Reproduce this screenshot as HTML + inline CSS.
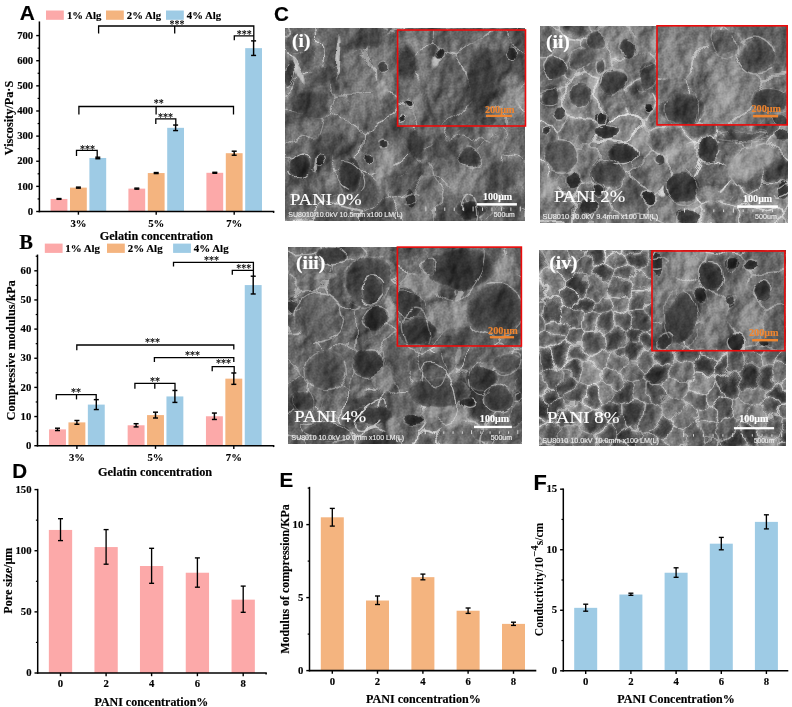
<!DOCTYPE html>
<html lang="en"><head><meta charset="utf-8"><title>Figure</title>
<style>html,body{margin:0;padding:0;background:#fff}svg{display:block}</style></head>
<body>
<svg width="792" height="707" viewBox="0 0 792 707">
<rect width="792" height="707" fill="#fff"/>
<!--DEFS-->
<rect x="50.60" y="198.94" width="16.80" height="12.56" fill="#FCA9A9"/>
<rect x="70.00" y="187.63" width="16.80" height="23.87" fill="#F4B47F"/>
<rect x="89.40" y="157.97" width="16.80" height="53.53" fill="#9ECBE5"/>
<rect x="128.40" y="188.63" width="16.80" height="22.87" fill="#FCA9A9"/>
<rect x="147.80" y="173.05" width="16.80" height="38.45" fill="#F4B47F"/>
<rect x="167.20" y="127.82" width="16.80" height="83.68" fill="#9ECBE5"/>
<rect x="206.40" y="172.80" width="16.80" height="38.70" fill="#FCA9A9"/>
<rect x="225.80" y="153.20" width="16.80" height="58.30" fill="#F4B47F"/>
<rect x="245.20" y="48.15" width="16.80" height="163.35" fill="#9ECBE5"/>
<line x1="59.00" y1="198.56" x2="59.00" y2="199.31" stroke="#000" stroke-width="1.45" stroke-linecap="butt"/>
<line x1="56.50" y1="198.56" x2="61.50" y2="198.56" stroke="#000" stroke-width="1.45" stroke-linecap="butt"/>
<line x1="56.50" y1="199.31" x2="61.50" y2="199.31" stroke="#000" stroke-width="1.45" stroke-linecap="butt"/>
<line x1="78.40" y1="187.12" x2="78.40" y2="188.13" stroke="#000" stroke-width="1.45" stroke-linecap="butt"/>
<line x1="75.90" y1="187.12" x2="80.90" y2="187.12" stroke="#000" stroke-width="1.45" stroke-linecap="butt"/>
<line x1="75.90" y1="188.13" x2="80.90" y2="188.13" stroke="#000" stroke-width="1.45" stroke-linecap="butt"/>
<line x1="97.80" y1="157.22" x2="97.80" y2="158.73" stroke="#000" stroke-width="1.45" stroke-linecap="butt"/>
<line x1="95.30" y1="157.22" x2="100.30" y2="157.22" stroke="#000" stroke-width="1.45" stroke-linecap="butt"/>
<line x1="95.30" y1="158.73" x2="100.30" y2="158.73" stroke="#000" stroke-width="1.45" stroke-linecap="butt"/>
<line x1="136.80" y1="188.13" x2="136.80" y2="189.13" stroke="#000" stroke-width="1.45" stroke-linecap="butt"/>
<line x1="134.30" y1="188.13" x2="139.30" y2="188.13" stroke="#000" stroke-width="1.45" stroke-linecap="butt"/>
<line x1="134.30" y1="189.13" x2="139.30" y2="189.13" stroke="#000" stroke-width="1.45" stroke-linecap="butt"/>
<line x1="156.20" y1="172.55" x2="156.20" y2="173.55" stroke="#000" stroke-width="1.45" stroke-linecap="butt"/>
<line x1="153.70" y1="172.55" x2="158.70" y2="172.55" stroke="#000" stroke-width="1.45" stroke-linecap="butt"/>
<line x1="153.70" y1="173.55" x2="158.70" y2="173.55" stroke="#000" stroke-width="1.45" stroke-linecap="butt"/>
<line x1="175.60" y1="125.05" x2="175.60" y2="130.58" stroke="#000" stroke-width="1.45" stroke-linecap="butt"/>
<line x1="173.10" y1="125.05" x2="178.10" y2="125.05" stroke="#000" stroke-width="1.45" stroke-linecap="butt"/>
<line x1="173.10" y1="130.58" x2="178.10" y2="130.58" stroke="#000" stroke-width="1.45" stroke-linecap="butt"/>
<line x1="214.80" y1="172.30" x2="214.80" y2="173.30" stroke="#000" stroke-width="1.45" stroke-linecap="butt"/>
<line x1="212.30" y1="172.30" x2="217.30" y2="172.30" stroke="#000" stroke-width="1.45" stroke-linecap="butt"/>
<line x1="212.30" y1="173.30" x2="217.30" y2="173.30" stroke="#000" stroke-width="1.45" stroke-linecap="butt"/>
<line x1="234.20" y1="151.19" x2="234.20" y2="155.21" stroke="#000" stroke-width="1.45" stroke-linecap="butt"/>
<line x1="231.70" y1="151.19" x2="236.70" y2="151.19" stroke="#000" stroke-width="1.45" stroke-linecap="butt"/>
<line x1="231.70" y1="155.21" x2="236.70" y2="155.21" stroke="#000" stroke-width="1.45" stroke-linecap="butt"/>
<line x1="253.60" y1="40.87" x2="253.60" y2="55.44" stroke="#000" stroke-width="1.45" stroke-linecap="butt"/>
<line x1="251.10" y1="40.87" x2="256.10" y2="40.87" stroke="#000" stroke-width="1.45" stroke-linecap="butt"/>
<line x1="251.10" y1="55.44" x2="256.10" y2="55.44" stroke="#000" stroke-width="1.45" stroke-linecap="butt"/>
<line x1="39.40" y1="21.45" x2="39.40" y2="212.25" stroke="#000" stroke-width="1.5" stroke-linecap="butt"/>
<line x1="38.65" y1="211.50" x2="274.30" y2="211.50" stroke="#000" stroke-width="1.6" stroke-linecap="butt"/>
<line x1="36.20" y1="211.50" x2="39.40" y2="211.50" stroke="#000" stroke-width="1.4" stroke-linecap="butt"/>
<text x="33.199999999999996" y="214.7" font-family='"Liberation Serif","DejaVu Serif",serif' font-size="10.7" font-weight="bold" text-anchor="end" fill="#000" stroke="#000" stroke-width="0.15">0</text>
<line x1="36.20" y1="186.37" x2="39.40" y2="186.37" stroke="#000" stroke-width="1.4" stroke-linecap="butt"/>
<text x="33.199999999999996" y="189.57" font-family='"Liberation Serif","DejaVu Serif",serif' font-size="10.7" font-weight="bold" text-anchor="end" fill="#000" stroke="#000" stroke-width="0.15">100</text>
<line x1="36.20" y1="161.24" x2="39.40" y2="161.24" stroke="#000" stroke-width="1.4" stroke-linecap="butt"/>
<text x="33.199999999999996" y="164.44" font-family='"Liberation Serif","DejaVu Serif",serif' font-size="10.7" font-weight="bold" text-anchor="end" fill="#000" stroke="#000" stroke-width="0.15">200</text>
<line x1="36.20" y1="136.11" x2="39.40" y2="136.11" stroke="#000" stroke-width="1.4" stroke-linecap="butt"/>
<text x="33.199999999999996" y="139.31" font-family='"Liberation Serif","DejaVu Serif",serif' font-size="10.7" font-weight="bold" text-anchor="end" fill="#000" stroke="#000" stroke-width="0.15">300</text>
<line x1="36.20" y1="110.98" x2="39.40" y2="110.98" stroke="#000" stroke-width="1.4" stroke-linecap="butt"/>
<text x="33.199999999999996" y="114.17999999999999" font-family='"Liberation Serif","DejaVu Serif",serif' font-size="10.7" font-weight="bold" text-anchor="end" fill="#000" stroke="#000" stroke-width="0.15">400</text>
<line x1="36.20" y1="85.85" x2="39.40" y2="85.85" stroke="#000" stroke-width="1.4" stroke-linecap="butt"/>
<text x="33.199999999999996" y="89.05" font-family='"Liberation Serif","DejaVu Serif",serif' font-size="10.7" font-weight="bold" text-anchor="end" fill="#000" stroke="#000" stroke-width="0.15">500</text>
<line x1="36.20" y1="60.72" x2="39.40" y2="60.72" stroke="#000" stroke-width="1.4" stroke-linecap="butt"/>
<text x="33.199999999999996" y="63.92" font-family='"Liberation Serif","DejaVu Serif",serif' font-size="10.7" font-weight="bold" text-anchor="end" fill="#000" stroke="#000" stroke-width="0.15">600</text>
<line x1="36.20" y1="35.59" x2="39.40" y2="35.59" stroke="#000" stroke-width="1.4" stroke-linecap="butt"/>
<text x="33.199999999999996" y="38.78999999999998" font-family='"Liberation Serif","DejaVu Serif",serif' font-size="10.7" font-weight="bold" text-anchor="end" fill="#000" stroke="#000" stroke-width="0.15">700</text>
<line x1="37.60" y1="198.94" x2="39.40" y2="198.94" stroke="#000" stroke-width="1.2" stroke-linecap="butt"/>
<line x1="37.60" y1="173.81" x2="39.40" y2="173.81" stroke="#000" stroke-width="1.2" stroke-linecap="butt"/>
<line x1="37.60" y1="148.68" x2="39.40" y2="148.68" stroke="#000" stroke-width="1.2" stroke-linecap="butt"/>
<line x1="37.60" y1="123.54" x2="39.40" y2="123.54" stroke="#000" stroke-width="1.2" stroke-linecap="butt"/>
<line x1="37.60" y1="98.41" x2="39.40" y2="98.41" stroke="#000" stroke-width="1.2" stroke-linecap="butt"/>
<line x1="37.60" y1="73.28" x2="39.40" y2="73.28" stroke="#000" stroke-width="1.2" stroke-linecap="butt"/>
<line x1="37.60" y1="48.15" x2="39.40" y2="48.15" stroke="#000" stroke-width="1.2" stroke-linecap="butt"/>
<line x1="78.40" y1="211.50" x2="78.40" y2="214.70" stroke="#000" stroke-width="1.4" stroke-linecap="butt"/>
<text x="78.4" y="226.5" font-family='"Liberation Serif","DejaVu Serif",serif' font-size="10.7" font-weight="bold" text-anchor="middle" fill="#000" stroke="#000" stroke-width="0.15">3%</text>
<line x1="156.20" y1="211.50" x2="156.20" y2="214.70" stroke="#000" stroke-width="1.4" stroke-linecap="butt"/>
<text x="156.2" y="226.5" font-family='"Liberation Serif","DejaVu Serif",serif' font-size="10.7" font-weight="bold" text-anchor="middle" fill="#000" stroke="#000" stroke-width="0.15">5%</text>
<line x1="234.20" y1="211.50" x2="234.20" y2="214.70" stroke="#000" stroke-width="1.4" stroke-linecap="butt"/>
<text x="234.2" y="226.5" font-family='"Liberation Serif","DejaVu Serif",serif' font-size="10.7" font-weight="bold" text-anchor="middle" fill="#000" stroke="#000" stroke-width="0.15">7%</text>
<line x1="273.60" y1="211.50" x2="273.60" y2="212.90" stroke="#000" stroke-width="1.4" stroke-linecap="butt"/>
<text x="19.8" y="19.8" font-family='"Liberation Sans","DejaVu Sans",sans-serif' font-size="20.9" font-weight="bold" text-anchor="start" fill="#000" stroke="#000" stroke-width="0.15">A</text>
<rect x="46.00" y="10.50" width="17.80" height="9.30" fill="#FCA9A9"/>
<text x="67.0" y="19.0" font-family='"Liberation Serif","DejaVu Serif",serif' font-size="10.7" font-weight="bold" text-anchor="start" fill="#000" stroke="#000" stroke-width="0.15" textLength="34.3" lengthAdjust="spacingAndGlyphs">1% Alg</text>
<rect x="106.00" y="10.50" width="17.80" height="9.30" fill="#F4B47F"/>
<text x="126.8" y="19.0" font-family='"Liberation Serif","DejaVu Serif",serif' font-size="10.7" font-weight="bold" text-anchor="start" fill="#000" stroke="#000" stroke-width="0.15" textLength="34.3" lengthAdjust="spacingAndGlyphs">2% Alg</text>
<rect x="166.00" y="10.50" width="17.80" height="9.30" fill="#9ECBE5"/>
<text x="186.8" y="19.0" font-family='"Liberation Serif","DejaVu Serif",serif' font-size="10.7" font-weight="bold" text-anchor="start" fill="#000" stroke="#000" stroke-width="0.15" textLength="34.3" lengthAdjust="spacingAndGlyphs">4% Alg</text>
<text x="12.799999999999999" y="118.0" font-family='"Liberation Serif","DejaVu Serif",serif' font-size="11.6" font-weight="bold" text-anchor="middle" fill="#000" stroke="#000" stroke-width="0.15" transform="rotate(-90 12.799999999999999 118.0)" textLength="74.5" lengthAdjust="spacingAndGlyphs">Viscosity/Pa·S</text>
<text x="156.4" y="240.4" font-family='"Liberation Serif","DejaVu Serif",serif' font-size="11.6" font-weight="bold" text-anchor="middle" fill="#000" stroke="#000" stroke-width="0.15" textLength="113.5" lengthAdjust="spacingAndGlyphs">Gelatin concentration</text>
<path d="M98.6,33.5 V26.0 H253.8 V40.6" stroke="#000" stroke-width="1.3" fill="none" stroke-linejoin="miter"/>
<line x1="174.70" y1="26.00" x2="174.70" y2="33.50" stroke="#000" stroke-width="1.3" stroke-linecap="butt"/>
<text x="176.9" y="28.0" font-family='"Liberation Serif","DejaVu Serif",serif' font-size="12.4" font-weight="normal" text-anchor="middle" fill="#000" stroke="#000" stroke-width="0.12" textLength="15.0" lengthAdjust="spacingAndGlyphs">***</text>
<path d="M234.3,40.2 V35.9 H253.8" stroke="#000" stroke-width="1.3" fill="none" stroke-linejoin="miter"/>
<text x="244.2" y="37.5" font-family='"Liberation Serif","DejaVu Serif",serif' font-size="12.4" font-weight="normal" text-anchor="middle" fill="#000" stroke="#000" stroke-width="0.12" textLength="15.0" lengthAdjust="spacingAndGlyphs">***</text>
<path d="M78.9,114.6 V106.5 H233.5 V114.6" stroke="#000" stroke-width="1.3" fill="none" stroke-linejoin="miter"/>
<line x1="156.10" y1="106.50" x2="156.10" y2="114.60" stroke="#000" stroke-width="1.3" stroke-linecap="butt"/>
<text x="158.7" y="107.0" font-family='"Liberation Serif","DejaVu Serif",serif' font-size="12.4" font-weight="normal" text-anchor="middle" fill="#000" stroke="#000" stroke-width="0.12" textLength="10.0" lengthAdjust="spacingAndGlyphs">**</text>
<path d="M155.8,124.0 V118.9 H175.8 V125.4" stroke="#000" stroke-width="1.3" fill="none" stroke-linejoin="miter"/>
<text x="165.6" y="121.1" font-family='"Liberation Serif","DejaVu Serif",serif' font-size="12.4" font-weight="normal" text-anchor="middle" fill="#000" stroke="#000" stroke-width="0.12" textLength="15.0" lengthAdjust="spacingAndGlyphs">***</text>
<path d="M76.5,156.0 V150.3 H97.2 V157.0" stroke="#000" stroke-width="1.3" fill="none" stroke-linejoin="miter"/>
<text x="87.5" y="152.6" font-family='"Liberation Serif","DejaVu Serif",serif' font-size="12.4" font-weight="normal" text-anchor="middle" fill="#000" stroke="#000" stroke-width="0.12" textLength="15.0" lengthAdjust="spacingAndGlyphs">***</text>
<rect x="49.05" y="429.38" width="16.90" height="16.32" fill="#FCA9A9"/>
<rect x="68.45" y="422.38" width="16.90" height="23.32" fill="#F4B47F"/>
<rect x="87.85" y="404.60" width="16.90" height="41.10" fill="#9ECBE5"/>
<rect x="127.65" y="425.29" width="16.90" height="20.41" fill="#FCA9A9"/>
<rect x="147.05" y="415.09" width="16.90" height="30.61" fill="#F4B47F"/>
<rect x="166.45" y="396.44" width="16.90" height="49.26" fill="#9ECBE5"/>
<rect x="205.95" y="416.26" width="16.90" height="29.44" fill="#FCA9A9"/>
<rect x="225.35" y="378.65" width="16.90" height="67.05" fill="#F4B47F"/>
<rect x="244.75" y="285.08" width="16.90" height="160.62" fill="#9ECBE5"/>
<line x1="57.50" y1="428.21" x2="57.50" y2="430.54" stroke="#000" stroke-width="1.45" stroke-linecap="butt"/>
<line x1="55.00" y1="428.21" x2="60.00" y2="428.21" stroke="#000" stroke-width="1.45" stroke-linecap="butt"/>
<line x1="55.00" y1="430.54" x2="60.00" y2="430.54" stroke="#000" stroke-width="1.45" stroke-linecap="butt"/>
<line x1="76.90" y1="420.49" x2="76.90" y2="424.27" stroke="#000" stroke-width="1.45" stroke-linecap="butt"/>
<line x1="74.40" y1="420.49" x2="79.40" y2="420.49" stroke="#000" stroke-width="1.45" stroke-linecap="butt"/>
<line x1="74.40" y1="424.27" x2="79.40" y2="424.27" stroke="#000" stroke-width="1.45" stroke-linecap="butt"/>
<line x1="96.30" y1="399.64" x2="96.30" y2="409.55" stroke="#000" stroke-width="1.45" stroke-linecap="butt"/>
<line x1="93.80" y1="399.64" x2="98.80" y2="399.64" stroke="#000" stroke-width="1.45" stroke-linecap="butt"/>
<line x1="93.80" y1="409.55" x2="98.80" y2="409.55" stroke="#000" stroke-width="1.45" stroke-linecap="butt"/>
<line x1="136.10" y1="423.69" x2="136.10" y2="426.90" stroke="#000" stroke-width="1.45" stroke-linecap="butt"/>
<line x1="133.60" y1="423.69" x2="138.60" y2="423.69" stroke="#000" stroke-width="1.45" stroke-linecap="butt"/>
<line x1="133.60" y1="426.90" x2="138.60" y2="426.90" stroke="#000" stroke-width="1.45" stroke-linecap="butt"/>
<line x1="155.50" y1="412.18" x2="155.50" y2="418.01" stroke="#000" stroke-width="1.45" stroke-linecap="butt"/>
<line x1="153.00" y1="412.18" x2="158.00" y2="412.18" stroke="#000" stroke-width="1.45" stroke-linecap="butt"/>
<line x1="153.00" y1="418.01" x2="158.00" y2="418.01" stroke="#000" stroke-width="1.45" stroke-linecap="butt"/>
<line x1="174.90" y1="390.46" x2="174.90" y2="402.41" stroke="#000" stroke-width="1.45" stroke-linecap="butt"/>
<line x1="172.40" y1="390.46" x2="177.40" y2="390.46" stroke="#000" stroke-width="1.45" stroke-linecap="butt"/>
<line x1="172.40" y1="402.41" x2="177.40" y2="402.41" stroke="#000" stroke-width="1.45" stroke-linecap="butt"/>
<line x1="214.40" y1="413.05" x2="214.40" y2="419.46" stroke="#000" stroke-width="1.45" stroke-linecap="butt"/>
<line x1="211.90" y1="413.05" x2="216.90" y2="413.05" stroke="#000" stroke-width="1.45" stroke-linecap="butt"/>
<line x1="211.90" y1="419.46" x2="216.90" y2="419.46" stroke="#000" stroke-width="1.45" stroke-linecap="butt"/>
<line x1="233.80" y1="372.97" x2="233.80" y2="384.34" stroke="#000" stroke-width="1.45" stroke-linecap="butt"/>
<line x1="231.30" y1="372.97" x2="236.30" y2="372.97" stroke="#000" stroke-width="1.45" stroke-linecap="butt"/>
<line x1="231.30" y1="384.34" x2="236.30" y2="384.34" stroke="#000" stroke-width="1.45" stroke-linecap="butt"/>
<line x1="253.20" y1="276.19" x2="253.20" y2="293.97" stroke="#000" stroke-width="1.45" stroke-linecap="butt"/>
<line x1="250.70" y1="276.19" x2="255.70" y2="276.19" stroke="#000" stroke-width="1.45" stroke-linecap="butt"/>
<line x1="250.70" y1="293.97" x2="255.70" y2="293.97" stroke="#000" stroke-width="1.45" stroke-linecap="butt"/>
<line x1="37.50" y1="254.55" x2="37.50" y2="446.45" stroke="#000" stroke-width="1.5" stroke-linecap="butt"/>
<line x1="36.75" y1="445.70" x2="274.30" y2="445.70" stroke="#000" stroke-width="1.6" stroke-linecap="butt"/>
<line x1="34.30" y1="445.70" x2="37.50" y2="445.70" stroke="#000" stroke-width="1.4" stroke-linecap="butt"/>
<text x="31.3" y="448.9" font-family='"Liberation Serif","DejaVu Serif",serif' font-size="10.7" font-weight="bold" text-anchor="end" fill="#000" stroke="#000" stroke-width="0.15">0</text>
<line x1="34.30" y1="416.55" x2="37.50" y2="416.55" stroke="#000" stroke-width="1.4" stroke-linecap="butt"/>
<text x="31.3" y="419.75" font-family='"Liberation Serif","DejaVu Serif",serif' font-size="10.7" font-weight="bold" text-anchor="end" fill="#000" stroke="#000" stroke-width="0.15">10</text>
<line x1="34.30" y1="387.40" x2="37.50" y2="387.40" stroke="#000" stroke-width="1.4" stroke-linecap="butt"/>
<text x="31.3" y="390.59999999999997" font-family='"Liberation Serif","DejaVu Serif",serif' font-size="10.7" font-weight="bold" text-anchor="end" fill="#000" stroke="#000" stroke-width="0.15">20</text>
<line x1="34.30" y1="358.25" x2="37.50" y2="358.25" stroke="#000" stroke-width="1.4" stroke-linecap="butt"/>
<text x="31.3" y="361.45" font-family='"Liberation Serif","DejaVu Serif",serif' font-size="10.7" font-weight="bold" text-anchor="end" fill="#000" stroke="#000" stroke-width="0.15">30</text>
<line x1="34.30" y1="329.10" x2="37.50" y2="329.10" stroke="#000" stroke-width="1.4" stroke-linecap="butt"/>
<text x="31.3" y="332.3" font-family='"Liberation Serif","DejaVu Serif",serif' font-size="10.7" font-weight="bold" text-anchor="end" fill="#000" stroke="#000" stroke-width="0.15">40</text>
<line x1="34.30" y1="299.95" x2="37.50" y2="299.95" stroke="#000" stroke-width="1.4" stroke-linecap="butt"/>
<text x="31.3" y="303.15" font-family='"Liberation Serif","DejaVu Serif",serif' font-size="10.7" font-weight="bold" text-anchor="end" fill="#000" stroke="#000" stroke-width="0.15">50</text>
<line x1="34.30" y1="270.80" x2="37.50" y2="270.80" stroke="#000" stroke-width="1.4" stroke-linecap="butt"/>
<text x="31.3" y="273.99999999999994" font-family='"Liberation Serif","DejaVu Serif",serif' font-size="10.7" font-weight="bold" text-anchor="end" fill="#000" stroke="#000" stroke-width="0.15">60</text>
<line x1="35.70" y1="431.12" x2="37.50" y2="431.12" stroke="#000" stroke-width="1.2" stroke-linecap="butt"/>
<line x1="35.70" y1="401.97" x2="37.50" y2="401.97" stroke="#000" stroke-width="1.2" stroke-linecap="butt"/>
<line x1="35.70" y1="372.82" x2="37.50" y2="372.82" stroke="#000" stroke-width="1.2" stroke-linecap="butt"/>
<line x1="35.70" y1="343.67" x2="37.50" y2="343.67" stroke="#000" stroke-width="1.2" stroke-linecap="butt"/>
<line x1="35.70" y1="314.52" x2="37.50" y2="314.52" stroke="#000" stroke-width="1.2" stroke-linecap="butt"/>
<line x1="35.70" y1="285.38" x2="37.50" y2="285.38" stroke="#000" stroke-width="1.2" stroke-linecap="butt"/>
<line x1="35.70" y1="256.23" x2="37.50" y2="256.23" stroke="#000" stroke-width="1.2" stroke-linecap="butt"/>
<line x1="76.90" y1="445.70" x2="76.90" y2="448.90" stroke="#000" stroke-width="1.4" stroke-linecap="butt"/>
<text x="76.9" y="460.5" font-family='"Liberation Serif","DejaVu Serif",serif' font-size="10.7" font-weight="bold" text-anchor="middle" fill="#000" stroke="#000" stroke-width="0.15">3%</text>
<line x1="155.50" y1="445.70" x2="155.50" y2="448.90" stroke="#000" stroke-width="1.4" stroke-linecap="butt"/>
<text x="155.5" y="460.5" font-family='"Liberation Serif","DejaVu Serif",serif' font-size="10.7" font-weight="bold" text-anchor="middle" fill="#000" stroke="#000" stroke-width="0.15">5%</text>
<line x1="233.80" y1="445.70" x2="233.80" y2="448.90" stroke="#000" stroke-width="1.4" stroke-linecap="butt"/>
<text x="233.8" y="460.5" font-family='"Liberation Serif","DejaVu Serif",serif' font-size="10.7" font-weight="bold" text-anchor="middle" fill="#000" stroke="#000" stroke-width="0.15">7%</text>
<line x1="273.60" y1="445.70" x2="273.60" y2="447.10" stroke="#000" stroke-width="1.4" stroke-linecap="butt"/>
<text x="19.2" y="249.3" font-family='"Liberation Serif","DejaVu Serif",serif' font-size="20.5" font-weight="bold" text-anchor="start" fill="#000" stroke="#000" stroke-width="0.15">B</text>
<rect x="44.80" y="243.60" width="17.80" height="9.30" fill="#FCA9A9"/>
<text x="65.2" y="251.8" font-family='"Liberation Serif","DejaVu Serif",serif' font-size="10.7" font-weight="bold" text-anchor="start" fill="#000" stroke="#000" stroke-width="0.15" textLength="34.8" lengthAdjust="spacingAndGlyphs">1% Alg</text>
<rect x="107.00" y="243.60" width="17.80" height="9.30" fill="#F4B47F"/>
<text x="127.8" y="251.8" font-family='"Liberation Serif","DejaVu Serif",serif' font-size="10.7" font-weight="bold" text-anchor="start" fill="#000" stroke="#000" stroke-width="0.15" textLength="34.8" lengthAdjust="spacingAndGlyphs">2% Alg</text>
<rect x="173.10" y="243.60" width="17.80" height="9.30" fill="#9ECBE5"/>
<text x="193.8" y="251.8" font-family='"Liberation Serif","DejaVu Serif",serif' font-size="10.7" font-weight="bold" text-anchor="start" fill="#000" stroke="#000" stroke-width="0.15" textLength="34.8" lengthAdjust="spacingAndGlyphs">4% Alg</text>
<text x="14.7" y="350.4" font-family='"Liberation Serif","DejaVu Serif",serif' font-size="11.6" font-weight="bold" text-anchor="middle" fill="#000" stroke="#000" stroke-width="0.15" transform="rotate(-90 14.7 350.4)" textLength="140" lengthAdjust="spacingAndGlyphs">Compressive modulus/kPa</text>
<text x="155.1" y="476.1" font-family='"Liberation Serif","DejaVu Serif",serif' font-size="11.6" font-weight="bold" text-anchor="middle" fill="#000" stroke="#000" stroke-width="0.15" textLength="114.2" lengthAdjust="spacingAndGlyphs">Gelatin concentration</text>
<path d="M173.5,266.4 V262.3 H253.4 V276.0" stroke="#000" stroke-width="1.3" fill="none" stroke-linejoin="miter"/>
<text x="211.6" y="263.8" font-family='"Liberation Serif","DejaVu Serif",serif' font-size="12.4" font-weight="normal" text-anchor="middle" fill="#000" stroke="#000" stroke-width="0.12" textLength="15.0" lengthAdjust="spacingAndGlyphs">***</text>
<path d="M232.3,274.8 V270.4 H253.4" stroke="#000" stroke-width="1.3" fill="none" stroke-linejoin="miter"/>
<text x="243.8" y="271.7" font-family='"Liberation Serif","DejaVu Serif",serif' font-size="12.4" font-weight="normal" text-anchor="middle" fill="#000" stroke="#000" stroke-width="0.12" textLength="15.0" lengthAdjust="spacingAndGlyphs">***</text>
<path d="M76.8,350.3 V345.0 H233.8 V349.6" stroke="#000" stroke-width="1.3" fill="none" stroke-linejoin="miter"/>
<text x="152.4" y="346.0" font-family='"Liberation Serif","DejaVu Serif",serif' font-size="12.4" font-weight="normal" text-anchor="middle" fill="#000" stroke="#000" stroke-width="0.12" textLength="15.0" lengthAdjust="spacingAndGlyphs">***</text>
<path d="M154.4,362.0 V357.7 H233.8 V362.0" stroke="#000" stroke-width="1.3" fill="none" stroke-linejoin="miter"/>
<text x="192.5" y="359.1" font-family='"Liberation Serif","DejaVu Serif",serif' font-size="12.4" font-weight="normal" text-anchor="middle" fill="#000" stroke="#000" stroke-width="0.12" textLength="15.0" lengthAdjust="spacingAndGlyphs">***</text>
<path d="M212.2,371.3 V366.6 H234.2 V372.8" stroke="#000" stroke-width="1.3" fill="none" stroke-linejoin="miter"/>
<text x="223.6" y="367.3" font-family='"Liberation Serif","DejaVu Serif",serif' font-size="12.4" font-weight="normal" text-anchor="middle" fill="#000" stroke="#000" stroke-width="0.12" textLength="15.0" lengthAdjust="spacingAndGlyphs">***</text>
<path d="M134.9,388.7 V383.3 H175.0 V390.2" stroke="#000" stroke-width="1.3" fill="none" stroke-linejoin="miter"/>
<line x1="154.80" y1="383.30" x2="154.80" y2="388.70" stroke="#000" stroke-width="1.3" stroke-linecap="butt"/>
<text x="155.0" y="384.6" font-family='"Liberation Serif","DejaVu Serif",serif' font-size="12.4" font-weight="normal" text-anchor="middle" fill="#000" stroke="#000" stroke-width="0.12" textLength="10.0" lengthAdjust="spacingAndGlyphs">**</text>
<path d="M56.3,399.4 V394.7 H96.2 V399.6" stroke="#000" stroke-width="1.3" fill="none" stroke-linejoin="miter"/>
<line x1="76.50" y1="394.70" x2="76.50" y2="399.40" stroke="#000" stroke-width="1.3" stroke-linecap="butt"/>
<text x="76.1" y="395.7" font-family='"Liberation Serif","DejaVu Serif",serif' font-size="12.4" font-weight="normal" text-anchor="middle" fill="#000" stroke="#000" stroke-width="0.12" textLength="10.0" lengthAdjust="spacingAndGlyphs">**</text>
<rect x="48.85" y="529.94" width="23.30" height="143.06" fill="#FCA9A9"/>
<rect x="94.45" y="547.06" width="23.30" height="125.94" fill="#FCA9A9"/>
<rect x="139.95" y="566.01" width="23.30" height="106.99" fill="#FCA9A9"/>
<rect x="185.75" y="572.74" width="23.30" height="100.26" fill="#FCA9A9"/>
<rect x="231.55" y="599.64" width="23.30" height="73.36" fill="#FCA9A9"/>
<line x1="60.50" y1="518.70" x2="60.50" y2="540.60" stroke="#000" stroke-width="1.35" stroke-linecap="butt"/>
<line x1="58.00" y1="518.70" x2="63.00" y2="518.70" stroke="#000" stroke-width="1.35" stroke-linecap="butt"/>
<line x1="58.00" y1="540.60" x2="63.00" y2="540.60" stroke="#000" stroke-width="1.35" stroke-linecap="butt"/>
<line x1="106.10" y1="529.60" x2="106.10" y2="564.20" stroke="#000" stroke-width="1.35" stroke-linecap="butt"/>
<line x1="103.60" y1="529.60" x2="108.60" y2="529.60" stroke="#000" stroke-width="1.35" stroke-linecap="butt"/>
<line x1="103.60" y1="564.20" x2="108.60" y2="564.20" stroke="#000" stroke-width="1.35" stroke-linecap="butt"/>
<line x1="151.60" y1="548.30" x2="151.60" y2="583.30" stroke="#000" stroke-width="1.35" stroke-linecap="butt"/>
<line x1="149.10" y1="548.30" x2="154.10" y2="548.30" stroke="#000" stroke-width="1.35" stroke-linecap="butt"/>
<line x1="149.10" y1="583.30" x2="154.10" y2="583.30" stroke="#000" stroke-width="1.35" stroke-linecap="butt"/>
<line x1="197.40" y1="557.90" x2="197.40" y2="587.20" stroke="#000" stroke-width="1.35" stroke-linecap="butt"/>
<line x1="194.90" y1="557.90" x2="199.90" y2="557.90" stroke="#000" stroke-width="1.35" stroke-linecap="butt"/>
<line x1="194.90" y1="587.20" x2="199.90" y2="587.20" stroke="#000" stroke-width="1.35" stroke-linecap="butt"/>
<line x1="243.20" y1="586.10" x2="243.20" y2="612.30" stroke="#000" stroke-width="1.35" stroke-linecap="butt"/>
<line x1="240.70" y1="586.10" x2="245.70" y2="586.10" stroke="#000" stroke-width="1.35" stroke-linecap="butt"/>
<line x1="240.70" y1="612.30" x2="245.70" y2="612.30" stroke="#000" stroke-width="1.35" stroke-linecap="butt"/>
<line x1="37.70" y1="488.85" x2="37.70" y2="673.75" stroke="#000" stroke-width="1.5" stroke-linecap="butt"/>
<line x1="36.95" y1="673.00" x2="266.80" y2="673.00" stroke="#000" stroke-width="1.6" stroke-linecap="butt"/>
<line x1="34.50" y1="673.00" x2="37.70" y2="673.00" stroke="#000" stroke-width="1.4" stroke-linecap="butt"/>
<text x="31.500000000000004" y="676.2" font-family='"Liberation Serif","DejaVu Serif",serif' font-size="10.7" font-weight="bold" text-anchor="end" fill="#000" stroke="#000" stroke-width="0.15">0</text>
<line x1="34.50" y1="611.87" x2="37.70" y2="611.87" stroke="#000" stroke-width="1.4" stroke-linecap="butt"/>
<text x="31.500000000000004" y="615.065" font-family='"Liberation Serif","DejaVu Serif",serif' font-size="10.7" font-weight="bold" text-anchor="end" fill="#000" stroke="#000" stroke-width="0.15">50</text>
<line x1="34.50" y1="550.73" x2="37.70" y2="550.73" stroke="#000" stroke-width="1.4" stroke-linecap="butt"/>
<text x="31.500000000000004" y="553.9300000000001" font-family='"Liberation Serif","DejaVu Serif",serif' font-size="10.7" font-weight="bold" text-anchor="end" fill="#000" stroke="#000" stroke-width="0.15">100</text>
<line x1="34.50" y1="489.60" x2="37.70" y2="489.60" stroke="#000" stroke-width="1.4" stroke-linecap="butt"/>
<text x="31.500000000000004" y="492.795" font-family='"Liberation Serif","DejaVu Serif",serif' font-size="10.7" font-weight="bold" text-anchor="end" fill="#000" stroke="#000" stroke-width="0.15">150</text>
<line x1="35.90" y1="642.43" x2="37.70" y2="642.43" stroke="#000" stroke-width="1.2" stroke-linecap="butt"/>
<line x1="35.90" y1="581.30" x2="37.70" y2="581.30" stroke="#000" stroke-width="1.2" stroke-linecap="butt"/>
<line x1="35.90" y1="520.16" x2="37.70" y2="520.16" stroke="#000" stroke-width="1.2" stroke-linecap="butt"/>
<line x1="60.50" y1="673.00" x2="60.50" y2="676.20" stroke="#000" stroke-width="1.4" stroke-linecap="butt"/>
<text x="60.5" y="686.9" font-family='"Liberation Serif","DejaVu Serif",serif' font-size="10.7" font-weight="bold" text-anchor="middle" fill="#000" stroke="#000" stroke-width="0.15">0</text>
<line x1="106.10" y1="673.00" x2="106.10" y2="676.20" stroke="#000" stroke-width="1.4" stroke-linecap="butt"/>
<text x="106.1" y="686.9" font-family='"Liberation Serif","DejaVu Serif",serif' font-size="10.7" font-weight="bold" text-anchor="middle" fill="#000" stroke="#000" stroke-width="0.15">2</text>
<line x1="151.60" y1="673.00" x2="151.60" y2="676.20" stroke="#000" stroke-width="1.4" stroke-linecap="butt"/>
<text x="151.6" y="686.9" font-family='"Liberation Serif","DejaVu Serif",serif' font-size="10.7" font-weight="bold" text-anchor="middle" fill="#000" stroke="#000" stroke-width="0.15">4</text>
<line x1="197.40" y1="673.00" x2="197.40" y2="676.20" stroke="#000" stroke-width="1.4" stroke-linecap="butt"/>
<text x="197.4" y="686.9" font-family='"Liberation Serif","DejaVu Serif",serif' font-size="10.7" font-weight="bold" text-anchor="middle" fill="#000" stroke="#000" stroke-width="0.15">6</text>
<line x1="243.20" y1="673.00" x2="243.20" y2="676.20" stroke="#000" stroke-width="1.4" stroke-linecap="butt"/>
<text x="243.2" y="686.9" font-family='"Liberation Serif","DejaVu Serif",serif' font-size="10.7" font-weight="bold" text-anchor="middle" fill="#000" stroke="#000" stroke-width="0.15">8</text>
<line x1="266.10" y1="673.00" x2="266.10" y2="674.40" stroke="#000" stroke-width="1.4" stroke-linecap="butt"/>
<text x="12.2" y="478.3" font-family='"Liberation Sans","DejaVu Sans",sans-serif' font-size="20.6" font-weight="bold" text-anchor="start" fill="#000" stroke="#000" stroke-width="0.15">D</text>
<text x="151.4" y="705.8" font-family='"Liberation Serif","DejaVu Serif",serif' font-size="11.6" font-weight="bold" text-anchor="middle" fill="#000" stroke="#000" stroke-width="0.15" textLength="113.8" lengthAdjust="spacingAndGlyphs">PANI concentration%</text>
<text x="11.8" y="580.7" font-family='"Liberation Serif","DejaVu Serif",serif' font-size="11.6" font-weight="bold" text-anchor="middle" fill="#000" stroke="#000" stroke-width="0.15" transform="rotate(-90 11.8 580.7)" textLength="66" lengthAdjust="spacingAndGlyphs">Pore size/μm</text>
<rect x="320.80" y="517.30" width="23.00" height="153.30" fill="#F4B47F"/>
<rect x="366.00" y="600.52" width="23.00" height="70.08" fill="#F4B47F"/>
<rect x="411.40" y="577.16" width="23.00" height="93.44" fill="#F4B47F"/>
<rect x="456.60" y="610.74" width="23.00" height="59.86" fill="#F4B47F"/>
<rect x="502.00" y="623.88" width="23.00" height="46.72" fill="#F4B47F"/>
<line x1="332.30" y1="508.40" x2="332.30" y2="526.10" stroke="#000" stroke-width="1.35" stroke-linecap="butt"/>
<line x1="329.80" y1="508.40" x2="334.80" y2="508.40" stroke="#000" stroke-width="1.35" stroke-linecap="butt"/>
<line x1="329.80" y1="526.10" x2="334.80" y2="526.10" stroke="#000" stroke-width="1.35" stroke-linecap="butt"/>
<line x1="377.50" y1="596.00" x2="377.50" y2="604.50" stroke="#000" stroke-width="1.35" stroke-linecap="butt"/>
<line x1="375.00" y1="596.00" x2="380.00" y2="596.00" stroke="#000" stroke-width="1.35" stroke-linecap="butt"/>
<line x1="375.00" y1="604.50" x2="380.00" y2="604.50" stroke="#000" stroke-width="1.35" stroke-linecap="butt"/>
<line x1="422.90" y1="574.10" x2="422.90" y2="579.80" stroke="#000" stroke-width="1.35" stroke-linecap="butt"/>
<line x1="420.40" y1="574.10" x2="425.40" y2="574.10" stroke="#000" stroke-width="1.35" stroke-linecap="butt"/>
<line x1="420.40" y1="579.80" x2="425.40" y2="579.80" stroke="#000" stroke-width="1.35" stroke-linecap="butt"/>
<line x1="468.10" y1="608.00" x2="468.10" y2="613.40" stroke="#000" stroke-width="1.35" stroke-linecap="butt"/>
<line x1="465.60" y1="608.00" x2="470.60" y2="608.00" stroke="#000" stroke-width="1.35" stroke-linecap="butt"/>
<line x1="465.60" y1="613.40" x2="470.60" y2="613.40" stroke="#000" stroke-width="1.35" stroke-linecap="butt"/>
<line x1="513.50" y1="622.20" x2="513.50" y2="625.40" stroke="#000" stroke-width="1.35" stroke-linecap="butt"/>
<line x1="511.00" y1="622.20" x2="516.00" y2="622.20" stroke="#000" stroke-width="1.35" stroke-linecap="butt"/>
<line x1="511.00" y1="625.40" x2="516.00" y2="625.40" stroke="#000" stroke-width="1.35" stroke-linecap="butt"/>
<line x1="309.50" y1="486.85" x2="309.50" y2="671.35" stroke="#000" stroke-width="1.5" stroke-linecap="butt"/>
<line x1="308.75" y1="670.60" x2="536.30" y2="670.60" stroke="#000" stroke-width="1.6" stroke-linecap="butt"/>
<line x1="306.30" y1="670.60" x2="309.50" y2="670.60" stroke="#000" stroke-width="1.4" stroke-linecap="butt"/>
<text x="303.3" y="673.8000000000001" font-family='"Liberation Serif","DejaVu Serif",serif' font-size="10.7" font-weight="bold" text-anchor="end" fill="#000" stroke="#000" stroke-width="0.15">0</text>
<line x1="306.30" y1="597.60" x2="309.50" y2="597.60" stroke="#000" stroke-width="1.4" stroke-linecap="butt"/>
<text x="303.3" y="600.8000000000001" font-family='"Liberation Serif","DejaVu Serif",serif' font-size="10.7" font-weight="bold" text-anchor="end" fill="#000" stroke="#000" stroke-width="0.15">5</text>
<line x1="306.30" y1="524.60" x2="309.50" y2="524.60" stroke="#000" stroke-width="1.4" stroke-linecap="butt"/>
<text x="303.3" y="527.8000000000001" font-family='"Liberation Serif","DejaVu Serif",serif' font-size="10.7" font-weight="bold" text-anchor="end" fill="#000" stroke="#000" stroke-width="0.15">10</text>
<line x1="307.70" y1="634.10" x2="309.50" y2="634.10" stroke="#000" stroke-width="1.2" stroke-linecap="butt"/>
<line x1="307.70" y1="561.10" x2="309.50" y2="561.10" stroke="#000" stroke-width="1.2" stroke-linecap="butt"/>
<line x1="307.70" y1="488.10" x2="309.50" y2="488.10" stroke="#000" stroke-width="1.2" stroke-linecap="butt"/>
<line x1="332.30" y1="670.60" x2="332.30" y2="673.80" stroke="#000" stroke-width="1.4" stroke-linecap="butt"/>
<text x="332.3" y="684.8" font-family='"Liberation Serif","DejaVu Serif",serif' font-size="10.7" font-weight="bold" text-anchor="middle" fill="#000" stroke="#000" stroke-width="0.15">0</text>
<line x1="377.50" y1="670.60" x2="377.50" y2="673.80" stroke="#000" stroke-width="1.4" stroke-linecap="butt"/>
<text x="377.5" y="684.8" font-family='"Liberation Serif","DejaVu Serif",serif' font-size="10.7" font-weight="bold" text-anchor="middle" fill="#000" stroke="#000" stroke-width="0.15">2</text>
<line x1="422.90" y1="670.60" x2="422.90" y2="673.80" stroke="#000" stroke-width="1.4" stroke-linecap="butt"/>
<text x="422.9" y="684.8" font-family='"Liberation Serif","DejaVu Serif",serif' font-size="10.7" font-weight="bold" text-anchor="middle" fill="#000" stroke="#000" stroke-width="0.15">4</text>
<line x1="468.10" y1="670.60" x2="468.10" y2="673.80" stroke="#000" stroke-width="1.4" stroke-linecap="butt"/>
<text x="468.1" y="684.8" font-family='"Liberation Serif","DejaVu Serif",serif' font-size="10.7" font-weight="bold" text-anchor="middle" fill="#000" stroke="#000" stroke-width="0.15">6</text>
<line x1="513.50" y1="670.60" x2="513.50" y2="673.80" stroke="#000" stroke-width="1.4" stroke-linecap="butt"/>
<text x="513.5" y="684.8" font-family='"Liberation Serif","DejaVu Serif",serif' font-size="10.7" font-weight="bold" text-anchor="middle" fill="#000" stroke="#000" stroke-width="0.15">8</text>
<text x="279.6" y="487.3" font-family='"Liberation Sans","DejaVu Sans",sans-serif' font-size="20.6" font-weight="bold" text-anchor="start" fill="#000" stroke="#000" stroke-width="0.15">E</text>
<text x="423.4" y="703.3" font-family='"Liberation Serif","DejaVu Serif",serif' font-size="11.6" font-weight="bold" text-anchor="middle" fill="#000" stroke="#000" stroke-width="0.15" textLength="114.8" lengthAdjust="spacingAndGlyphs">PANI concentration%</text>
<text x="288.5" y="579" font-family='"Liberation Serif","DejaVu Serif",serif' font-size="11.6" font-weight="bold" text-anchor="middle" fill="#000" stroke="#000" stroke-width="0.15" transform="rotate(-90 288.5 579)" textLength="149.4" lengthAdjust="spacingAndGlyphs">Modulus of compression/KPa</text>
<rect x="574.20" y="607.84" width="23.00" height="62.96" fill="#9ECBE5"/>
<rect x="619.40" y="594.53" width="23.00" height="76.27" fill="#9ECBE5"/>
<rect x="664.60" y="572.73" width="23.00" height="98.07" fill="#9ECBE5"/>
<rect x="709.80" y="543.68" width="23.00" height="127.12" fill="#9ECBE5"/>
<rect x="754.90" y="521.88" width="23.00" height="148.92" fill="#9ECBE5"/>
<line x1="585.70" y1="604.20" x2="585.70" y2="611.20" stroke="#000" stroke-width="1.35" stroke-linecap="butt"/>
<line x1="583.20" y1="604.20" x2="588.20" y2="604.20" stroke="#000" stroke-width="1.35" stroke-linecap="butt"/>
<line x1="583.20" y1="611.20" x2="588.20" y2="611.20" stroke="#000" stroke-width="1.35" stroke-linecap="butt"/>
<line x1="630.90" y1="593.20" x2="630.90" y2="595.30" stroke="#000" stroke-width="1.35" stroke-linecap="butt"/>
<line x1="628.40" y1="593.20" x2="633.40" y2="593.20" stroke="#000" stroke-width="1.35" stroke-linecap="butt"/>
<line x1="628.40" y1="595.30" x2="633.40" y2="595.30" stroke="#000" stroke-width="1.35" stroke-linecap="butt"/>
<line x1="676.10" y1="567.80" x2="676.10" y2="577.30" stroke="#000" stroke-width="1.35" stroke-linecap="butt"/>
<line x1="673.60" y1="567.80" x2="678.60" y2="567.80" stroke="#000" stroke-width="1.35" stroke-linecap="butt"/>
<line x1="673.60" y1="577.30" x2="678.60" y2="577.30" stroke="#000" stroke-width="1.35" stroke-linecap="butt"/>
<line x1="721.30" y1="537.40" x2="721.30" y2="549.80" stroke="#000" stroke-width="1.35" stroke-linecap="butt"/>
<line x1="718.80" y1="537.40" x2="723.80" y2="537.40" stroke="#000" stroke-width="1.35" stroke-linecap="butt"/>
<line x1="718.80" y1="549.80" x2="723.80" y2="549.80" stroke="#000" stroke-width="1.35" stroke-linecap="butt"/>
<line x1="766.40" y1="514.80" x2="766.40" y2="528.90" stroke="#000" stroke-width="1.35" stroke-linecap="butt"/>
<line x1="763.90" y1="514.80" x2="768.90" y2="514.80" stroke="#000" stroke-width="1.35" stroke-linecap="butt"/>
<line x1="763.90" y1="528.90" x2="768.90" y2="528.90" stroke="#000" stroke-width="1.35" stroke-linecap="butt"/>
<line x1="563.30" y1="488.45" x2="563.30" y2="671.55" stroke="#000" stroke-width="1.5" stroke-linecap="butt"/>
<line x1="562.55" y1="670.80" x2="788.30" y2="670.80" stroke="#000" stroke-width="1.6" stroke-linecap="butt"/>
<line x1="560.10" y1="670.80" x2="563.30" y2="670.80" stroke="#000" stroke-width="1.4" stroke-linecap="butt"/>
<text x="557.0999999999999" y="674.0" font-family='"Liberation Serif","DejaVu Serif",serif' font-size="10.7" font-weight="bold" text-anchor="end" fill="#000" stroke="#000" stroke-width="0.15">0</text>
<line x1="560.10" y1="610.26" x2="563.30" y2="610.26" stroke="#000" stroke-width="1.4" stroke-linecap="butt"/>
<text x="557.0999999999999" y="613.465" font-family='"Liberation Serif","DejaVu Serif",serif' font-size="10.7" font-weight="bold" text-anchor="end" fill="#000" stroke="#000" stroke-width="0.15">5</text>
<line x1="560.10" y1="549.73" x2="563.30" y2="549.73" stroke="#000" stroke-width="1.4" stroke-linecap="butt"/>
<text x="557.0999999999999" y="552.9300000000001" font-family='"Liberation Serif","DejaVu Serif",serif' font-size="10.7" font-weight="bold" text-anchor="end" fill="#000" stroke="#000" stroke-width="0.15">10</text>
<line x1="560.10" y1="489.19" x2="563.30" y2="489.19" stroke="#000" stroke-width="1.4" stroke-linecap="butt"/>
<text x="557.0999999999999" y="492.3949999999999" font-family='"Liberation Serif","DejaVu Serif",serif' font-size="10.7" font-weight="bold" text-anchor="end" fill="#000" stroke="#000" stroke-width="0.15">15</text>
<line x1="561.50" y1="640.53" x2="563.30" y2="640.53" stroke="#000" stroke-width="1.2" stroke-linecap="butt"/>
<line x1="561.50" y1="580.00" x2="563.30" y2="580.00" stroke="#000" stroke-width="1.2" stroke-linecap="butt"/>
<line x1="561.50" y1="519.46" x2="563.30" y2="519.46" stroke="#000" stroke-width="1.2" stroke-linecap="butt"/>
<line x1="585.70" y1="670.80" x2="585.70" y2="674.00" stroke="#000" stroke-width="1.4" stroke-linecap="butt"/>
<text x="585.7" y="684.8" font-family='"Liberation Serif","DejaVu Serif",serif' font-size="10.7" font-weight="bold" text-anchor="middle" fill="#000" stroke="#000" stroke-width="0.15">0</text>
<line x1="630.90" y1="670.80" x2="630.90" y2="674.00" stroke="#000" stroke-width="1.4" stroke-linecap="butt"/>
<text x="630.9" y="684.8" font-family='"Liberation Serif","DejaVu Serif",serif' font-size="10.7" font-weight="bold" text-anchor="middle" fill="#000" stroke="#000" stroke-width="0.15">2</text>
<line x1="676.10" y1="670.80" x2="676.10" y2="674.00" stroke="#000" stroke-width="1.4" stroke-linecap="butt"/>
<text x="676.1" y="684.8" font-family='"Liberation Serif","DejaVu Serif",serif' font-size="10.7" font-weight="bold" text-anchor="middle" fill="#000" stroke="#000" stroke-width="0.15">4</text>
<line x1="721.30" y1="670.80" x2="721.30" y2="674.00" stroke="#000" stroke-width="1.4" stroke-linecap="butt"/>
<text x="721.3" y="684.8" font-family='"Liberation Serif","DejaVu Serif",serif' font-size="10.7" font-weight="bold" text-anchor="middle" fill="#000" stroke="#000" stroke-width="0.15">6</text>
<line x1="766.40" y1="670.80" x2="766.40" y2="674.00" stroke="#000" stroke-width="1.4" stroke-linecap="butt"/>
<text x="766.4" y="684.8" font-family='"Liberation Serif","DejaVu Serif",serif' font-size="10.7" font-weight="bold" text-anchor="middle" fill="#000" stroke="#000" stroke-width="0.15">8</text>
<text x="533.6" y="489.7" font-family='"Liberation Sans","DejaVu Sans",sans-serif' font-size="21.8" font-weight="bold" text-anchor="start" fill="#000" stroke="#000" stroke-width="0.15">F</text>
<text x="676.0" y="703.3" font-family='"Liberation Serif","DejaVu Serif",serif' font-size="11.6" font-weight="bold" text-anchor="middle" fill="#000" stroke="#000" stroke-width="0.15" textLength="117.3" lengthAdjust="spacingAndGlyphs">PANI Concentration%</text>
<text x="543" y="579.5" font-family='"Liberation Serif","DejaVu Serif",serif' font-size="11.6" font-weight="bold" text-anchor="middle" textLength="113.5" lengthAdjust="spacingAndGlyphs" transform="rotate(-90 543 579.5)">Conductivity/10<tspan dy="-4.8" font-size="10.8">−4</tspan><tspan dy="4.8">s/cm</tspan></text>
<text x="274.0" y="21.0" font-family='"Liberation Sans","DejaVu Sans",sans-serif' font-size="20.6" font-weight="bold" text-anchor="start" fill="#000" stroke="#000" stroke-width="0.15">C</text>
<g id="sem-i">
<defs><clipPath id="imc"><rect x="285.7" y="28.2" width="239.3" height="192.4"/></clipPath>
<radialGradient id="img0" cx="0.5" cy="0.5" r="0.62" fx="0.42" fy="0.58"><stop offset="0" stop-color="#323232"/><stop offset="0.45" stop-color="#3a3a3a"/><stop offset="0.8" stop-color="#5e5e5e"/><stop offset="1" stop-color="#707070"/></radialGradient><radialGradient id="img1" cx="0.5" cy="0.5" r="0.62" fx="0.6" fy="0.45"><stop offset="0" stop-color="#323232"/><stop offset="0.45" stop-color="#3a3a3a"/><stop offset="0.8" stop-color="#5e5e5e"/><stop offset="1" stop-color="#707070"/></radialGradient><radialGradient id="img2" cx="0.5" cy="0.5" r="0.62" fx="0.42" fy="0.58"><stop offset="0" stop-color="#3a3a3a"/><stop offset="0.45" stop-color="#424242"/><stop offset="0.8" stop-color="#5e5e5e"/><stop offset="1" stop-color="#707070"/></radialGradient><radialGradient id="img3" cx="0.5" cy="0.5" r="0.62" fx="0.6" fy="0.45"><stop offset="0" stop-color="#3a3a3a"/><stop offset="0.45" stop-color="#424242"/><stop offset="0.8" stop-color="#5e5e5e"/><stop offset="1" stop-color="#707070"/></radialGradient><radialGradient id="img4" cx="0.5" cy="0.5" r="0.62" fx="0.42" fy="0.58"><stop offset="0" stop-color="#424242"/><stop offset="0.45" stop-color="#4a4a4a"/><stop offset="0.8" stop-color="#5e5e5e"/><stop offset="1" stop-color="#707070"/></radialGradient><radialGradient id="img5" cx="0.5" cy="0.5" r="0.62" fx="0.6" fy="0.45"><stop offset="0" stop-color="#424242"/><stop offset="0.45" stop-color="#4a4a4a"/><stop offset="0.8" stop-color="#5e5e5e"/><stop offset="1" stop-color="#707070"/></radialGradient><radialGradient id="img6" cx="0.5" cy="0.5" r="0.62" fx="0.42" fy="0.58"><stop offset="0" stop-color="#4b4b4b"/><stop offset="0.45" stop-color="#535353"/><stop offset="0.8" stop-color="#5e5e5e"/><stop offset="1" stop-color="#707070"/></radialGradient><radialGradient id="img7" cx="0.5" cy="0.5" r="0.62" fx="0.6" fy="0.45"><stop offset="0" stop-color="#4b4b4b"/><stop offset="0.45" stop-color="#535353"/><stop offset="0.8" stop-color="#5e5e5e"/><stop offset="1" stop-color="#707070"/></radialGradient>
<filter id="imb" filterUnits="userSpaceOnUse" x="226" y="-32" width="359" height="312"><feGaussianBlur stdDeviation="2.4"/></filter>
<filter id="imA" filterUnits="userSpaceOnUse" x="226" y="-32" width="359" height="312" color-interpolation-filters="sRGB"><feTurbulence type="fractalNoise" baseFrequency="0.022" numOctaves="3" seed="11" result="n"/><feDisplacementMap in="SourceGraphic" in2="n" scale="40" xChannelSelector="R" yChannelSelector="G" result="d"/><feGaussianBlur in="d" stdDeviation="0.75"/></filter>
<filter id="imB" filterUnits="userSpaceOnUse" x="226" y="-32" width="359" height="312" color-interpolation-filters="sRGB"><feTurbulence type="fractalNoise" baseFrequency="0.05" numOctaves="2" seed="18" result="n"/><feDisplacementMap in="SourceGraphic" in2="n" scale="9" xChannelSelector="R" yChannelSelector="G" result="d"/><feGaussianBlur in="d" stdDeviation="0.7"/></filter>
<filter id="imP" filterUnits="userSpaceOnUse" x="226" y="-32" width="359" height="312" color-interpolation-filters="sRGB"><feTurbulence type="fractalNoise" baseFrequency="0.022" numOctaves="4" seed="101" result="m"/><feColorMatrix in="m" type="matrix" values="0 0 0 0 0  0 0 0 0 0  0 0 0 0 0  1 0 0 0 0" result="ma"/><feDiffuseLighting in="ma" surfaceScale="4" diffuseConstant="1" lighting-color="#fff" result="lit"><feDistantLight azimuth="200" elevation="42"/></feDiffuseLighting><feColorMatrix in="lit" type="matrix" values="1.0 0 0 0 -0.17  1.0 0 0 0 -0.17  1.0 0 0 0 -0.17  0 0 0 0 1" result="m2"/><feBlend in="m2" in2="SourceGraphic" mode="overlay" result="bm"/><feTurbulence type="fractalNoise" baseFrequency="0.5" numOctaves="2" seed="61" result="g"/><feColorMatrix in="g" type="matrix" values="0.18 0 0 0 0.410  0.18 0 0 0 0.410  0.18 0 0 0 0.410  0 0 0 0 1" result="g2"/><feBlend in="g2" in2="bm" mode="overlay"/></filter></defs>
<g clip-path="url(#imc)">
<rect x="285.7" y="28.2" width="239.3" height="192.4" fill="#626262"/>
<g filter="url(#imP)">
<rect x="225.7" y="-31.8" width="359.3" height="312.4" fill="#626262"/>
<g filter="url(#imA)">
<path d="M365.5,135.0 L393.6,110.3 L423.3,143.1 L378.9,166.9 L364.2,153.2Z" fill="#5b5b5b"/>
<path d="M635.1,116.7 L552.7,87.4 L521.9,108.2 L519.0,116.4 L559.0,142.7Z" fill="#5c5c5c"/>
<path d="M318.2,138.0 L284.7,151.8 L268.0,133.4 L275.9,103.8 L323.6,116.1Z" fill="#696969"/>
<path d="M436.3,181.8 L430.3,227.1 L468.3,232.4 L483.6,219.2 L459.3,185.4Z" fill="#5c5c5c"/>
<path d="M291.6,72.6 L274.8,42.3 L262.7,39.1 L229.2,77.8 L274.1,98.6Z" fill="#656565"/>
<path d="M271.9,188.0 L296.7,224.9 L277.9,241.3 L267.1,242.0 L239.9,219.2 L265.5,188.7Z" fill="#5c5c5c"/>
<path d="M426.0,144.0 L435.8,181.3 L436.3,181.8 L459.3,185.4 L490.1,151.7 L444.5,131.9Z" fill="#676767"/>
<path d="M322.8,67.8 L291.6,72.6 L274.8,42.3 L310.9,19.4 L319.1,24.9Z" fill="#5a5a5a"/>
<path d="M388.3,196.1 L414.3,238.0 L414.0,238.5 L366.2,248.0 L356.3,211.0 L382.4,193.9Z" fill="#5a5a5a"/>
<path d="M378.9,166.9 L382.4,193.9 L388.3,196.1 L435.8,181.3 L426.0,144.0 L423.3,143.1Z" fill="#5b5b5b"/>
<path d="M398.9,30.0 L415.5,50.7 L412.7,80.9 L393.2,94.5 L387.7,91.4 L366.4,52.3 L371.0,36.7Z" fill="#676767"/>
<path d="M551.2,196.7 L540.8,206.8 L503.1,205.9 L504.7,161.6 L542.6,169.1Z" fill="#686868"/>
<path d="M352.5,18.5 L319.1,24.9 L322.8,67.8 L328.7,72.2 L366.4,52.3 L371.0,36.7Z" fill="#5b5b5b"/>
<path d="M504.8,125.7 L461.3,90.3 L470.8,72.9 L506.1,76.7 L521.9,108.2 L519.0,116.4Z" fill="#5f5f5f"/>
<path d="M686.5,215.2 L543.3,249.3 L541.2,247.4 L540.8,206.8 L551.2,196.7Z" fill="#5b5b5b"/>
<path d="M284.7,151.8 L285.7,169.7 L271.9,188.0 L265.5,188.7 L209.3,151.1 L268.0,133.4Z" fill="#606060"/>
<path d="M470.2,68.1 L470.8,72.9 L506.1,76.7 L526.7,53.3 L520.1,37.1 L492.0,34.5Z" fill="#686868"/>
<path d="M423.3,143.1 L426.0,144.0 L444.5,131.9 L456.5,93.1 L412.7,80.9 L393.2,94.5 L393.6,110.3Z" fill="#616161"/>
<path d="M271.9,188.0 L296.7,224.9 L308.2,224.6 L331.9,204.2 L326.6,183.2 L285.7,169.7Z" fill="#565656"/>
<path d="M356.3,211.0 L331.9,204.2 L308.2,224.6 L325.2,256.9 L364.9,251.0 L366.2,248.0Z" fill="#5f5f5f"/>
<path d="M323.6,116.1 L275.9,103.8 L274.1,98.6 L291.6,72.6 L322.8,67.8 L328.7,72.2 L336.2,95.4 L331.5,110.1Z" fill="#686868"/>
<path d="M365.5,135.0 L393.6,110.3 L393.2,94.5 L387.7,91.4 L336.2,95.4 L331.5,110.1Z" fill="#616161"/>
<path d="M308.2,224.6 L296.7,224.9 L277.9,241.3 L304.4,316.9 L325.2,256.9Z" fill="#646464"/>
<path d="M352.5,18.5 L371.0,36.7 L398.9,30.0 L403.3,19.4 L371.7,-69.0Z" fill="#565656"/>
<path d="M446.7,42.6 L415.5,50.7 L412.7,80.9 L456.5,93.1 L461.3,90.3 L470.8,72.9 L470.2,68.1Z" fill="#626262"/>
<path d="M554.2,8.9 L531.1,16.2 L520.1,37.1 L526.7,53.3 L543.3,61.5 L594.2,24.9Z" fill="#6b6b6b"/>
<path d="M490.1,151.7 L494.9,150.7 L504.7,161.6 L503.1,205.9 L486.4,219.2 L483.6,219.2 L459.3,185.4Z" fill="#6a6a6a"/>
<path d="M364.2,153.2 L378.9,166.9 L382.4,193.9 L356.3,211.0 L331.9,204.2 L326.6,183.2 L335.5,163.0Z" fill="#575757"/>
<path d="M559.0,142.7 L519.0,116.4 L504.8,125.7 L494.9,150.7 L504.7,161.6 L542.6,169.1Z" fill="#5f5f5f"/>
<path d="M444.5,131.9 L456.5,93.1 L461.3,90.3 L504.8,125.7 L494.9,150.7 L490.1,151.7Z" fill="#6e6e6e"/>
<path d="M414.3,238.0 L430.3,227.1 L468.3,232.4 L449.1,372.1 L414.0,238.5Z" fill="#606060"/>
<path d="M486.4,219.2 L509.9,248.2 L541.2,247.4 L540.8,206.8 L503.1,205.9Z" fill="#5d5d5d"/>
<path d="M446.7,42.6 L452.6,11.6 L479.3,13.3 L492.0,34.5 L470.2,68.1Z" fill="#616161"/>
<path d="M543.3,61.5 L552.7,87.4 L521.9,108.2 L506.1,76.7 L526.7,53.3Z" fill="#595959"/>
<path d="M492.0,34.5 L520.1,37.1 L531.1,16.2 L502.0,-16.9 L479.3,13.3Z" fill="#6b6b6b"/>
<path d="M365.5,135.0 L331.5,110.1 L323.6,116.1 L318.2,138.0 L335.5,163.0 L364.2,153.2Z" fill="#626262"/>
<path d="M398.9,30.0 L415.5,50.7 L446.7,42.6 L452.6,11.6 L444.1,2.3 L403.3,19.4Z" fill="#616161"/>
<path d="M328.7,72.2 L336.2,95.4 L387.7,91.4 L366.4,52.3Z" fill="#6d6d6d"/>
<path d="M335.5,163.0 L326.6,183.2 L285.7,169.7 L284.7,151.8 L318.2,138.0Z" fill="#595959"/>
<path d="M274.8,42.3 L310.9,19.4 L305.5,4.6 L271.0,-3.8 L253.8,20.7 L262.7,39.1Z" fill="#606060"/>
<path d="M435.8,181.3 L388.3,196.1 L414.3,238.0 L430.3,227.1 L436.3,181.8Z" fill="#6e6e6e"/>
<g filter="url(#imb)"><path d="M368.8,141.1 L386.1,125.9 L404.3,146.1 L377.1,160.6 L368.1,152.3Z" fill="#5c5c5c" opacity="0.7"/>
<path d="M615.9,114.4 L552.1,91.7 L528.3,107.9 L526.1,114.2 L557.0,134.5Z" fill="#545454" opacity="0.7"/>
<path d="M316.3,139.6 L293.6,148.8 L282.4,136.5 L287.8,116.6 L319.9,124.8Z" fill="#696969" opacity="0.7"/>
<path d="M450.3,194.4 L447.2,217.5 L466.6,220.2 L474.4,213.5 L462.0,196.2Z" fill="#5e5e5e" opacity="0.7"/>
<path d="M288.5,76.4 L277.2,55.9 L268.9,53.7 L246.3,79.9 L276.7,94.0Z" fill="#5f5f5f" opacity="0.7"/>
<path d="M269.6,200.7 L284.7,223.1 L273.3,233.1 L266.7,233.5 L250.2,219.7 L265.7,201.1Z" fill="#4f4f4f" opacity="0.7"/>
<path d="M436.5,149.1 L442.0,170.1 L442.3,170.4 L455.2,172.4 L472.5,153.5 L446.9,142.4Z" fill="#727272" opacity="0.7"/>
<path d="M321.7,66.3 L298.5,69.9 L286.1,47.4 L312.9,30.4 L319.0,34.5Z" fill="#5b5b5b" opacity="0.7"/>
<path d="M382.7,203.3 L398.2,228.4 L398.1,228.7 L369.4,234.4 L363.5,212.2 L379.2,201.9Z" fill="#565656" opacity="0.7"/>
<path d="M392.9,164.7 L394.8,178.9 L397.9,180.1 L423.1,172.3 L417.9,152.5 L416.5,152.1Z" fill="#656565" opacity="0.7"/>
<path d="M402.9,43.7 L414.7,58.3 L412.6,79.8 L398.8,89.4 L394.9,87.2 L379.8,59.5 L383.1,48.4Z" fill="#6f6f6f" opacity="0.7"/>
<path d="M540.0,192.7 L534.3,198.2 L513.8,197.7 L514.6,173.5 L535.3,177.7Z" fill="#727272" opacity="0.7"/>
<path d="M352.0,21.5 L329.7,25.7 L332.1,54.4 L336.1,57.4 L361.3,44.1 L364.4,33.6Z" fill="#585858" opacity="0.7"/>
<path d="M507.5,118.5 L477.9,94.5 L484.4,82.6 L508.4,85.2 L519.2,106.6 L517.2,112.2Z" fill="#6b6b6b" opacity="0.7"/>
<path d="M652.5,215.9 L547.4,240.9 L546.0,239.5 L545.7,209.8 L553.3,202.3Z" fill="#5d5d5d" opacity="0.7"/>
<path d="M277.8,153.6 L278.3,163.8 L270.5,174.2 L266.8,174.6 L234.8,153.2 L268.3,143.1Z" fill="#5d5d5d" opacity="0.7"/>
<path d="M484.3,58.1 L484.5,60.5 L502.4,62.4 L512.8,50.6 L509.4,42.4 L495.2,41.1Z" fill="#707070" opacity="0.7"/>
<path d="M418.6,129.1 L420.3,129.7 L432.5,121.7 L440.4,96.3 L411.6,88.2 L398.7,97.2 L399.0,107.5Z" fill="#6a6a6a" opacity="0.7"/>
<path d="M279.0,192.5 L297.1,219.6 L305.5,219.3 L322.9,204.4 L319.0,189.1 L289.0,179.1Z" fill="#5c5c5c" opacity="0.7"/>
<path d="M347.9,221.0 L331.8,216.5 L316.1,230.0 L327.3,251.4 L353.6,247.5 L354.5,245.5Z" fill="#555555" opacity="0.7"/>
<path d="M324.8,106.5 L289.7,97.5 L288.4,93.6 L301.3,74.5 L324.2,71.0 L328.5,74.2 L334.0,91.2 L330.6,102.1Z" fill="#717171" opacity="0.7"/>
<path d="M363.4,124.1 L382.2,107.6 L381.9,97.0 L378.3,95.0 L343.8,97.6 L340.7,107.5Z" fill="#6e6e6e" opacity="0.7"/>
<path d="M308.6,239.9 L301.5,240.1 L290.0,250.2 L306.2,296.4 L318.9,259.7Z" fill="#6d6d6d" opacity="0.7"/>
<path d="M362.3,18.4 L374.5,30.3 L392.8,26.0 L395.7,19.0 L374.9,-39.2Z" fill="#5c5c5c" opacity="0.7"/>
<path d="M442.2,59.7 L426.3,63.8 L424.9,79.2 L447.2,85.5 L449.7,84.1 L454.5,75.2 L454.3,72.7Z" fill="#6f6f6f" opacity="0.7"/>
<path d="M551.5,16.0 L539.1,20.0 L533.2,31.1 L536.7,39.8 L545.6,44.1 L572.8,24.6Z" fill="#696969" opacity="0.7"/>
<path d="M488.7,153.9 L492.4,153.1 L499.9,161.4 L498.7,195.3 L485.9,205.5 L483.8,205.5 L465.2,179.7Z" fill="#707070" opacity="0.7"/>
<path d="M365.8,164.3 L375.0,172.8 L377.3,189.8 L360.8,200.5 L345.5,196.3 L342.2,183.1 L347.8,170.4Z" fill="#505050" opacity="0.7"/>
<path d="M542.3,149.0 L519.8,134.3 L511.8,139.5 L506.3,153.5 L511.8,159.6 L533.1,163.9Z" fill="#676767" opacity="0.7"/>
<path d="M447.5,134.3 L456.1,106.6 L459.5,104.6 L490.7,129.9 L483.6,147.8 L480.1,148.5Z" fill="#686868" opacity="0.7"/>
<path d="M415.8,246.4 L426.3,239.3 L451.2,242.7 L438.6,334.4 L415.6,246.8Z" fill="#6a6a6a" opacity="0.7"/>
<path d="M506.2,227.6 L518.9,243.3 L535.8,242.9 L535.6,220.9 L515.2,220.4Z" fill="#656565" opacity="0.7"/>
<path d="M450.5,37.1 L455.2,13.0 L475.9,14.4 L485.8,30.8 L468.9,57.0Z" fill="#5a5a5a" opacity="0.7"/>
<path d="M539.2,72.8 L544.8,88.2 L526.5,100.6 L517.1,81.8 L529.3,67.9Z" fill="#4d4d4d" opacity="0.7"/>
<path d="M500.6,33.8 L522.3,35.8 L530.9,19.7 L508.4,-5.9 L490.8,17.5Z" fill="#696969" opacity="0.7"/>
<path d="M355.2,137.6 L332.2,120.7 L326.8,124.8 L323.2,139.6 L334.9,156.6 L354.3,150.0Z" fill="#707070" opacity="0.7"/>
<path d="M407.7,34.6 L419.0,48.6 L440.1,43.1 L444.2,22.1 L438.4,15.8 L410.6,27.4Z" fill="#676767" opacity="0.7"/>
<path d="M335.2,73.4 L339.3,86.2 L367.8,84.0 L356.0,62.4Z" fill="#636363" opacity="0.7"/>
<path d="M321.7,161.8 L315.9,175.1 L289.1,166.2 L288.4,154.5 L310.4,145.5Z" fill="#666666" opacity="0.7"/>
<path d="M272.0,30.0 L295.5,15.1 L292.0,5.4 L269.5,-0.0 L258.3,16.0 L264.0,27.9Z" fill="#6d6d6d" opacity="0.7"/>
<path d="M434.7,183.6 L398.4,194.9 L418.2,226.9 L430.5,218.5 L435.1,184.0Z" fill="#6a6a6a" opacity="0.7"/></g>
<g fill="none" stroke-linejoin="round" filter="url(#imb)"><path d="M365.5,135.0 L393.6,110.3 L423.3,143.1 L378.9,166.9 L364.2,153.2Z" stroke="#bababa" stroke-width="6.4" stroke-opacity="0.26"/>
<path d="M635.1,116.7 L552.7,87.4 L521.9,108.2 L519.0,116.4 L559.0,142.7Z" stroke="#858585" stroke-width="4.0" stroke-opacity="0.28"/>
<path d="M318.2,138.0 L284.7,151.8 L268.0,133.4 L275.9,103.8 L323.6,116.1Z" stroke="#a1a1a1" stroke-width="2.3" stroke-opacity="0.18"/>
<path d="M436.3,181.8 L430.3,227.1 L468.3,232.4 L483.6,219.2 L459.3,185.4Z" stroke="#818181" stroke-width="4.7" stroke-opacity="0.40"/>
<path d="M291.6,72.6 L274.8,42.3 L262.7,39.1 L229.2,77.8 L274.1,98.6Z" stroke="#9b9b9b" stroke-width="3.5" stroke-opacity="0.19"/>
<path d="M271.9,188.0 L296.7,224.9 L277.9,241.3 L267.1,242.0 L239.9,219.2 L265.5,188.7Z" stroke="#969696" stroke-width="4.9" stroke-opacity="0.32"/>
<path d="M426.0,144.0 L435.8,181.3 L436.3,181.8 L459.3,185.4 L490.1,151.7 L444.5,131.9Z" stroke="#929292" stroke-width="3.2" stroke-opacity="0.28"/>
<path d="M322.8,67.8 L291.6,72.6 L274.8,42.3 L310.9,19.4 L319.1,24.9Z" stroke="#bbbbbb" stroke-width="5.6" stroke-opacity="0.30"/>
<path d="M388.3,196.1 L414.3,238.0 L414.0,238.5 L366.2,248.0 L356.3,211.0 L382.4,193.9Z" stroke="#9c9c9c" stroke-width="2.2" stroke-opacity="0.35"/>
<path d="M378.9,166.9 L382.4,193.9 L388.3,196.1 L435.8,181.3 L426.0,144.0 L423.3,143.1Z" stroke="#a4a4a4" stroke-width="5.8" stroke-opacity="0.35"/>
<path d="M398.9,30.0 L415.5,50.7 L412.7,80.9 L393.2,94.5 L387.7,91.4 L366.4,52.3 L371.0,36.7Z" stroke="#b1b1b1" stroke-width="6.0" stroke-opacity="0.23"/>
<path d="M551.2,196.7 L540.8,206.8 L503.1,205.9 L504.7,161.6 L542.6,169.1Z" stroke="#bdbdbd" stroke-width="5.3" stroke-opacity="0.21"/>
<path d="M352.5,18.5 L319.1,24.9 L322.8,67.8 L328.7,72.2 L366.4,52.3 L371.0,36.7Z" stroke="#a3a3a3" stroke-width="3.0" stroke-opacity="0.17"/>
<path d="M504.8,125.7 L461.3,90.3 L470.8,72.9 L506.1,76.7 L521.9,108.2 L519.0,116.4Z" stroke="#afafaf" stroke-width="8.8" stroke-opacity="0.20"/>
<path d="M686.5,215.2 L543.3,249.3 L541.2,247.4 L540.8,206.8 L551.2,196.7Z" stroke="#acacac" stroke-width="5.5" stroke-opacity="0.26"/>
<path d="M284.7,151.8 L285.7,169.7 L271.9,188.0 L265.5,188.7 L209.3,151.1 L268.0,133.4Z" stroke="#959595" stroke-width="4.0" stroke-opacity="0.35"/>
<path d="M470.2,68.1 L470.8,72.9 L506.1,76.7 L526.7,53.3 L520.1,37.1 L492.0,34.5Z" stroke="#bdbdbd" stroke-width="2.1" stroke-opacity="0.33"/>
<path d="M423.3,143.1 L426.0,144.0 L444.5,131.9 L456.5,93.1 L412.7,80.9 L393.2,94.5 L393.6,110.3Z" stroke="#b1b1b1" stroke-width="3.5" stroke-opacity="0.38"/>
<path d="M271.9,188.0 L296.7,224.9 L308.2,224.6 L331.9,204.2 L326.6,183.2 L285.7,169.7Z" stroke="#848484" stroke-width="2.5" stroke-opacity="0.34"/>
<path d="M356.3,211.0 L331.9,204.2 L308.2,224.6 L325.2,256.9 L364.9,251.0 L366.2,248.0Z" stroke="#b7b7b7" stroke-width="7.3" stroke-opacity="0.32"/>
<path d="M323.6,116.1 L275.9,103.8 L274.1,98.6 L291.6,72.6 L322.8,67.8 L328.7,72.2 L336.2,95.4 L331.5,110.1Z" stroke="#b2b2b2" stroke-width="4.7" stroke-opacity="0.35"/>
<path d="M365.5,135.0 L393.6,110.3 L393.2,94.5 L387.7,91.4 L336.2,95.4 L331.5,110.1Z" stroke="#9a9a9a" stroke-width="2.7" stroke-opacity="0.15"/>
<path d="M308.2,224.6 L296.7,224.9 L277.9,241.3 L304.4,316.9 L325.2,256.9Z" stroke="#bebebe" stroke-width="8.8" stroke-opacity="0.36"/>
<path d="M352.5,18.5 L371.0,36.7 L398.9,30.0 L403.3,19.4 L371.7,-69.0Z" stroke="#878787" stroke-width="3.3" stroke-opacity="0.15"/>
<path d="M446.7,42.6 L415.5,50.7 L412.7,80.9 L456.5,93.1 L461.3,90.3 L470.8,72.9 L470.2,68.1Z" stroke="#adadad" stroke-width="3.1" stroke-opacity="0.35"/>
<path d="M554.2,8.9 L531.1,16.2 L520.1,37.1 L526.7,53.3 L543.3,61.5 L594.2,24.9Z" stroke="#969696" stroke-width="8.2" stroke-opacity="0.20"/>
<path d="M490.1,151.7 L494.9,150.7 L504.7,161.6 L503.1,205.9 L486.4,219.2 L483.6,219.2 L459.3,185.4Z" stroke="#949494" stroke-width="3.9" stroke-opacity="0.19"/>
<path d="M364.2,153.2 L378.9,166.9 L382.4,193.9 L356.3,211.0 L331.9,204.2 L326.6,183.2 L335.5,163.0Z" stroke="#9d9d9d" stroke-width="3.1" stroke-opacity="0.39"/>
<path d="M559.0,142.7 L519.0,116.4 L504.8,125.7 L494.9,150.7 L504.7,161.6 L542.6,169.1Z" stroke="#808080" stroke-width="4.4" stroke-opacity="0.23"/>
<path d="M444.5,131.9 L456.5,93.1 L461.3,90.3 L504.8,125.7 L494.9,150.7 L490.1,151.7Z" stroke="#929292" stroke-width="4.3" stroke-opacity="0.38"/>
<path d="M414.3,238.0 L430.3,227.1 L468.3,232.4 L449.1,372.1 L414.0,238.5Z" stroke="#aaaaaa" stroke-width="3.3" stroke-opacity="0.21"/>
<path d="M486.4,219.2 L509.9,248.2 L541.2,247.4 L540.8,206.8 L503.1,205.9Z" stroke="#7e7e7e" stroke-width="2.7" stroke-opacity="0.33"/>
<path d="M446.7,42.6 L452.6,11.6 L479.3,13.3 L492.0,34.5 L470.2,68.1Z" stroke="#a7a7a7" stroke-width="2.7" stroke-opacity="0.29"/>
<path d="M543.3,61.5 L552.7,87.4 L521.9,108.2 L506.1,76.7 L526.7,53.3Z" stroke="#a5a5a5" stroke-width="4.4" stroke-opacity="0.16"/>
<path d="M492.0,34.5 L520.1,37.1 L531.1,16.2 L502.0,-16.9 L479.3,13.3Z" stroke="#afafaf" stroke-width="2.5" stroke-opacity="0.22"/>
<path d="M365.5,135.0 L331.5,110.1 L323.6,116.1 L318.2,138.0 L335.5,163.0 L364.2,153.2Z" stroke="#a6a6a6" stroke-width="2.8" stroke-opacity="0.34"/>
<path d="M398.9,30.0 L415.5,50.7 L446.7,42.6 L452.6,11.6 L444.1,2.3 L403.3,19.4Z" stroke="#bebebe" stroke-width="5.1" stroke-opacity="0.20"/>
<path d="M328.7,72.2 L336.2,95.4 L387.7,91.4 L366.4,52.3Z" stroke="#8e8e8e" stroke-width="6.6" stroke-opacity="0.38"/>
<path d="M335.5,163.0 L326.6,183.2 L285.7,169.7 L284.7,151.8 L318.2,138.0Z" stroke="#949494" stroke-width="2.8" stroke-opacity="0.35"/>
<path d="M274.8,42.3 L310.9,19.4 L305.5,4.6 L271.0,-3.8 L253.8,20.7 L262.7,39.1Z" stroke="#858585" stroke-width="4.3" stroke-opacity="0.16"/>
<path d="M435.8,181.3 L388.3,196.1 L414.3,238.0 L430.3,227.1 L436.3,181.8Z" stroke="#848484" stroke-width="2.8" stroke-opacity="0.26"/></g>
<g fill="none" stroke-linejoin="round"><path d="M365.5,135.0 L393.6,110.3 L423.3,143.1 L378.9,166.9 L364.2,153.2Z" stroke="#d3d3d3" stroke-width="1.21" stroke-opacity="0.74"/>
<path d="M635.1,116.7 L552.7,87.4 L521.9,108.2 L519.0,116.4 L559.0,142.7Z" stroke="#9e9e9e" stroke-width="0.78" stroke-opacity="0.72"/>
<path d="M318.2,138.0 L284.7,151.8 L268.0,133.4 L275.9,103.8 L323.6,116.1Z" stroke="#bababa" stroke-width="0.56" stroke-opacity="0.80"/>
<path d="M436.3,181.8 L430.3,227.1 L468.3,232.4 L483.6,219.2 L459.3,185.4Z" stroke="#9a9a9a" stroke-width="1.33" stroke-opacity="0.86"/>
<path d="M291.6,72.6 L274.8,42.3 L262.7,39.1 L229.2,77.8 L274.1,98.6Z" stroke="#b4b4b4" stroke-width="0.95" stroke-opacity="0.60"/>
<path d="M271.9,188.0 L296.7,224.9 L277.9,241.3 L267.1,242.0 L239.9,219.2 L265.5,188.7Z" stroke="#afafaf" stroke-width="1.52" stroke-opacity="0.65"/>
<path d="M426.0,144.0 L435.8,181.3 L436.3,181.8 L459.3,185.4 L490.1,151.7 L444.5,131.9Z" stroke="#ababab" stroke-width="0.73" stroke-opacity="0.64"/>
<path d="M322.8,67.8 L291.6,72.6 L274.8,42.3 L310.9,19.4 L319.1,24.9Z" stroke="#d4d4d4" stroke-width="0.94" stroke-opacity="0.98"/>
<path d="M388.3,196.1 L414.3,238.0 L414.0,238.5 L366.2,248.0 L356.3,211.0 L382.4,193.9Z" stroke="#b5b5b5" stroke-width="0.62" stroke-opacity="0.70"/>
<path d="M378.9,166.9 L382.4,193.9 L388.3,196.1 L435.8,181.3 L426.0,144.0 L423.3,143.1Z" stroke="#bdbdbd" stroke-width="1.35" stroke-opacity="0.62"/>
<path d="M398.9,30.0 L415.5,50.7 L412.7,80.9 L393.2,94.5 L387.7,91.4 L366.4,52.3 L371.0,36.7Z" stroke="#cacaca" stroke-width="1.60" stroke-opacity="0.80"/>
<path d="M551.2,196.7 L540.8,206.8 L503.1,205.9 L504.7,161.6 L542.6,169.1Z" stroke="#d6d6d6" stroke-width="1.04" stroke-opacity="0.90"/>
<path d="M352.5,18.5 L319.1,24.9 L322.8,67.8 L328.7,72.2 L366.4,52.3 L371.0,36.7Z" stroke="#bcbcbc" stroke-width="0.51" stroke-opacity="0.91"/>
<path d="M504.8,125.7 L461.3,90.3 L470.8,72.9 L506.1,76.7 L521.9,108.2 L519.0,116.4Z" stroke="#c8c8c8" stroke-width="1.57" stroke-opacity="0.55"/>
<path d="M686.5,215.2 L543.3,249.3 L541.2,247.4 L540.8,206.8 L551.2,196.7Z" stroke="#c5c5c5" stroke-width="1.05" stroke-opacity="0.86"/>
<path d="M284.7,151.8 L285.7,169.7 L271.9,188.0 L265.5,188.7 L209.3,151.1 L268.0,133.4Z" stroke="#aeaeae" stroke-width="0.95" stroke-opacity="0.83"/>
<path d="M470.2,68.1 L470.8,72.9 L506.1,76.7 L526.7,53.3 L520.1,37.1 L492.0,34.5Z" stroke="#d6d6d6" stroke-width="0.57" stroke-opacity="0.70"/>
<path d="M423.3,143.1 L426.0,144.0 L444.5,131.9 L456.5,93.1 L412.7,80.9 L393.2,94.5 L393.6,110.3Z" stroke="#cacaca" stroke-width="0.90" stroke-opacity="0.57"/>
<path d="M271.9,188.0 L296.7,224.9 L308.2,224.6 L331.9,204.2 L326.6,183.2 L285.7,169.7Z" stroke="#9d9d9d" stroke-width="0.67" stroke-opacity="0.74"/>
<path d="M356.3,211.0 L331.9,204.2 L308.2,224.6 L325.2,256.9 L364.9,251.0 L366.2,248.0Z" stroke="#d0d0d0" stroke-width="1.50" stroke-opacity="0.83"/>
<path d="M323.6,116.1 L275.9,103.8 L274.1,98.6 L291.6,72.6 L322.8,67.8 L328.7,72.2 L336.2,95.4 L331.5,110.1Z" stroke="#cbcbcb" stroke-width="0.95" stroke-opacity="0.55"/>
<path d="M365.5,135.0 L393.6,110.3 L393.2,94.5 L387.7,91.4 L336.2,95.4 L331.5,110.1Z" stroke="#b3b3b3" stroke-width="0.83" stroke-opacity="0.78"/>
<path d="M308.2,224.6 L296.7,224.9 L277.9,241.3 L304.4,316.9 L325.2,256.9Z" stroke="#d7d7d7" stroke-width="1.54" stroke-opacity="0.97"/>
<path d="M352.5,18.5 L371.0,36.7 L398.9,30.0 L403.3,19.4 L371.7,-69.0Z" stroke="#a0a0a0" stroke-width="0.84" stroke-opacity="0.68"/>
<path d="M446.7,42.6 L415.5,50.7 L412.7,80.9 L456.5,93.1 L461.3,90.3 L470.8,72.9 L470.2,68.1Z" stroke="#c6c6c6" stroke-width="0.63" stroke-opacity="0.65"/>
<path d="M554.2,8.9 L531.1,16.2 L520.1,37.1 L526.7,53.3 L543.3,61.5 L594.2,24.9Z" stroke="#afafaf" stroke-width="1.55" stroke-opacity="0.78"/>
<path d="M490.1,151.7 L494.9,150.7 L504.7,161.6 L503.1,205.9 L486.4,219.2 L483.6,219.2 L459.3,185.4Z" stroke="#adadad" stroke-width="0.66" stroke-opacity="0.58"/>
<path d="M364.2,153.2 L378.9,166.9 L382.4,193.9 L356.3,211.0 L331.9,204.2 L326.6,183.2 L335.5,163.0Z" stroke="#b6b6b6" stroke-width="0.82" stroke-opacity="0.70"/>
<path d="M559.0,142.7 L519.0,116.4 L504.8,125.7 L494.9,150.7 L504.7,161.6 L542.6,169.1Z" stroke="#999999" stroke-width="0.81" stroke-opacity="0.88"/>
<path d="M444.5,131.9 L456.5,93.1 L461.3,90.3 L504.8,125.7 L494.9,150.7 L490.1,151.7Z" stroke="#ababab" stroke-width="0.91" stroke-opacity="0.84"/>
<path d="M414.3,238.0 L430.3,227.1 L468.3,232.4 L449.1,372.1 L414.0,238.5Z" stroke="#c3c3c3" stroke-width="1.00" stroke-opacity="0.75"/>
<path d="M486.4,219.2 L509.9,248.2 L541.2,247.4 L540.8,206.8 L503.1,205.9Z" stroke="#979797" stroke-width="0.56" stroke-opacity="0.96"/>
<path d="M446.7,42.6 L452.6,11.6 L479.3,13.3 L492.0,34.5 L470.2,68.1Z" stroke="#c0c0c0" stroke-width="0.60" stroke-opacity="0.99"/>
<path d="M543.3,61.5 L552.7,87.4 L521.9,108.2 L506.1,76.7 L526.7,53.3Z" stroke="#bebebe" stroke-width="0.96" stroke-opacity="0.73"/>
<path d="M492.0,34.5 L520.1,37.1 L531.1,16.2 L502.0,-16.9 L479.3,13.3Z" stroke="#c8c8c8" stroke-width="0.53" stroke-opacity="0.68"/>
<path d="M365.5,135.0 L331.5,110.1 L323.6,116.1 L318.2,138.0 L335.5,163.0 L364.2,153.2Z" stroke="#bfbfbf" stroke-width="0.57" stroke-opacity="0.70"/>
<path d="M398.9,30.0 L415.5,50.7 L446.7,42.6 L452.6,11.6 L444.1,2.3 L403.3,19.4Z" stroke="#d7d7d7" stroke-width="1.06" stroke-opacity="0.97"/>
<path d="M328.7,72.2 L336.2,95.4 L387.7,91.4 L366.4,52.3Z" stroke="#a7a7a7" stroke-width="1.25" stroke-opacity="0.73"/>
<path d="M335.5,163.0 L326.6,183.2 L285.7,169.7 L284.7,151.8 L318.2,138.0Z" stroke="#adadad" stroke-width="0.65" stroke-opacity="0.97"/>
<path d="M274.8,42.3 L310.9,19.4 L305.5,4.6 L271.0,-3.8 L253.8,20.7 L262.7,39.1Z" stroke="#9e9e9e" stroke-width="1.40" stroke-opacity="0.67"/>
<path d="M435.8,181.3 L388.3,196.1 L414.3,238.0 L430.3,227.1 L436.3,181.8Z" stroke="#9d9d9d" stroke-width="0.91" stroke-opacity="0.98"/><path d="M565.4,115.0 Q552.6,122.7 552.2,127.0" stroke="#acacac" stroke-width="0.86" stroke-opacity="0.69"/>
<path d="M287.9,122.9 Q288.1,126.8 286.9,135.6" stroke="#929292" stroke-width="0.64" stroke-opacity="0.63"/>
<path d="M272.0,212.4 Q274.6,221.7 282.2,226.4" stroke="#939393" stroke-width="0.56" stroke-opacity="0.67"/>
<path d="M446.8,166.5 Q444.6,171.9 438.4,176.9" stroke="#8f8f8f" stroke-width="0.70" stroke-opacity="0.37"/>
<path d="M310.9,44.0 Q309.8,47.2 308.0,57.9" stroke="#b1b1b1" stroke-width="0.67" stroke-opacity="0.36"/>
<path d="M297.7,49.2 Q289.7,54.7 283.9,51.8" stroke="#a1a1a1" stroke-width="0.68" stroke-opacity="0.59"/>
<path d="M388.2,222.7 Q382.7,226.8 373.7,223.5" stroke="#929292" stroke-width="0.82" stroke-opacity="0.33"/>
<path d="M405.7,169.4 Q413.8,170.1 418.9,173.8" stroke="#bcbcbc" stroke-width="0.51" stroke-opacity="0.67"/>
<path d="M399.0,167.3 Q408.6,173.4 420.3,168.4" stroke="#939393" stroke-width="0.65" stroke-opacity="0.62"/>
<path d="M396.6,62.3 Q389.3,67.2 383.0,78.7" stroke="#a3a3a3" stroke-width="0.47" stroke-opacity="0.69"/>
<path d="M398.1,55.6 Q402.5,66.4 415.0,67.0" stroke="#8d8d8d" stroke-width="0.46" stroke-opacity="0.68"/>
<path d="M530.1,185.6 Q539.8,190.7 540.1,188.6" stroke="#adadad" stroke-width="0.69" stroke-opacity="0.40"/>
<path d="M524.4,187.4 Q516.1,199.1 519.5,206.0" stroke="#a2a2a2" stroke-width="0.51" stroke-opacity="0.58"/>
<path d="M572.0,225.8 Q564.8,236.7 566.0,236.7" stroke="#999999" stroke-width="0.69" stroke-opacity="0.35"/>
<path d="M575.5,231.0 Q567.7,229.6 561.4,234.4" stroke="#979797" stroke-width="0.85" stroke-opacity="0.65"/>
<path d="M272.4,166.0 Q282.7,167.5 289.9,177.8" stroke="#a1a1a1" stroke-width="0.85" stroke-opacity="0.33"/>
<path d="M259.5,157.8 Q265.1,161.9 264.5,170.4" stroke="#bdbdbd" stroke-width="0.56" stroke-opacity="0.58"/>
<path d="M344.1,238.5 Q345.0,241.7 351.4,254.4" stroke="#a2a2a2" stroke-width="0.42" stroke-opacity="0.42"/>
<path d="M343.6,240.9 Q347.1,258.4 342.9,262.7" stroke="#b8b8b8" stroke-width="0.56" stroke-opacity="0.37"/>
<path d="M303.9,100.3 Q309.7,104.9 308.5,121.6" stroke="#a4a4a4" stroke-width="0.41" stroke-opacity="0.38"/>
<path d="M297.0,248.4 Q296.9,262.1 303.9,264.7" stroke="#b2b2b2" stroke-width="0.49" stroke-opacity="0.59"/>
<path d="M306.9,259.1 Q306.7,261.5 308.5,274.7" stroke="#8d8d8d" stroke-width="0.85" stroke-opacity="0.56"/>
<path d="M377.2,13.7 Q379.2,28.2 388.7,34.2" stroke="#b6b6b6" stroke-width="0.82" stroke-opacity="0.57"/>
<path d="M379.3,1.6 Q365.2,2.0 362.9,1.9" stroke="#8e8e8e" stroke-width="0.55" stroke-opacity="0.42"/>
<path d="M489.5,180.0 Q487.6,177.9 498.2,186.5" stroke="#a4a4a4" stroke-width="0.61" stroke-opacity="0.41"/>
<path d="M350.3,182.2 Q342.2,194.9 333.2,197.3" stroke="#b1b1b1" stroke-width="0.74" stroke-opacity="0.46"/>
<path d="M514.1,150.5 Q510.5,159.1 495.7,159.4" stroke="#b6b6b6" stroke-width="0.65" stroke-opacity="0.40"/>
<path d="M469.3,129.5 Q454.2,140.4 452.5,141.7" stroke="#939393" stroke-width="0.80" stroke-opacity="0.46"/>
<path d="M482.4,122.0 Q490.1,130.8 497.4,130.3" stroke="#bdbdbd" stroke-width="0.63" stroke-opacity="0.49"/>
<path d="M443.2,268.8 Q446.6,267.7 457.0,270.1" stroke="#adadad" stroke-width="0.55" stroke-opacity="0.64"/>
<path d="M441.6,253.5 Q442.3,259.5 444.2,271.9" stroke="#adadad" stroke-width="0.78" stroke-opacity="0.54"/>
<path d="M518.3,221.7 Q517.6,235.8 524.6,244.0" stroke="#bdbdbd" stroke-width="0.76" stroke-opacity="0.41"/>
<path d="M534.1,70.1 Q529.3,74.6 529.5,90.4" stroke="#b7b7b7" stroke-width="0.56" stroke-opacity="0.30"/>
<path d="M524.2,75.7 Q518.2,88.9 524.9,95.9" stroke="#9f9f9f" stroke-width="0.53" stroke-opacity="0.44"/>
<path d="M348.1,78.0 Q352.1,85.2 343.8,99.4" stroke="#ababab" stroke-width="0.54" stroke-opacity="0.61"/>
<path d="M274.8,18.4 Q279.9,22.6 291.6,19.8" stroke="#999999" stroke-width="0.89" stroke-opacity="0.38"/>
<path d="M273.4,14.8 Q276.8,24.6 284.8,29.9" stroke="#b5b5b5" stroke-width="0.69" stroke-opacity="0.41"/></g>
</g>
<g filter="url(#imB)">
<defs><radialGradient id="ime0" cx="0.5" cy="0.5" r="0.5"><stop offset="0" stop-color="#787878"/><stop offset="0.65" stop-color="#747474" stop-opacity="0.92"/><stop offset="1" stop-color="#747474" stop-opacity="0"/></radialGradient><radialGradient id="ime1" cx="0.5" cy="0.5" r="0.5"><stop offset="0" stop-color="#848484"/><stop offset="0.65" stop-color="#808080" stop-opacity="0.92"/><stop offset="1" stop-color="#808080" stop-opacity="0"/></radialGradient><radialGradient id="ime2" cx="0.5" cy="0.5" r="0.5"><stop offset="0" stop-color="#888888"/><stop offset="0.65" stop-color="#848484" stop-opacity="0.92"/><stop offset="1" stop-color="#848484" stop-opacity="0"/></radialGradient><radialGradient id="ime3" cx="0.5" cy="0.5" r="0.5"><stop offset="0" stop-color="#7c7c7c"/><stop offset="0.65" stop-color="#787878" stop-opacity="0.92"/><stop offset="1" stop-color="#787878" stop-opacity="0"/></radialGradient><radialGradient id="ime4" cx="0.5" cy="0.5" r="0.5"><stop offset="0" stop-color="#7a7a7a"/><stop offset="0.65" stop-color="#767676" stop-opacity="0.92"/><stop offset="1" stop-color="#767676" stop-opacity="0"/></radialGradient><radialGradient id="ime5" cx="0.5" cy="0.5" r="0.5"><stop offset="0" stop-color="#7a7a7a"/><stop offset="0.65" stop-color="#767676" stop-opacity="0.92"/><stop offset="1" stop-color="#767676" stop-opacity="0"/></radialGradient><radialGradient id="ime6" cx="0.5" cy="0.5" r="0.5"><stop offset="0" stop-color="#888888"/><stop offset="0.65" stop-color="#848484" stop-opacity="0.92"/><stop offset="1" stop-color="#848484" stop-opacity="0"/></radialGradient><radialGradient id="ime7" cx="0.5" cy="0.5" r="0.5"><stop offset="0" stop-color="#7c7c7c"/><stop offset="0.65" stop-color="#787878" stop-opacity="0.92"/><stop offset="1" stop-color="#787878" stop-opacity="0"/></radialGradient><radialGradient id="ime8" cx="0.5" cy="0.5" r="0.5"><stop offset="0" stop-color="#bdbdbd"/><stop offset="0.65" stop-color="#b9b9b9" stop-opacity="0.92"/><stop offset="1" stop-color="#b9b9b9" stop-opacity="0"/></radialGradient><radialGradient id="ime9" cx="0.5" cy="0.5" r="0.5"><stop offset="0" stop-color="#c7c7c7"/><stop offset="0.65" stop-color="#c3c3c3" stop-opacity="0.92"/><stop offset="1" stop-color="#c3c3c3" stop-opacity="0"/></radialGradient><radialGradient id="ime10" cx="0.5" cy="0.5" r="0.5"><stop offset="0" stop-color="#bdbdbd"/><stop offset="0.65" stop-color="#b9b9b9" stop-opacity="0.92"/><stop offset="1" stop-color="#b9b9b9" stop-opacity="0"/></radialGradient><radialGradient id="ime11" cx="0.5" cy="0.5" r="0.5" fx="0.58" fy="0.6"><stop offset="0" stop-color="#333333"/><stop offset="0.7" stop-color="#3d3d3d"/><stop offset="0.86" stop-color="#484848"/><stop offset="0.95" stop-color="#606060"/><stop offset="1" stop-color="#767676" stop-opacity="0.6"/></radialGradient><radialGradient id="ime12" cx="0.5" cy="0.5" r="0.5"><stop offset="0" stop-color="#505050"/><stop offset="0.65" stop-color="#4c4c4c" stop-opacity="0.92"/><stop offset="1" stop-color="#4c4c4c" stop-opacity="0"/></radialGradient><radialGradient id="ime13" cx="0.5" cy="0.5" r="0.5"><stop offset="0" stop-color="#4c4c4c"/><stop offset="0.65" stop-color="#484848" stop-opacity="0.92"/><stop offset="1" stop-color="#484848" stop-opacity="0"/></radialGradient><radialGradient id="ime14" cx="0.5" cy="0.5" r="0.5"><stop offset="0" stop-color="#545454"/><stop offset="0.65" stop-color="#505050" stop-opacity="0.92"/><stop offset="1" stop-color="#505050" stop-opacity="0"/></radialGradient><radialGradient id="ime15" cx="0.5" cy="0.5" r="0.5" fx="0.58" fy="0.6"><stop offset="0" stop-color="#323232"/><stop offset="0.7" stop-color="#3c3c3c"/><stop offset="0.86" stop-color="#474747"/><stop offset="0.95" stop-color="#5f5f5f"/><stop offset="1" stop-color="#767676" stop-opacity="0.6"/></radialGradient><radialGradient id="ime16" cx="0.5" cy="0.5" r="0.5" fx="0.42" fy="0.6"><stop offset="0" stop-color="#292929"/><stop offset="0.7" stop-color="#333333"/><stop offset="0.86" stop-color="#3e3e3e"/><stop offset="0.95" stop-color="#565656"/><stop offset="1" stop-color="#767676" stop-opacity="0.6"/></radialGradient><radialGradient id="ime17" cx="0.5" cy="0.5" r="0.5" fx="0.58" fy="0.45"><stop offset="0" stop-color="#2d2d2d"/><stop offset="0.7" stop-color="#373737"/><stop offset="0.86" stop-color="#424242"/><stop offset="0.95" stop-color="#5a5a5a"/><stop offset="1" stop-color="#767676" stop-opacity="0.6"/></radialGradient><radialGradient id="ime18" cx="0.5" cy="0.5" r="0.5" fx="0.42" fy="0.6"><stop offset="0" stop-color="#232323"/><stop offset="0.7" stop-color="#2d2d2d"/><stop offset="0.86" stop-color="#383838"/><stop offset="0.95" stop-color="#505050"/><stop offset="1" stop-color="#767676" stop-opacity="0.6"/></radialGradient><radialGradient id="ime19" cx="0.5" cy="0.5" r="0.5" fx="0.58" fy="0.45"><stop offset="0" stop-color="#282828"/><stop offset="0.7" stop-color="#323232"/><stop offset="0.86" stop-color="#3d3d3d"/><stop offset="0.95" stop-color="#555555"/><stop offset="1" stop-color="#767676" stop-opacity="0.6"/></radialGradient><radialGradient id="ime20" cx="0.5" cy="0.5" r="0.5" fx="0.58" fy="0.6"><stop offset="0" stop-color="#2d2d2d"/><stop offset="0.7" stop-color="#373737"/><stop offset="0.86" stop-color="#424242"/><stop offset="0.95" stop-color="#5a5a5a"/><stop offset="1" stop-color="#767676" stop-opacity="0.6"/></radialGradient><radialGradient id="ime21" cx="0.5" cy="0.5" r="0.5"><stop offset="0" stop-color="#545454"/><stop offset="0.65" stop-color="#505050" stop-opacity="0.92"/><stop offset="1" stop-color="#505050" stop-opacity="0"/></radialGradient><radialGradient id="ime22" cx="0.5" cy="0.5" r="0.5" fx="0.42" fy="0.6"><stop offset="0" stop-color="#323232"/><stop offset="0.7" stop-color="#3c3c3c"/><stop offset="0.86" stop-color="#474747"/><stop offset="0.95" stop-color="#5f5f5f"/><stop offset="1" stop-color="#767676" stop-opacity="0.6"/></radialGradient><radialGradient id="ime23" cx="0.5" cy="0.5" r="0.5"><stop offset="0" stop-color="#404040"/><stop offset="0.65" stop-color="#3c3c3c" stop-opacity="0.92"/><stop offset="1" stop-color="#3c3c3c" stop-opacity="0"/></radialGradient><radialGradient id="ime24" cx="0.5" cy="0.5" r="0.5" fx="0.58" fy="0.45"><stop offset="0" stop-color="#2d2d2d"/><stop offset="0.7" stop-color="#373737"/><stop offset="0.86" stop-color="#424242"/><stop offset="0.95" stop-color="#5a5a5a"/><stop offset="1" stop-color="#767676" stop-opacity="0.6"/></radialGradient><radialGradient id="ime25" cx="0.5" cy="0.5" r="0.5" fx="0.42" fy="0.6"><stop offset="0" stop-color="#2d2d2d"/><stop offset="0.7" stop-color="#373737"/><stop offset="0.86" stop-color="#424242"/><stop offset="0.95" stop-color="#5a5a5a"/><stop offset="1" stop-color="#767676" stop-opacity="0.6"/></radialGradient><radialGradient id="ime26" cx="0.5" cy="0.5" r="0.5"><stop offset="0" stop-color="#525252"/><stop offset="0.65" stop-color="#4e4e4e" stop-opacity="0.92"/><stop offset="1" stop-color="#4e4e4e" stop-opacity="0"/></radialGradient><radialGradient id="ime27" cx="0.5" cy="0.5" r="0.5"><stop offset="0" stop-color="#545454"/><stop offset="0.65" stop-color="#505050" stop-opacity="0.92"/><stop offset="1" stop-color="#505050" stop-opacity="0"/></radialGradient><radialGradient id="ime28" cx="0.5" cy="0.5" r="0.5"><stop offset="0" stop-color="#585858"/><stop offset="0.65" stop-color="#545454" stop-opacity="0.92"/><stop offset="1" stop-color="#545454" stop-opacity="0"/></radialGradient></defs><ellipse cx="350.0" cy="70.0" rx="15.0" ry="25.2" transform="rotate(0 350.0 70.0)" fill="url(#ime0)"/>
<ellipse cx="381.7" cy="90.0" rx="10.2" ry="12.0" transform="rotate(0 381.7 90.0)" fill="url(#ime1)"/>
<ellipse cx="384.5" cy="171.5" rx="10.8" ry="34.8" transform="rotate(5 384.5 171.5)" fill="url(#ime2)"/>
<ellipse cx="323.9" cy="183.6" rx="18.0" ry="13.8" transform="rotate(0 323.9 183.6)" fill="url(#ime3)"/>
<ellipse cx="296.0" cy="192.0" rx="9.6" ry="9.6" transform="rotate(0 296.0 192.0)" fill="url(#ime4)"/>
<ellipse cx="466.1" cy="183.1" rx="19.8" ry="18.0" transform="rotate(0 466.1 183.1)" fill="url(#ime5)"/>
<ellipse cx="425.5" cy="171.1" rx="7.2" ry="18.0" transform="rotate(0 425.5 171.1)" fill="url(#ime6)"/>
<ellipse cx="499.2" cy="145.5" rx="9.0" ry="13.2" transform="rotate(0 499.2 145.5)" fill="url(#ime7)"/>
<ellipse cx="298.3" cy="70.0" rx="3.6" ry="16.2" transform="rotate(-25 298.3 70.0)" fill="url(#ime8)"/>
<ellipse cx="337.5" cy="58.3" rx="2.7" ry="25.2" transform="rotate(5 337.5 58.3)" fill="url(#ime9)"/>
<ellipse cx="316.3" cy="163.9" rx="2.4" ry="9.0" transform="rotate(0 316.3 163.9)" fill="url(#ime10)"/>
<ellipse cx="290.0" cy="75.0" rx="5.6" ry="14.0" transform="rotate(0 290.0 75.0)" fill="url(#ime11)"/>
<ellipse cx="321.7" cy="75.0" rx="15.0" ry="12.0" transform="rotate(0 321.7 75.0)" fill="url(#ime12)"/>
<ellipse cx="311.7" cy="106.7" rx="19.8" ry="18.0" transform="rotate(0 311.7 106.7)" fill="url(#ime13)"/>
<ellipse cx="373.3" cy="36.7" rx="19.8" ry="12.0" transform="rotate(0 373.3 36.7)" fill="url(#ime14)"/>
<ellipse cx="383.3" cy="66.7" rx="5.6" ry="5.6" transform="rotate(0 383.3 66.7)" fill="url(#ime15)"/>
<ellipse cx="299.6" cy="165.4" rx="10.1" ry="13.4" transform="rotate(0 299.6 165.4)" fill="url(#ime16)"/>
<ellipse cx="349.6" cy="176.0" rx="11.2" ry="18.5" transform="rotate(0 349.6 176.0)" fill="url(#ime17)"/>
<ellipse cx="369.3" cy="157.8" rx="4.5" ry="5.0" transform="rotate(0 369.3 157.8)" fill="url(#ime18)"/>
<ellipse cx="320.8" cy="159.3" rx="4.5" ry="4.5" transform="rotate(0 320.8 159.3)" fill="url(#ime19)"/>
<ellipse cx="383.0" cy="142.7" rx="3.4" ry="4.5" transform="rotate(0 383.0 142.7)" fill="url(#ime20)"/>
<ellipse cx="331.5" cy="145.7" rx="27.0" ry="13.8" transform="rotate(0 331.5 145.7)" fill="url(#ime21)"/>
<ellipse cx="469.1" cy="157.6" rx="12.6" ry="10.1" transform="rotate(0 469.1 157.6)" fill="url(#ime22)"/>
<ellipse cx="415.0" cy="145.5" rx="10.8" ry="16.2" transform="rotate(0 415.0 145.5)" fill="url(#ime23)"/>
<ellipse cx="469.1" cy="210.1" rx="16.8" ry="8.4" transform="rotate(0 469.1 210.1)" fill="url(#ime24)"/>
<ellipse cx="410.5" cy="198.1" rx="4.2" ry="10.1" transform="rotate(0 410.5 198.1)" fill="url(#ime25)"/>
<ellipse cx="502.2" cy="175.6" rx="18.0" ry="18.0" transform="rotate(0 502.2 175.6)" fill="url(#ime26)"/>
<ellipse cx="443.6" cy="148.5" rx="13.2" ry="13.2" transform="rotate(0 443.6 148.5)" fill="url(#ime27)"/>
<ellipse cx="511.2" cy="204.1" rx="13.2" ry="13.2" transform="rotate(0 511.2 204.1)" fill="url(#ime28)"/><g><ellipse cx="290.0" cy="75.0" rx="5.6" ry="14.0" transform="rotate(11 290.0 75.0)" fill="none" stroke="#bababa" stroke-width="0.87" stroke-opacity="0.75" stroke-dasharray="15.9 8.4"/>
<ellipse cx="383.3" cy="66.7" rx="5.6" ry="5.6" transform="rotate(323 383.3 66.7)" fill="none" stroke="#a1a1a1" stroke-width="0.94" stroke-opacity="0.56" stroke-dasharray="15.1 6.4"/>
<ellipse cx="299.6" cy="165.4" rx="10.1" ry="13.4" transform="rotate(37 299.6 165.4)" fill="none" stroke="#c5c5c5" stroke-width="1.22" stroke-opacity="0.87" stroke-dasharray="23.8 12.9"/>
<ellipse cx="349.6" cy="176.0" rx="11.2" ry="18.5" transform="rotate(316 349.6 176.0)" fill="none" stroke="#afafaf" stroke-width="1.09" stroke-opacity="0.82" stroke-dasharray="25.6 12.1"/>
<ellipse cx="369.3" cy="157.8" rx="4.5" ry="5.0" transform="rotate(180 369.3 157.8)" fill="none" stroke="#b8b8b8" stroke-width="0.83" stroke-opacity="0.66" stroke-dasharray="10.1 3.4"/>
<ellipse cx="320.8" cy="159.3" rx="4.5" ry="4.5" transform="rotate(127 320.8 159.3)" fill="none" stroke="#c0c0c0" stroke-width="0.76" stroke-opacity="0.90" stroke-dasharray="13.1 2.5"/>
<ellipse cx="383.0" cy="142.7" rx="3.4" ry="4.5" transform="rotate(264 383.0 142.7)" fill="none" stroke="#a2a2a2" stroke-width="1.41" stroke-opacity="0.89" stroke-dasharray="6.3 3.2"/>
<ellipse cx="469.1" cy="157.6" rx="12.6" ry="10.1" transform="rotate(25 469.1 157.6)" fill="none" stroke="#b7b7b7" stroke-width="0.96" stroke-opacity="0.61" stroke-dasharray="36.6 8.3"/>
<ellipse cx="469.1" cy="210.1" rx="16.8" ry="8.4" transform="rotate(263 469.1 210.1)" fill="none" stroke="#c8c8c8" stroke-width="1.47" stroke-opacity="0.73" stroke-dasharray="34.4 26.1"/>
<ellipse cx="410.5" cy="198.1" rx="4.2" ry="10.1" transform="rotate(252 410.5 198.1)" fill="none" stroke="#b3b3b3" stroke-width="1.17" stroke-opacity="0.67" stroke-dasharray="11.7 7.4"/></g>
</g>
</g></g>
<defs><clipPath id="inc"><rect x="397.6" y="30.0" width="127.9" height="96.0"/></clipPath>
<radialGradient id="ing0" cx="0.5" cy="0.5" r="0.62" fx="0.42" fy="0.58"><stop offset="0" stop-color="#2e2e2e"/><stop offset="0.45" stop-color="#363636"/><stop offset="0.8" stop-color="#5e5e5e"/><stop offset="1" stop-color="#707070"/></radialGradient><radialGradient id="ing1" cx="0.5" cy="0.5" r="0.62" fx="0.6" fy="0.45"><stop offset="0" stop-color="#2e2e2e"/><stop offset="0.45" stop-color="#363636"/><stop offset="0.8" stop-color="#5e5e5e"/><stop offset="1" stop-color="#707070"/></radialGradient><radialGradient id="ing2" cx="0.5" cy="0.5" r="0.62" fx="0.42" fy="0.58"><stop offset="0" stop-color="#373737"/><stop offset="0.45" stop-color="#3f3f3f"/><stop offset="0.8" stop-color="#5e5e5e"/><stop offset="1" stop-color="#707070"/></radialGradient><radialGradient id="ing3" cx="0.5" cy="0.5" r="0.62" fx="0.6" fy="0.45"><stop offset="0" stop-color="#373737"/><stop offset="0.45" stop-color="#3f3f3f"/><stop offset="0.8" stop-color="#5e5e5e"/><stop offset="1" stop-color="#707070"/></radialGradient><radialGradient id="ing4" cx="0.5" cy="0.5" r="0.62" fx="0.42" fy="0.58"><stop offset="0" stop-color="#404040"/><stop offset="0.45" stop-color="#484848"/><stop offset="0.8" stop-color="#5e5e5e"/><stop offset="1" stop-color="#707070"/></radialGradient><radialGradient id="ing5" cx="0.5" cy="0.5" r="0.62" fx="0.6" fy="0.45"><stop offset="0" stop-color="#404040"/><stop offset="0.45" stop-color="#484848"/><stop offset="0.8" stop-color="#5e5e5e"/><stop offset="1" stop-color="#707070"/></radialGradient><radialGradient id="ing6" cx="0.5" cy="0.5" r="0.62" fx="0.42" fy="0.58"><stop offset="0" stop-color="#494949"/><stop offset="0.45" stop-color="#515151"/><stop offset="0.8" stop-color="#5e5e5e"/><stop offset="1" stop-color="#707070"/></radialGradient><radialGradient id="ing7" cx="0.5" cy="0.5" r="0.62" fx="0.6" fy="0.45"><stop offset="0" stop-color="#494949"/><stop offset="0.45" stop-color="#515151"/><stop offset="0.8" stop-color="#5e5e5e"/><stop offset="1" stop-color="#707070"/></radialGradient>
<filter id="inb" filterUnits="userSpaceOnUse" x="338" y="-30" width="248" height="216"><feGaussianBlur stdDeviation="3.6"/></filter>
<filter id="inA" filterUnits="userSpaceOnUse" x="338" y="-30" width="248" height="216" color-interpolation-filters="sRGB"><feTurbulence type="fractalNoise" baseFrequency="0.016" numOctaves="3" seed="21" result="n"/><feDisplacementMap in="SourceGraphic" in2="n" scale="44" xChannelSelector="R" yChannelSelector="G" result="d"/><feGaussianBlur in="d" stdDeviation="0.75"/></filter>
<filter id="inB" filterUnits="userSpaceOnUse" x="338" y="-30" width="248" height="216" color-interpolation-filters="sRGB"><feTurbulence type="fractalNoise" baseFrequency="0.05" numOctaves="2" seed="28" result="n"/><feDisplacementMap in="SourceGraphic" in2="n" scale="9" xChannelSelector="R" yChannelSelector="G" result="d"/><feGaussianBlur in="d" stdDeviation="0.7"/></filter>
<filter id="inP" filterUnits="userSpaceOnUse" x="338" y="-30" width="248" height="216" color-interpolation-filters="sRGB"><feTurbulence type="fractalNoise" baseFrequency="0.022" numOctaves="4" seed="111" result="m"/><feColorMatrix in="m" type="matrix" values="0 0 0 0 0  0 0 0 0 0  0 0 0 0 0  1 0 0 0 0" result="ma"/><feDiffuseLighting in="ma" surfaceScale="4" diffuseConstant="1" lighting-color="#fff" result="lit"><feDistantLight azimuth="200" elevation="42"/></feDiffuseLighting><feColorMatrix in="lit" type="matrix" values="1.0 0 0 0 -0.17  1.0 0 0 0 -0.17  1.0 0 0 0 -0.17  0 0 0 0 1" result="m2"/><feBlend in="m2" in2="SourceGraphic" mode="overlay" result="bm"/><feTurbulence type="fractalNoise" baseFrequency="0.5" numOctaves="2" seed="71" result="g"/><feColorMatrix in="g" type="matrix" values="0.18 0 0 0 0.410  0.18 0 0 0 0.410  0.18 0 0 0 0.410  0 0 0 0 1" result="g2"/><feBlend in="g2" in2="bm" mode="overlay"/></filter></defs>
<g clip-path="url(#inc)">
<rect x="397.6" y="30.0" width="127.9" height="96.0" fill="#626262"/>
<g filter="url(#inP)">
<rect x="337.6" y="-30.0" width="247.9" height="216.0" fill="#626262"/>
<g filter="url(#inA)">
<path d="M418.0,133.5 L406.8,107.1 L353.5,96.7 L322.6,148.6 L386.7,160.7Z" fill="#656565"/>
<path d="M516.8,108.5 L506.7,113.3 L482.1,104.6 L463.7,52.8 L504.2,28.4 L537.0,52.2Z" fill="#5e5e5e"/>
<path d="M433.5,47.2 L422.5,-10.0 L423.3,-11.3 L499.7,-17.8 L503.7,-12.6 L504.2,28.4 L463.7,52.8Z" fill="#696969"/>
<path d="M549.5,51.1 L580.2,11.0 L556.8,-19.4 L503.7,-12.6 L504.2,28.4 L537.0,52.2Z" fill="#595959"/>
<path d="M425.9,136.0 L482.1,104.6 L463.7,52.8 L433.5,47.2 L417.4,60.7 L406.8,107.1 L418.0,133.5Z" fill="#626262"/>
<path d="M567.0,126.5 L569.7,156.1 L545.4,176.2 L503.2,168.6 L506.7,113.3 L516.8,108.5Z" fill="#626262"/>
<path d="M425.9,136.0 L482.1,104.6 L506.7,113.3 L503.2,168.6 L499.0,171.9 L449.6,166.1Z" fill="#595959"/>
<path d="M433.5,47.2 L417.4,60.7 L358.3,41.1 L350.4,13.0 L362.6,-3.1 L422.5,-10.0Z" fill="#6b6b6b"/>
<path d="M599.8,91.0 L549.5,51.1 L537.0,52.2 L516.8,108.5 L567.0,126.5Z" fill="#686868"/>
<path d="M358.3,41.1 L342.3,71.9 L353.5,96.7 L406.8,107.1 L417.4,60.7Z" fill="#5c5c5c"/>
<g filter="url(#inb)"><path d="M397.5,123.5 L391.0,108.3 L360.3,102.3 L342.5,132.2 L379.4,139.2Z" fill="#626262" opacity="0.7"/>
<path d="M517.1,91.8 L510.1,95.1 L493.1,89.0 L480.3,53.1 L508.4,36.1 L531.2,52.7Z" fill="#535353" opacity="0.7"/>
<path d="M435.4,32.1 L427.2,-10.4 L427.8,-11.4 L484.6,-16.3 L487.6,-12.4 L488.0,18.1 L457.9,36.3Z" fill="#5c5c5c" opacity="0.7"/>
<path d="M541.1,41.9 L563.6,12.5 L546.4,-9.8 L507.5,-4.8 L507.8,25.3 L531.9,42.8Z" fill="#4e4e4e" opacity="0.7"/>
<path d="M426.4,112.1 L460.3,93.2 L449.2,62.0 L431.0,58.6 L421.3,66.7 L414.9,94.7 L421.7,110.6Z" fill="#686868" opacity="0.7"/>
<path d="M545.1,133.1 L546.5,149.8 L532.9,161.2 L509.0,156.9 L511.0,125.7 L516.7,123.0Z" fill="#6b6b6b" opacity="0.7"/>
<path d="M440.7,146.7 L479.1,125.2 L496.0,131.1 L493.6,169.0 L490.7,171.2 L456.9,167.3Z" fill="#616161" opacity="0.7"/>
<path d="M414.7,40.3 L402.8,50.3 L359.2,35.8 L353.4,15.1 L362.3,3.2 L406.5,-1.9Z" fill="#616161" opacity="0.7"/>
<path d="M581.7,83.1 L556.5,63.1 L550.3,63.7 L540.1,91.9 L565.3,100.9Z" fill="#6c6c6c" opacity="0.7"/>
<path d="M366.8,51.3 L354.5,74.9 L363.1,94.0 L404.0,102.0 L412.2,66.4Z" fill="#5b5b5b" opacity="0.7"/></g>
<g fill="none" stroke-linejoin="round" filter="url(#inb)"><path d="M418.0,133.5 L406.8,107.1 L353.5,96.7 L322.6,148.6 L386.7,160.7Z" stroke="#b2b2b2" stroke-width="3.5" stroke-opacity="0.39"/>
<path d="M516.8,108.5 L506.7,113.3 L482.1,104.6 L463.7,52.8 L504.2,28.4 L537.0,52.2Z" stroke="#9e9e9e" stroke-width="4.3" stroke-opacity="0.17"/>
<path d="M433.5,47.2 L422.5,-10.0 L423.3,-11.3 L499.7,-17.8 L503.7,-12.6 L504.2,28.4 L463.7,52.8Z" stroke="#888888" stroke-width="4.3" stroke-opacity="0.39"/>
<path d="M549.5,51.1 L580.2,11.0 L556.8,-19.4 L503.7,-12.6 L504.2,28.4 L537.0,52.2Z" stroke="#999999" stroke-width="3.9" stroke-opacity="0.37"/>
<path d="M425.9,136.0 L482.1,104.6 L463.7,52.8 L433.5,47.2 L417.4,60.7 L406.8,107.1 L418.0,133.5Z" stroke="#959595" stroke-width="4.4" stroke-opacity="0.19"/>
<path d="M567.0,126.5 L569.7,156.1 L545.4,176.2 L503.2,168.6 L506.7,113.3 L516.8,108.5Z" stroke="#b2b2b2" stroke-width="4.2" stroke-opacity="0.23"/>
<path d="M425.9,136.0 L482.1,104.6 L506.7,113.3 L503.2,168.6 L499.0,171.9 L449.6,166.1Z" stroke="#7f7f7f" stroke-width="2.6" stroke-opacity="0.28"/>
<path d="M433.5,47.2 L417.4,60.7 L358.3,41.1 L350.4,13.0 L362.6,-3.1 L422.5,-10.0Z" stroke="#a2a2a2" stroke-width="3.7" stroke-opacity="0.31"/>
<path d="M599.8,91.0 L549.5,51.1 L537.0,52.2 L516.8,108.5 L567.0,126.5Z" stroke="#a5a5a5" stroke-width="3.1" stroke-opacity="0.38"/>
<path d="M358.3,41.1 L342.3,71.9 L353.5,96.7 L406.8,107.1 L417.4,60.7Z" stroke="#b0b0b0" stroke-width="4.8" stroke-opacity="0.33"/></g>
<g fill="none" stroke-linejoin="round"><path d="M418.0,133.5 L406.8,107.1 L353.5,96.7 L322.6,148.6 L386.7,160.7Z" stroke="#cbcbcb" stroke-width="1.03" stroke-opacity="0.82"/>
<path d="M516.8,108.5 L506.7,113.3 L482.1,104.6 L463.7,52.8 L504.2,28.4 L537.0,52.2Z" stroke="#b7b7b7" stroke-width="0.91" stroke-opacity="0.84"/>
<path d="M433.5,47.2 L422.5,-10.0 L423.3,-11.3 L499.7,-17.8 L503.7,-12.6 L504.2,28.4 L463.7,52.8Z" stroke="#a1a1a1" stroke-width="1.28" stroke-opacity="0.82"/>
<path d="M549.5,51.1 L580.2,11.0 L556.8,-19.4 L503.7,-12.6 L504.2,28.4 L537.0,52.2Z" stroke="#b2b2b2" stroke-width="0.73" stroke-opacity="0.92"/>
<path d="M425.9,136.0 L482.1,104.6 L463.7,52.8 L433.5,47.2 L417.4,60.7 L406.8,107.1 L418.0,133.5Z" stroke="#aeaeae" stroke-width="1.27" stroke-opacity="0.80"/>
<path d="M567.0,126.5 L569.7,156.1 L545.4,176.2 L503.2,168.6 L506.7,113.3 L516.8,108.5Z" stroke="#cbcbcb" stroke-width="0.78" stroke-opacity="0.93"/>
<path d="M425.9,136.0 L482.1,104.6 L506.7,113.3 L503.2,168.6 L499.0,171.9 L449.6,166.1Z" stroke="#989898" stroke-width="0.79" stroke-opacity="0.90"/>
<path d="M433.5,47.2 L417.4,60.7 L358.3,41.1 L350.4,13.0 L362.6,-3.1 L422.5,-10.0Z" stroke="#bbbbbb" stroke-width="0.95" stroke-opacity="0.57"/>
<path d="M599.8,91.0 L549.5,51.1 L537.0,52.2 L516.8,108.5 L567.0,126.5Z" stroke="#bebebe" stroke-width="0.79" stroke-opacity="0.91"/>
<path d="M358.3,41.1 L342.3,71.9 L353.5,96.7 L406.8,107.1 L417.4,60.7Z" stroke="#c9c9c9" stroke-width="1.57" stroke-opacity="0.71"/><path d="M368.9,116.6 Q379.4,127.7 403.0,126.2" stroke="#979797" stroke-width="0.77" stroke-opacity="0.64"/>
<path d="M386.4,126.8 Q387.3,135.3 370.7,133.7" stroke="#ababab" stroke-width="0.87" stroke-opacity="0.41"/>
<path d="M465.3,-1.9 Q485.9,2.8 498.2,4.2" stroke="#adadad" stroke-width="0.69" stroke-opacity="0.58"/>
<path d="M470.2,12.2 Q493.3,15.8 500.6,25.6" stroke="#a6a6a6" stroke-width="0.73" stroke-opacity="0.33"/>
<path d="M542.0,26.8 Q544.0,39.0 565.5,39.7" stroke="#adadad" stroke-width="0.44" stroke-opacity="0.60"/>
<path d="M540.8,16.9 Q535.7,33.2 544.0,43.0" stroke="#a3a3a3" stroke-width="0.50" stroke-opacity="0.58"/>
<path d="M545.7,137.4 Q548.1,148.8 529.8,164.9" stroke="#9e9e9e" stroke-width="0.84" stroke-opacity="0.43"/>
<path d="M533.3,138.2 Q522.8,147.8 527.3,166.6" stroke="#a7a7a7" stroke-width="0.56" stroke-opacity="0.38"/>
<path d="M489.3,149.4 Q465.3,156.6 461.5,167.0" stroke="#afafaf" stroke-width="0.68" stroke-opacity="0.58"/>
<path d="M390.3,32.9 Q395.6,23.9 417.2,35.5" stroke="#919191" stroke-width="0.53" stroke-opacity="0.53"/>
<path d="M379.7,21.0 Q383.6,28.6 374.2,46.2" stroke="#a2a2a2" stroke-width="0.66" stroke-opacity="0.39"/>
<path d="M366.7,70.8 Q352.9,67.9 359.7,85.8" stroke="#bababa" stroke-width="0.56" stroke-opacity="0.45"/>
<path d="M374.0,74.3 Q353.8,81.5 352.5,86.2" stroke="#a1a1a1" stroke-width="0.45" stroke-opacity="0.37"/></g>
</g>
<g filter="url(#inB)">
<defs><radialGradient id="ine0" cx="0.5" cy="0.5" r="0.5"><stop offset="0" stop-color="#747474"/><stop offset="0.65" stop-color="#707070" stop-opacity="0.92"/><stop offset="1" stop-color="#707070" stop-opacity="0"/></radialGradient><radialGradient id="ine1" cx="0.5" cy="0.5" r="0.5"><stop offset="0" stop-color="#808080"/><stop offset="0.65" stop-color="#7c7c7c" stop-opacity="0.92"/><stop offset="1" stop-color="#7c7c7c" stop-opacity="0"/></radialGradient><radialGradient id="ine2" cx="0.5" cy="0.5" r="0.5"><stop offset="0" stop-color="#848484"/><stop offset="0.65" stop-color="#808080" stop-opacity="0.92"/><stop offset="1" stop-color="#808080" stop-opacity="0"/></radialGradient><radialGradient id="ine3" cx="0.5" cy="0.5" r="0.5"><stop offset="0" stop-color="#767676"/><stop offset="0.65" stop-color="#727272" stop-opacity="0.92"/><stop offset="1" stop-color="#727272" stop-opacity="0"/></radialGradient><radialGradient id="ine4" cx="0.5" cy="0.5" r="0.5"><stop offset="0" stop-color="#c2c2c2"/><stop offset="0.65" stop-color="#bebebe" stop-opacity="0.92"/><stop offset="1" stop-color="#bebebe" stop-opacity="0"/></radialGradient><radialGradient id="ine5" cx="0.5" cy="0.5" r="0.5"><stop offset="0" stop-color="#3b3b3b"/><stop offset="0.65" stop-color="#373737" stop-opacity="0.92"/><stop offset="1" stop-color="#373737" stop-opacity="0"/></radialGradient><radialGradient id="ine6" cx="0.5" cy="0.5" r="0.5" fx="0.42" fy="0.45"><stop offset="0" stop-color="#1f1f1f"/><stop offset="0.7" stop-color="#292929"/><stop offset="0.86" stop-color="#343434"/><stop offset="0.95" stop-color="#4c4c4c"/><stop offset="1" stop-color="#767676" stop-opacity="0.6"/></radialGradient><radialGradient id="ine7" cx="0.5" cy="0.5" r="0.5" fx="0.58" fy="0.6"><stop offset="0" stop-color="#282828"/><stop offset="0.7" stop-color="#323232"/><stop offset="0.86" stop-color="#3d3d3d"/><stop offset="0.95" stop-color="#555555"/><stop offset="1" stop-color="#767676" stop-opacity="0.6"/></radialGradient><radialGradient id="ine8" cx="0.5" cy="0.5" r="0.5"><stop offset="0" stop-color="#3c3c3c"/><stop offset="0.65" stop-color="#383838" stop-opacity="0.92"/><stop offset="1" stop-color="#383838" stop-opacity="0"/></radialGradient><radialGradient id="ine9" cx="0.5" cy="0.5" r="0.5" fx="0.58" fy="0.45"><stop offset="0" stop-color="#1f1f1f"/><stop offset="0.7" stop-color="#292929"/><stop offset="0.86" stop-color="#343434"/><stop offset="0.95" stop-color="#4c4c4c"/><stop offset="1" stop-color="#767676" stop-opacity="0.6"/></radialGradient><radialGradient id="ine10" cx="0.5" cy="0.5" r="0.5" fx="0.58" fy="0.45"><stop offset="0" stop-color="#1f1f1f"/><stop offset="0.7" stop-color="#292929"/><stop offset="0.86" stop-color="#343434"/><stop offset="0.95" stop-color="#4c4c4c"/><stop offset="1" stop-color="#767676" stop-opacity="0.6"/></radialGradient><radialGradient id="ine11" cx="0.5" cy="0.5" r="0.5"><stop offset="0" stop-color="#404040"/><stop offset="0.65" stop-color="#3c3c3c" stop-opacity="0.92"/><stop offset="1" stop-color="#3c3c3c" stop-opacity="0"/></radialGradient></defs><ellipse cx="429.6" cy="98.4" rx="29.4" ry="29.4" transform="rotate(0 429.6 98.4)" fill="url(#ine0)"/>
<ellipse cx="511.0" cy="91.9" rx="14.4" ry="24.0" transform="rotate(0 511.0 91.9)" fill="url(#ine1)"/>
<ellipse cx="413.3" cy="44.7" rx="9.6" ry="7.8" transform="rotate(0 413.3 44.7)" fill="url(#ine2)"/>
<ellipse cx="494.7" cy="43.0" rx="24.0" ry="9.6" transform="rotate(0 494.7 43.0)" fill="url(#ine3)"/>
<ellipse cx="436.1" cy="60.9" rx="5.4" ry="9.6" transform="rotate(10 436.1 60.9)" fill="url(#ine4)"/>
<ellipse cx="481.7" cy="82.1" rx="14.4" ry="39.0" transform="rotate(5 481.7 82.1)" fill="url(#ine5)"/>
<ellipse cx="438.5" cy="54.4" rx="5.6" ry="4.5" transform="rotate(0 438.5 54.4)" fill="url(#ine6)"/>
<ellipse cx="512.6" cy="52.8" rx="5.6" ry="6.2" transform="rotate(0 512.6 52.8)" fill="url(#ine7)"/>
<ellipse cx="406.8" cy="62.6" rx="12.0" ry="19.8" transform="rotate(0 406.8 62.6)" fill="url(#ine8)"/>
<ellipse cx="408.4" cy="103.3" rx="4.5" ry="2.8" transform="rotate(0 408.4 103.3)" fill="url(#ine9)"/>
<ellipse cx="401.9" cy="117.9" rx="2.8" ry="4.5" transform="rotate(0 401.9 117.9)" fill="url(#ine10)"/>
<ellipse cx="488.2" cy="121.2" rx="9.6" ry="6.0" transform="rotate(0 488.2 121.2)" fill="url(#ine11)"/><g><ellipse cx="438.5" cy="54.4" rx="5.6" ry="4.5" transform="rotate(232 438.5 54.4)" fill="none" stroke="#a3a3a3" stroke-width="1.43" stroke-opacity="0.55" stroke-dasharray="16.9 5.6"/>
<ellipse cx="512.6" cy="52.8" rx="5.6" ry="6.2" transform="rotate(64 512.6 52.8)" fill="none" stroke="#b6b6b6" stroke-width="0.90" stroke-opacity="0.81" stroke-dasharray="11.9 7.6"/>
<ellipse cx="408.4" cy="103.3" rx="4.5" ry="2.8" transform="rotate(46 408.4 103.3)" fill="none" stroke="#cacaca" stroke-width="1.19" stroke-opacity="0.59" stroke-dasharray="8.5 4.8"/>
<ellipse cx="401.9" cy="117.9" rx="2.8" ry="4.5" transform="rotate(188 401.9 117.9)" fill="none" stroke="#aeaeae" stroke-width="1.36" stroke-opacity="0.85" stroke-dasharray="8.1 4.1"/></g>
</g>
</g></g>
<rect x="397.6" y="30.0" width="127.9" height="96.0" fill="none" stroke="#ee0a0a" stroke-width="1.6"/>
<text x="292.0" y="47.4" font-family='"Liberation Serif","DejaVu Serif",serif' font-size="19.5" font-weight="bold" text-anchor="start" fill="#fff" stroke="#fff" stroke-width="0.15">(i)</text>
<text x="289.9" y="204.9" font-family='"Liberation Serif","DejaVu Serif",serif' font-size="17.3" font-weight="normal" text-anchor="start" fill="#fff" stroke="#fff" stroke-width="0.15" textLength="71.8" lengthAdjust="spacingAndGlyphs">PANI 0%</text>
<rect x="477.00" y="203.10" width="39.90" height="2.50" fill="#fff"/>
<text x="497.65" y="199.5" font-family='"Liberation Serif","DejaVu Serif",serif' font-size="9.6" font-weight="bold" text-anchor="middle" fill="#fff" stroke="#fff" stroke-width="0.15" textLength="29.2" lengthAdjust="spacingAndGlyphs">100μm</text>
<rect x="486.00" y="114.80" width="26.00" height="2.20" fill="#ee8530"/>
<text x="499.7" y="112.9" font-family='"Liberation Serif","DejaVu Serif",serif' font-size="10.7" font-weight="bold" text-anchor="middle" fill="#ee8530" stroke="#ee8530" stroke-width="0.15" textLength="29.6" lengthAdjust="spacingAndGlyphs">200μm</text>
<text x="288.3" y="217.4" font-family='"Liberation Sans","DejaVu Sans",sans-serif' font-size="7.2" font-weight="normal" text-anchor="start" fill="#ececec" stroke="#ececec" stroke-width="0.15" textLength="114.4" lengthAdjust="spacingAndGlyphs">SU8010 10.0kV 10.5mm x100 LM(L)</text>
<text x="493.8" y="217.4" font-family='"Liberation Sans","DejaVu Sans",sans-serif' font-size="7.2" font-weight="normal" text-anchor="start" fill="#ececec" stroke="#ececec" stroke-width="0.15" textLength="21.0" lengthAdjust="spacingAndGlyphs">500um</text>
<line x1="425.90" y1="206.50" x2="425.90" y2="211.30" stroke="#e4e4e4" stroke-width="0.9" stroke-linecap="butt"/>
<line x1="435.34" y1="207.50" x2="435.34" y2="210.90" stroke="#e4e4e4" stroke-width="0.9" stroke-linecap="butt"/>
<line x1="444.78" y1="207.50" x2="444.78" y2="210.90" stroke="#e4e4e4" stroke-width="0.9" stroke-linecap="butt"/>
<line x1="454.22" y1="207.50" x2="454.22" y2="210.90" stroke="#e4e4e4" stroke-width="0.9" stroke-linecap="butt"/>
<line x1="463.66" y1="207.50" x2="463.66" y2="210.90" stroke="#e4e4e4" stroke-width="0.9" stroke-linecap="butt"/>
<line x1="473.10" y1="206.50" x2="473.10" y2="211.30" stroke="#e4e4e4" stroke-width="0.9" stroke-linecap="butt"/>
<line x1="482.54" y1="207.50" x2="482.54" y2="210.90" stroke="#e4e4e4" stroke-width="0.9" stroke-linecap="butt"/>
<line x1="491.98" y1="207.50" x2="491.98" y2="210.90" stroke="#e4e4e4" stroke-width="0.9" stroke-linecap="butt"/>
<line x1="501.42" y1="207.50" x2="501.42" y2="210.90" stroke="#e4e4e4" stroke-width="0.9" stroke-linecap="butt"/>
<line x1="510.86" y1="207.50" x2="510.86" y2="210.90" stroke="#e4e4e4" stroke-width="0.9" stroke-linecap="butt"/>
<line x1="520.30" y1="206.50" x2="520.30" y2="211.30" stroke="#e4e4e4" stroke-width="0.9" stroke-linecap="butt"/>
</g>
<g id="sem-ii">
<defs><clipPath id="iimc"><rect x="540.1" y="26.1" width="247.5" height="196.0"/></clipPath>
<radialGradient id="iimg0" cx="0.5" cy="0.5" r="0.62" fx="0.42" fy="0.58"><stop offset="0" stop-color="#3d3d3d"/><stop offset="0.45" stop-color="#454545"/><stop offset="0.8" stop-color="#707070"/><stop offset="1" stop-color="#828282"/></radialGradient><radialGradient id="iimg1" cx="0.5" cy="0.5" r="0.62" fx="0.6" fy="0.45"><stop offset="0" stop-color="#3d3d3d"/><stop offset="0.45" stop-color="#454545"/><stop offset="0.8" stop-color="#707070"/><stop offset="1" stop-color="#828282"/></radialGradient><radialGradient id="iimg2" cx="0.5" cy="0.5" r="0.62" fx="0.42" fy="0.58"><stop offset="0" stop-color="#464646"/><stop offset="0.45" stop-color="#4e4e4e"/><stop offset="0.8" stop-color="#707070"/><stop offset="1" stop-color="#828282"/></radialGradient><radialGradient id="iimg3" cx="0.5" cy="0.5" r="0.62" fx="0.6" fy="0.45"><stop offset="0" stop-color="#464646"/><stop offset="0.45" stop-color="#4e4e4e"/><stop offset="0.8" stop-color="#707070"/><stop offset="1" stop-color="#828282"/></radialGradient><radialGradient id="iimg4" cx="0.5" cy="0.5" r="0.62" fx="0.42" fy="0.58"><stop offset="0" stop-color="#505050"/><stop offset="0.45" stop-color="#585858"/><stop offset="0.8" stop-color="#707070"/><stop offset="1" stop-color="#828282"/></radialGradient><radialGradient id="iimg5" cx="0.5" cy="0.5" r="0.62" fx="0.6" fy="0.45"><stop offset="0" stop-color="#505050"/><stop offset="0.45" stop-color="#585858"/><stop offset="0.8" stop-color="#707070"/><stop offset="1" stop-color="#828282"/></radialGradient><radialGradient id="iimg6" cx="0.5" cy="0.5" r="0.62" fx="0.42" fy="0.58"><stop offset="0" stop-color="#5a5a5a"/><stop offset="0.45" stop-color="#626262"/><stop offset="0.8" stop-color="#707070"/><stop offset="1" stop-color="#828282"/></radialGradient><radialGradient id="iimg7" cx="0.5" cy="0.5" r="0.62" fx="0.6" fy="0.45"><stop offset="0" stop-color="#5a5a5a"/><stop offset="0.45" stop-color="#626262"/><stop offset="0.8" stop-color="#707070"/><stop offset="1" stop-color="#828282"/></radialGradient>
<filter id="iimb" filterUnits="userSpaceOnUse" x="480" y="-34" width="368" height="316"><feGaussianBlur stdDeviation="1.8"/></filter>
<filter id="iimA" filterUnits="userSpaceOnUse" x="480" y="-34" width="368" height="316" color-interpolation-filters="sRGB"><feTurbulence type="fractalNoise" baseFrequency="0.03" numOctaves="3" seed="12" result="n"/><feDisplacementMap in="SourceGraphic" in2="n" scale="26" xChannelSelector="R" yChannelSelector="G" result="d"/><feGaussianBlur in="d" stdDeviation="0.75"/></filter>
<filter id="iimB" filterUnits="userSpaceOnUse" x="480" y="-34" width="368" height="316" color-interpolation-filters="sRGB"><feTurbulence type="fractalNoise" baseFrequency="0.05" numOctaves="2" seed="19" result="n"/><feDisplacementMap in="SourceGraphic" in2="n" scale="9" xChannelSelector="R" yChannelSelector="G" result="d"/><feGaussianBlur in="d" stdDeviation="0.7"/></filter>
<filter id="iimP" filterUnits="userSpaceOnUse" x="480" y="-34" width="368" height="316" color-interpolation-filters="sRGB"><feTurbulence type="fractalNoise" baseFrequency="0.022" numOctaves="4" seed="102" result="m"/><feColorMatrix in="m" type="matrix" values="0 0 0 0 0  0 0 0 0 0  0 0 0 0 0  1 0 0 0 0" result="ma"/><feDiffuseLighting in="ma" surfaceScale="4" diffuseConstant="1" lighting-color="#fff" result="lit"><feDistantLight azimuth="200" elevation="42"/></feDiffuseLighting><feColorMatrix in="lit" type="matrix" values="1.0 0 0 0 -0.17  1.0 0 0 0 -0.17  1.0 0 0 0 -0.17  0 0 0 0 1" result="m2"/><feBlend in="m2" in2="SourceGraphic" mode="overlay" result="bm"/><feTurbulence type="fractalNoise" baseFrequency="0.5" numOctaves="2" seed="62" result="g"/><feColorMatrix in="g" type="matrix" values="0.18 0 0 0 0.410  0.18 0 0 0 0.410  0.18 0 0 0 0.410  0 0 0 0 1" result="g2"/><feBlend in="g2" in2="bm" mode="overlay"/></filter></defs>
<g clip-path="url(#iimc)">
<rect x="540.1" y="26.1" width="247.5" height="196.0" fill="#747474"/>
<g filter="url(#iimP)">
<rect x="480.1" y="-33.9" width="367.5" height="316.0" fill="#747474"/>
<g filter="url(#iimA)">
<path d="M652.2,192.5 L668.6,183.6 L669.6,157.8 L655.6,149.6 L633.7,169.6 L632.9,175.2Z" fill="#727272"/>
<path d="M742.3,21.3 L740.1,34.8 L719.3,47.1 L699.8,37.8 L710.5,8.7Z" fill="url(#iimg5)"/>
<path d="M582.9,185.3 L571.8,196.3 L570.7,220.3 L575.2,226.5 L603.7,229.3 L611.4,212.6 L604.0,186.5 L595.3,182.3Z" fill="#6a6a6a"/>
<path d="M727.0,171.7 L703.5,157.8 L698.7,145.4 L714.8,131.0 L748.2,145.2Z" fill="#7d7d7d"/>
<path d="M703.5,157.8 L698.7,145.4 L698.5,145.3 L669.6,157.8 L668.6,183.6 L689.7,188.1Z" fill="#767676"/>
<path d="M554.2,128.6 L534.8,119.7 L530.0,91.8 L560.8,88.9 L567.6,113.3Z" fill="#787878"/>
<path d="M570.7,220.3 L575.2,226.5 L565.1,255.9 L537.8,242.0 L536.5,224.3 L537.9,222.3Z" fill="#7b7b7b"/>
<path d="M537.9,222.3 L536.5,224.3 L485.9,225.5 L520.9,193.1 L534.4,195.0Z" fill="#686868"/>
<path d="M541.3,189.2 L543.4,159.8 L520.9,154.4 L500.8,166.2 L520.9,193.1 L534.4,195.0Z" fill="#7a7a7a"/>
<path d="M606.4,75.8 L625.5,89.5 L625.3,109.6 L596.5,118.0 L596.4,117.9 L595.6,80.3Z" fill="#6b6b6b"/>
<path d="M537.8,242.0 L536.5,224.3 L485.9,225.5 L484.5,226.0 L523.4,256.4Z" fill="#787878"/>
<path d="M683.3,-2.0 L677.4,29.0 L664.0,31.1 L642.9,12.5 L662.8,-36.0Z" fill="#717171"/>
<path d="M524.9,81.4 L532.0,58.4 L550.8,56.6 L567.1,80.1 L560.8,88.9 L530.0,91.8 L529.0,91.1Z" fill="#7b7b7b"/>
<path d="M753.9,8.6 L740.9,-59.8 L710.1,7.8 L710.5,8.7 L742.3,21.3Z" fill="url(#iimg7)"/>
<path d="M714.8,131.0 L717.4,114.4 L710.8,104.5 L684.0,97.4 L682.4,99.0 L678.5,124.6 L698.5,145.3 L698.7,145.4Z" fill="url(#iimg4)"/>
<path d="M596.5,118.0 L598.8,141.2 L620.2,145.1 L643.3,124.5 L642.6,122.0 L625.3,109.6Z" fill="#797979"/>
<path d="M754.5,145.8 L751.5,144.5 L750.9,104.8 L751.0,104.6 L758.5,102.4 L787.6,112.4 L770.2,142.8Z" fill="url(#iimg3)"/>
<path d="M652.2,192.5 L632.9,175.2 L604.0,186.5 L611.4,212.6 L650.2,212.2Z" fill="#6c6c6c"/>
<path d="M554.7,152.9 L543.4,159.8 L520.9,154.4 L518.9,130.3 L534.8,119.7 L554.2,128.6 L557.2,148.1Z" fill="#767676"/>
<path d="M554.7,152.9 L543.4,159.8 L541.3,189.2 L571.8,196.3 L582.9,185.3Z" fill="#6b6b6b"/>
<path d="M461.2,61.3 L522.2,44.9 L532.0,58.4 L524.9,81.4Z" fill="#6c6c6c"/>
<path d="M595.3,182.3 L604.0,186.5 L632.9,175.2 L633.7,169.6 L620.2,145.1 L598.8,141.2 L596.4,144.2Z" fill="#717171"/>
<path d="M487.6,115.1 L518.9,130.3 L534.8,119.7 L530.0,91.8 L529.0,91.1Z" fill="url(#iimg0)"/>
<path d="M596.1,32.7 L614.2,58.6 L634.2,53.2 L630.6,18.4 L625.5,17.6Z" fill="#7f7f7f"/>
<path d="M733.6,76.8 L751.0,104.6 L758.5,102.4 L770.5,67.1 L766.4,59.3 L761.6,58.1Z" fill="url(#iimg7)"/>
<path d="M793.6,178.6 L796.0,161.2 L770.2,142.8 L754.5,145.8 L762.3,177.9 L791.5,179.7Z" fill="url(#iimg2)"/>
<path d="M557.2,148.1 L554.2,128.6 L567.6,113.3 L596.4,117.9 L596.5,118.0 L598.8,141.2 L596.4,144.2Z" fill="#6c6c6c"/>
<path d="M565.1,255.9 L575.2,226.5 L603.7,229.3 L606.5,235.1 L578.9,305.3Z" fill="#6c6c6c"/>
<path d="M793.3,7.7 L776.7,14.9 L779.0,45.6 L807.9,45.6 L809.0,44.5 L801.5,10.8Z" fill="#757575"/>
<path d="M594.2,32.3 L580.9,38.6 L580.8,75.7 L595.6,80.3 L606.4,75.8 L614.2,58.6 L596.1,32.7Z" fill="#6f6f6f"/>
<path d="M710.4,240.7 L679.8,254.5 L668.2,227.6 L700.9,209.0Z" fill="#737373"/>
<path d="M793.6,178.6 L803.4,184.9 L815.5,221.7 L814.3,222.5 L777.2,220.0 L775.7,216.0 L791.5,179.7Z" fill="#757575"/>
<path d="M770.6,237.7 L800.3,263.8 L814.3,222.5 L777.2,220.0Z" fill="#6c6c6c"/>
<path d="M702.1,206.4 L689.7,188.1 L668.6,183.6 L652.2,192.5 L650.2,212.2 L655.1,222.2 L668.2,227.6 L700.9,209.0Z" fill="#777777"/>
<path d="M722.5,74.5 L710.8,104.5 L717.4,114.4 L750.9,104.8 L751.0,104.6 L733.6,76.8Z" fill="#797979"/>
<path d="M595.6,80.3 L580.8,75.7 L567.1,80.1 L560.8,88.9 L567.6,113.3 L596.4,117.9Z" fill="#7a7a7a"/>
<path d="M563.6,0.8 L558.4,29.3 L526.8,23.8 L525.9,22.3 L527.9,8.7 L554.3,-12.7Z" fill="#6a6a6a"/>
<path d="M790.4,77.5 L792.2,105.3 L839.2,90.7 L806.5,69.8Z" fill="#6a6a6a"/>
<path d="M650.7,60.7 L664.0,31.1 L642.9,12.5 L630.6,18.4 L634.2,53.2Z" fill="#7d7d7d"/>
<path d="M652.3,63.5 L681.3,70.2 L683.5,73.3 L684.0,97.4 L682.4,99.0 L655.9,99.8 L645.9,80.5Z" fill="#777777"/>
<path d="M650.2,212.2 L655.1,222.2 L633.8,247.9 L606.5,235.1 L603.7,229.3 L611.4,212.6Z" fill="#777777"/>
<path d="M719.9,71.2 L683.5,73.3 L681.3,70.2 L692.6,39.2 L699.8,37.8 L719.3,47.1Z" fill="url(#iimg5)"/>
<path d="M753.9,8.6 L776.7,14.9 L779.0,45.6 L766.4,59.3 L761.6,58.1 L740.1,34.8 L742.3,21.3Z" fill="#737373"/>
<path d="M563.1,35.4 L550.8,56.6 L567.1,80.1 L580.8,75.7 L580.9,38.6Z" fill="#7e7e7e"/>
<path d="M625.5,89.5 L645.9,80.5 L655.9,99.8 L642.6,122.0 L625.3,109.6Z" fill="#727272"/>
<path d="M791.5,179.7 L775.7,216.0 L751.5,202.2 L752.2,186.9 L762.3,177.9Z" fill="#787878"/>
<path d="M642.6,122.0 L655.9,99.8 L682.4,99.0 L678.5,124.6 L651.6,130.8 L643.3,124.5Z" fill="#787878"/>
<path d="M736.8,212.6 L751.5,202.2 L752.2,186.9 L727.9,174.3 L712.8,203.4Z" fill="#727272"/>
<path d="M748.2,145.2 L714.8,131.0 L717.4,114.4 L750.9,104.8 L751.5,144.5Z" fill="#6b6b6b"/>
<path d="M678.5,124.6 L698.5,145.3 L669.6,157.8 L655.6,149.6 L651.6,130.8Z" fill="#6c6c6c"/>
<path d="M770.5,67.1 L758.5,102.4 L787.6,112.4 L787.6,112.4 L792.2,105.3 L790.4,77.5Z" fill="#6e6e6e"/>
<path d="M710.4,240.7 L700.9,209.0 L702.1,206.4 L712.8,203.4 L736.8,212.6 L738.9,233.2 L718.7,245.1Z" fill="#6c6c6c"/>
<path d="M722.5,74.5 L710.8,104.5 L684.0,97.4 L683.5,73.3 L719.9,71.2Z" fill="#7a7a7a"/>
<path d="M563.1,35.4 L550.8,56.6 L532.0,58.4 L522.2,44.9 L526.8,23.8 L558.4,29.3Z" fill="#707070"/>
<path d="M606.4,75.8 L614.2,58.6 L634.2,53.2 L650.7,60.7 L652.3,63.5 L645.9,80.5 L625.5,89.5Z" fill="#7e7e7e"/>
<path d="M563.6,0.8 L558.4,29.3 L563.1,35.4 L580.9,38.6 L594.2,32.3 L587.8,5.0Z" fill="url(#iimg2)"/>
<path d="M712.8,203.4 L727.9,174.3 L727.0,171.7 L703.5,157.8 L689.7,188.1 L702.1,206.4Z" fill="#696969"/>
<path d="M738.9,233.2 L757.9,243.7 L770.6,237.7 L777.2,220.0 L775.7,216.0 L751.5,202.2 L736.8,212.6Z" fill="#747474"/>
<path d="M779.0,45.6 L766.4,59.3 L770.5,67.1 L790.4,77.5 L806.5,69.8 L807.9,45.6Z" fill="#686868"/>
<path d="M652.3,63.5 L681.3,70.2 L692.6,39.2 L677.4,29.0 L664.0,31.1 L650.7,60.7Z" fill="#777777"/>
<path d="M554.7,152.9 L582.9,185.3 L595.3,182.3 L596.4,144.2 L557.2,148.1Z" fill="#7e7e7e"/>
<path d="M796.0,161.2 L802.9,154.5 L803.7,127.7 L787.6,112.4 L787.6,112.4 L770.2,142.8Z" fill="#7e7e7e"/>
<path d="M722.5,74.5 L733.6,76.8 L761.6,58.1 L740.1,34.8 L719.3,47.1 L719.9,71.2Z" fill="url(#iimg3)"/>
<path d="M571.8,196.3 L541.3,189.2 L534.4,195.0 L537.9,222.3 L570.7,220.3Z" fill="#767676"/>
<path d="M620.2,145.1 L633.7,169.6 L655.6,149.6 L651.6,130.8 L643.3,124.5Z" fill="#797979"/>
<path d="M710.5,8.7 L699.8,37.8 L692.6,39.2 L677.4,29.0 L683.3,-2.0 L710.1,7.8Z" fill="#787878"/>
<path d="M762.3,177.9 L752.2,186.9 L727.9,174.3 L727.0,171.7 L748.2,145.2 L751.5,144.5 L754.5,145.8Z" fill="url(#iimg2)"/>
<path d="M603.9,-14.5 L625.5,17.6 L596.1,32.7 L594.2,32.3 L587.8,5.0Z" fill="url(#iimg2)"/>
<g filter="url(#iimb)"><path d="M648.9,186.9 L657.4,182.3 L657.9,168.9 L650.6,164.6 L639.2,175.0 L638.8,177.9Z" fill="#737373" opacity="0.7"/>
<path d="M584.0,194.4 L575.5,202.8 L574.6,221.2 L578.1,226.0 L600.0,228.2 L605.8,215.4 L600.1,195.3 L593.5,192.1Z" fill="#616161" opacity="0.7"/>
<path d="M722.9,160.5 L707.2,151.3 L704.1,143.1 L714.7,133.5 L736.9,142.9Z" fill="#727272" opacity="0.7"/>
<path d="M697.0,154.6 L693.4,145.1 L693.2,145.0 L670.9,154.6 L670.1,174.5 L686.4,178.0Z" fill="#7a7a7a" opacity="0.7"/>
<path d="M552.3,128.2 L537.7,121.5 L534.0,100.4 L557.3,98.1 L562.4,116.7Z" fill="#7b7b7b" opacity="0.7"/>
<path d="M561.8,228.2 L564.0,231.3 L559.0,246.0 L545.3,239.1 L544.7,230.2 L545.4,229.2Z" fill="#828282" opacity="0.7"/>
<path d="M533.5,220.2 L532.6,221.5 L499.9,222.3 L522.6,201.4 L531.3,202.6Z" fill="#686868" opacity="0.7"/>
<path d="M539.0,184.6 L540.4,164.4 L525.0,160.7 L511.2,168.8 L525.0,187.2 L534.2,188.6Z" fill="#787878" opacity="0.7"/>
<path d="M602.6,87.4 L612.6,94.6 L612.5,105.2 L597.3,109.6 L597.3,109.5 L596.9,89.8Z" fill="#717171" opacity="0.7"/>
<path d="M528.9,240.0 L528.0,227.8 L493.3,228.6 L492.3,229.0 L519.0,249.8Z" fill="#848484" opacity="0.7"/>
<path d="M675.8,-0.1 L672.8,15.7 L666.0,16.8 L655.2,7.3 L665.3,-17.5Z" fill="#7d7d7d" opacity="0.7"/>
<path d="M527.1,79.7 L531.5,65.7 L543.0,64.6 L553.0,79.0 L549.2,84.3 L530.3,86.1 L529.7,85.7Z" fill="#848484" opacity="0.7"/>
<path d="M604.2,119.3 L606.0,137.1 L622.4,140.0 L640.0,124.2 L639.4,122.3 L626.2,112.9Z" fill="#848484" opacity="0.7"/>
<path d="M649.1,188.8 L635.7,176.9 L615.6,184.7 L620.8,202.8 L647.8,202.6Z" fill="#6a6a6a" opacity="0.7"/>
<path d="M545.2,147.0 L538.1,151.4 L523.9,147.9 L522.6,132.7 L532.7,126.0 L544.9,131.7 L546.8,144.0Z" fill="#6f6f6f" opacity="0.7"/>
<path d="M560.5,160.3 L552.9,164.9 L551.5,184.8 L572.1,189.6 L579.5,182.1Z" fill="#666666" opacity="0.7"/>
<path d="M478.4,59.0 L520.4,47.6 L527.2,57.0 L522.3,72.8Z" fill="#686868" opacity="0.7"/>
<path d="M595.3,178.2 L601.9,181.4 L623.8,172.9 L624.4,168.6 L614.2,150.0 L597.9,147.1 L596.1,149.3Z" fill="#666666" opacity="0.7"/>
<path d="M600.7,31.7 L613.3,49.8 L627.2,46.0 L624.7,21.7 L621.1,21.2Z" fill="#7d7d7d" opacity="0.7"/>
<path d="M570.0,143.9 L568.5,133.6 L575.5,125.5 L590.8,127.9 L590.8,128.0 L592.0,140.3 L590.8,141.8Z" fill="#6a6a6a" opacity="0.7"/>
<path d="M573.4,251.9 L580.6,230.9 L601.0,232.9 L603.0,237.0 L583.3,287.2Z" fill="#757575" opacity="0.7"/>
<path d="M793.5,21.5 L784.6,25.3 L785.9,41.6 L801.2,41.6 L801.8,41.0 L797.8,23.1Z" fill="#777777" opacity="0.7"/>
<path d="M592.7,41.3 L582.8,45.9 L582.7,73.6 L593.7,77.0 L601.8,73.7 L607.6,60.9 L594.1,41.6Z" fill="#757575" opacity="0.7"/>
<path d="M703.7,233.5 L686.0,241.4 L679.3,225.9 L698.2,215.2Z" fill="#666666" opacity="0.7"/>
<path d="M795.3,186.1 L802.3,190.6 L810.9,216.8 L810.1,217.4 L783.6,215.6 L782.5,212.8 L793.8,186.9Z" fill="#767676" opacity="0.7"/>
<path d="M778.6,239.7 L798.6,257.2 L808.0,229.4 L783.1,227.7Z" fill="#767676" opacity="0.7"/>
<path d="M693.1,207.1 L686.3,197.1 L674.7,194.6 L665.6,199.5 L664.6,210.4 L667.2,215.8 L674.4,218.8 L692.5,208.6Z" fill="#7e7e7e" opacity="0.7"/>
<path d="M729.2,79.9 L722.2,98.1 L726.2,104.1 L746.5,98.3 L746.6,98.2 L736.0,81.3Z" fill="#787878" opacity="0.7"/>
<path d="M586.2,80.6 L575.5,77.3 L565.5,80.4 L560.9,86.8 L565.8,104.6 L586.7,108.0Z" fill="#787878" opacity="0.7"/>
<path d="M552.0,5.1 L548.7,23.3 L528.6,19.8 L528.0,18.8 L529.3,10.2 L546.1,-3.4Z" fill="#626262" opacity="0.7"/>
<path d="M802.2,82.2 L803.1,96.3 L827.0,88.9 L810.4,78.3Z" fill="#6b6b6b" opacity="0.7"/>
<path d="M651.3,50.8 L658.5,34.6 L647.0,24.6 L640.3,27.7 L642.3,46.7Z" fill="#898989" opacity="0.7"/>
<path d="M662.4,71.3 L681.3,75.6 L682.7,77.6 L683.1,93.3 L682.0,94.4 L664.8,94.9 L658.3,82.3Z" fill="#6b6b6b" opacity="0.7"/>
<path d="M648.2,212.8 L651.7,220.0 L636.3,238.7 L616.4,229.4 L614.4,225.2 L619.9,213.1Z" fill="#717171" opacity="0.7"/>
<path d="M753.8,14.8 L770.0,19.3 L771.6,41.1 L762.7,50.8 L759.3,50.0 L744.1,33.5 L745.6,23.9Z" fill="#6d6d6d" opacity="0.7"/>
<path d="M567.9,41.1 L561.3,52.4 L570.1,65.0 L577.4,62.7 L577.5,42.8Z" fill="#838383" opacity="0.7"/>
<path d="M629.5,95.9 L644.3,89.4 L651.6,103.4 L641.9,119.5 L629.3,110.5Z" fill="#737373" opacity="0.7"/>
<path d="M779.2,183.3 L768.5,207.6 L752.3,198.4 L752.8,188.1 L759.6,182.1Z" fill="#808080" opacity="0.7"/>
<path d="M650.2,117.6 L658.6,103.7 L675.2,103.2 L672.8,119.3 L655.9,123.2 L650.7,119.2Z" fill="#797979" opacity="0.7"/>
<path d="M740.7,206.1 L749.6,199.9 L750.0,190.6 L735.4,183.0 L726.3,200.6Z" fill="#757575" opacity="0.7"/>
<path d="M745.3,142.4 L724.5,133.6 L726.1,123.2 L747.0,117.3 L747.4,142.0Z" fill="#5e5e5e" opacity="0.7"/>
<path d="M673.2,130.0 L685.5,142.8 L667.7,150.5 L659.1,145.4 L656.6,133.8Z" fill="#626262" opacity="0.7"/>
<path d="M771.0,71.2 L762.5,96.2 L783.1,103.3 L783.1,103.3 L786.4,98.3 L785.1,78.6Z" fill="#6a6a6a" opacity="0.7"/>
<path d="M710.7,232.6 L705.7,216.0 L706.4,214.7 L712.0,213.1 L724.5,217.9 L725.6,228.7 L715.1,234.9Z" fill="#646464" opacity="0.7"/>
<path d="M711.0,82.3 L703.7,101.1 L686.8,96.7 L686.5,81.6 L709.4,80.3Z" fill="#727272" opacity="0.7"/>
<path d="M557.0,33.9 L550.3,45.4 L540.1,46.4 L534.8,39.0 L537.3,27.6 L554.4,30.6Z" fill="#7d7d7d" opacity="0.7"/>
<path d="M614.8,71.4 L619.0,62.1 L629.8,59.2 L638.8,63.2 L639.6,64.8 L636.2,74.0 L625.1,78.8Z" fill="#8a8a8a" opacity="0.7"/>
<path d="M708.5,198.1 L716.2,183.3 L715.8,181.9 L703.7,174.8 L696.7,190.3 L703.0,199.6Z" fill="#646464" opacity="0.7"/>
<path d="M742.7,228.8 L753.9,235.1 L761.5,231.6 L765.4,221.0 L764.5,218.7 L750.2,210.5 L741.4,216.7Z" fill="#727272" opacity="0.7"/>
<path d="M780.7,53.7 L773.2,61.9 L775.6,66.5 L787.5,72.7 L797.1,68.1 L798.0,53.7Z" fill="#626262" opacity="0.7"/>
<path d="M652.1,56.5 L674.5,61.7 L683.2,37.8 L671.4,29.8 L661.1,31.4 L650.8,54.3Z" fill="#828282" opacity="0.7"/>
<path d="M561.2,155.8 L578.3,175.5 L585.9,173.7 L586.5,150.5 L562.7,152.9Z" fill="#848484" opacity="0.7"/>
<path d="M793.4,149.7 L797.8,145.5 L798.3,128.5 L788.1,118.8 L788.1,118.8 L777.1,138.1Z" fill="#898989" opacity="0.7"/>
<path d="M563.6,194.1 L540.0,188.6 L534.6,193.1 L537.3,214.1 L562.7,212.6Z" fill="#7e7e7e" opacity="0.7"/>
<path d="M623.3,142.2 L632.2,158.4 L646.7,145.2 L644.1,132.7 L638.6,128.5Z" fill="#7c7c7c" opacity="0.7"/>
<path d="M706.1,10.6 L698.3,31.8 L693.0,32.8 L681.9,25.4 L686.2,2.8 L705.7,9.9Z" fill="#7f7f7f" opacity="0.7"/></g>
<g fill="none" stroke-linejoin="round" filter="url(#iimb)"><path d="M652.2,192.5 L668.6,183.6 L669.6,157.8 L655.6,149.6 L633.7,169.6 L632.9,175.2Z" stroke="#9b9b9b" stroke-width="8.8" stroke-opacity="0.29"/>
<path d="M742.3,21.3 L740.1,34.8 L719.3,47.1 L699.8,37.8 L710.5,8.7Z" stroke="#939393" stroke-width="10.3" stroke-opacity="0.18"/>
<path d="M582.9,185.3 L571.8,196.3 L570.7,220.3 L575.2,226.5 L603.7,229.3 L611.4,212.6 L604.0,186.5 L595.3,182.3Z" stroke="#909090" stroke-width="4.1" stroke-opacity="0.38"/>
<path d="M727.0,171.7 L703.5,157.8 L698.7,145.4 L714.8,131.0 L748.2,145.2Z" stroke="#b3b3b3" stroke-width="4.0" stroke-opacity="0.19"/>
<path d="M703.5,157.8 L698.7,145.4 L698.5,145.3 L669.6,157.8 L668.6,183.6 L689.7,188.1Z" stroke="#bebebe" stroke-width="3.2" stroke-opacity="0.19"/>
<path d="M554.2,128.6 L534.8,119.7 L530.0,91.8 L560.8,88.9 L567.6,113.3Z" stroke="#919191" stroke-width="8.3" stroke-opacity="0.20"/>
<path d="M570.7,220.3 L575.2,226.5 L565.1,255.9 L537.8,242.0 L536.5,224.3 L537.9,222.3Z" stroke="#a5a5a5" stroke-width="5.5" stroke-opacity="0.17"/>
<path d="M537.9,222.3 L536.5,224.3 L485.9,225.5 L520.9,193.1 L534.4,195.0Z" stroke="#c0c0c0" stroke-width="4.0" stroke-opacity="0.34"/>
<path d="M541.3,189.2 L543.4,159.8 L520.9,154.4 L500.8,166.2 L520.9,193.1 L534.4,195.0Z" stroke="#c7c7c7" stroke-width="5.8" stroke-opacity="0.27"/>
<path d="M606.4,75.8 L625.5,89.5 L625.3,109.6 L596.5,118.0 L596.4,117.9 L595.6,80.3Z" stroke="#c0c0c0" stroke-width="8.0" stroke-opacity="0.34"/>
<path d="M537.8,242.0 L536.5,224.3 L485.9,225.5 L484.5,226.0 L523.4,256.4Z" stroke="#acacac" stroke-width="6.5" stroke-opacity="0.31"/>
<path d="M683.3,-2.0 L677.4,29.0 L664.0,31.1 L642.9,12.5 L662.8,-36.0Z" stroke="#929292" stroke-width="5.9" stroke-opacity="0.16"/>
<path d="M524.9,81.4 L532.0,58.4 L550.8,56.6 L567.1,80.1 L560.8,88.9 L530.0,91.8 L529.0,91.1Z" stroke="#b5b5b5" stroke-width="3.9" stroke-opacity="0.37"/>
<path d="M753.9,8.6 L740.9,-59.8 L710.1,7.8 L710.5,8.7 L742.3,21.3Z" stroke="#bfbfbf" stroke-width="3.8" stroke-opacity="0.24"/>
<path d="M714.8,131.0 L717.4,114.4 L710.8,104.5 L684.0,97.4 L682.4,99.0 L678.5,124.6 L698.5,145.3 L698.7,145.4Z" stroke="#c4c4c4" stroke-width="5.5" stroke-opacity="0.31"/>
<path d="M596.5,118.0 L598.8,141.2 L620.2,145.1 L643.3,124.5 L642.6,122.0 L625.3,109.6Z" stroke="#c7c7c7" stroke-width="10.5" stroke-opacity="0.16"/>
<path d="M754.5,145.8 L751.5,144.5 L750.9,104.8 L751.0,104.6 L758.5,102.4 L787.6,112.4 L770.2,142.8Z" stroke="#b7b7b7" stroke-width="4.5" stroke-opacity="0.34"/>
<path d="M652.2,192.5 L632.9,175.2 L604.0,186.5 L611.4,212.6 L650.2,212.2Z" stroke="#a9a9a9" stroke-width="6.3" stroke-opacity="0.18"/>
<path d="M554.7,152.9 L543.4,159.8 L520.9,154.4 L518.9,130.3 L534.8,119.7 L554.2,128.6 L557.2,148.1Z" stroke="#b4b4b4" stroke-width="6.1" stroke-opacity="0.27"/>
<path d="M554.7,152.9 L543.4,159.8 L541.3,189.2 L571.8,196.3 L582.9,185.3Z" stroke="#c6c6c6" stroke-width="6.9" stroke-opacity="0.23"/>
<path d="M461.2,61.3 L522.2,44.9 L532.0,58.4 L524.9,81.4Z" stroke="#b9b9b9" stroke-width="4.1" stroke-opacity="0.39"/>
<path d="M595.3,182.3 L604.0,186.5 L632.9,175.2 L633.7,169.6 L620.2,145.1 L598.8,141.2 L596.4,144.2Z" stroke="#a3a3a3" stroke-width="5.8" stroke-opacity="0.16"/>
<path d="M487.6,115.1 L518.9,130.3 L534.8,119.7 L530.0,91.8 L529.0,91.1Z" stroke="#aeaeae" stroke-width="9.6" stroke-opacity="0.29"/>
<path d="M596.1,32.7 L614.2,58.6 L634.2,53.2 L630.6,18.4 L625.5,17.6Z" stroke="#b8b8b8" stroke-width="5.3" stroke-opacity="0.26"/>
<path d="M733.6,76.8 L751.0,104.6 L758.5,102.4 L770.5,67.1 L766.4,59.3 L761.6,58.1Z" stroke="#a0a0a0" stroke-width="6.7" stroke-opacity="0.30"/>
<path d="M793.6,178.6 L796.0,161.2 L770.2,142.8 L754.5,145.8 L762.3,177.9 L791.5,179.7Z" stroke="#a1a1a1" stroke-width="5.2" stroke-opacity="0.37"/>
<path d="M557.2,148.1 L554.2,128.6 L567.6,113.3 L596.4,117.9 L596.5,118.0 L598.8,141.2 L596.4,144.2Z" stroke="#a1a1a1" stroke-width="5.2" stroke-opacity="0.35"/>
<path d="M565.1,255.9 L575.2,226.5 L603.7,229.3 L606.5,235.1 L578.9,305.3Z" stroke="#939393" stroke-width="3.2" stroke-opacity="0.29"/>
<path d="M793.3,7.7 L776.7,14.9 L779.0,45.6 L807.9,45.6 L809.0,44.5 L801.5,10.8Z" stroke="#b6b6b6" stroke-width="8.1" stroke-opacity="0.19"/>
<path d="M594.2,32.3 L580.9,38.6 L580.8,75.7 L595.6,80.3 L606.4,75.8 L614.2,58.6 L596.1,32.7Z" stroke="#959595" stroke-width="7.0" stroke-opacity="0.18"/>
<path d="M710.4,240.7 L679.8,254.5 L668.2,227.6 L700.9,209.0Z" stroke="#c7c7c7" stroke-width="10.0" stroke-opacity="0.39"/>
<path d="M793.6,178.6 L803.4,184.9 L815.5,221.7 L814.3,222.5 L777.2,220.0 L775.7,216.0 L791.5,179.7Z" stroke="#c3c3c3" stroke-width="4.3" stroke-opacity="0.19"/>
<path d="M770.6,237.7 L800.3,263.8 L814.3,222.5 L777.2,220.0Z" stroke="#9f9f9f" stroke-width="6.5" stroke-opacity="0.19"/>
<path d="M702.1,206.4 L689.7,188.1 L668.6,183.6 L652.2,192.5 L650.2,212.2 L655.1,222.2 L668.2,227.6 L700.9,209.0Z" stroke="#9b9b9b" stroke-width="6.6" stroke-opacity="0.27"/>
<path d="M722.5,74.5 L710.8,104.5 L717.4,114.4 L750.9,104.8 L751.0,104.6 L733.6,76.8Z" stroke="#a5a5a5" stroke-width="5.0" stroke-opacity="0.26"/>
<path d="M595.6,80.3 L580.8,75.7 L567.1,80.1 L560.8,88.9 L567.6,113.3 L596.4,117.9Z" stroke="#b4b4b4" stroke-width="7.8" stroke-opacity="0.38"/>
<path d="M563.6,0.8 L558.4,29.3 L526.8,23.8 L525.9,22.3 L527.9,8.7 L554.3,-12.7Z" stroke="#9d9d9d" stroke-width="7.9" stroke-opacity="0.35"/>
<path d="M790.4,77.5 L792.2,105.3 L839.2,90.7 L806.5,69.8Z" stroke="#bebebe" stroke-width="6.9" stroke-opacity="0.17"/>
<path d="M650.7,60.7 L664.0,31.1 L642.9,12.5 L630.6,18.4 L634.2,53.2Z" stroke="#909090" stroke-width="10.4" stroke-opacity="0.24"/>
<path d="M652.3,63.5 L681.3,70.2 L683.5,73.3 L684.0,97.4 L682.4,99.0 L655.9,99.8 L645.9,80.5Z" stroke="#b3b3b3" stroke-width="7.1" stroke-opacity="0.24"/>
<path d="M650.2,212.2 L655.1,222.2 L633.8,247.9 L606.5,235.1 L603.7,229.3 L611.4,212.6Z" stroke="#939393" stroke-width="3.4" stroke-opacity="0.17"/>
<path d="M719.9,71.2 L683.5,73.3 L681.3,70.2 L692.6,39.2 L699.8,37.8 L719.3,47.1Z" stroke="#979797" stroke-width="6.4" stroke-opacity="0.36"/>
<path d="M753.9,8.6 L776.7,14.9 L779.0,45.6 L766.4,59.3 L761.6,58.1 L740.1,34.8 L742.3,21.3Z" stroke="#8f8f8f" stroke-width="5.2" stroke-opacity="0.23"/>
<path d="M563.1,35.4 L550.8,56.6 L567.1,80.1 L580.8,75.7 L580.9,38.6Z" stroke="#afafaf" stroke-width="2.5" stroke-opacity="0.27"/>
<path d="M625.5,89.5 L645.9,80.5 L655.9,99.8 L642.6,122.0 L625.3,109.6Z" stroke="#bababa" stroke-width="5.4" stroke-opacity="0.38"/>
<path d="M791.5,179.7 L775.7,216.0 L751.5,202.2 L752.2,186.9 L762.3,177.9Z" stroke="#a8a8a8" stroke-width="4.7" stroke-opacity="0.17"/>
<path d="M642.6,122.0 L655.9,99.8 L682.4,99.0 L678.5,124.6 L651.6,130.8 L643.3,124.5Z" stroke="#afafaf" stroke-width="8.1" stroke-opacity="0.30"/>
<path d="M736.8,212.6 L751.5,202.2 L752.2,186.9 L727.9,174.3 L712.8,203.4Z" stroke="#a9a9a9" stroke-width="5.6" stroke-opacity="0.28"/>
<path d="M748.2,145.2 L714.8,131.0 L717.4,114.4 L750.9,104.8 L751.5,144.5Z" stroke="#909090" stroke-width="3.7" stroke-opacity="0.24"/>
<path d="M678.5,124.6 L698.5,145.3 L669.6,157.8 L655.6,149.6 L651.6,130.8Z" stroke="#b1b1b1" stroke-width="6.8" stroke-opacity="0.36"/>
<path d="M770.5,67.1 L758.5,102.4 L787.6,112.4 L787.6,112.4 L792.2,105.3 L790.4,77.5Z" stroke="#9f9f9f" stroke-width="6.6" stroke-opacity="0.39"/>
<path d="M710.4,240.7 L700.9,209.0 L702.1,206.4 L712.8,203.4 L736.8,212.6 L738.9,233.2 L718.7,245.1Z" stroke="#b1b1b1" stroke-width="8.7" stroke-opacity="0.35"/>
<path d="M722.5,74.5 L710.8,104.5 L684.0,97.4 L683.5,73.3 L719.9,71.2Z" stroke="#bcbcbc" stroke-width="8.9" stroke-opacity="0.16"/>
<path d="M563.1,35.4 L550.8,56.6 L532.0,58.4 L522.2,44.9 L526.8,23.8 L558.4,29.3Z" stroke="#9e9e9e" stroke-width="4.7" stroke-opacity="0.32"/>
<path d="M606.4,75.8 L614.2,58.6 L634.2,53.2 L650.7,60.7 L652.3,63.5 L645.9,80.5 L625.5,89.5Z" stroke="#afafaf" stroke-width="7.9" stroke-opacity="0.33"/>
<path d="M563.6,0.8 L558.4,29.3 L563.1,35.4 L580.9,38.6 L594.2,32.3 L587.8,5.0Z" stroke="#b2b2b2" stroke-width="10.4" stroke-opacity="0.35"/>
<path d="M712.8,203.4 L727.9,174.3 L727.0,171.7 L703.5,157.8 L689.7,188.1 L702.1,206.4Z" stroke="#c1c1c1" stroke-width="6.2" stroke-opacity="0.15"/>
<path d="M738.9,233.2 L757.9,243.7 L770.6,237.7 L777.2,220.0 L775.7,216.0 L751.5,202.2 L736.8,212.6Z" stroke="#bababa" stroke-width="9.5" stroke-opacity="0.37"/>
<path d="M779.0,45.6 L766.4,59.3 L770.5,67.1 L790.4,77.5 L806.5,69.8 L807.9,45.6Z" stroke="#919191" stroke-width="8.3" stroke-opacity="0.18"/>
<path d="M652.3,63.5 L681.3,70.2 L692.6,39.2 L677.4,29.0 L664.0,31.1 L650.7,60.7Z" stroke="#989898" stroke-width="3.5" stroke-opacity="0.24"/>
<path d="M554.7,152.9 L582.9,185.3 L595.3,182.3 L596.4,144.2 L557.2,148.1Z" stroke="#9a9a9a" stroke-width="6.9" stroke-opacity="0.34"/>
<path d="M796.0,161.2 L802.9,154.5 L803.7,127.7 L787.6,112.4 L787.6,112.4 L770.2,142.8Z" stroke="#adadad" stroke-width="4.5" stroke-opacity="0.26"/>
<path d="M722.5,74.5 L733.6,76.8 L761.6,58.1 L740.1,34.8 L719.3,47.1 L719.9,71.2Z" stroke="#9a9a9a" stroke-width="4.2" stroke-opacity="0.19"/>
<path d="M571.8,196.3 L541.3,189.2 L534.4,195.0 L537.9,222.3 L570.7,220.3Z" stroke="#b0b0b0" stroke-width="7.1" stroke-opacity="0.18"/>
<path d="M620.2,145.1 L633.7,169.6 L655.6,149.6 L651.6,130.8 L643.3,124.5Z" stroke="#9c9c9c" stroke-width="3.1" stroke-opacity="0.25"/>
<path d="M710.5,8.7 L699.8,37.8 L692.6,39.2 L677.4,29.0 L683.3,-2.0 L710.1,7.8Z" stroke="#c2c2c2" stroke-width="7.6" stroke-opacity="0.24"/>
<path d="M762.3,177.9 L752.2,186.9 L727.9,174.3 L727.0,171.7 L748.2,145.2 L751.5,144.5 L754.5,145.8Z" stroke="#ababab" stroke-width="3.6" stroke-opacity="0.33"/>
<path d="M603.9,-14.5 L625.5,17.6 L596.1,32.7 L594.2,32.3 L587.8,5.0Z" stroke="#909090" stroke-width="10.8" stroke-opacity="0.23"/></g>
<g fill="none" stroke-linejoin="round"><path d="M652.2,192.5 L668.6,183.6 L669.6,157.8 L655.6,149.6 L633.7,169.6 L632.9,175.2Z" stroke="#b4b4b4" stroke-width="1.80" stroke-opacity="0.72"/>
<path d="M742.3,21.3 L740.1,34.8 L719.3,47.1 L699.8,37.8 L710.5,8.7Z" stroke="#acacac" stroke-width="1.82" stroke-opacity="0.62"/>
<path d="M582.9,185.3 L571.8,196.3 L570.7,220.3 L575.2,226.5 L603.7,229.3 L611.4,212.6 L604.0,186.5 L595.3,182.3Z" stroke="#a9a9a9" stroke-width="0.78" stroke-opacity="0.83"/>
<path d="M727.0,171.7 L703.5,157.8 L698.7,145.4 L714.8,131.0 L748.2,145.2Z" stroke="#cccccc" stroke-width="1.33" stroke-opacity="0.70"/>
<path d="M703.5,157.8 L698.7,145.4 L698.5,145.3 L669.6,157.8 L668.6,183.6 L689.7,188.1Z" stroke="#d7d7d7" stroke-width="0.73" stroke-opacity="0.69"/>
<path d="M554.2,128.6 L534.8,119.7 L530.0,91.8 L560.8,88.9 L567.6,113.3Z" stroke="#aaaaaa" stroke-width="1.88" stroke-opacity="0.77"/>
<path d="M570.7,220.3 L575.2,226.5 L565.1,255.9 L537.8,242.0 L536.5,224.3 L537.9,222.3Z" stroke="#bebebe" stroke-width="1.56" stroke-opacity="0.80"/>
<path d="M537.9,222.3 L536.5,224.3 L485.9,225.5 L520.9,193.1 L534.4,195.0Z" stroke="#d9d9d9" stroke-width="1.28" stroke-opacity="0.83"/>
<path d="M541.3,189.2 L543.4,159.8 L520.9,154.4 L500.8,166.2 L520.9,193.1 L534.4,195.0Z" stroke="#e0e0e0" stroke-width="1.04" stroke-opacity="0.97"/>
<path d="M606.4,75.8 L625.5,89.5 L625.3,109.6 L596.5,118.0 L596.4,117.9 L595.6,80.3Z" stroke="#d9d9d9" stroke-width="1.35" stroke-opacity="0.60"/>
<path d="M537.8,242.0 L536.5,224.3 L485.9,225.5 L484.5,226.0 L523.4,256.4Z" stroke="#c5c5c5" stroke-width="2.03" stroke-opacity="0.91"/>
<path d="M683.3,-2.0 L677.4,29.0 L664.0,31.1 L642.9,12.5 L662.8,-36.0Z" stroke="#ababab" stroke-width="1.25" stroke-opacity="0.83"/>
<path d="M524.9,81.4 L532.0,58.4 L550.8,56.6 L567.1,80.1 L560.8,88.9 L530.0,91.8 L529.0,91.1Z" stroke="#cecece" stroke-width="1.16" stroke-opacity="0.63"/>
<path d="M753.9,8.6 L740.9,-59.8 L710.1,7.8 L710.5,8.7 L742.3,21.3Z" stroke="#d8d8d8" stroke-width="0.96" stroke-opacity="0.94"/>
<path d="M714.8,131.0 L717.4,114.4 L710.8,104.5 L684.0,97.4 L682.4,99.0 L678.5,124.6 L698.5,145.3 L698.7,145.4Z" stroke="#dddddd" stroke-width="1.11" stroke-opacity="0.81"/>
<path d="M596.5,118.0 L598.8,141.2 L620.2,145.1 L643.3,124.5 L642.6,122.0 L625.3,109.6Z" stroke="#e0e0e0" stroke-width="2.01" stroke-opacity="0.97"/>
<path d="M754.5,145.8 L751.5,144.5 L750.9,104.8 L751.0,104.6 L758.5,102.4 L787.6,112.4 L770.2,142.8Z" stroke="#d0d0d0" stroke-width="0.76" stroke-opacity="0.60"/>
<path d="M652.2,192.5 L632.9,175.2 L604.0,186.5 L611.4,212.6 L650.2,212.2Z" stroke="#c2c2c2" stroke-width="1.48" stroke-opacity="0.79"/>
<path d="M554.7,152.9 L543.4,159.8 L520.9,154.4 L518.9,130.3 L534.8,119.7 L554.2,128.6 L557.2,148.1Z" stroke="#cdcdcd" stroke-width="1.44" stroke-opacity="0.99"/>
<path d="M554.7,152.9 L543.4,159.8 L541.3,189.2 L571.8,196.3 L582.9,185.3Z" stroke="#dfdfdf" stroke-width="1.68" stroke-opacity="0.63"/>
<path d="M461.2,61.3 L522.2,44.9 L532.0,58.4 L524.9,81.4Z" stroke="#d2d2d2" stroke-width="0.78" stroke-opacity="0.79"/>
<path d="M595.3,182.3 L604.0,186.5 L632.9,175.2 L633.7,169.6 L620.2,145.1 L598.8,141.2 L596.4,144.2Z" stroke="#bcbcbc" stroke-width="1.23" stroke-opacity="0.72"/>
<path d="M487.6,115.1 L518.9,130.3 L534.8,119.7 L530.0,91.8 L529.0,91.1Z" stroke="#c7c7c7" stroke-width="1.87" stroke-opacity="0.56"/>
<path d="M596.1,32.7 L614.2,58.6 L634.2,53.2 L630.6,18.4 L625.5,17.6Z" stroke="#d1d1d1" stroke-width="1.05" stroke-opacity="0.65"/>
<path d="M733.6,76.8 L751.0,104.6 L758.5,102.4 L770.5,67.1 L766.4,59.3 L761.6,58.1Z" stroke="#b9b9b9" stroke-width="1.15" stroke-opacity="0.69"/>
<path d="M793.6,178.6 L796.0,161.2 L770.2,142.8 L754.5,145.8 L762.3,177.9 L791.5,179.7Z" stroke="#bababa" stroke-width="1.04" stroke-opacity="0.72"/>
<path d="M557.2,148.1 L554.2,128.6 L567.6,113.3 L596.4,117.9 L596.5,118.0 L598.8,141.2 L596.4,144.2Z" stroke="#bababa" stroke-width="0.97" stroke-opacity="0.62"/>
<path d="M565.1,255.9 L575.2,226.5 L603.7,229.3 L606.5,235.1 L578.9,305.3Z" stroke="#acacac" stroke-width="0.89" stroke-opacity="0.97"/>
<path d="M793.3,7.7 L776.7,14.9 L779.0,45.6 L807.9,45.6 L809.0,44.5 L801.5,10.8Z" stroke="#cfcfcf" stroke-width="1.95" stroke-opacity="0.74"/>
<path d="M594.2,32.3 L580.9,38.6 L580.8,75.7 L595.6,80.3 L606.4,75.8 L614.2,58.6 L596.1,32.7Z" stroke="#aeaeae" stroke-width="1.64" stroke-opacity="0.76"/>
<path d="M710.4,240.7 L679.8,254.5 L668.2,227.6 L700.9,209.0Z" stroke="#e0e0e0" stroke-width="1.88" stroke-opacity="0.62"/>
<path d="M793.6,178.6 L803.4,184.9 L815.5,221.7 L814.3,222.5 L777.2,220.0 L775.7,216.0 L791.5,179.7Z" stroke="#dcdcdc" stroke-width="1.22" stroke-opacity="0.67"/>
<path d="M770.6,237.7 L800.3,263.8 L814.3,222.5 L777.2,220.0Z" stroke="#b8b8b8" stroke-width="1.61" stroke-opacity="0.92"/>
<path d="M702.1,206.4 L689.7,188.1 L668.6,183.6 L652.2,192.5 L650.2,212.2 L655.1,222.2 L668.2,227.6 L700.9,209.0Z" stroke="#b4b4b4" stroke-width="1.21" stroke-opacity="0.97"/>
<path d="M722.5,74.5 L710.8,104.5 L717.4,114.4 L750.9,104.8 L751.0,104.6 L733.6,76.8Z" stroke="#bebebe" stroke-width="0.86" stroke-opacity="0.67"/>
<path d="M595.6,80.3 L580.8,75.7 L567.1,80.1 L560.8,88.9 L567.6,113.3 L596.4,117.9Z" stroke="#cdcdcd" stroke-width="1.90" stroke-opacity="0.85"/>
<path d="M563.6,0.8 L558.4,29.3 L526.8,23.8 L525.9,22.3 L527.9,8.7 L554.3,-12.7Z" stroke="#b6b6b6" stroke-width="1.42" stroke-opacity="0.83"/>
<path d="M790.4,77.5 L792.2,105.3 L839.2,90.7 L806.5,69.8Z" stroke="#d7d7d7" stroke-width="1.55" stroke-opacity="0.67"/>
<path d="M650.7,60.7 L664.0,31.1 L642.9,12.5 L630.6,18.4 L634.2,53.2Z" stroke="#a9a9a9" stroke-width="1.79" stroke-opacity="0.95"/>
<path d="M652.3,63.5 L681.3,70.2 L683.5,73.3 L684.0,97.4 L682.4,99.0 L655.9,99.8 L645.9,80.5Z" stroke="#cccccc" stroke-width="1.43" stroke-opacity="0.84"/>
<path d="M650.2,212.2 L655.1,222.2 L633.8,247.9 L606.5,235.1 L603.7,229.3 L611.4,212.6Z" stroke="#acacac" stroke-width="0.89" stroke-opacity="0.66"/>
<path d="M719.9,71.2 L683.5,73.3 L681.3,70.2 L692.6,39.2 L699.8,37.8 L719.3,47.1Z" stroke="#b0b0b0" stroke-width="1.38" stroke-opacity="0.66"/>
<path d="M753.9,8.6 L776.7,14.9 L779.0,45.6 L766.4,59.3 L761.6,58.1 L740.1,34.8 L742.3,21.3Z" stroke="#a8a8a8" stroke-width="1.07" stroke-opacity="0.72"/>
<path d="M563.1,35.4 L550.8,56.6 L567.1,80.1 L580.8,75.7 L580.9,38.6Z" stroke="#c8c8c8" stroke-width="0.79" stroke-opacity="0.96"/>
<path d="M625.5,89.5 L645.9,80.5 L655.9,99.8 L642.6,122.0 L625.3,109.6Z" stroke="#d3d3d3" stroke-width="1.53" stroke-opacity="0.71"/>
<path d="M791.5,179.7 L775.7,216.0 L751.5,202.2 L752.2,186.9 L762.3,177.9Z" stroke="#c1c1c1" stroke-width="1.15" stroke-opacity="0.99"/>
<path d="M642.6,122.0 L655.9,99.8 L682.4,99.0 L678.5,124.6 L651.6,130.8 L643.3,124.5Z" stroke="#c8c8c8" stroke-width="2.03" stroke-opacity="0.56"/>
<path d="M736.8,212.6 L751.5,202.2 L752.2,186.9 L727.9,174.3 L712.8,203.4Z" stroke="#c2c2c2" stroke-width="1.52" stroke-opacity="0.69"/>
<path d="M748.2,145.2 L714.8,131.0 L717.4,114.4 L750.9,104.8 L751.5,144.5Z" stroke="#a9a9a9" stroke-width="0.78" stroke-opacity="0.66"/>
<path d="M678.5,124.6 L698.5,145.3 L669.6,157.8 L655.6,149.6 L651.6,130.8Z" stroke="#cacaca" stroke-width="1.39" stroke-opacity="0.62"/>
<path d="M770.5,67.1 L758.5,102.4 L787.6,112.4 L787.6,112.4 L792.2,105.3 L790.4,77.5Z" stroke="#b8b8b8" stroke-width="1.89" stroke-opacity="0.94"/>
<path d="M710.4,240.7 L700.9,209.0 L702.1,206.4 L712.8,203.4 L736.8,212.6 L738.9,233.2 L718.7,245.1Z" stroke="#cacaca" stroke-width="1.79" stroke-opacity="0.80"/>
<path d="M722.5,74.5 L710.8,104.5 L684.0,97.4 L683.5,73.3 L719.9,71.2Z" stroke="#d5d5d5" stroke-width="1.60" stroke-opacity="0.75"/>
<path d="M563.1,35.4 L550.8,56.6 L532.0,58.4 L522.2,44.9 L526.8,23.8 L558.4,29.3Z" stroke="#b7b7b7" stroke-width="0.96" stroke-opacity="0.95"/>
<path d="M606.4,75.8 L614.2,58.6 L634.2,53.2 L650.7,60.7 L652.3,63.5 L645.9,80.5 L625.5,89.5Z" stroke="#c8c8c8" stroke-width="2.01" stroke-opacity="0.56"/>
<path d="M563.6,0.8 L558.4,29.3 L563.1,35.4 L580.9,38.6 L594.2,32.3 L587.8,5.0Z" stroke="#cbcbcb" stroke-width="2.04" stroke-opacity="0.75"/>
<path d="M712.8,203.4 L727.9,174.3 L727.0,171.7 L703.5,157.8 L689.7,188.1 L702.1,206.4Z" stroke="#dadada" stroke-width="1.38" stroke-opacity="0.95"/>
<path d="M738.9,233.2 L757.9,243.7 L770.6,237.7 L777.2,220.0 L775.7,216.0 L751.5,202.2 L736.8,212.6Z" stroke="#d3d3d3" stroke-width="1.61" stroke-opacity="0.76"/>
<path d="M779.0,45.6 L766.4,59.3 L770.5,67.1 L790.4,77.5 L806.5,69.8 L807.9,45.6Z" stroke="#aaaaaa" stroke-width="1.59" stroke-opacity="0.97"/>
<path d="M652.3,63.5 L681.3,70.2 L692.6,39.2 L677.4,29.0 L664.0,31.1 L650.7,60.7Z" stroke="#b1b1b1" stroke-width="0.69" stroke-opacity="0.85"/>
<path d="M554.7,152.9 L582.9,185.3 L595.3,182.3 L596.4,144.2 L557.2,148.1Z" stroke="#b3b3b3" stroke-width="1.52" stroke-opacity="0.59"/>
<path d="M796.0,161.2 L802.9,154.5 L803.7,127.7 L787.6,112.4 L787.6,112.4 L770.2,142.8Z" stroke="#c6c6c6" stroke-width="1.08" stroke-opacity="0.96"/>
<path d="M722.5,74.5 L733.6,76.8 L761.6,58.1 L740.1,34.8 L719.3,47.1 L719.9,71.2Z" stroke="#b3b3b3" stroke-width="1.01" stroke-opacity="0.78"/>
<path d="M571.8,196.3 L541.3,189.2 L534.4,195.0 L537.9,222.3 L570.7,220.3Z" stroke="#c9c9c9" stroke-width="1.90" stroke-opacity="0.94"/>
<path d="M620.2,145.1 L633.7,169.6 L655.6,149.6 L651.6,130.8 L643.3,124.5Z" stroke="#b5b5b5" stroke-width="0.68" stroke-opacity="0.63"/>
<path d="M710.5,8.7 L699.8,37.8 L692.6,39.2 L677.4,29.0 L683.3,-2.0 L710.1,7.8Z" stroke="#dbdbdb" stroke-width="1.96" stroke-opacity="0.85"/>
<path d="M762.3,177.9 L752.2,186.9 L727.9,174.3 L727.0,171.7 L748.2,145.2 L751.5,144.5 L754.5,145.8Z" stroke="#c4c4c4" stroke-width="1.19" stroke-opacity="0.61"/>
<path d="M603.9,-14.5 L625.5,17.6 L596.1,32.7 L594.2,32.3 L587.8,5.0Z" stroke="#a9a9a9" stroke-width="1.91" stroke-opacity="0.73"/><path d="M654.4,167.6 Q664.9,168.8 669.9,172.1" stroke="#989898" stroke-width="0.53" stroke-opacity="0.46"/>
<path d="M721.5,152.2 Q719.2,152.1 724.4,160.1" stroke="#b8b8b8" stroke-width="0.79" stroke-opacity="0.34"/>
<path d="M719.7,154.3 Q720.9,157.5 730.4,158.1" stroke="#a7a7a7" stroke-width="0.65" stroke-opacity="0.38"/>
<path d="M555.2,103.4 Q560.5,102.8 566.5,106.9" stroke="#b2b2b2" stroke-width="0.43" stroke-opacity="0.66"/>
<path d="M554.4,234.9 Q548.1,240.9 544.9,237.7" stroke="#a0a0a0" stroke-width="0.84" stroke-opacity="0.59"/>
<path d="M518.2,208.5 Q523.3,213.7 518.2,217.5" stroke="#919191" stroke-width="0.69" stroke-opacity="0.66"/>
<path d="M526.9,213.1 Q534.1,212.8 535.4,218.2" stroke="#b8b8b8" stroke-width="0.60" stroke-opacity="0.59"/>
<path d="M523.7,181.5 Q528.3,182.9 533.1,182.3" stroke="#919191" stroke-width="0.82" stroke-opacity="0.32"/>
<path d="M524.8,170.9 Q516.8,177.9 513.4,180.4" stroke="#b1b1b1" stroke-width="0.48" stroke-opacity="0.63"/>
<path d="M537.0,73.9 Q536.2,70.9 528.0,74.2" stroke="#ababab" stroke-width="0.81" stroke-opacity="0.63"/>
<path d="M627.5,130.2 Q633.8,141.0 630.7,144.4" stroke="#8e8e8e" stroke-width="0.43" stroke-opacity="0.48"/>
<path d="M619.8,129.2 Q621.9,135.5 628.3,139.1" stroke="#909090" stroke-width="0.45" stroke-opacity="0.58"/>
<path d="M561.2,182.0 Q565.5,182.8 573.4,186.5" stroke="#b9b9b9" stroke-width="0.60" stroke-opacity="0.34"/>
<path d="M556.7,179.2 Q558.5,181.8 551.3,187.8" stroke="#b3b3b3" stroke-width="0.75" stroke-opacity="0.36"/>
<path d="M509.8,56.0 Q511.5,56.9 523.2,57.5" stroke="#959595" stroke-width="0.43" stroke-opacity="0.54"/>
<path d="M579.9,136.6 Q580.4,140.5 574.6,145.8" stroke="#9b9b9b" stroke-width="0.58" stroke-opacity="0.37"/>
<path d="M585.8,132.7 Q584.1,137.0 579.5,144.4" stroke="#a4a4a4" stroke-width="0.54" stroke-opacity="0.63"/>
<path d="M581.8,256.6 Q577.7,264.8 578.5,270.5" stroke="#9a9a9a" stroke-width="0.90" stroke-opacity="0.45"/>
<path d="M594.8,56.4 Q587.7,60.1 586.6,65.0" stroke="#a3a3a3" stroke-width="0.56" stroke-opacity="0.48"/>
<path d="M801.5,208.6 Q802.1,212.2 804.6,226.1" stroke="#a3a3a3" stroke-width="0.71" stroke-opacity="0.50"/>
<path d="M802.1,197.0 Q795.2,203.4 794.2,203.2" stroke="#a2a2a2" stroke-width="0.80" stroke-opacity="0.56"/>
<path d="M796.3,236.8 Q788.1,242.1 787.7,243.4" stroke="#9e9e9e" stroke-width="0.75" stroke-opacity="0.65"/>
<path d="M785.6,241.1 Q788.0,245.1 786.9,249.8" stroke="#989898" stroke-width="0.75" stroke-opacity="0.53"/>
<path d="M735.9,100.9 Q727.6,109.3 725.9,110.1" stroke="#a2a2a2" stroke-width="0.55" stroke-opacity="0.61"/>
<path d="M549.0,5.9 Q549.4,5.8 558.6,9.4" stroke="#979797" stroke-width="0.65" stroke-opacity="0.43"/>
<path d="M539.5,7.9 Q543.2,13.1 548.9,20.0" stroke="#bbbbbb" stroke-width="0.55" stroke-opacity="0.53"/>
<path d="M648.3,38.6 Q645.2,41.5 638.9,45.4" stroke="#a1a1a1" stroke-width="0.72" stroke-opacity="0.32"/>
<path d="M670.0,84.7 Q664.4,87.8 666.4,92.7" stroke="#b9b9b9" stroke-width="0.53" stroke-opacity="0.62"/>
<path d="M632.7,229.8 Q638.4,237.8 635.4,242.8" stroke="#afafaf" stroke-width="0.90" stroke-opacity="0.38"/>
<path d="M761.9,32.2 Q753.4,31.9 750.0,37.7" stroke="#959595" stroke-width="0.42" stroke-opacity="0.49"/>
<path d="M765.4,40.9 Q754.7,50.0 750.8,51.0" stroke="#929292" stroke-width="0.83" stroke-opacity="0.69"/>
<path d="M639.3,100.8 Q635.3,106.6 629.3,113.7" stroke="#bababa" stroke-width="0.60" stroke-opacity="0.39"/>
<path d="M665.2,117.5 Q652.5,121.5 648.0,121.9" stroke="#afafaf" stroke-width="0.59" stroke-opacity="0.47"/>
<path d="M733.3,193.5 Q729.0,197.5 728.9,201.3" stroke="#b8b8b8" stroke-width="0.78" stroke-opacity="0.52"/>
<path d="M741.3,191.7 Q745.6,200.2 740.8,209.3" stroke="#a1a1a1" stroke-width="0.72" stroke-opacity="0.56"/>
<path d="M736.2,133.9 Q735.0,141.8 731.5,146.7" stroke="#8c8c8c" stroke-width="0.81" stroke-opacity="0.42"/>
<path d="M731.5,128.9 Q736.1,132.0 740.8,131.2" stroke="#a8a8a8" stroke-width="0.57" stroke-opacity="0.34"/>
<path d="M675.3,147.2 Q675.1,152.7 667.1,158.9" stroke="#919191" stroke-width="0.70" stroke-opacity="0.48"/>
<path d="M780.0,93.3 Q772.4,99.4 773.2,108.0" stroke="#b2b2b2" stroke-width="0.46" stroke-opacity="0.68"/>
<path d="M778.3,96.7 Q770.0,97.3 770.3,101.4" stroke="#a0a0a0" stroke-width="0.63" stroke-opacity="0.42"/>
<path d="M541.3,35.2 Q541.9,43.5 532.4,47.6" stroke="#b6b6b6" stroke-width="0.43" stroke-opacity="0.32"/>
<path d="M633.2,67.3 Q626.6,75.2 617.8,75.5" stroke="#919191" stroke-width="0.62" stroke-opacity="0.43"/>
<path d="M635.1,69.1 Q639.9,75.9 650.5,75.2" stroke="#aeaeae" stroke-width="0.51" stroke-opacity="0.66"/>
<path d="M704.7,180.0 Q705.0,181.2 713.5,185.6" stroke="#949494" stroke-width="0.48" stroke-opacity="0.69"/>
<path d="M783.9,57.5 Q781.8,60.0 776.6,61.1" stroke="#b7b7b7" stroke-width="0.69" stroke-opacity="0.66"/>
<path d="M670.8,47.1 Q661.1,49.6 659.7,56.6" stroke="#a2a2a2" stroke-width="0.87" stroke-opacity="0.40"/>
<path d="M787.6,141.2 Q791.5,146.1 795.0,147.3" stroke="#b1b1b1" stroke-width="0.49" stroke-opacity="0.66"/>
<path d="M552.5,206.9 Q549.4,208.3 551.4,218.1" stroke="#979797" stroke-width="0.60" stroke-opacity="0.57"/>
<path d="M548.2,209.8 Q556.8,218.4 561.7,219.7" stroke="#b8b8b8" stroke-width="0.50" stroke-opacity="0.58"/>
<path d="M635.7,143.1 Q629.8,144.4 627.3,147.8" stroke="#b9b9b9" stroke-width="0.49" stroke-opacity="0.59"/>
<path d="M641.3,150.2 Q633.6,150.4 634.3,156.1" stroke="#a5a5a5" stroke-width="0.44" stroke-opacity="0.41"/></g>
</g>
<g filter="url(#iimB)">
<defs><radialGradient id="iime0" cx="0.5" cy="0.5" r="0.5"><stop offset="0" stop-color="#929292"/><stop offset="0.65" stop-color="#8e8e8e" stop-opacity="0.92"/><stop offset="1" stop-color="#8e8e8e" stop-opacity="0"/></radialGradient><radialGradient id="iime1" cx="0.5" cy="0.5" r="0.5"><stop offset="0" stop-color="#8c8c8c"/><stop offset="0.65" stop-color="#888888" stop-opacity="0.92"/><stop offset="1" stop-color="#888888" stop-opacity="0"/></radialGradient><radialGradient id="iime2" cx="0.5" cy="0.5" r="0.5"><stop offset="0" stop-color="#9a9a9a"/><stop offset="0.65" stop-color="#969696" stop-opacity="0.92"/><stop offset="1" stop-color="#969696" stop-opacity="0"/></radialGradient><radialGradient id="iime3" cx="0.5" cy="0.5" r="0.5"><stop offset="0" stop-color="#9a9a9a"/><stop offset="0.65" stop-color="#969696" stop-opacity="0.92"/><stop offset="1" stop-color="#969696" stop-opacity="0"/></radialGradient><radialGradient id="iime4" cx="0.5" cy="0.5" r="0.5"><stop offset="0" stop-color="#dbdbdb"/><stop offset="0.65" stop-color="#d7d7d7" stop-opacity="0.92"/><stop offset="1" stop-color="#d7d7d7" stop-opacity="0"/></radialGradient><radialGradient id="iime5" cx="0.5" cy="0.5" r="0.5"><stop offset="0" stop-color="#9a9a9a"/><stop offset="0.65" stop-color="#969696" stop-opacity="0.92"/><stop offset="1" stop-color="#969696" stop-opacity="0"/></radialGradient><radialGradient id="iime6" cx="0.5" cy="0.5" r="0.5"><stop offset="0" stop-color="#959595"/><stop offset="0.65" stop-color="#919191" stop-opacity="0.92"/><stop offset="1" stop-color="#919191" stop-opacity="0"/></radialGradient><radialGradient id="iime7" cx="0.5" cy="0.5" r="0.5"><stop offset="0" stop-color="#909090"/><stop offset="0.65" stop-color="#8c8c8c" stop-opacity="0.92"/><stop offset="1" stop-color="#8c8c8c" stop-opacity="0"/></radialGradient><radialGradient id="iime8" cx="0.5" cy="0.5" r="0.5" fx="0.42" fy="0.45"><stop offset="0" stop-color="#4b4b4b"/><stop offset="0.7" stop-color="#555555"/><stop offset="0.86" stop-color="#606060"/><stop offset="0.95" stop-color="#787878"/><stop offset="1" stop-color="#888888" stop-opacity="0.6"/></radialGradient><radialGradient id="iime9" cx="0.5" cy="0.5" r="0.5" fx="0.58" fy="0.6"><stop offset="0" stop-color="#5f5f5f"/><stop offset="0.7" stop-color="#696969"/><stop offset="0.86" stop-color="#747474"/><stop offset="0.95" stop-color="#7c7c7c"/><stop offset="1" stop-color="#888888" stop-opacity="0.6"/></radialGradient><radialGradient id="iime10" cx="0.5" cy="0.5" r="0.5" fx="0.58" fy="0.6"><stop offset="0" stop-color="#464646"/><stop offset="0.7" stop-color="#505050"/><stop offset="0.86" stop-color="#5b5b5b"/><stop offset="0.95" stop-color="#737373"/><stop offset="1" stop-color="#888888" stop-opacity="0.6"/></radialGradient><radialGradient id="iime11" cx="0.5" cy="0.5" r="0.5" fx="0.42" fy="0.45"><stop offset="0" stop-color="#323232"/><stop offset="0.7" stop-color="#3c3c3c"/><stop offset="0.86" stop-color="#474747"/><stop offset="0.95" stop-color="#5f5f5f"/><stop offset="1" stop-color="#888888" stop-opacity="0.6"/></radialGradient><radialGradient id="iime12" cx="0.5" cy="0.5" r="0.5" fx="0.42" fy="0.45"><stop offset="0" stop-color="#3c3c3c"/><stop offset="0.7" stop-color="#464646"/><stop offset="0.86" stop-color="#515151"/><stop offset="0.95" stop-color="#696969"/><stop offset="1" stop-color="#888888" stop-opacity="0.6"/></radialGradient><radialGradient id="iime13" cx="0.5" cy="0.5" r="0.5" fx="0.42" fy="0.6"><stop offset="0" stop-color="#373737"/><stop offset="0.7" stop-color="#414141"/><stop offset="0.86" stop-color="#4c4c4c"/><stop offset="0.95" stop-color="#646464"/><stop offset="1" stop-color="#888888" stop-opacity="0.6"/></radialGradient><radialGradient id="iime14" cx="0.5" cy="0.5" r="0.5" fx="0.58" fy="0.6"><stop offset="0" stop-color="#464646"/><stop offset="0.7" stop-color="#505050"/><stop offset="0.86" stop-color="#5b5b5b"/><stop offset="0.95" stop-color="#737373"/><stop offset="1" stop-color="#888888" stop-opacity="0.6"/></radialGradient><radialGradient id="iime15" cx="0.5" cy="0.5" r="0.5" fx="0.58" fy="0.45"><stop offset="0" stop-color="#515151"/><stop offset="0.7" stop-color="#5b5b5b"/><stop offset="0.86" stop-color="#666666"/><stop offset="0.95" stop-color="#7c7c7c"/><stop offset="1" stop-color="#888888" stop-opacity="0.6"/></radialGradient><radialGradient id="iime16" cx="0.5" cy="0.5" r="0.5" fx="0.42" fy="0.45"><stop offset="0" stop-color="#2d2d2d"/><stop offset="0.7" stop-color="#373737"/><stop offset="0.86" stop-color="#424242"/><stop offset="0.95" stop-color="#5a5a5a"/><stop offset="1" stop-color="#888888" stop-opacity="0.6"/></radialGradient><radialGradient id="iime17" cx="0.5" cy="0.5" r="0.5" fx="0.42" fy="0.6"><stop offset="0" stop-color="#1e1e1e"/><stop offset="0.7" stop-color="#282828"/><stop offset="0.86" stop-color="#333333"/><stop offset="0.95" stop-color="#4b4b4b"/><stop offset="1" stop-color="#888888" stop-opacity="0.6"/></radialGradient><radialGradient id="iime18" cx="0.5" cy="0.5" r="0.5" fx="0.58" fy="0.45"><stop offset="0" stop-color="#464646"/><stop offset="0.7" stop-color="#505050"/><stop offset="0.86" stop-color="#5b5b5b"/><stop offset="0.95" stop-color="#737373"/><stop offset="1" stop-color="#888888" stop-opacity="0.6"/></radialGradient><radialGradient id="iime19" cx="0.5" cy="0.5" r="0.5" fx="0.58" fy="0.6"><stop offset="0" stop-color="#373737"/><stop offset="0.7" stop-color="#414141"/><stop offset="0.86" stop-color="#4c4c4c"/><stop offset="0.95" stop-color="#646464"/><stop offset="1" stop-color="#888888" stop-opacity="0.6"/></radialGradient><radialGradient id="iime20" cx="0.5" cy="0.5" r="0.5" fx="0.58" fy="0.6"><stop offset="0" stop-color="#2d2d2d"/><stop offset="0.7" stop-color="#373737"/><stop offset="0.86" stop-color="#424242"/><stop offset="0.95" stop-color="#5a5a5a"/><stop offset="1" stop-color="#888888" stop-opacity="0.6"/></radialGradient><radialGradient id="iime21" cx="0.5" cy="0.5" r="0.5" fx="0.58" fy="0.45"><stop offset="0" stop-color="#2d2d2d"/><stop offset="0.7" stop-color="#373737"/><stop offset="0.86" stop-color="#424242"/><stop offset="0.95" stop-color="#5a5a5a"/><stop offset="1" stop-color="#888888" stop-opacity="0.6"/></radialGradient><radialGradient id="iime22" cx="0.5" cy="0.5" r="0.5" fx="0.58" fy="0.45"><stop offset="0" stop-color="#414141"/><stop offset="0.7" stop-color="#4b4b4b"/><stop offset="0.86" stop-color="#565656"/><stop offset="0.95" stop-color="#6e6e6e"/><stop offset="1" stop-color="#888888" stop-opacity="0.6"/></radialGradient><radialGradient id="iime23" cx="0.5" cy="0.5" r="0.5" fx="0.42" fy="0.6"><stop offset="0" stop-color="#282828"/><stop offset="0.7" stop-color="#323232"/><stop offset="0.86" stop-color="#3d3d3d"/><stop offset="0.95" stop-color="#555555"/><stop offset="1" stop-color="#888888" stop-opacity="0.6"/></radialGradient><radialGradient id="iime24" cx="0.5" cy="0.5" r="0.5" fx="0.58" fy="0.45"><stop offset="0" stop-color="#464646"/><stop offset="0.7" stop-color="#505050"/><stop offset="0.86" stop-color="#5b5b5b"/><stop offset="0.95" stop-color="#737373"/><stop offset="1" stop-color="#888888" stop-opacity="0.6"/></radialGradient><radialGradient id="iime25" cx="0.5" cy="0.5" r="0.5" fx="0.58" fy="0.6"><stop offset="0" stop-color="#2d2d2d"/><stop offset="0.7" stop-color="#373737"/><stop offset="0.86" stop-color="#424242"/><stop offset="0.95" stop-color="#5a5a5a"/><stop offset="1" stop-color="#888888" stop-opacity="0.6"/></radialGradient><radialGradient id="iime26" cx="0.5" cy="0.5" r="0.5" fx="0.58" fy="0.45"><stop offset="0" stop-color="#232323"/><stop offset="0.7" stop-color="#2d2d2d"/><stop offset="0.86" stop-color="#383838"/><stop offset="0.95" stop-color="#505050"/><stop offset="1" stop-color="#888888" stop-opacity="0.6"/></radialGradient><radialGradient id="iime27" cx="0.5" cy="0.5" r="0.5" fx="0.42" fy="0.45"><stop offset="0" stop-color="#323232"/><stop offset="0.7" stop-color="#3c3c3c"/><stop offset="0.86" stop-color="#474747"/><stop offset="0.95" stop-color="#5f5f5f"/><stop offset="1" stop-color="#888888" stop-opacity="0.6"/></radialGradient><radialGradient id="iime28" cx="0.5" cy="0.5" r="0.5" fx="0.58" fy="0.45"><stop offset="0" stop-color="#373737"/><stop offset="0.7" stop-color="#414141"/><stop offset="0.86" stop-color="#4c4c4c"/><stop offset="0.95" stop-color="#646464"/><stop offset="1" stop-color="#888888" stop-opacity="0.6"/></radialGradient><radialGradient id="iime29" cx="0.5" cy="0.5" r="0.5" fx="0.42" fy="0.6"><stop offset="0" stop-color="#2d2d2d"/><stop offset="0.7" stop-color="#373737"/><stop offset="0.86" stop-color="#424242"/><stop offset="0.95" stop-color="#5a5a5a"/><stop offset="1" stop-color="#888888" stop-opacity="0.6"/></radialGradient><radialGradient id="iime30" cx="0.5" cy="0.5" r="0.5" fx="0.42" fy="0.45"><stop offset="0" stop-color="#323232"/><stop offset="0.7" stop-color="#3c3c3c"/><stop offset="0.86" stop-color="#474747"/><stop offset="0.95" stop-color="#5f5f5f"/><stop offset="1" stop-color="#888888" stop-opacity="0.6"/></radialGradient><radialGradient id="iime31" cx="0.5" cy="0.5" r="0.5" fx="0.42" fy="0.45"><stop offset="0" stop-color="#323232"/><stop offset="0.7" stop-color="#3c3c3c"/><stop offset="0.86" stop-color="#474747"/><stop offset="0.95" stop-color="#5f5f5f"/><stop offset="1" stop-color="#888888" stop-opacity="0.6"/></radialGradient><radialGradient id="iime32" cx="0.5" cy="0.5" r="0.5" fx="0.58" fy="0.6"><stop offset="0" stop-color="#4b4b4b"/><stop offset="0.7" stop-color="#555555"/><stop offset="0.86" stop-color="#606060"/><stop offset="0.95" stop-color="#787878"/><stop offset="1" stop-color="#888888" stop-opacity="0.6"/></radialGradient><radialGradient id="iime33" cx="0.5" cy="0.5" r="0.5" fx="0.42" fy="0.45"><stop offset="0" stop-color="#2d2d2d"/><stop offset="0.7" stop-color="#373737"/><stop offset="0.86" stop-color="#424242"/><stop offset="0.95" stop-color="#5a5a5a"/><stop offset="1" stop-color="#888888" stop-opacity="0.6"/></radialGradient><radialGradient id="iime34" cx="0.5" cy="0.5" r="0.5" fx="0.58" fy="0.6"><stop offset="0" stop-color="#323232"/><stop offset="0.7" stop-color="#3c3c3c"/><stop offset="0.86" stop-color="#474747"/><stop offset="0.95" stop-color="#5f5f5f"/><stop offset="1" stop-color="#888888" stop-opacity="0.6"/></radialGradient><radialGradient id="iime35" cx="0.5" cy="0.5" r="0.5" fx="0.42" fy="0.45"><stop offset="0" stop-color="#373737"/><stop offset="0.7" stop-color="#414141"/><stop offset="0.86" stop-color="#4c4c4c"/><stop offset="0.95" stop-color="#646464"/><stop offset="1" stop-color="#888888" stop-opacity="0.6"/></radialGradient></defs><ellipse cx="641.7" cy="44.8" rx="13.8" ry="11.4" transform="rotate(0 641.7 44.8)" fill="url(#iime0)"/>
<ellipse cx="624.5" cy="101.0" rx="18.6" ry="9.6" transform="rotate(0 624.5 101.0)" fill="url(#iime1)"/>
<ellipse cx="640.0" cy="142.8" rx="11.4" ry="13.8" transform="rotate(0 640.0 142.8)" fill="url(#iime2)"/>
<ellipse cx="549.4" cy="186.6" rx="11.4" ry="13.8" transform="rotate(0 549.4 186.6)" fill="url(#iime3)"/>
<ellipse cx="662.0" cy="191.0" rx="3.6" ry="7.2" transform="rotate(0 662.0 191.0)" fill="url(#iime4)"/>
<ellipse cx="748.5" cy="163.1" rx="37.2" ry="18.6" transform="rotate(-25 748.5 163.1)" fill="url(#iime5)"/>
<ellipse cx="679.6" cy="155.3" rx="13.8" ry="18.6" transform="rotate(0 679.6 155.3)" fill="url(#iime6)"/>
<ellipse cx="711.0" cy="194.4" rx="11.4" ry="11.4" transform="rotate(0 711.0 194.4)" fill="url(#iime7)"/>
<ellipse cx="595.6" cy="41.6" rx="11.2" ry="9.5" transform="rotate(0 595.6 41.6)" fill="url(#iime8)"/>
<ellipse cx="579.0" cy="59.0" rx="12.3" ry="10.6" transform="rotate(0 579.0 59.0)" fill="url(#iime9)"/>
<ellipse cx="554.0" cy="68.0" rx="12.9" ry="11.2" transform="rotate(0 554.0 68.0)" fill="url(#iime10)"/>
<ellipse cx="613.5" cy="82.3" rx="15.1" ry="12.3" transform="rotate(-15 613.5 82.3)" fill="url(#iime11)"/>
<ellipse cx="580.0" cy="95.0" rx="11.2" ry="12.9" transform="rotate(0 580.0 95.0)" fill="url(#iime12)"/>
<ellipse cx="627.6" cy="48.0" rx="6.7" ry="9.0" transform="rotate(0 627.6 48.0)" fill="url(#iime13)"/>
<ellipse cx="601.0" cy="66.7" rx="7.8" ry="6.2" transform="rotate(0 601.0 66.7)" fill="url(#iime14)"/>
<ellipse cx="649.5" cy="77.6" rx="9.0" ry="17.4" transform="rotate(0 649.5 77.6)" fill="url(#iime15)"/>
<ellipse cx="602.6" cy="118.3" rx="9.0" ry="5.6" transform="rotate(0 602.6 118.3)" fill="url(#iime16)"/>
<ellipse cx="648.0" cy="109.0" rx="4.5" ry="3.1" transform="rotate(0 648.0 109.0)" fill="url(#iime17)"/>
<ellipse cx="549.4" cy="96.4" rx="9.0" ry="12.9" transform="rotate(0 549.4 96.4)" fill="url(#iime18)"/>
<ellipse cx="558.8" cy="113.6" rx="6.7" ry="6.7" transform="rotate(0 558.8 113.6)" fill="url(#iime19)"/>
<ellipse cx="605.7" cy="130.3" rx="12.9" ry="6.7" transform="rotate(0 605.7 130.3)" fill="url(#iime20)"/>
<ellipse cx="622.9" cy="153.7" rx="15.7" ry="11.2" transform="rotate(0 622.9 153.7)" fill="url(#iime21)"/>
<ellipse cx="608.9" cy="174.0" rx="17.4" ry="14.0" transform="rotate(0 608.9 174.0)" fill="url(#iime22)"/>
<ellipse cx="572.9" cy="178.8" rx="7.8" ry="9.5" transform="rotate(0 572.9 178.8)" fill="url(#iime23)"/>
<ellipse cx="560.3" cy="155.3" rx="17.4" ry="15.7" transform="rotate(0 560.3 155.3)" fill="url(#iime24)"/>
<ellipse cx="588.5" cy="207.0" rx="9.0" ry="9.0" transform="rotate(0 588.5 207.0)" fill="url(#iime25)"/>
<ellipse cx="649.5" cy="197.5" rx="7.0" ry="7.8" transform="rotate(0 649.5 197.5)" fill="url(#iime26)"/>
<ellipse cx="546.3" cy="131.8" rx="5.0" ry="4.5" transform="rotate(0 546.3 131.8)" fill="url(#iime27)"/>
<ellipse cx="660.5" cy="160.0" rx="5.0" ry="6.7" transform="rotate(0 660.5 160.0)" fill="url(#iime28)"/>
<ellipse cx="599.5" cy="189.7" rx="7.0" ry="5.3" transform="rotate(0 599.5 189.7)" fill="url(#iime29)"/>
<ellipse cx="707.8" cy="149.0" rx="11.2" ry="12.9" transform="rotate(0 707.8 149.0)" fill="url(#iime30)"/>
<ellipse cx="681.2" cy="188.2" rx="19.0" ry="15.1" transform="rotate(0 681.2 188.2)" fill="url(#iime31)"/>
<ellipse cx="742.2" cy="136.5" rx="26.3" ry="5.0" transform="rotate(-10 742.2 136.5)" fill="url(#iime32)"/>
<ellipse cx="782.9" cy="189.7" rx="5.0" ry="10.6" transform="rotate(0 782.9 189.7)" fill="url(#iime33)"/>
<ellipse cx="687.5" cy="216.3" rx="12.9" ry="6.2" transform="rotate(0 687.5 216.3)" fill="url(#iime34)"/>
<ellipse cx="781.4" cy="135.0" rx="6.7" ry="5.0" transform="rotate(0 781.4 135.0)" fill="url(#iime35)"/><g><ellipse cx="595.6" cy="41.6" rx="11.2" ry="9.5" transform="rotate(232 595.6 41.6)" fill="none" stroke="#a9a9a9" stroke-width="0.90" stroke-opacity="0.71" stroke-dasharray="31.8 16.5"/>
<ellipse cx="579.0" cy="59.0" rx="12.3" ry="10.6" transform="rotate(143 579.0 59.0)" fill="none" stroke="#a2a2a2" stroke-width="1.35" stroke-opacity="0.87" stroke-dasharray="30.5 16.7"/>
<ellipse cx="554.0" cy="68.0" rx="12.9" ry="11.2" transform="rotate(221 554.0 68.0)" fill="none" stroke="#c7c7c7" stroke-width="1.14" stroke-opacity="0.84" stroke-dasharray="29.2 20.9"/>
<ellipse cx="613.5" cy="82.3" rx="15.1" ry="12.3" transform="rotate(308 613.5 82.3)" fill="none" stroke="#a1a1a1" stroke-width="1.50" stroke-opacity="0.79" stroke-dasharray="32.1 22.4"/>
<ellipse cx="580.0" cy="95.0" rx="11.2" ry="12.9" transform="rotate(353 580.0 95.0)" fill="none" stroke="#a5a5a5" stroke-width="0.94" stroke-opacity="0.63" stroke-dasharray="24.6 8.8"/>
<ellipse cx="627.6" cy="48.0" rx="6.7" ry="9.0" transform="rotate(289 627.6 48.0)" fill="none" stroke="#a1a1a1" stroke-width="1.39" stroke-opacity="0.82" stroke-dasharray="17.1 6.8"/>
<ellipse cx="601.0" cy="66.7" rx="7.8" ry="6.2" transform="rotate(82 601.0 66.7)" fill="none" stroke="#afafaf" stroke-width="1.21" stroke-opacity="0.83" stroke-dasharray="17.3 7.8"/>
<ellipse cx="649.5" cy="77.6" rx="9.0" ry="17.4" transform="rotate(41 649.5 77.6)" fill="none" stroke="#afafaf" stroke-width="1.17" stroke-opacity="0.54" stroke-dasharray="22.6 14.8"/>
<ellipse cx="602.6" cy="118.3" rx="9.0" ry="5.6" transform="rotate(117 602.6 118.3)" fill="none" stroke="#c8c8c8" stroke-width="0.83" stroke-opacity="0.76" stroke-dasharray="16.1 5.1"/>
<ellipse cx="648.0" cy="109.0" rx="4.5" ry="3.1" transform="rotate(32 648.0 109.0)" fill="none" stroke="#c2c2c2" stroke-width="1.08" stroke-opacity="0.74" stroke-dasharray="12.4 6.7"/>
<ellipse cx="549.4" cy="96.4" rx="9.0" ry="12.9" transform="rotate(258 549.4 96.4)" fill="none" stroke="#a9a9a9" stroke-width="1.09" stroke-opacity="0.83" stroke-dasharray="19.8 10.4"/>
<ellipse cx="558.8" cy="113.6" rx="6.7" ry="6.7" transform="rotate(255 558.8 113.6)" fill="none" stroke="#b5b5b5" stroke-width="1.40" stroke-opacity="0.68" stroke-dasharray="13.6 6.5"/>
<ellipse cx="605.7" cy="130.3" rx="12.9" ry="6.7" transform="rotate(357 605.7 130.3)" fill="none" stroke="#c7c7c7" stroke-width="1.00" stroke-opacity="0.75" stroke-dasharray="24.0 10.2"/>
<ellipse cx="622.9" cy="153.7" rx="15.7" ry="11.2" transform="rotate(349 622.9 153.7)" fill="none" stroke="#cecece" stroke-width="1.30" stroke-opacity="0.78" stroke-dasharray="33.9 27.4"/>
<ellipse cx="608.9" cy="174.0" rx="17.4" ry="14.0" transform="rotate(40 608.9 174.0)" fill="none" stroke="#c3c3c3" stroke-width="0.90" stroke-opacity="0.69" stroke-dasharray="35.5 10.0"/>
<ellipse cx="572.9" cy="178.8" rx="7.8" ry="9.5" transform="rotate(32 572.9 178.8)" fill="none" stroke="#a2a2a2" stroke-width="1.41" stroke-opacity="0.62" stroke-dasharray="23.9 6.1"/>
<ellipse cx="560.3" cy="155.3" rx="17.4" ry="15.7" transform="rotate(22 560.3 155.3)" fill="none" stroke="#a0a0a0" stroke-width="1.33" stroke-opacity="0.85" stroke-dasharray="46.2 24.1"/>
<ellipse cx="588.5" cy="207.0" rx="9.0" ry="9.0" transform="rotate(318 588.5 207.0)" fill="none" stroke="#a0a0a0" stroke-width="1.37" stroke-opacity="0.68" stroke-dasharray="24.9 11.3"/>
<ellipse cx="649.5" cy="197.5" rx="7.0" ry="7.8" transform="rotate(124 649.5 197.5)" fill="none" stroke="#c0c0c0" stroke-width="1.35" stroke-opacity="0.82" stroke-dasharray="21.4 8.4"/>
<ellipse cx="546.3" cy="131.8" rx="5.0" ry="4.5" transform="rotate(309 546.3 131.8)" fill="none" stroke="#d0d0d0" stroke-width="0.75" stroke-opacity="0.83" stroke-dasharray="9.5 8.1"/>
<ellipse cx="660.5" cy="160.0" rx="5.0" ry="6.7" transform="rotate(290 660.5 160.0)" fill="none" stroke="#bababa" stroke-width="1.12" stroke-opacity="0.70" stroke-dasharray="10.2 7.5"/>
<ellipse cx="599.5" cy="189.7" rx="7.0" ry="5.3" transform="rotate(86 599.5 189.7)" fill="none" stroke="#b9b9b9" stroke-width="0.95" stroke-opacity="0.71" stroke-dasharray="17.8 6.8"/>
<ellipse cx="707.8" cy="149.0" rx="11.2" ry="12.9" transform="rotate(43 707.8 149.0)" fill="none" stroke="#c8c8c8" stroke-width="1.24" stroke-opacity="0.76" stroke-dasharray="26.9 7.3"/>
<ellipse cx="681.2" cy="188.2" rx="19.0" ry="15.1" transform="rotate(61 681.2 188.2)" fill="none" stroke="#a5a5a5" stroke-width="1.14" stroke-opacity="0.88" stroke-dasharray="45.1 20.2"/>
<ellipse cx="742.2" cy="136.5" rx="26.3" ry="5.0" transform="rotate(-1 742.2 136.5)" fill="none" stroke="#a9a9a9" stroke-width="1.15" stroke-opacity="0.60" stroke-dasharray="69.1 19.8"/>
<ellipse cx="782.9" cy="189.7" rx="5.0" ry="10.6" transform="rotate(53 782.9 189.7)" fill="none" stroke="#d1d1d1" stroke-width="1.35" stroke-opacity="0.68" stroke-dasharray="13.5 6.9"/>
<ellipse cx="687.5" cy="216.3" rx="12.9" ry="6.2" transform="rotate(157 687.5 216.3)" fill="none" stroke="#b4b4b4" stroke-width="1.33" stroke-opacity="0.63" stroke-dasharray="26.9 21.3"/>
<ellipse cx="781.4" cy="135.0" rx="6.7" ry="5.0" transform="rotate(209 781.4 135.0)" fill="none" stroke="#bebebe" stroke-width="0.90" stroke-opacity="0.52" stroke-dasharray="18.4 10.6"/></g>
</g>
</g></g>
<defs><clipPath id="iinc"><rect x="657.0" y="25.8" width="130.2" height="99.1"/></clipPath>
<radialGradient id="iing0" cx="0.5" cy="0.5" r="0.62" fx="0.42" fy="0.58"><stop offset="0" stop-color="#393939"/><stop offset="0.45" stop-color="#414141"/><stop offset="0.8" stop-color="#6c6c6c"/><stop offset="1" stop-color="#7e7e7e"/></radialGradient><radialGradient id="iing1" cx="0.5" cy="0.5" r="0.62" fx="0.6" fy="0.45"><stop offset="0" stop-color="#393939"/><stop offset="0.45" stop-color="#414141"/><stop offset="0.8" stop-color="#6c6c6c"/><stop offset="1" stop-color="#7e7e7e"/></radialGradient><radialGradient id="iing2" cx="0.5" cy="0.5" r="0.62" fx="0.42" fy="0.58"><stop offset="0" stop-color="#424242"/><stop offset="0.45" stop-color="#4a4a4a"/><stop offset="0.8" stop-color="#6c6c6c"/><stop offset="1" stop-color="#7e7e7e"/></radialGradient><radialGradient id="iing3" cx="0.5" cy="0.5" r="0.62" fx="0.6" fy="0.45"><stop offset="0" stop-color="#424242"/><stop offset="0.45" stop-color="#4a4a4a"/><stop offset="0.8" stop-color="#6c6c6c"/><stop offset="1" stop-color="#7e7e7e"/></radialGradient><radialGradient id="iing4" cx="0.5" cy="0.5" r="0.62" fx="0.42" fy="0.58"><stop offset="0" stop-color="#4c4c4c"/><stop offset="0.45" stop-color="#545454"/><stop offset="0.8" stop-color="#6c6c6c"/><stop offset="1" stop-color="#7e7e7e"/></radialGradient><radialGradient id="iing5" cx="0.5" cy="0.5" r="0.62" fx="0.6" fy="0.45"><stop offset="0" stop-color="#4c4c4c"/><stop offset="0.45" stop-color="#545454"/><stop offset="0.8" stop-color="#6c6c6c"/><stop offset="1" stop-color="#7e7e7e"/></radialGradient><radialGradient id="iing6" cx="0.5" cy="0.5" r="0.62" fx="0.42" fy="0.58"><stop offset="0" stop-color="#565656"/><stop offset="0.45" stop-color="#5e5e5e"/><stop offset="0.8" stop-color="#6c6c6c"/><stop offset="1" stop-color="#7e7e7e"/></radialGradient><radialGradient id="iing7" cx="0.5" cy="0.5" r="0.62" fx="0.6" fy="0.45"><stop offset="0" stop-color="#565656"/><stop offset="0.45" stop-color="#5e5e5e"/><stop offset="0.8" stop-color="#6c6c6c"/><stop offset="1" stop-color="#7e7e7e"/></radialGradient>
<filter id="iinb" filterUnits="userSpaceOnUse" x="597" y="-34" width="250" height="219"><feGaussianBlur stdDeviation="4.1"/></filter>
<filter id="iinA" filterUnits="userSpaceOnUse" x="597" y="-34" width="250" height="219" color-interpolation-filters="sRGB"><feTurbulence type="fractalNoise" baseFrequency="0.016" numOctaves="3" seed="22" result="n"/><feDisplacementMap in="SourceGraphic" in2="n" scale="40" xChannelSelector="R" yChannelSelector="G" result="d"/><feGaussianBlur in="d" stdDeviation="0.75"/></filter>
<filter id="iinB" filterUnits="userSpaceOnUse" x="597" y="-34" width="250" height="219" color-interpolation-filters="sRGB"><feTurbulence type="fractalNoise" baseFrequency="0.05" numOctaves="2" seed="29" result="n"/><feDisplacementMap in="SourceGraphic" in2="n" scale="9" xChannelSelector="R" yChannelSelector="G" result="d"/><feGaussianBlur in="d" stdDeviation="0.7"/></filter>
<filter id="iinP" filterUnits="userSpaceOnUse" x="597" y="-34" width="250" height="219" color-interpolation-filters="sRGB"><feTurbulence type="fractalNoise" baseFrequency="0.022" numOctaves="4" seed="112" result="m"/><feColorMatrix in="m" type="matrix" values="0 0 0 0 0  0 0 0 0 0  0 0 0 0 0  1 0 0 0 0" result="ma"/><feDiffuseLighting in="ma" surfaceScale="4" diffuseConstant="1" lighting-color="#fff" result="lit"><feDistantLight azimuth="200" elevation="42"/></feDiffuseLighting><feColorMatrix in="lit" type="matrix" values="1.0 0 0 0 -0.17  1.0 0 0 0 -0.17  1.0 0 0 0 -0.17  0 0 0 0 1" result="m2"/><feBlend in="m2" in2="SourceGraphic" mode="overlay" result="bm"/><feTurbulence type="fractalNoise" baseFrequency="0.5" numOctaves="2" seed="72" result="g"/><feColorMatrix in="g" type="matrix" values="0.18 0 0 0 0.410  0.18 0 0 0 0.410  0.18 0 0 0 0.410  0 0 0 0 1" result="g2"/><feBlend in="g2" in2="bm" mode="overlay"/></filter></defs>
<g clip-path="url(#iinc)">
<rect x="657.0" y="25.8" width="130.2" height="99.1" fill="#707070"/>
<g filter="url(#iinP)">
<rect x="597.0" y="-34.2" width="250.2" height="219.1" fill="#707070"/>
<g filter="url(#iinA)">
<path d="M586.5,-17.6 L624.6,19.9 L661.6,-5.2 L647.8,-144.0Z" fill="#666666"/>
<path d="M718.3,12.3 L742.4,-14.7 L811.7,0.0 L817.3,9.3 L813.4,55.8 L802.4,67.3 L761.9,71.5 L718.9,31.0Z" fill="#676767"/>
<path d="M809.7,124.9 L802.4,67.3 L813.4,55.8 L965.1,116.9 L851.2,144.3Z" fill="#727272"/>
<path d="M702.1,120.0 L730.9,129.8 L761.9,71.5 L718.9,31.0 L685.9,71.9Z" fill="#797979"/>
<path d="M654.2,146.0 L618.5,110.8 L629.4,63.7 L685.9,71.9 L702.1,120.0Z" fill="#757575"/>
<path d="M685.9,71.9 L718.9,31.0 L718.3,12.3 L661.6,-5.2 L624.6,19.9 L620.4,47.7 L629.4,63.7Z" fill="#7a7a7a"/>
<path d="M702.4,223.0 L652.6,157.2 L654.2,146.0 L702.1,120.0 L730.9,129.8 L741.0,144.2Z" fill="#717171"/>
<path d="M807.5,226.6 L851.2,144.3 L809.7,124.9 L765.8,150.9Z" fill="#6c6c6c"/>
<path d="M652.6,157.2 L654.2,146.0 L618.5,110.8 L525.3,144.4 L610.6,191.8Z" fill="#6b6b6b"/>
<path d="M765.8,150.9 L809.7,124.9 L802.4,67.3 L761.9,71.5 L730.9,129.8 L741.0,144.2Z" fill="#737373"/>
<g filter="url(#iinb)"><path d="M610.3,-27.9 L635.3,-3.3 L659.6,-19.7 L650.5,-110.8Z" fill="#5d5d5d" opacity="0.7"/>
<path d="M734.3,14.6 L750.7,-3.8 L798.1,6.2 L801.9,12.6 L799.2,44.3 L791.7,52.2 L764.1,55.1 L734.7,27.4Z" fill="#5f5f5f" opacity="0.7"/>
<path d="M832.5,111.5 L827.8,75.2 L834.7,67.9 L930.5,106.5 L858.6,123.8Z" fill="#6d6d6d" opacity="0.7"/>
<path d="M715.5,104.6 L737.5,112.2 L761.2,67.7 L728.3,36.7 L703.1,67.9Z" fill="#838383" opacity="0.7"/>
<path d="M646.2,125.2 L627.5,106.8 L633.2,82.0 L662.9,86.3 L671.4,111.6Z" fill="#828282" opacity="0.7"/>
<path d="M682.7,54.8 L708.3,23.1 L707.8,8.6 L663.8,-5.0 L635.2,14.4 L631.9,36.1 L638.9,48.5Z" fill="#747474" opacity="0.7"/>
<path d="M694.8,195.0 L669.7,161.9 L670.5,156.3 L694.6,143.2 L709.1,148.1 L714.2,155.4Z" fill="#787878" opacity="0.7"/>
<path d="M807.8,210.6 L840.1,149.8 L809.5,135.4 L777.1,154.7Z" fill="#717171" opacity="0.7"/>
<path d="M642.0,147.0 L642.9,140.6 L622.3,120.3 L568.4,139.7 L617.7,167.0Z" fill="#646464" opacity="0.7"/>
<path d="M776.2,124.4 L798.6,111.1 L794.9,81.7 L774.2,83.9 L758.3,113.6 L763.5,121.0Z" fill="#7b7b7b" opacity="0.7"/></g>
<g fill="none" stroke-linejoin="round" filter="url(#iinb)"><path d="M586.5,-17.6 L624.6,19.9 L661.6,-5.2 L647.8,-144.0Z" stroke="#b7b7b7" stroke-width="7.5" stroke-opacity="0.20"/>
<path d="M718.3,12.3 L742.4,-14.7 L811.7,0.0 L817.3,9.3 L813.4,55.8 L802.4,67.3 L761.9,71.5 L718.9,31.0Z" stroke="#929292" stroke-width="11.5" stroke-opacity="0.37"/>
<path d="M809.7,124.9 L802.4,67.3 L813.4,55.8 L965.1,116.9 L851.2,144.3Z" stroke="#9d9d9d" stroke-width="6.7" stroke-opacity="0.24"/>
<path d="M702.1,120.0 L730.9,129.8 L761.9,71.5 L718.9,31.0 L685.9,71.9Z" stroke="#999999" stroke-width="8.0" stroke-opacity="0.38"/>
<path d="M654.2,146.0 L618.5,110.8 L629.4,63.7 L685.9,71.9 L702.1,120.0Z" stroke="#bebebe" stroke-width="3.7" stroke-opacity="0.16"/>
<path d="M685.9,71.9 L718.9,31.0 L718.3,12.3 L661.6,-5.2 L624.6,19.9 L620.4,47.7 L629.4,63.7Z" stroke="#a4a4a4" stroke-width="8.3" stroke-opacity="0.28"/>
<path d="M702.4,223.0 L652.6,157.2 L654.2,146.0 L702.1,120.0 L730.9,129.8 L741.0,144.2Z" stroke="#9f9f9f" stroke-width="9.1" stroke-opacity="0.19"/>
<path d="M807.5,226.6 L851.2,144.3 L809.7,124.9 L765.8,150.9Z" stroke="#c0c0c0" stroke-width="8.0" stroke-opacity="0.35"/>
<path d="M652.6,157.2 L654.2,146.0 L618.5,110.8 L525.3,144.4 L610.6,191.8Z" stroke="#bebebe" stroke-width="8.0" stroke-opacity="0.24"/>
<path d="M765.8,150.9 L809.7,124.9 L802.4,67.3 L761.9,71.5 L730.9,129.8 L741.0,144.2Z" stroke="#9e9e9e" stroke-width="10.9" stroke-opacity="0.31"/></g>
<g fill="none" stroke-linejoin="round"><path d="M586.5,-17.6 L624.6,19.9 L661.6,-5.2 L647.8,-144.0Z" stroke="#d0d0d0" stroke-width="1.27" stroke-opacity="0.83"/>
<path d="M718.3,12.3 L742.4,-14.7 L811.7,0.0 L817.3,9.3 L813.4,55.8 L802.4,67.3 L761.9,71.5 L718.9,31.0Z" stroke="#ababab" stroke-width="2.21" stroke-opacity="0.57"/>
<path d="M809.7,124.9 L802.4,67.3 L813.4,55.8 L965.1,116.9 L851.2,144.3Z" stroke="#b6b6b6" stroke-width="1.12" stroke-opacity="0.78"/>
<path d="M702.1,120.0 L730.9,129.8 L761.9,71.5 L718.9,31.0 L685.9,71.9Z" stroke="#b2b2b2" stroke-width="1.91" stroke-opacity="0.95"/>
<path d="M654.2,146.0 L618.5,110.8 L629.4,63.7 L685.9,71.9 L702.1,120.0Z" stroke="#d7d7d7" stroke-width="1.03" stroke-opacity="0.84"/>
<path d="M685.9,71.9 L718.9,31.0 L718.3,12.3 L661.6,-5.2 L624.6,19.9 L620.4,47.7 L629.4,63.7Z" stroke="#bdbdbd" stroke-width="1.94" stroke-opacity="0.86"/>
<path d="M702.4,223.0 L652.6,157.2 L654.2,146.0 L702.1,120.0 L730.9,129.8 L741.0,144.2Z" stroke="#b8b8b8" stroke-width="2.24" stroke-opacity="0.94"/>
<path d="M807.5,226.6 L851.2,144.3 L809.7,124.9 L765.8,150.9Z" stroke="#d9d9d9" stroke-width="1.88" stroke-opacity="0.80"/>
<path d="M652.6,157.2 L654.2,146.0 L618.5,110.8 L525.3,144.4 L610.6,191.8Z" stroke="#d7d7d7" stroke-width="1.64" stroke-opacity="0.80"/>
<path d="M765.8,150.9 L809.7,124.9 L802.4,67.3 L761.9,71.5 L730.9,129.8 L741.0,144.2Z" stroke="#b7b7b7" stroke-width="2.37" stroke-opacity="0.87"/><path d="M730.9,79.8 Q727.5,101.8 713.4,114.5" stroke="#909090" stroke-width="0.78" stroke-opacity="0.39"/>
<path d="M712.1,71.8 Q706.5,94.4 705.7,94.2" stroke="#a5a5a5" stroke-width="0.56" stroke-opacity="0.58"/>
<path d="M661.9,108.4 Q659.1,116.0 663.7,126.2" stroke="#b5b5b5" stroke-width="0.67" stroke-opacity="0.67"/>
<path d="M661.5,110.7 Q668.5,118.7 691.6,127.4" stroke="#9b9b9b" stroke-width="0.46" stroke-opacity="0.66"/>
<path d="M809.6,172.0 Q794.4,178.6 795.4,189.7" stroke="#b9b9b9" stroke-width="0.68" stroke-opacity="0.35"/>
<path d="M619.2,149.7 Q623.4,164.8 623.2,172.0" stroke="#a7a7a7" stroke-width="0.62" stroke-opacity="0.36"/>
<path d="M614.6,152.5 Q632.9,163.0 629.8,179.5" stroke="#b6b6b6" stroke-width="0.69" stroke-opacity="0.55"/>
<path d="M775.0,101.0 Q755.9,96.7 739.3,115.2" stroke="#aaaaaa" stroke-width="0.76" stroke-opacity="0.39"/>
<path d="M769.2,101.0 Q756.2,117.4 756.7,139.6" stroke="#b5b5b5" stroke-width="0.42" stroke-opacity="0.61"/></g>
</g>
<g filter="url(#iinB)">
<defs><radialGradient id="iine0" cx="0.5" cy="0.5" r="0.5"><stop offset="0" stop-color="#8c8c8c"/><stop offset="0.65" stop-color="#888888" stop-opacity="0.92"/><stop offset="1" stop-color="#888888" stop-opacity="0"/></radialGradient><radialGradient id="iine1" cx="0.5" cy="0.5" r="0.5"><stop offset="0" stop-color="#7e7e7e"/><stop offset="0.65" stop-color="#7a7a7a" stop-opacity="0.92"/><stop offset="1" stop-color="#7a7a7a" stop-opacity="0"/></radialGradient><radialGradient id="iine2" cx="0.5" cy="0.5" r="0.5" fx="0.42" fy="0.6"><stop offset="0" stop-color="#464646"/><stop offset="0.7" stop-color="#505050"/><stop offset="0.86" stop-color="#5b5b5b"/><stop offset="0.95" stop-color="#737373"/><stop offset="1" stop-color="#848484" stop-opacity="0.6"/></radialGradient><radialGradient id="iine3" cx="0.5" cy="0.5" r="0.5" fx="0.58" fy="0.6"><stop offset="0" stop-color="#3c3c3c"/><stop offset="0.7" stop-color="#464646"/><stop offset="0.86" stop-color="#515151"/><stop offset="0.95" stop-color="#696969"/><stop offset="1" stop-color="#848484" stop-opacity="0.6"/></radialGradient><radialGradient id="iine4" cx="0.5" cy="0.5" r="0.5" fx="0.58" fy="0.45"><stop offset="0" stop-color="#3c3c3c"/><stop offset="0.7" stop-color="#464646"/><stop offset="0.86" stop-color="#515151"/><stop offset="0.95" stop-color="#696969"/><stop offset="1" stop-color="#848484" stop-opacity="0.6"/></radialGradient><radialGradient id="iine5" cx="0.5" cy="0.5" r="0.5" fx="0.42" fy="0.45"><stop offset="0" stop-color="#515151"/><stop offset="0.7" stop-color="#5b5b5b"/><stop offset="0.86" stop-color="#666666"/><stop offset="0.95" stop-color="#787878"/><stop offset="1" stop-color="#848484" stop-opacity="0.6"/></radialGradient><radialGradient id="iine6" cx="0.5" cy="0.5" r="0.5" fx="0.42" fy="0.6"><stop offset="0" stop-color="#373737"/><stop offset="0.7" stop-color="#414141"/><stop offset="0.86" stop-color="#4c4c4c"/><stop offset="0.95" stop-color="#646464"/><stop offset="1" stop-color="#848484" stop-opacity="0.6"/></radialGradient></defs><ellipse cx="726.5" cy="92.2" rx="24.6" ry="27.6" transform="rotate(0 726.5 92.2)" fill="url(#iine0)"/>
<ellipse cx="673.5" cy="59.0" rx="19.8" ry="30.0" transform="rotate(0 673.5 59.0)" fill="url(#iine1)"/>
<ellipse cx="756.2" cy="55.8" rx="21.3" ry="18.5" transform="rotate(-20 756.2 55.8)" fill="url(#iine2)"/>
<ellipse cx="681.8" cy="108.7" rx="23.0" ry="16.8" transform="rotate(0 681.8 108.7)" fill="url(#iine3)"/>
<ellipse cx="769.5" cy="100.4" rx="20.2" ry="11.8" transform="rotate(0 769.5 100.4)" fill="url(#iine4)"/>
<ellipse cx="723.2" cy="42.5" rx="18.5" ry="11.8" transform="rotate(0 723.2 42.5)" fill="url(#iine5)"/>
<ellipse cx="781.0" cy="120.3" rx="9.0" ry="5.6" transform="rotate(0 781.0 120.3)" fill="url(#iine6)"/><g><ellipse cx="756.2" cy="55.8" rx="21.3" ry="18.5" transform="rotate(42 756.2 55.8)" fill="none" stroke="#aeaeae" stroke-width="1.44" stroke-opacity="0.89" stroke-dasharray="44.9 16.6"/>
<ellipse cx="681.8" cy="108.7" rx="23.0" ry="16.8" transform="rotate(89 681.8 108.7)" fill="none" stroke="#a0a0a0" stroke-width="0.80" stroke-opacity="0.85" stroke-dasharray="43.5 22.5"/>
<ellipse cx="769.5" cy="100.4" rx="20.2" ry="11.8" transform="rotate(191 769.5 100.4)" fill="none" stroke="#b1b1b1" stroke-width="0.89" stroke-opacity="0.51" stroke-dasharray="37.7 16.1"/>
<ellipse cx="723.2" cy="42.5" rx="18.5" ry="11.8" transform="rotate(66 723.2 42.5)" fill="none" stroke="#a4a4a4" stroke-width="1.22" stroke-opacity="0.71" stroke-dasharray="44.5 26.7"/>
<ellipse cx="781.0" cy="120.3" rx="9.0" ry="5.6" transform="rotate(22 781.0 120.3)" fill="none" stroke="#b3b3b3" stroke-width="0.87" stroke-opacity="0.64" stroke-dasharray="22.9 12.2"/></g>
</g>
</g></g>
<rect x="657.0" y="25.8" width="130.2" height="99.1" fill="none" stroke="#ee0a0a" stroke-width="1.6"/>
<text x="546.0" y="47.6" font-family='"Liberation Serif","DejaVu Serif",serif' font-size="19.5" font-weight="bold" text-anchor="start" fill="#fff" stroke="#fff" stroke-width="0.15">(ii)</text>
<text x="553.9" y="202.0" font-family='"Liberation Serif","DejaVu Serif",serif' font-size="17.3" font-weight="normal" text-anchor="start" fill="#fff" stroke="#fff" stroke-width="0.15" textLength="71.3" lengthAdjust="spacingAndGlyphs">PANI 2%</text>
<rect x="737.20" y="205.30" width="40.70" height="2.60" fill="#fff"/>
<text x="757.65" y="202.0" font-family='"Liberation Serif","DejaVu Serif",serif' font-size="9.6" font-weight="bold" text-anchor="middle" fill="#fff" stroke="#fff" stroke-width="0.15" textLength="29.2" lengthAdjust="spacingAndGlyphs">100μm</text>
<rect x="752.90" y="114.80" width="25.20" height="2.60" fill="#ee8530"/>
<text x="766.3" y="112.0" font-family='"Liberation Serif","DejaVu Serif",serif' font-size="10.7" font-weight="bold" text-anchor="middle" fill="#ee8530" stroke="#ee8530" stroke-width="0.15" textLength="29.6" lengthAdjust="spacingAndGlyphs">200μm</text>
<text x="542.5" y="219.1" font-family='"Liberation Sans","DejaVu Sans",sans-serif' font-size="7.2" font-weight="normal" text-anchor="start" fill="#ececec" stroke="#ececec" stroke-width="0.15" textLength="115.7" lengthAdjust="spacingAndGlyphs">SU8010 10.0kV 9.4mm x100 LM(L)</text>
<text x="755.1" y="219.1" font-family='"Liberation Sans","DejaVu Sans",sans-serif' font-size="7.2" font-weight="normal" text-anchor="start" fill="#ececec" stroke="#ececec" stroke-width="0.15" textLength="21.7" lengthAdjust="spacingAndGlyphs">500um</text>
<line x1="684.50" y1="208.40" x2="684.50" y2="212.50" stroke="#e4e4e4" stroke-width="0.9" stroke-linecap="butt"/>
<line x1="694.28" y1="209.40" x2="694.28" y2="212.10" stroke="#e4e4e4" stroke-width="0.9" stroke-linecap="butt"/>
<line x1="704.06" y1="209.40" x2="704.06" y2="212.10" stroke="#e4e4e4" stroke-width="0.9" stroke-linecap="butt"/>
<line x1="713.84" y1="209.40" x2="713.84" y2="212.10" stroke="#e4e4e4" stroke-width="0.9" stroke-linecap="butt"/>
<line x1="723.62" y1="209.40" x2="723.62" y2="212.10" stroke="#e4e4e4" stroke-width="0.9" stroke-linecap="butt"/>
<line x1="733.40" y1="208.40" x2="733.40" y2="212.50" stroke="#e4e4e4" stroke-width="0.9" stroke-linecap="butt"/>
<line x1="743.18" y1="209.40" x2="743.18" y2="212.10" stroke="#e4e4e4" stroke-width="0.9" stroke-linecap="butt"/>
<line x1="752.96" y1="209.40" x2="752.96" y2="212.10" stroke="#e4e4e4" stroke-width="0.9" stroke-linecap="butt"/>
<line x1="762.74" y1="209.40" x2="762.74" y2="212.10" stroke="#e4e4e4" stroke-width="0.9" stroke-linecap="butt"/>
<line x1="772.52" y1="209.40" x2="772.52" y2="212.10" stroke="#e4e4e4" stroke-width="0.9" stroke-linecap="butt"/>
<line x1="782.30" y1="208.40" x2="782.30" y2="212.50" stroke="#e4e4e4" stroke-width="0.9" stroke-linecap="butt"/>
</g>
<g id="sem-iii">
<defs><clipPath id="iiimc"><rect x="288.9" y="247.0" width="232.9" height="196.5"/></clipPath>
<radialGradient id="iiimg0" cx="0.5" cy="0.5" r="0.62" fx="0.42" fy="0.58"><stop offset="0" stop-color="#343434"/><stop offset="0.45" stop-color="#3c3c3c"/><stop offset="0.8" stop-color="#606060"/><stop offset="1" stop-color="#727272"/></radialGradient><radialGradient id="iiimg1" cx="0.5" cy="0.5" r="0.62" fx="0.6" fy="0.45"><stop offset="0" stop-color="#343434"/><stop offset="0.45" stop-color="#3c3c3c"/><stop offset="0.8" stop-color="#606060"/><stop offset="1" stop-color="#727272"/></radialGradient><radialGradient id="iiimg2" cx="0.5" cy="0.5" r="0.62" fx="0.42" fy="0.58"><stop offset="0" stop-color="#3c3c3c"/><stop offset="0.45" stop-color="#444444"/><stop offset="0.8" stop-color="#606060"/><stop offset="1" stop-color="#727272"/></radialGradient><radialGradient id="iiimg3" cx="0.5" cy="0.5" r="0.62" fx="0.6" fy="0.45"><stop offset="0" stop-color="#3c3c3c"/><stop offset="0.45" stop-color="#444444"/><stop offset="0.8" stop-color="#606060"/><stop offset="1" stop-color="#727272"/></radialGradient><radialGradient id="iiimg4" cx="0.5" cy="0.5" r="0.62" fx="0.42" fy="0.58"><stop offset="0" stop-color="#444444"/><stop offset="0.45" stop-color="#4c4c4c"/><stop offset="0.8" stop-color="#606060"/><stop offset="1" stop-color="#727272"/></radialGradient><radialGradient id="iiimg5" cx="0.5" cy="0.5" r="0.62" fx="0.6" fy="0.45"><stop offset="0" stop-color="#444444"/><stop offset="0.45" stop-color="#4c4c4c"/><stop offset="0.8" stop-color="#606060"/><stop offset="1" stop-color="#727272"/></radialGradient><radialGradient id="iiimg6" cx="0.5" cy="0.5" r="0.62" fx="0.42" fy="0.58"><stop offset="0" stop-color="#4d4d4d"/><stop offset="0.45" stop-color="#555555"/><stop offset="0.8" stop-color="#606060"/><stop offset="1" stop-color="#727272"/></radialGradient><radialGradient id="iiimg7" cx="0.5" cy="0.5" r="0.62" fx="0.6" fy="0.45"><stop offset="0" stop-color="#4d4d4d"/><stop offset="0.45" stop-color="#555555"/><stop offset="0.8" stop-color="#606060"/><stop offset="1" stop-color="#727272"/></radialGradient>
<filter id="iiimb" filterUnits="userSpaceOnUse" x="229" y="187" width="353" height="316"><feGaussianBlur stdDeviation="2.1"/></filter>
<filter id="iiimA" filterUnits="userSpaceOnUse" x="229" y="187" width="353" height="316" color-interpolation-filters="sRGB"><feTurbulence type="fractalNoise" baseFrequency="0.028" numOctaves="3" seed="13" result="n"/><feDisplacementMap in="SourceGraphic" in2="n" scale="30" xChannelSelector="R" yChannelSelector="G" result="d"/><feGaussianBlur in="d" stdDeviation="0.75"/></filter>
<filter id="iiimB" filterUnits="userSpaceOnUse" x="229" y="187" width="353" height="316" color-interpolation-filters="sRGB"><feTurbulence type="fractalNoise" baseFrequency="0.05" numOctaves="2" seed="20" result="n"/><feDisplacementMap in="SourceGraphic" in2="n" scale="9" xChannelSelector="R" yChannelSelector="G" result="d"/><feGaussianBlur in="d" stdDeviation="0.7"/></filter>
<filter id="iiimP" filterUnits="userSpaceOnUse" x="229" y="187" width="353" height="316" color-interpolation-filters="sRGB"><feTurbulence type="fractalNoise" baseFrequency="0.022" numOctaves="4" seed="103" result="m"/><feColorMatrix in="m" type="matrix" values="0 0 0 0 0  0 0 0 0 0  0 0 0 0 0  1 0 0 0 0" result="ma"/><feDiffuseLighting in="ma" surfaceScale="4" diffuseConstant="1" lighting-color="#fff" result="lit"><feDistantLight azimuth="200" elevation="42"/></feDiffuseLighting><feColorMatrix in="lit" type="matrix" values="1.0 0 0 0 -0.17  1.0 0 0 0 -0.17  1.0 0 0 0 -0.17  0 0 0 0 1" result="m2"/><feBlend in="m2" in2="SourceGraphic" mode="overlay" result="bm"/><feTurbulence type="fractalNoise" baseFrequency="0.5" numOctaves="2" seed="63" result="g"/><feColorMatrix in="g" type="matrix" values="0.18 0 0 0 0.410  0.18 0 0 0 0.410  0.18 0 0 0 0.410  0 0 0 0 1" result="g2"/><feBlend in="g2" in2="bm" mode="overlay"/></filter></defs>
<g clip-path="url(#iiimc)">
<rect x="288.9" y="247.0" width="232.9" height="196.5" fill="#646464"/>
<g filter="url(#iiimP)">
<rect x="228.89999999999998" y="187.0" width="352.9" height="316.5" fill="#646464"/>
<g filter="url(#iiimA)">
<path d="M349.6,388.7 L349.0,387.4 L310.5,378.1 L308.6,378.9 L307.2,401.5 L328.0,421.9 L341.6,422.1Z" fill="#646464"/>
<path d="M486.5,443.7 L476.7,460.2 L449.0,463.4 L441.6,434.5 L464.8,417.9 L479.6,421.3Z" fill="#656565"/>
<path d="M322.0,248.6 L283.3,251.0 L276.7,262.8 L299.5,287.9 L325.8,286.0 L334.0,263.9Z" fill="#656565"/>
<path d="M500.8,228.4 L503.9,253.2 L488.4,268.9 L484.8,269.4 L471.1,263.4 L460.6,225.6 L492.0,221.3Z" fill="#636363"/>
<path d="M392.8,280.6 L406.2,244.9 L431.1,251.6 L439.6,270.5 L406.9,285.8Z" fill="#6a6a6a"/>
<path d="M315.6,328.9 L332.0,300.5 L355.9,309.7 L353.8,348.4 L330.7,346.1Z" fill="#646464"/>
<path d="M504.0,403.7 L494.1,381.5 L508.1,347.9 L518.4,348.9 L543.4,377.7 L530.3,404.3 L526.0,407.2Z" fill="#5c5c5c"/>
<path d="M311.5,463.0 L307.7,441.1 L279.4,428.6 L266.7,460.6 L292.6,473.0Z" fill="#5f5f5f"/>
<path d="M504.0,403.7 L479.6,421.3 L486.5,443.7 L512.2,452.0 L528.0,432.1 L526.0,407.2Z" fill="#666666"/>
<path d="M526.0,407.2 L530.3,404.3 L632.1,444.9 L558.3,454.2 L528.0,432.1Z" fill="url(#iiimg7)"/>
<path d="M311.5,463.0 L320.9,467.0 L351.5,453.9 L353.6,434.1 L341.6,422.1 L328.0,421.9 L307.7,441.1Z" fill="#5a5a5a"/>
<path d="M415.1,394.1 L423.9,429.8 L402.7,444.4 L378.7,426.8 L388.0,396.3 L397.0,389.7 L407.8,389.3Z" fill="#646464"/>
<path d="M428.6,348.2 L448.1,326.8 L447.9,311.7 L417.5,308.2 L401.5,334.7 L420.8,349.2Z" fill="#6b6b6b"/>
<path d="M369.8,222.8 L335.2,217.1 L324.2,225.4 L322.0,248.6 L334.0,263.9 L360.0,259.3 L373.0,227.2Z" fill="url(#iiimg5)"/>
<path d="M277.0,421.2 L307.2,401.5 L308.6,378.9 L296.5,372.9 L266.4,387.9 L271.0,416.4Z" fill="#5d5d5d"/>
<path d="M392.8,280.6 L383.8,282.4 L360.0,259.3 L373.0,227.2 L397.5,228.2 L406.2,244.9Z" fill="#6c6c6c"/>
<path d="M308.6,378.9 L310.5,378.1 L330.7,346.1 L315.6,328.9 L287.0,330.6 L283.1,339.3 L296.5,372.9Z" fill="#6a6a6a"/>
<path d="M287.0,330.6 L281.6,317.5 L299.5,287.9 L325.8,286.0 L332.0,300.5 L315.6,328.9Z" fill="#616161"/>
<path d="M431.1,251.6 L445.1,225.1 L455.4,222.2 L460.6,225.6 L471.1,263.4 L440.6,271.0 L439.6,270.5Z" fill="#6d6d6d"/>
<path d="M378.7,426.8 L353.6,434.1 L351.5,453.9 L360.1,465.7 L385.6,470.1 L401.7,455.2 L402.7,444.4Z" fill="url(#iiimg3)"/>
<path d="M388.0,396.3 L349.6,388.7 L341.6,422.1 L353.6,434.1 L378.7,426.8Z" fill="url(#iiimg3)"/>
<path d="M415.1,394.1 L451.8,387.0 L464.8,417.9 L441.6,434.5 L423.9,429.8Z" fill="#6b6b6b"/>
<path d="M415.1,394.1 L451.8,387.0 L457.8,374.4 L428.6,348.2 L420.8,349.2 L407.8,389.3Z" fill="#636363"/>
<path d="M334.0,263.9 L325.8,286.0 L332.0,300.5 L355.9,309.7 L374.0,302.3 L383.8,282.4 L360.0,259.3Z" fill="url(#iiimg6)"/>
<path d="M484.8,269.4 L469.9,304.4 L449.2,309.9 L440.6,271.0 L471.1,263.4Z" fill="#686868"/>
<path d="M488.4,268.9 L512.6,298.8 L531.2,298.3 L537.4,292.7 L536.4,261.9 L531.2,256.3 L503.9,253.2Z" fill="#6d6d6d"/>
<path d="M407.8,389.3 L420.8,349.2 L401.5,334.7 L396.2,334.7 L375.3,352.4 L397.0,389.7Z" fill="#5c5c5c"/>
<path d="M500.8,228.4 L503.9,253.2 L531.2,256.3 L542.3,226.1 L530.3,211.7Z" fill="#6c6c6c"/>
<path d="M392.8,280.6 L383.8,282.4 L374.0,302.3 L396.2,334.7 L401.5,334.7 L417.5,308.2 L406.9,285.8Z" fill="#606060"/>
<path d="M351.5,453.9 L320.9,467.0 L340.9,539.2 L360.1,465.7Z" fill="#6b6b6b"/>
<path d="M276.7,262.8 L269.9,265.9 L258.5,303.5 L281.6,317.5 L299.5,287.9Z" fill="#686868"/>
<path d="M508.1,347.9 L518.4,348.9 L538.5,329.5 L531.2,298.3 L512.6,298.8 L494.9,323.5 L495.7,337.4Z" fill="#666666"/>
<path d="M279.4,428.6 L277.0,421.2 L271.0,416.4 L134.4,439.6 L258.1,464.2 L266.7,460.6Z" fill="#6c6c6c"/>
<path d="M324.2,225.4 L322.0,248.6 L283.3,251.0 L277.5,228.3 L290.1,203.5Z" fill="#6b6b6b"/>
<path d="M484.8,269.4 L469.9,304.4 L494.9,323.5 L512.6,298.8 L488.4,268.9Z" fill="#6e6e6e"/>
<path d="M495.7,337.4 L494.9,323.5 L469.9,304.4 L449.2,309.9 L447.9,311.7 L448.1,326.8 L472.8,345.3Z" fill="#6d6d6d"/>
<path d="M451.8,387.0 L464.8,417.9 L479.6,421.3 L504.0,403.7 L494.1,381.5 L459.5,373.5 L457.8,374.4Z" fill="url(#iiimg0)"/>
<path d="M423.9,429.8 L441.6,434.5 L449.0,463.4 L448.2,464.9 L423.0,474.4 L401.7,455.2 L402.7,444.4Z" fill="#606060"/>
<path d="M310.5,378.1 L349.0,387.4 L358.2,352.3 L353.8,348.4 L330.7,346.1Z" fill="#5d5d5d"/>
<path d="M508.1,347.9 L494.1,381.5 L459.5,373.5 L472.8,345.3 L495.7,337.4Z" fill="#656565"/>
<path d="M518.4,348.9 L538.5,329.5 L642.4,346.6 L543.4,377.7Z" fill="#6f6f6f"/>
<path d="M266.4,387.9 L228.1,362.5 L283.1,339.3 L296.5,372.9Z" fill="#666666"/>
<path d="M512.2,452.0 L516.0,467.6 L495.5,496.7 L476.7,460.2 L486.5,443.7Z" fill="#696969"/>
<path d="M397.0,389.7 L375.3,352.4 L358.2,352.3 L349.0,387.4 L349.6,388.7 L388.0,396.3Z" fill="#606060"/>
<path d="M355.9,309.7 L374.0,302.3 L396.2,334.7 L375.3,352.4 L358.2,352.3 L353.8,348.4Z" fill="#646464"/>
<path d="M428.6,348.2 L448.1,326.8 L472.8,345.3 L459.5,373.5 L457.8,374.4Z" fill="#6a6a6a"/>
<path d="M406.2,244.9 L397.5,228.2 L413.4,210.5 L445.1,225.1 L431.1,251.6Z" fill="#5c5c5c"/>
<path d="M307.7,441.1 L328.0,421.9 L307.2,401.5 L277.0,421.2 L279.4,428.6Z" fill="#616161"/>
<path d="M406.9,285.8 L417.5,308.2 L447.9,311.7 L449.2,309.9 L440.6,271.0 L439.6,270.5Z" fill="#6c6c6c"/>
<path d="M528.0,432.1 L558.3,454.2 L539.9,471.7 L516.0,467.6 L512.2,452.0Z" fill="#686868"/>
<g filter="url(#iiimb)"><path d="M339.4,395.6 L339.1,394.9 L318.5,390.0 L317.5,390.4 L316.8,402.4 L327.8,413.4 L335.1,413.5Z" fill="#6f6f6f" opacity="0.7"/>
<path d="M481.1,441.0 L475.2,451.0 L458.5,452.9 L454.1,435.5 L468.0,425.5 L477.0,427.5Z" fill="#606060" opacity="0.7"/>
<path d="M321.1,255.9 L297.2,257.4 L293.1,264.7 L307.2,280.3 L323.5,279.1 L328.5,265.4Z" fill="#727272" opacity="0.7"/>
<path d="M497.9,238.8 L499.8,254.2 L490.2,263.9 L488.0,264.2 L479.5,260.5 L473.0,237.1 L492.4,234.4Z" fill="#666666" opacity="0.7"/>
<path d="M405.8,275.5 L412.7,257.1 L425.6,260.6 L429.9,270.3 L413.1,278.2Z" fill="#717171" opacity="0.7"/>
<path d="M323.9,333.4 L334.1,315.8 L348.9,321.5 L347.6,345.5 L333.3,344.0Z" fill="#636363" opacity="0.7"/>
<path d="M507.2,395.8 L502.2,384.6 L509.3,367.6 L514.5,368.1 L527.1,382.7 L520.5,396.1 L518.3,397.6Z" fill="#595959" opacity="0.7"/>
<path d="M298.6,457.0 L296.5,444.6 L280.4,437.5 L273.2,455.6 L287.9,462.7Z" fill="#636363" opacity="0.7"/>
<path d="M499.5,409.3 L483.4,420.9 L487.9,435.7 L504.9,441.2 L515.3,428.1 L514.1,411.6Z" fill="#656565" opacity="0.7"/>
<path d="M311.0,454.9 L318.1,458.0 L341.1,448.0 L342.6,433.1 L333.6,424.1 L323.4,424.0 L308.1,438.4Z" fill="#5d5d5d" opacity="0.7"/>
<path d="M412.5,397.8 L419.2,425.2 L402.9,436.4 L384.5,423.0 L391.7,399.5 L398.5,394.4 L406.8,394.2Z" fill="#696969" opacity="0.7"/>
<path d="M425.2,335.9 L436.3,323.6 L436.2,315.0 L418.9,313.0 L409.8,328.1 L420.8,336.4Z" fill="#747474" opacity="0.7"/>
<path d="M283.4,416.0 L301.5,404.2 L302.3,390.6 L295.0,387.0 L277.0,396.1 L279.7,413.2Z" fill="#696969" opacity="0.7"/>
<path d="M385.2,262.0 L380.6,262.9 L368.5,251.2 L375.2,234.8 L387.6,235.4 L392.0,243.8Z" fill="#767676" opacity="0.7"/>
<path d="M306.7,370.7 L307.9,370.2 L321.4,348.9 L311.3,337.4 L292.3,338.5 L289.7,344.3 L298.6,366.7Z" fill="#6a6a6a" opacity="0.7"/>
<path d="M296.6,318.6 L293.0,309.9 L304.9,290.3 L322.3,289.1 L326.4,298.7 L315.5,317.5Z" fill="#5a5a5a" opacity="0.7"/>
<path d="M443.3,251.0 L452.0,234.7 L458.3,232.9 L461.5,235.0 L467.9,258.2 L449.2,262.9 L448.5,262.6Z" fill="#727272" opacity="0.7"/>
<path d="M425.2,396.4 L452.0,391.2 L461.5,413.8 L444.6,425.9 L431.6,422.5Z" fill="#707070" opacity="0.7"/>
<path d="M422.6,388.6 L441.9,384.8 L445.1,378.2 L429.7,364.5 L425.6,364.9 L418.7,386.1Z" fill="#565656" opacity="0.7"/>
<path d="M481.4,278.8 L471.6,301.8 L458.1,305.4 L452.4,279.9 L472.4,274.9Z" fill="#606060" opacity="0.7"/>
<path d="M501.0,269.5 L519.1,291.8 L532.9,291.4 L537.5,287.2 L536.8,264.3 L532.9,260.1 L512.5,257.8Z" fill="#6a6a6a" opacity="0.7"/>
<path d="M410.6,375.9 L419.9,347.1 L406.1,336.7 L402.3,336.7 L387.3,349.4 L402.8,376.1Z" fill="#5e5e5e" opacity="0.7"/>
<path d="M513.2,232.7 L515.2,248.8 L532.9,250.8 L540.1,231.2 L532.4,222.0Z" fill="#757575" opacity="0.7"/>
<path d="M389.2,282.7 L382.5,284.0 L375.2,298.8 L391.8,323.0 L395.7,322.9 L407.6,303.2 L399.7,286.6Z" fill="#575757" opacity="0.7"/>
<path d="M345.3,464.8 L324.6,473.7 L338.2,522.5 L351.2,472.7Z" fill="#676767" opacity="0.7"/>
<path d="M280.7,273.7 L277.1,275.4 L270.9,295.7 L283.3,303.3 L293.0,287.3Z" fill="#5e5e5e" opacity="0.7"/>
<path d="M506.3,336.7 L512.7,337.3 L525.1,325.3 L520.6,305.9 L509.1,306.3 L498.1,321.5 L498.7,330.1Z" fill="#717171" opacity="0.7"/>
<path d="M270.4,437.4 L269.0,432.9 L265.3,430.0 L182.9,444.0 L257.5,458.9 L262.8,456.7Z" fill="#686868" opacity="0.7"/>
<path d="M317.9,230.6 L316.4,247.2 L288.7,248.9 L284.6,232.7 L293.5,215.0Z" fill="#5d5d5d" opacity="0.7"/>
<path d="M483.9,274.9 L475.3,295.0 L489.7,306.1 L499.9,291.8 L486.0,274.6Z" fill="#777777" opacity="0.7"/>
<path d="M480.3,331.4 L479.8,323.7 L466.0,313.2 L454.6,316.3 L453.9,317.2 L454.0,325.5 L467.6,335.8Z" fill="#737373" opacity="0.7"/>
<path d="M421.5,435.5 L435.4,439.2 L441.1,461.7 L440.5,462.9 L420.9,470.3 L404.3,455.4 L405.0,446.9Z" fill="#5d5d5d" opacity="0.7"/>
<path d="M323.7,378.6 L350.2,384.9 L356.6,360.8 L353.6,358.1 L337.6,356.5Z" fill="#686868" opacity="0.7"/>
<path d="M497.2,353.7 L487.1,377.9 L462.2,372.1 L471.8,351.8 L488.3,346.1Z" fill="#5e5e5e" opacity="0.7"/>
<path d="M535.3,352.1 L549.5,338.3 L623.0,350.4 L553.0,372.4Z" fill="#747474" opacity="0.7"/>
<path d="M266.7,377.1 L241.5,360.4 L277.7,345.1 L286.5,367.2Z" fill="#717171" opacity="0.7"/>
<path d="M502.7,453.3 L504.9,462.1 L493.3,478.4 L482.7,457.9 L488.2,448.6Z" fill="#646464" opacity="0.7"/>
<path d="M388.7,389.8 L373.8,364.1 L362.0,364.1 L355.7,388.2 L356.1,389.1 L382.5,394.3Z" fill="#606060" opacity="0.7"/>
<path d="M364.6,318.7 L376.9,313.6 L392.1,335.7 L377.8,347.7 L366.2,347.7 L363.2,345.1Z" fill="#6c6c6c" opacity="0.7"/>
<path d="M439.7,350.3 L450.1,338.9 L463.2,348.7 L456.1,363.7 L455.2,364.2Z" fill="#636363" opacity="0.7"/>
<path d="M414.5,246.0 L408.5,234.6 L419.5,222.4 L441.3,232.5 L431.7,250.7Z" fill="#5a5a5a" opacity="0.7"/>
<path d="M300.6,431.8 L316.0,417.2 L300.2,401.6 L277.2,416.7 L279.0,422.3Z" fill="#565656" opacity="0.7"/>
<path d="M416.3,288.6 L421.9,300.3 L437.8,302.1 L438.5,301.2 L433.9,280.9 L433.4,280.6Z" fill="#5f5f5f" opacity="0.7"/>
<path d="M528.4,442.8 L549.7,458.3 L536.8,470.6 L520.0,467.7 L517.3,456.7Z" fill="#636363" opacity="0.7"/></g>
<g fill="none" stroke-linejoin="round" filter="url(#iiimb)"><path d="M349.6,388.7 L349.0,387.4 L310.5,378.1 L308.6,378.9 L307.2,401.5 L328.0,421.9 L341.6,422.1Z" stroke="#9b9b9b" stroke-width="5.0" stroke-opacity="0.32"/>
<path d="M486.5,443.7 L476.7,460.2 L449.0,463.4 L441.6,434.5 L464.8,417.9 L479.6,421.3Z" stroke="#adadad" stroke-width="7.1" stroke-opacity="0.39"/>
<path d="M322.0,248.6 L283.3,251.0 L276.7,262.8 L299.5,287.9 L325.8,286.0 L334.0,263.9Z" stroke="#8b8b8b" stroke-width="3.7" stroke-opacity="0.34"/>
<path d="M500.8,228.4 L503.9,253.2 L488.4,268.9 L484.8,269.4 L471.1,263.4 L460.6,225.6 L492.0,221.3Z" stroke="#828282" stroke-width="7.2" stroke-opacity="0.39"/>
<path d="M392.8,280.6 L406.2,244.9 L431.1,251.6 L439.6,270.5 L406.9,285.8Z" stroke="#bcbcbc" stroke-width="6.0" stroke-opacity="0.34"/>
<path d="M315.6,328.9 L332.0,300.5 L355.9,309.7 L353.8,348.4 L330.7,346.1Z" stroke="#b1b1b1" stroke-width="4.1" stroke-opacity="0.33"/>
<path d="M504.0,403.7 L494.1,381.5 L508.1,347.9 L518.4,348.9 L543.4,377.7 L530.3,404.3 L526.0,407.2Z" stroke="#929292" stroke-width="6.0" stroke-opacity="0.31"/>
<path d="M311.5,463.0 L307.7,441.1 L279.4,428.6 L266.7,460.6 L292.6,473.0Z" stroke="#9c9c9c" stroke-width="3.0" stroke-opacity="0.31"/>
<path d="M504.0,403.7 L479.6,421.3 L486.5,443.7 L512.2,452.0 L528.0,432.1 L526.0,407.2Z" stroke="#969696" stroke-width="6.9" stroke-opacity="0.21"/>
<path d="M526.0,407.2 L530.3,404.3 L632.1,444.9 L558.3,454.2 L528.0,432.1Z" stroke="#b8b8b8" stroke-width="5.9" stroke-opacity="0.28"/>
<path d="M311.5,463.0 L320.9,467.0 L351.5,453.9 L353.6,434.1 L341.6,422.1 L328.0,421.9 L307.7,441.1Z" stroke="#878787" stroke-width="4.7" stroke-opacity="0.32"/>
<path d="M415.1,394.1 L423.9,429.8 L402.7,444.4 L378.7,426.8 L388.0,396.3 L397.0,389.7 L407.8,389.3Z" stroke="#b6b6b6" stroke-width="4.2" stroke-opacity="0.24"/>
<path d="M428.6,348.2 L448.1,326.8 L447.9,311.7 L417.5,308.2 L401.5,334.7 L420.8,349.2Z" stroke="#878787" stroke-width="9.8" stroke-opacity="0.34"/>
<path d="M369.8,222.8 L335.2,217.1 L324.2,225.4 L322.0,248.6 L334.0,263.9 L360.0,259.3 L373.0,227.2Z" stroke="#999999" stroke-width="10.4" stroke-opacity="0.28"/>
<path d="M277.0,421.2 L307.2,401.5 L308.6,378.9 L296.5,372.9 L266.4,387.9 L271.0,416.4Z" stroke="#a2a2a2" stroke-width="4.2" stroke-opacity="0.19"/>
<path d="M392.8,280.6 L383.8,282.4 L360.0,259.3 L373.0,227.2 L397.5,228.2 L406.2,244.9Z" stroke="#929292" stroke-width="2.5" stroke-opacity="0.20"/>
<path d="M308.6,378.9 L310.5,378.1 L330.7,346.1 L315.6,328.9 L287.0,330.6 L283.1,339.3 L296.5,372.9Z" stroke="#9e9e9e" stroke-width="2.0" stroke-opacity="0.19"/>
<path d="M287.0,330.6 L281.6,317.5 L299.5,287.9 L325.8,286.0 L332.0,300.5 L315.6,328.9Z" stroke="#9a9a9a" stroke-width="10.1" stroke-opacity="0.35"/>
<path d="M431.1,251.6 L445.1,225.1 L455.4,222.2 L460.6,225.6 L471.1,263.4 L440.6,271.0 L439.6,270.5Z" stroke="#a4a4a4" stroke-width="3.2" stroke-opacity="0.39"/>
<path d="M378.7,426.8 L353.6,434.1 L351.5,453.9 L360.1,465.7 L385.6,470.1 L401.7,455.2 L402.7,444.4Z" stroke="#a5a5a5" stroke-width="7.0" stroke-opacity="0.23"/>
<path d="M388.0,396.3 L349.6,388.7 L341.6,422.1 L353.6,434.1 L378.7,426.8Z" stroke="#acacac" stroke-width="8.2" stroke-opacity="0.18"/>
<path d="M415.1,394.1 L451.8,387.0 L464.8,417.9 L441.6,434.5 L423.9,429.8Z" stroke="#bcbcbc" stroke-width="6.4" stroke-opacity="0.33"/>
<path d="M415.1,394.1 L451.8,387.0 L457.8,374.4 L428.6,348.2 L420.8,349.2 L407.8,389.3Z" stroke="#b6b6b6" stroke-width="2.9" stroke-opacity="0.23"/>
<path d="M334.0,263.9 L325.8,286.0 L332.0,300.5 L355.9,309.7 L374.0,302.3 L383.8,282.4 L360.0,259.3Z" stroke="#999999" stroke-width="3.4" stroke-opacity="0.17"/>
<path d="M484.8,269.4 L469.9,304.4 L449.2,309.9 L440.6,271.0 L471.1,263.4Z" stroke="#a9a9a9" stroke-width="5.1" stroke-opacity="0.16"/>
<path d="M488.4,268.9 L512.6,298.8 L531.2,298.3 L537.4,292.7 L536.4,261.9 L531.2,256.3 L503.9,253.2Z" stroke="#aeaeae" stroke-width="3.6" stroke-opacity="0.29"/>
<path d="M407.8,389.3 L420.8,349.2 L401.5,334.7 L396.2,334.7 L375.3,352.4 L397.0,389.7Z" stroke="#989898" stroke-width="3.8" stroke-opacity="0.39"/>
<path d="M500.8,228.4 L503.9,253.2 L531.2,256.3 L542.3,226.1 L530.3,211.7Z" stroke="#989898" stroke-width="7.4" stroke-opacity="0.18"/>
<path d="M392.8,280.6 L383.8,282.4 L374.0,302.3 L396.2,334.7 L401.5,334.7 L417.5,308.2 L406.9,285.8Z" stroke="#959595" stroke-width="7.2" stroke-opacity="0.22"/>
<path d="M351.5,453.9 L320.9,467.0 L340.9,539.2 L360.1,465.7Z" stroke="#9d9d9d" stroke-width="6.7" stroke-opacity="0.27"/>
<path d="M276.7,262.8 L269.9,265.9 L258.5,303.5 L281.6,317.5 L299.5,287.9Z" stroke="#909090" stroke-width="9.0" stroke-opacity="0.15"/>
<path d="M508.1,347.9 L518.4,348.9 L538.5,329.5 L531.2,298.3 L512.6,298.8 L494.9,323.5 L495.7,337.4Z" stroke="#8e8e8e" stroke-width="3.7" stroke-opacity="0.31"/>
<path d="M279.4,428.6 L277.0,421.2 L271.0,416.4 L134.4,439.6 L258.1,464.2 L266.7,460.6Z" stroke="#b5b5b5" stroke-width="9.0" stroke-opacity="0.27"/>
<path d="M324.2,225.4 L322.0,248.6 L283.3,251.0 L277.5,228.3 L290.1,203.5Z" stroke="#acacac" stroke-width="10.0" stroke-opacity="0.27"/>
<path d="M484.8,269.4 L469.9,304.4 L494.9,323.5 L512.6,298.8 L488.4,268.9Z" stroke="#898989" stroke-width="4.5" stroke-opacity="0.31"/>
<path d="M495.7,337.4 L494.9,323.5 L469.9,304.4 L449.2,309.9 L447.9,311.7 L448.1,326.8 L472.8,345.3Z" stroke="#a4a4a4" stroke-width="7.2" stroke-opacity="0.27"/>
<path d="M451.8,387.0 L464.8,417.9 L479.6,421.3 L504.0,403.7 L494.1,381.5 L459.5,373.5 L457.8,374.4Z" stroke="#969696" stroke-width="9.0" stroke-opacity="0.30"/>
<path d="M423.9,429.8 L441.6,434.5 L449.0,463.4 L448.2,464.9 L423.0,474.4 L401.7,455.2 L402.7,444.4Z" stroke="#b3b3b3" stroke-width="7.0" stroke-opacity="0.27"/>
<path d="M310.5,378.1 L349.0,387.4 L358.2,352.3 L353.8,348.4 L330.7,346.1Z" stroke="#848484" stroke-width="4.5" stroke-opacity="0.23"/>
<path d="M508.1,347.9 L494.1,381.5 L459.5,373.5 L472.8,345.3 L495.7,337.4Z" stroke="#9b9b9b" stroke-width="5.6" stroke-opacity="0.30"/>
<path d="M518.4,348.9 L538.5,329.5 L642.4,346.6 L543.4,377.7Z" stroke="#a6a6a6" stroke-width="3.6" stroke-opacity="0.16"/>
<path d="M266.4,387.9 L228.1,362.5 L283.1,339.3 L296.5,372.9Z" stroke="#878787" stroke-width="8.6" stroke-opacity="0.26"/>
<path d="M512.2,452.0 L516.0,467.6 L495.5,496.7 L476.7,460.2 L486.5,443.7Z" stroke="#8d8d8d" stroke-width="7.1" stroke-opacity="0.20"/>
<path d="M397.0,389.7 L375.3,352.4 L358.2,352.3 L349.0,387.4 L349.6,388.7 L388.0,396.3Z" stroke="#878787" stroke-width="5.9" stroke-opacity="0.19"/>
<path d="M355.9,309.7 L374.0,302.3 L396.2,334.7 L375.3,352.4 L358.2,352.3 L353.8,348.4Z" stroke="#8f8f8f" stroke-width="10.1" stroke-opacity="0.30"/>
<path d="M428.6,348.2 L448.1,326.8 L472.8,345.3 L459.5,373.5 L457.8,374.4Z" stroke="#adadad" stroke-width="4.8" stroke-opacity="0.24"/>
<path d="M406.2,244.9 L397.5,228.2 L413.4,210.5 L445.1,225.1 L431.1,251.6Z" stroke="#adadad" stroke-width="5.8" stroke-opacity="0.18"/>
<path d="M307.7,441.1 L328.0,421.9 L307.2,401.5 L277.0,421.2 L279.4,428.6Z" stroke="#a1a1a1" stroke-width="5.4" stroke-opacity="0.20"/>
<path d="M406.9,285.8 L417.5,308.2 L447.9,311.7 L449.2,309.9 L440.6,271.0 L439.6,270.5Z" stroke="#bcbcbc" stroke-width="5.8" stroke-opacity="0.25"/>
<path d="M528.0,432.1 L558.3,454.2 L539.9,471.7 L516.0,467.6 L512.2,452.0Z" stroke="#9e9e9e" stroke-width="3.5" stroke-opacity="0.36"/></g>
<g fill="none" stroke-linejoin="round"><path d="M349.6,388.7 L349.0,387.4 L310.5,378.1 L308.6,378.9 L307.2,401.5 L328.0,421.9 L341.6,422.1Z" stroke="#b4b4b4" stroke-width="0.86" stroke-opacity="0.91"/>
<path d="M486.5,443.7 L476.7,460.2 L449.0,463.4 L441.6,434.5 L464.8,417.9 L479.6,421.3Z" stroke="#c6c6c6" stroke-width="1.19" stroke-opacity="0.77"/>
<path d="M322.0,248.6 L283.3,251.0 L276.7,262.8 L299.5,287.9 L325.8,286.0 L334.0,263.9Z" stroke="#a4a4a4" stroke-width="0.66" stroke-opacity="0.76"/>
<path d="M500.8,228.4 L503.9,253.2 L488.4,268.9 L484.8,269.4 L471.1,263.4 L460.6,225.6 L492.0,221.3Z" stroke="#9b9b9b" stroke-width="1.80" stroke-opacity="0.93"/>
<path d="M392.8,280.6 L406.2,244.9 L431.1,251.6 L439.6,270.5 L406.9,285.8Z" stroke="#d5d5d5" stroke-width="1.88" stroke-opacity="0.78"/>
<path d="M315.6,328.9 L332.0,300.5 L355.9,309.7 L353.8,348.4 L330.7,346.1Z" stroke="#cacaca" stroke-width="0.89" stroke-opacity="0.89"/>
<path d="M504.0,403.7 L494.1,381.5 L508.1,347.9 L518.4,348.9 L543.4,377.7 L530.3,404.3 L526.0,407.2Z" stroke="#ababab" stroke-width="1.31" stroke-opacity="0.77"/>
<path d="M311.5,463.0 L307.7,441.1 L279.4,428.6 L266.7,460.6 L292.6,473.0Z" stroke="#b5b5b5" stroke-width="0.72" stroke-opacity="0.77"/>
<path d="M504.0,403.7 L479.6,421.3 L486.5,443.7 L512.2,452.0 L528.0,432.1 L526.0,407.2Z" stroke="#afafaf" stroke-width="1.43" stroke-opacity="0.74"/>
<path d="M526.0,407.2 L530.3,404.3 L632.1,444.9 L558.3,454.2 L528.0,432.1Z" stroke="#d1d1d1" stroke-width="1.13" stroke-opacity="0.58"/>
<path d="M311.5,463.0 L320.9,467.0 L351.5,453.9 L353.6,434.1 L341.6,422.1 L328.0,421.9 L307.7,441.1Z" stroke="#a0a0a0" stroke-width="1.02" stroke-opacity="0.57"/>
<path d="M415.1,394.1 L423.9,429.8 L402.7,444.4 L378.7,426.8 L388.0,396.3 L397.0,389.7 L407.8,389.3Z" stroke="#cfcfcf" stroke-width="0.88" stroke-opacity="0.79"/>
<path d="M428.6,348.2 L448.1,326.8 L447.9,311.7 L417.5,308.2 L401.5,334.7 L420.8,349.2Z" stroke="#a0a0a0" stroke-width="1.65" stroke-opacity="0.92"/>
<path d="M369.8,222.8 L335.2,217.1 L324.2,225.4 L322.0,248.6 L334.0,263.9 L360.0,259.3 L373.0,227.2Z" stroke="#b2b2b2" stroke-width="1.77" stroke-opacity="0.66"/>
<path d="M277.0,421.2 L307.2,401.5 L308.6,378.9 L296.5,372.9 L266.4,387.9 L271.0,416.4Z" stroke="#bbbbbb" stroke-width="0.88" stroke-opacity="0.58"/>
<path d="M392.8,280.6 L383.8,282.4 L360.0,259.3 L373.0,227.2 L397.5,228.2 L406.2,244.9Z" stroke="#ababab" stroke-width="0.60" stroke-opacity="0.69"/>
<path d="M308.6,378.9 L310.5,378.1 L330.7,346.1 L315.6,328.9 L287.0,330.6 L283.1,339.3 L296.5,372.9Z" stroke="#b7b7b7" stroke-width="0.64" stroke-opacity="0.59"/>
<path d="M287.0,330.6 L281.6,317.5 L299.5,287.9 L325.8,286.0 L332.0,300.5 L315.6,328.9Z" stroke="#b3b3b3" stroke-width="1.92" stroke-opacity="0.93"/>
<path d="M431.1,251.6 L445.1,225.1 L455.4,222.2 L460.6,225.6 L471.1,263.4 L440.6,271.0 L439.6,270.5Z" stroke="#bdbdbd" stroke-width="0.62" stroke-opacity="0.78"/>
<path d="M378.7,426.8 L353.6,434.1 L351.5,453.9 L360.1,465.7 L385.6,470.1 L401.7,455.2 L402.7,444.4Z" stroke="#bebebe" stroke-width="1.60" stroke-opacity="0.75"/>
<path d="M388.0,396.3 L349.6,388.7 L341.6,422.1 L353.6,434.1 L378.7,426.8Z" stroke="#c5c5c5" stroke-width="1.69" stroke-opacity="0.98"/>
<path d="M415.1,394.1 L451.8,387.0 L464.8,417.9 L441.6,434.5 L423.9,429.8Z" stroke="#d5d5d5" stroke-width="1.61" stroke-opacity="0.86"/>
<path d="M415.1,394.1 L451.8,387.0 L457.8,374.4 L428.6,348.2 L420.8,349.2 L407.8,389.3Z" stroke="#cfcfcf" stroke-width="0.78" stroke-opacity="0.63"/>
<path d="M334.0,263.9 L325.8,286.0 L332.0,300.5 L355.9,309.7 L374.0,302.3 L383.8,282.4 L360.0,259.3Z" stroke="#b2b2b2" stroke-width="0.83" stroke-opacity="0.92"/>
<path d="M484.8,269.4 L469.9,304.4 L449.2,309.9 L440.6,271.0 L471.1,263.4Z" stroke="#c2c2c2" stroke-width="1.30" stroke-opacity="0.72"/>
<path d="M488.4,268.9 L512.6,298.8 L531.2,298.3 L537.4,292.7 L536.4,261.9 L531.2,256.3 L503.9,253.2Z" stroke="#c7c7c7" stroke-width="1.06" stroke-opacity="0.79"/>
<path d="M407.8,389.3 L420.8,349.2 L401.5,334.7 L396.2,334.7 L375.3,352.4 L397.0,389.7Z" stroke="#b1b1b1" stroke-width="0.66" stroke-opacity="0.86"/>
<path d="M500.8,228.4 L503.9,253.2 L531.2,256.3 L542.3,226.1 L530.3,211.7Z" stroke="#b1b1b1" stroke-width="1.50" stroke-opacity="0.73"/>
<path d="M392.8,280.6 L383.8,282.4 L374.0,302.3 L396.2,334.7 L401.5,334.7 L417.5,308.2 L406.9,285.8Z" stroke="#aeaeae" stroke-width="1.35" stroke-opacity="0.93"/>
<path d="M351.5,453.9 L320.9,467.0 L340.9,539.2 L360.1,465.7Z" stroke="#b6b6b6" stroke-width="1.41" stroke-opacity="0.71"/>
<path d="M276.7,262.8 L269.9,265.9 L258.5,303.5 L281.6,317.5 L299.5,287.9Z" stroke="#a9a9a9" stroke-width="1.64" stroke-opacity="0.64"/>
<path d="M508.1,347.9 L518.4,348.9 L538.5,329.5 L531.2,298.3 L512.6,298.8 L494.9,323.5 L495.7,337.4Z" stroke="#a7a7a7" stroke-width="1.18" stroke-opacity="0.95"/>
<path d="M279.4,428.6 L277.0,421.2 L271.0,416.4 L134.4,439.6 L258.1,464.2 L266.7,460.6Z" stroke="#cecece" stroke-width="1.63" stroke-opacity="0.94"/>
<path d="M324.2,225.4 L322.0,248.6 L283.3,251.0 L277.5,228.3 L290.1,203.5Z" stroke="#c5c5c5" stroke-width="1.91" stroke-opacity="0.78"/>
<path d="M484.8,269.4 L469.9,304.4 L494.9,323.5 L512.6,298.8 L488.4,268.9Z" stroke="#a2a2a2" stroke-width="1.31" stroke-opacity="0.96"/>
<path d="M495.7,337.4 L494.9,323.5 L469.9,304.4 L449.2,309.9 L447.9,311.7 L448.1,326.8 L472.8,345.3Z" stroke="#bdbdbd" stroke-width="1.58" stroke-opacity="0.71"/>
<path d="M451.8,387.0 L464.8,417.9 L479.6,421.3 L504.0,403.7 L494.1,381.5 L459.5,373.5 L457.8,374.4Z" stroke="#afafaf" stroke-width="1.81" stroke-opacity="0.58"/>
<path d="M423.9,429.8 L441.6,434.5 L449.0,463.4 L448.2,464.9 L423.0,474.4 L401.7,455.2 L402.7,444.4Z" stroke="#cccccc" stroke-width="1.78" stroke-opacity="0.98"/>
<path d="M310.5,378.1 L349.0,387.4 L358.2,352.3 L353.8,348.4 L330.7,346.1Z" stroke="#9d9d9d" stroke-width="0.89" stroke-opacity="0.63"/>
<path d="M508.1,347.9 L494.1,381.5 L459.5,373.5 L472.8,345.3 L495.7,337.4Z" stroke="#b4b4b4" stroke-width="1.03" stroke-opacity="0.64"/>
<path d="M518.4,348.9 L538.5,329.5 L642.4,346.6 L543.4,377.7Z" stroke="#bfbfbf" stroke-width="0.99" stroke-opacity="0.95"/>
<path d="M266.4,387.9 L228.1,362.5 L283.1,339.3 L296.5,372.9Z" stroke="#a0a0a0" stroke-width="1.54" stroke-opacity="0.70"/>
<path d="M512.2,452.0 L516.0,467.6 L495.5,496.7 L476.7,460.2 L486.5,443.7Z" stroke="#a6a6a6" stroke-width="1.39" stroke-opacity="0.77"/>
<path d="M397.0,389.7 L375.3,352.4 L358.2,352.3 L349.0,387.4 L349.6,388.7 L388.0,396.3Z" stroke="#a0a0a0" stroke-width="1.57" stroke-opacity="0.66"/>
<path d="M355.9,309.7 L374.0,302.3 L396.2,334.7 L375.3,352.4 L358.2,352.3 L353.8,348.4Z" stroke="#a8a8a8" stroke-width="1.79" stroke-opacity="0.76"/>
<path d="M428.6,348.2 L448.1,326.8 L472.8,345.3 L459.5,373.5 L457.8,374.4Z" stroke="#c6c6c6" stroke-width="1.17" stroke-opacity="0.86"/>
<path d="M406.2,244.9 L397.5,228.2 L413.4,210.5 L445.1,225.1 L431.1,251.6Z" stroke="#c6c6c6" stroke-width="1.24" stroke-opacity="0.76"/>
<path d="M307.7,441.1 L328.0,421.9 L307.2,401.5 L277.0,421.2 L279.4,428.6Z" stroke="#bababa" stroke-width="1.43" stroke-opacity="0.73"/>
<path d="M406.9,285.8 L417.5,308.2 L447.9,311.7 L449.2,309.9 L440.6,271.0 L439.6,270.5Z" stroke="#d5d5d5" stroke-width="1.31" stroke-opacity="0.98"/>
<path d="M528.0,432.1 L558.3,454.2 L539.9,471.7 L516.0,467.6 L512.2,452.0Z" stroke="#b7b7b7" stroke-width="0.74" stroke-opacity="0.93"/><path d="M326.4,403.8 Q322.3,412.5 324.7,421.1" stroke="#bababa" stroke-width="0.60" stroke-opacity="0.63"/>
<path d="M329.9,394.9 Q330.7,400.3 331.4,411.2" stroke="#949494" stroke-width="0.87" stroke-opacity="0.37"/>
<path d="M470.9,446.3 Q463.3,447.2 457.1,454.6" stroke="#a4a4a4" stroke-width="0.80" stroke-opacity="0.47"/>
<path d="M308.6,266.6 Q311.6,267.6 324.7,278.0" stroke="#b2b2b2" stroke-width="0.80" stroke-opacity="0.58"/>
<path d="M312.2,260.0 Q305.4,264.1 296.5,265.7" stroke="#adadad" stroke-width="0.89" stroke-opacity="0.53"/>
<path d="M341.4,332.9 Q338.3,338.9 338.4,349.6" stroke="#9f9f9f" stroke-width="0.60" stroke-opacity="0.50"/>
<path d="M512.0,386.0 Q510.2,396.7 507.5,397.0" stroke="#b6b6b6" stroke-width="0.66" stroke-opacity="0.47"/>
<path d="M288.4,460.0 Q285.0,465.4 292.0,469.9" stroke="#b3b3b3" stroke-width="0.56" stroke-opacity="0.31"/>
<path d="M289.8,458.8 Q294.2,456.1 310.5,460.4" stroke="#b0b0b0" stroke-width="0.52" stroke-opacity="0.58"/>
<path d="M332.2,441.4 Q339.0,441.4 342.6,448.5" stroke="#9f9f9f" stroke-width="0.66" stroke-opacity="0.47"/>
<path d="M326.6,443.2 Q320.9,447.4 320.0,456.1" stroke="#939393" stroke-width="0.48" stroke-opacity="0.42"/>
<path d="M390.5,250.7 Q390.2,259.9 389.1,263.0" stroke="#959595" stroke-width="0.61" stroke-opacity="0.70"/>
<path d="M449.1,248.4 Q455.9,261.0 451.8,261.6" stroke="#939393" stroke-width="0.52" stroke-opacity="0.49"/>
<path d="M440.4,416.1 Q449.2,421.2 447.6,425.4" stroke="#a9a9a9" stroke-width="0.42" stroke-opacity="0.40"/>
<path d="M427.5,378.9 Q423.8,381.8 409.0,384.3" stroke="#aaaaaa" stroke-width="0.64" stroke-opacity="0.45"/>
<path d="M520.3,271.3 Q532.6,276.9 539.1,273.8" stroke="#a6a6a6" stroke-width="0.46" stroke-opacity="0.50"/>
<path d="M391.0,304.5 Q389.3,316.0 394.2,320.8" stroke="#adadad" stroke-width="0.55" stroke-opacity="0.32"/>
<path d="M389.2,299.7 Q390.2,312.8 388.3,317.2" stroke="#969696" stroke-width="0.49" stroke-opacity="0.53"/>
<path d="M344.3,478.4 Q347.3,485.5 350.8,488.2" stroke="#a1a1a1" stroke-width="0.74" stroke-opacity="0.45"/>
<path d="M284.5,292.8 Q288.6,298.2 299.3,293.0" stroke="#a3a3a3" stroke-width="0.45" stroke-opacity="0.47"/>
<path d="M520.9,324.7 Q522.8,335.2 527.3,341.9" stroke="#999999" stroke-width="0.41" stroke-opacity="0.35"/>
<path d="M297.3,234.4 Q294.1,243.5 301.5,250.7" stroke="#afafaf" stroke-width="0.67" stroke-opacity="0.32"/>
<path d="M486.0,288.8 Q491.4,292.0 485.6,305.8" stroke="#bdbdbd" stroke-width="0.71" stroke-opacity="0.59"/>
<path d="M471.0,322.3 Q479.0,325.1 485.1,325.5" stroke="#939393" stroke-width="0.83" stroke-opacity="0.62"/>
<path d="M468.0,327.6 Q461.2,326.8 460.1,334.6" stroke="#a0a0a0" stroke-width="0.65" stroke-opacity="0.51"/>
<path d="M424.3,445.0 Q424.0,451.9 424.0,462.2" stroke="#bbbbbb" stroke-width="0.54" stroke-opacity="0.30"/>
<path d="M339.1,363.9 Q349.1,360.0 351.1,367.6" stroke="#929292" stroke-width="0.41" stroke-opacity="0.48"/>
<path d="M484.2,357.4 Q487.4,360.6 498.7,370.6" stroke="#9b9b9b" stroke-width="0.65" stroke-opacity="0.31"/>
<path d="M484.8,361.6 Q491.2,360.7 495.7,366.4" stroke="#939393" stroke-width="0.50" stroke-opacity="0.44"/>
<path d="M562.3,356.7 Q551.1,361.2 550.9,364.8" stroke="#9f9f9f" stroke-width="0.87" stroke-opacity="0.40"/>
<path d="M267.4,360.9 Q268.8,373.0 275.3,373.4" stroke="#9a9a9a" stroke-width="0.72" stroke-opacity="0.54"/>
<path d="M271.7,367.2 Q262.3,378.3 264.0,385.7" stroke="#a6a6a6" stroke-width="0.43" stroke-opacity="0.40"/>
<path d="M491.2,462.0 Q483.0,468.9 471.2,463.8" stroke="#ababab" stroke-width="0.67" stroke-opacity="0.49"/>
<path d="M504.7,458.0 Q505.0,466.5 494.9,475.7" stroke="#989898" stroke-width="0.64" stroke-opacity="0.43"/>
<path d="M374.2,337.7 Q363.4,338.4 357.2,347.5" stroke="#9e9e9e" stroke-width="0.46" stroke-opacity="0.68"/>
<path d="M368.2,336.7 Q378.7,337.1 379.0,337.3" stroke="#b5b5b5" stroke-width="0.49" stroke-opacity="0.52"/>
<path d="M456.9,355.8 Q454.0,365.8 458.0,367.0" stroke="#a3a3a3" stroke-width="0.66" stroke-opacity="0.38"/>
<path d="M434.2,298.6 Q424.5,300.8 420.9,301.5" stroke="#a6a6a6" stroke-width="0.77" stroke-opacity="0.69"/>
<path d="M427.3,295.9 Q430.4,300.8 428.2,312.7" stroke="#b1b1b1" stroke-width="0.89" stroke-opacity="0.41"/></g>
</g>
<g filter="url(#iiimB)">
<defs><radialGradient id="iiime0" cx="0.5" cy="0.5" r="0.5"><stop offset="0" stop-color="#9a9a9a"/><stop offset="0.65" stop-color="#969696" stop-opacity="0.92"/><stop offset="1" stop-color="#969696" stop-opacity="0"/></radialGradient><radialGradient id="iiime1" cx="0.5" cy="0.5" r="0.5"><stop offset="0" stop-color="#9a9a9a"/><stop offset="0.65" stop-color="#969696" stop-opacity="0.92"/><stop offset="1" stop-color="#969696" stop-opacity="0"/></radialGradient><radialGradient id="iiime2" cx="0.5" cy="0.5" r="0.5"><stop offset="0" stop-color="#909090"/><stop offset="0.65" stop-color="#8c8c8c" stop-opacity="0.92"/><stop offset="1" stop-color="#8c8c8c" stop-opacity="0"/></radialGradient><radialGradient id="iiime3" cx="0.5" cy="0.5" r="0.5"><stop offset="0" stop-color="#8e8e8e"/><stop offset="0.65" stop-color="#8a8a8a" stop-opacity="0.92"/><stop offset="1" stop-color="#8a8a8a" stop-opacity="0"/></radialGradient><radialGradient id="iiime4" cx="0.5" cy="0.5" r="0.5"><stop offset="0" stop-color="#9a9a9a"/><stop offset="0.65" stop-color="#969696" stop-opacity="0.92"/><stop offset="1" stop-color="#969696" stop-opacity="0"/></radialGradient><radialGradient id="iiime5" cx="0.5" cy="0.5" r="0.5"><stop offset="0" stop-color="#818181"/><stop offset="0.65" stop-color="#7d7d7d" stop-opacity="0.92"/><stop offset="1" stop-color="#7d7d7d" stop-opacity="0"/></radialGradient><radialGradient id="iiime6" cx="0.5" cy="0.5" r="0.5"><stop offset="0" stop-color="#8b8b8b"/><stop offset="0.65" stop-color="#878787" stop-opacity="0.92"/><stop offset="1" stop-color="#878787" stop-opacity="0"/></radialGradient><radialGradient id="iiime7" cx="0.5" cy="0.5" r="0.5"><stop offset="0" stop-color="#929292"/><stop offset="0.65" stop-color="#8e8e8e" stop-opacity="0.92"/><stop offset="1" stop-color="#8e8e8e" stop-opacity="0"/></radialGradient><radialGradient id="iiime8" cx="0.5" cy="0.5" r="0.5"><stop offset="0" stop-color="#8b8b8b"/><stop offset="0.65" stop-color="#878787" stop-opacity="0.92"/><stop offset="1" stop-color="#878787" stop-opacity="0"/></radialGradient><radialGradient id="iiime9" cx="0.5" cy="0.5" r="0.5"><stop offset="0" stop-color="#9a9a9a"/><stop offset="0.65" stop-color="#969696" stop-opacity="0.92"/><stop offset="1" stop-color="#969696" stop-opacity="0"/></radialGradient><radialGradient id="iiime10" cx="0.5" cy="0.5" r="0.5" fx="0.58" fy="0.45"><stop offset="0" stop-color="#323232"/><stop offset="0.7" stop-color="#3c3c3c"/><stop offset="0.86" stop-color="#474747"/><stop offset="0.95" stop-color="#5f5f5f"/><stop offset="1" stop-color="#787878" stop-opacity="0.6"/></radialGradient><radialGradient id="iiime11" cx="0.5" cy="0.5" r="0.5" fx="0.42" fy="0.45"><stop offset="0" stop-color="#3f3f3f"/><stop offset="0.7" stop-color="#494949"/><stop offset="0.86" stop-color="#545454"/><stop offset="0.95" stop-color="#6c6c6c"/><stop offset="1" stop-color="#787878" stop-opacity="0.6"/></radialGradient><radialGradient id="iiime12" cx="0.5" cy="0.5" r="0.5" fx="0.42" fy="0.6"><stop offset="0" stop-color="#2f2f2f"/><stop offset="0.7" stop-color="#393939"/><stop offset="0.86" stop-color="#444444"/><stop offset="0.95" stop-color="#5c5c5c"/><stop offset="1" stop-color="#787878" stop-opacity="0.6"/></radialGradient><radialGradient id="iiime13" cx="0.5" cy="0.5" r="0.5" fx="0.42" fy="0.6"><stop offset="0" stop-color="#282828"/><stop offset="0.7" stop-color="#323232"/><stop offset="0.86" stop-color="#3d3d3d"/><stop offset="0.95" stop-color="#555555"/><stop offset="1" stop-color="#787878" stop-opacity="0.6"/></radialGradient><radialGradient id="iiime14" cx="0.5" cy="0.5" r="0.5" fx="0.42" fy="0.6"><stop offset="0" stop-color="#373737"/><stop offset="0.7" stop-color="#414141"/><stop offset="0.86" stop-color="#4c4c4c"/><stop offset="0.95" stop-color="#646464"/><stop offset="1" stop-color="#787878" stop-opacity="0.6"/></radialGradient><radialGradient id="iiime15" cx="0.5" cy="0.5" r="0.5" fx="0.42" fy="0.45"><stop offset="0" stop-color="#535353"/><stop offset="0.7" stop-color="#5d5d5d"/><stop offset="0.86" stop-color="#686868"/><stop offset="0.95" stop-color="#6c6c6c"/><stop offset="1" stop-color="#787878" stop-opacity="0.6"/></radialGradient><radialGradient id="iiime16" cx="0.5" cy="0.5" r="0.5" fx="0.58" fy="0.45"><stop offset="0" stop-color="#2d2d2d"/><stop offset="0.7" stop-color="#373737"/><stop offset="0.86" stop-color="#424242"/><stop offset="0.95" stop-color="#5a5a5a"/><stop offset="1" stop-color="#787878" stop-opacity="0.6"/></radialGradient><radialGradient id="iiime17" cx="0.5" cy="0.5" r="0.5" fx="0.58" fy="0.6"><stop offset="0" stop-color="#434343"/><stop offset="0.7" stop-color="#4d4d4d"/><stop offset="0.86" stop-color="#585858"/><stop offset="0.95" stop-color="#6c6c6c"/><stop offset="1" stop-color="#787878" stop-opacity="0.6"/></radialGradient><radialGradient id="iiime18" cx="0.5" cy="0.5" r="0.5" fx="0.42" fy="0.6"><stop offset="0" stop-color="#373737"/><stop offset="0.7" stop-color="#414141"/><stop offset="0.86" stop-color="#4c4c4c"/><stop offset="0.95" stop-color="#646464"/><stop offset="1" stop-color="#787878" stop-opacity="0.6"/></radialGradient><radialGradient id="iiime19" cx="0.5" cy="0.5" r="0.5" fx="0.42" fy="0.45"><stop offset="0" stop-color="#323232"/><stop offset="0.7" stop-color="#3c3c3c"/><stop offset="0.86" stop-color="#474747"/><stop offset="0.95" stop-color="#5f5f5f"/><stop offset="1" stop-color="#787878" stop-opacity="0.6"/></radialGradient><radialGradient id="iiime20" cx="0.5" cy="0.5" r="0.5" fx="0.58" fy="0.6"><stop offset="0" stop-color="#414141"/><stop offset="0.7" stop-color="#4b4b4b"/><stop offset="0.86" stop-color="#565656"/><stop offset="0.95" stop-color="#6c6c6c"/><stop offset="1" stop-color="#787878" stop-opacity="0.6"/></radialGradient><radialGradient id="iiime21" cx="0.5" cy="0.5" r="0.5" fx="0.42" fy="0.6"><stop offset="0" stop-color="#3c3c3c"/><stop offset="0.7" stop-color="#464646"/><stop offset="0.86" stop-color="#515151"/><stop offset="0.95" stop-color="#696969"/><stop offset="1" stop-color="#787878" stop-opacity="0.6"/></radialGradient><radialGradient id="iiime22" cx="0.5" cy="0.5" r="0.5" fx="0.58" fy="0.45"><stop offset="0" stop-color="#323232"/><stop offset="0.7" stop-color="#3c3c3c"/><stop offset="0.86" stop-color="#474747"/><stop offset="0.95" stop-color="#5f5f5f"/><stop offset="1" stop-color="#787878" stop-opacity="0.6"/></radialGradient><radialGradient id="iiime23" cx="0.5" cy="0.5" r="0.5" fx="0.58" fy="0.6"><stop offset="0" stop-color="#323232"/><stop offset="0.7" stop-color="#3c3c3c"/><stop offset="0.86" stop-color="#474747"/><stop offset="0.95" stop-color="#5f5f5f"/><stop offset="1" stop-color="#787878" stop-opacity="0.6"/></radialGradient><radialGradient id="iiime24" cx="0.5" cy="0.5" r="0.5" fx="0.42" fy="0.45"><stop offset="0" stop-color="#464646"/><stop offset="0.7" stop-color="#505050"/><stop offset="0.86" stop-color="#5b5b5b"/><stop offset="0.95" stop-color="#6c6c6c"/><stop offset="1" stop-color="#787878" stop-opacity="0.6"/></radialGradient><radialGradient id="iiime25" cx="0.5" cy="0.5" r="0.5" fx="0.58" fy="0.45"><stop offset="0" stop-color="#282828"/><stop offset="0.7" stop-color="#323232"/><stop offset="0.86" stop-color="#3d3d3d"/><stop offset="0.95" stop-color="#555555"/><stop offset="1" stop-color="#787878" stop-opacity="0.6"/></radialGradient><radialGradient id="iiime26" cx="0.5" cy="0.5" r="0.5" fx="0.58" fy="0.6"><stop offset="0" stop-color="#282828"/><stop offset="0.7" stop-color="#323232"/><stop offset="0.86" stop-color="#3d3d3d"/><stop offset="0.95" stop-color="#555555"/><stop offset="1" stop-color="#787878" stop-opacity="0.6"/></radialGradient><radialGradient id="iiime27" cx="0.5" cy="0.5" r="0.5" fx="0.42" fy="0.6"><stop offset="0" stop-color="#2d2d2d"/><stop offset="0.7" stop-color="#373737"/><stop offset="0.86" stop-color="#424242"/><stop offset="0.95" stop-color="#5a5a5a"/><stop offset="1" stop-color="#787878" stop-opacity="0.6"/></radialGradient><radialGradient id="iiime28" cx="0.5" cy="0.5" r="0.5" fx="0.58" fy="0.6"><stop offset="0" stop-color="#414141"/><stop offset="0.7" stop-color="#4b4b4b"/><stop offset="0.86" stop-color="#565656"/><stop offset="0.95" stop-color="#6c6c6c"/><stop offset="1" stop-color="#787878" stop-opacity="0.6"/></radialGradient><radialGradient id="iiime29" cx="0.5" cy="0.5" r="0.5" fx="0.42" fy="0.6"><stop offset="0" stop-color="#535353"/><stop offset="0.7" stop-color="#5d5d5d"/><stop offset="0.86" stop-color="#686868"/><stop offset="0.95" stop-color="#6c6c6c"/><stop offset="1" stop-color="#787878" stop-opacity="0.6"/></radialGradient><radialGradient id="iiime30" cx="0.5" cy="0.5" r="0.5" fx="0.42" fy="0.6"><stop offset="0" stop-color="#464646"/><stop offset="0.7" stop-color="#505050"/><stop offset="0.86" stop-color="#5b5b5b"/><stop offset="0.95" stop-color="#6c6c6c"/><stop offset="1" stop-color="#787878" stop-opacity="0.6"/></radialGradient></defs><ellipse cx="352.0" cy="285.0" rx="11.4" ry="20.4" transform="rotate(10 352.0 285.0)" fill="url(#iiime0)"/>
<ellipse cx="388.6" cy="269.0" rx="9.0" ry="9.0" transform="rotate(0 388.6 269.0)" fill="url(#iiime1)"/>
<ellipse cx="390.0" cy="308.5" rx="5.4" ry="17.4" transform="rotate(0 390.0 308.5)" fill="url(#iiime2)"/>
<ellipse cx="323.0" cy="276.0" rx="18.0" ry="4.2" transform="rotate(0 323.0 276.0)" fill="url(#iiime3)"/>
<ellipse cx="384.2" cy="378.7" rx="13.2" ry="17.4" transform="rotate(0 384.2 378.7)" fill="url(#iiime4)"/>
<ellipse cx="357.8" cy="387.5" rx="9.0" ry="13.2" transform="rotate(0 357.8 387.5)" fill="url(#iiime5)"/>
<ellipse cx="394.4" cy="427.0" rx="10.8" ry="13.2" transform="rotate(0 394.4 427.0)" fill="url(#iiime6)"/>
<ellipse cx="443.4" cy="415.9" rx="31.2" ry="13.2" transform="rotate(0 443.4 415.9)" fill="url(#iiime7)"/>
<ellipse cx="484.8" cy="365.7" rx="7.2" ry="6.0" transform="rotate(0 484.8 365.7)" fill="url(#iiime8)"/>
<ellipse cx="456.7" cy="359.8" rx="3.6" ry="18.0" transform="rotate(15 456.7 359.8)" fill="url(#iiime9)"/>
<ellipse cx="331.5" cy="255.8" rx="14.0" ry="9.8" transform="rotate(0 331.5 255.8)" fill="url(#iiime10)"/>
<ellipse cx="368.0" cy="280.7" rx="23.0" ry="26.9" transform="rotate(0 368.0 280.7)" fill="url(#iiime11)"/>
<ellipse cx="372.0" cy="290.0" rx="11.2" ry="14.6" transform="rotate(0 372.0 290.0)" fill="url(#iiime12)"/>
<ellipse cx="375.4" cy="317.3" rx="10.6" ry="12.9" transform="rotate(0 375.4 317.3)" fill="url(#iiime13)"/>
<ellipse cx="293.4" cy="305.6" rx="5.0" ry="8.4" transform="rotate(0 293.4 305.6)" fill="url(#iiime14)"/>
<ellipse cx="318.3" cy="317.3" rx="24.6" ry="24.6" transform="rotate(0 318.3 317.3)" fill="url(#iiime15)"/>
<ellipse cx="368.0" cy="362.6" rx="16.2" ry="14.6" transform="rotate(0 368.0 362.6)" fill="url(#iiime16)"/>
<ellipse cx="325.6" cy="369.9" rx="20.7" ry="20.7" transform="rotate(0 325.6 369.9)" fill="url(#iiime17)"/>
<ellipse cx="303.6" cy="400.6" rx="14.6" ry="9.8" transform="rotate(0 303.6 400.6)" fill="url(#iiime18)"/>
<ellipse cx="371.0" cy="415.3" rx="20.7" ry="9.8" transform="rotate(0 371.0 415.3)" fill="url(#iiime19)"/>
<ellipse cx="325.6" cy="431.4" rx="24.6" ry="8.4" transform="rotate(0 325.6 431.4)" fill="url(#iiime20)"/>
<ellipse cx="439.0" cy="392.3" rx="31.4" ry="15.1" transform="rotate(0 439.0 392.3)" fill="url(#iiime21)"/>
<ellipse cx="481.8" cy="379.0" rx="16.8" ry="12.3" transform="rotate(0 481.8 379.0)" fill="url(#iiime22)"/>
<ellipse cx="498.0" cy="398.2" rx="14.0" ry="13.4" transform="rotate(0 498.0 398.2)" fill="url(#iiime23)"/>
<ellipse cx="508.4" cy="362.7" rx="15.1" ry="10.1" transform="rotate(0 508.4 362.7)" fill="url(#iiime24)"/>
<ellipse cx="413.9" cy="418.9" rx="10.1" ry="5.6" transform="rotate(0 413.9 418.9)" fill="url(#iiime25)"/>
<ellipse cx="467.0" cy="404.0" rx="8.4" ry="5.0" transform="rotate(0 467.0 404.0)" fill="url(#iiime26)"/>
<ellipse cx="518.7" cy="396.7" rx="3.9" ry="6.7" transform="rotate(0 518.7 396.7)" fill="url(#iiime27)"/>
<ellipse cx="517.0" cy="414.4" rx="8.4" ry="12.3" transform="rotate(0 517.0 414.4)" fill="url(#iiime28)"/>
<ellipse cx="431.6" cy="364.2" rx="24.6" ry="12.3" transform="rotate(0 431.6 364.2)" fill="url(#iiime29)"/>
<ellipse cx="487.7" cy="435.0" rx="16.8" ry="6.7" transform="rotate(0 487.7 435.0)" fill="url(#iiime30)"/><g><ellipse cx="331.5" cy="255.8" rx="14.0" ry="9.8" transform="rotate(13 331.5 255.8)" fill="none" stroke="#c3c3c3" stroke-width="1.15" stroke-opacity="0.69" stroke-dasharray="37.8 10.1"/>
<ellipse cx="368.0" cy="280.7" rx="23.0" ry="26.9" transform="rotate(33 368.0 280.7)" fill="none" stroke="#a6a6a6" stroke-width="1.41" stroke-opacity="0.51" stroke-dasharray="42.1 32.5"/>
<ellipse cx="372.0" cy="290.0" rx="11.2" ry="14.6" transform="rotate(205 372.0 290.0)" fill="none" stroke="#cacaca" stroke-width="1.17" stroke-opacity="0.85" stroke-dasharray="27.3 11.8"/>
<ellipse cx="375.4" cy="317.3" rx="10.6" ry="12.9" transform="rotate(249 375.4 317.3)" fill="none" stroke="#acacac" stroke-width="1.45" stroke-opacity="0.76" stroke-dasharray="30.9 13.1"/>
<ellipse cx="293.4" cy="305.6" rx="5.0" ry="8.4" transform="rotate(245 293.4 305.6)" fill="none" stroke="#c4c4c4" stroke-width="1.04" stroke-opacity="0.57" stroke-dasharray="9.4 4.0"/>
<ellipse cx="318.3" cy="317.3" rx="24.6" ry="24.6" transform="rotate(285 318.3 317.3)" fill="none" stroke="#b9b9b9" stroke-width="1.39" stroke-opacity="0.77" stroke-dasharray="75.8 33.5"/>
<ellipse cx="368.0" cy="362.6" rx="16.2" ry="14.6" transform="rotate(338 368.0 362.6)" fill="none" stroke="#a5a5a5" stroke-width="0.93" stroke-opacity="0.89" stroke-dasharray="47.5 27.4"/>
<ellipse cx="325.6" cy="369.9" rx="20.7" ry="20.7" transform="rotate(127 325.6 369.9)" fill="none" stroke="#a5a5a5" stroke-width="1.20" stroke-opacity="0.80" stroke-dasharray="45.5 28.4"/>
<ellipse cx="303.6" cy="400.6" rx="14.6" ry="9.8" transform="rotate(71 303.6 400.6)" fill="none" stroke="#a1a1a1" stroke-width="0.79" stroke-opacity="0.60" stroke-dasharray="26.5 20.8"/>
<ellipse cx="371.0" cy="415.3" rx="20.7" ry="9.8" transform="rotate(136 371.0 415.3)" fill="none" stroke="#d0d0d0" stroke-width="1.44" stroke-opacity="0.78" stroke-dasharray="57.5 12.4"/>
<ellipse cx="325.6" cy="431.4" rx="24.6" ry="8.4" transform="rotate(191 325.6 431.4)" fill="none" stroke="#b7b7b7" stroke-width="1.10" stroke-opacity="0.73" stroke-dasharray="73.4 15.8"/>
<ellipse cx="439.0" cy="392.3" rx="31.4" ry="15.1" transform="rotate(250 439.0 392.3)" fill="none" stroke="#c9c9c9" stroke-width="1.18" stroke-opacity="0.74" stroke-dasharray="88.1 40.7"/>
<ellipse cx="481.8" cy="379.0" rx="16.8" ry="12.3" transform="rotate(96 481.8 379.0)" fill="none" stroke="#afafaf" stroke-width="1.02" stroke-opacity="0.65" stroke-dasharray="46.0 29.9"/>
<ellipse cx="498.0" cy="398.2" rx="14.0" ry="13.4" transform="rotate(167 498.0 398.2)" fill="none" stroke="#b8b8b8" stroke-width="0.99" stroke-opacity="0.75" stroke-dasharray="35.7 20.5"/>
<ellipse cx="508.4" cy="362.7" rx="15.1" ry="10.1" transform="rotate(315 508.4 362.7)" fill="none" stroke="#adadad" stroke-width="1.39" stroke-opacity="0.59" stroke-dasharray="44.0 24.0"/>
<ellipse cx="413.9" cy="418.9" rx="10.1" ry="5.6" transform="rotate(13 413.9 418.9)" fill="none" stroke="#a1a1a1" stroke-width="1.40" stroke-opacity="0.51" stroke-dasharray="23.6 12.3"/>
<ellipse cx="467.0" cy="404.0" rx="8.4" ry="5.0" transform="rotate(15 467.0 404.0)" fill="none" stroke="#cdcdcd" stroke-width="1.31" stroke-opacity="0.72" stroke-dasharray="22.6 11.2"/>
<ellipse cx="518.7" cy="396.7" rx="3.9" ry="6.7" transform="rotate(64 518.7 396.7)" fill="none" stroke="#bfbfbf" stroke-width="1.43" stroke-opacity="0.58" stroke-dasharray="8.2 5.3"/>
<ellipse cx="517.0" cy="414.4" rx="8.4" ry="12.3" transform="rotate(17 517.0 414.4)" fill="none" stroke="#a0a0a0" stroke-width="0.74" stroke-opacity="0.70" stroke-dasharray="15.3 9.5"/>
<ellipse cx="431.6" cy="364.2" rx="24.6" ry="12.3" transform="rotate(72 431.6 364.2)" fill="none" stroke="#cacaca" stroke-width="0.96" stroke-opacity="0.53" stroke-dasharray="55.5 24.8"/>
<ellipse cx="487.7" cy="435.0" rx="16.8" ry="6.7" transform="rotate(105 487.7 435.0)" fill="none" stroke="#b4b4b4" stroke-width="1.49" stroke-opacity="0.73" stroke-dasharray="47.6 12.4"/></g>
</g>
</g></g>
<defs><clipPath id="iiinc"><rect x="397.4" y="247.1" width="124.0" height="98.9"/></clipPath>
<radialGradient id="iiing0" cx="0.5" cy="0.5" r="0.62" fx="0.42" fy="0.58"><stop offset="0" stop-color="#2e2e2e"/><stop offset="0.45" stop-color="#363636"/><stop offset="0.8" stop-color="#585858"/><stop offset="1" stop-color="#6a6a6a"/></radialGradient><radialGradient id="iiing1" cx="0.5" cy="0.5" r="0.62" fx="0.6" fy="0.45"><stop offset="0" stop-color="#2e2e2e"/><stop offset="0.45" stop-color="#363636"/><stop offset="0.8" stop-color="#585858"/><stop offset="1" stop-color="#6a6a6a"/></radialGradient><radialGradient id="iiing2" cx="0.5" cy="0.5" r="0.62" fx="0.42" fy="0.58"><stop offset="0" stop-color="#363636"/><stop offset="0.45" stop-color="#3e3e3e"/><stop offset="0.8" stop-color="#585858"/><stop offset="1" stop-color="#6a6a6a"/></radialGradient><radialGradient id="iiing3" cx="0.5" cy="0.5" r="0.62" fx="0.6" fy="0.45"><stop offset="0" stop-color="#363636"/><stop offset="0.45" stop-color="#3e3e3e"/><stop offset="0.8" stop-color="#585858"/><stop offset="1" stop-color="#6a6a6a"/></radialGradient><radialGradient id="iiing4" cx="0.5" cy="0.5" r="0.62" fx="0.42" fy="0.58"><stop offset="0" stop-color="#3e3e3e"/><stop offset="0.45" stop-color="#464646"/><stop offset="0.8" stop-color="#585858"/><stop offset="1" stop-color="#6a6a6a"/></radialGradient><radialGradient id="iiing5" cx="0.5" cy="0.5" r="0.62" fx="0.6" fy="0.45"><stop offset="0" stop-color="#3e3e3e"/><stop offset="0.45" stop-color="#464646"/><stop offset="0.8" stop-color="#585858"/><stop offset="1" stop-color="#6a6a6a"/></radialGradient><radialGradient id="iiing6" cx="0.5" cy="0.5" r="0.62" fx="0.42" fy="0.58"><stop offset="0" stop-color="#464646"/><stop offset="0.45" stop-color="#4e4e4e"/><stop offset="0.8" stop-color="#585858"/><stop offset="1" stop-color="#6a6a6a"/></radialGradient><radialGradient id="iiing7" cx="0.5" cy="0.5" r="0.62" fx="0.6" fy="0.45"><stop offset="0" stop-color="#464646"/><stop offset="0.45" stop-color="#4e4e4e"/><stop offset="0.8" stop-color="#585858"/><stop offset="1" stop-color="#6a6a6a"/></radialGradient>
<filter id="iiinb" filterUnits="userSpaceOnUse" x="337" y="187" width="244" height="219"><feGaussianBlur stdDeviation="3.9"/></filter>
<filter id="iiinA" filterUnits="userSpaceOnUse" x="337" y="187" width="244" height="219" color-interpolation-filters="sRGB"><feTurbulence type="fractalNoise" baseFrequency="0.018" numOctaves="3" seed="23" result="n"/><feDisplacementMap in="SourceGraphic" in2="n" scale="40" xChannelSelector="R" yChannelSelector="G" result="d"/><feGaussianBlur in="d" stdDeviation="0.75"/></filter>
<filter id="iiinB" filterUnits="userSpaceOnUse" x="337" y="187" width="244" height="219" color-interpolation-filters="sRGB"><feTurbulence type="fractalNoise" baseFrequency="0.05" numOctaves="2" seed="30" result="n"/><feDisplacementMap in="SourceGraphic" in2="n" scale="9" xChannelSelector="R" yChannelSelector="G" result="d"/><feGaussianBlur in="d" stdDeviation="0.7"/></filter>
<filter id="iiinP" filterUnits="userSpaceOnUse" x="337" y="187" width="244" height="219" color-interpolation-filters="sRGB"><feTurbulence type="fractalNoise" baseFrequency="0.022" numOctaves="4" seed="113" result="m"/><feColorMatrix in="m" type="matrix" values="0 0 0 0 0  0 0 0 0 0  0 0 0 0 0  1 0 0 0 0" result="ma"/><feDiffuseLighting in="ma" surfaceScale="4" diffuseConstant="1" lighting-color="#fff" result="lit"><feDistantLight azimuth="200" elevation="42"/></feDiffuseLighting><feColorMatrix in="lit" type="matrix" values="1.0 0 0 0 -0.17  1.0 0 0 0 -0.17  1.0 0 0 0 -0.17  0 0 0 0 1" result="m2"/><feBlend in="m2" in2="SourceGraphic" mode="overlay" result="bm"/><feTurbulence type="fractalNoise" baseFrequency="0.5" numOctaves="2" seed="73" result="g"/><feColorMatrix in="g" type="matrix" values="0.18 0 0 0 0.410  0.18 0 0 0 0.410  0.18 0 0 0 0.410  0 0 0 0 1" result="g2"/><feBlend in="g2" in2="bm" mode="overlay"/></filter></defs>
<g clip-path="url(#iiinc)">
<rect x="397.4" y="247.1" width="124.0" height="98.9" fill="#5c5c5c"/>
<g filter="url(#iiinP)">
<rect x="337.4" y="187.1" width="244.0" height="218.9" fill="#5c5c5c"/>
<g filter="url(#iiinA)">
<path d="M476.8,237.1 L499.8,231.8 L523.0,287.1 L494.5,323.2 L465.4,315.0 L450.5,281.6Z" fill="#646464"/>
<path d="M433.2,210.7 L452.0,110.7 L512.0,215.8 L499.8,231.8 L476.8,237.1Z" fill="#636363"/>
<path d="M388.6,234.3 L365.7,225.8 L334.0,283.8 L351.5,314.4 L387.8,312.4 L406.2,269.6Z" fill="#606060"/>
<path d="M504.6,343.8 L494.5,323.2 L465.4,315.0 L420.0,348.8 L451.9,396.7 L494.9,378.9Z" fill="#555555"/>
<path d="M565.5,354.0 L577.2,297.2 L565.3,286.4 L523.0,287.1 L494.5,323.2 L504.6,343.8Z" fill="#5e5e5e"/>
<path d="M417.0,348.5 L387.8,312.4 L351.5,314.4 L335.2,344.7 L360.3,383.1 L373.5,384.9Z" fill="#626262"/>
<path d="M388.6,234.3 L433.2,210.7 L476.8,237.1 L450.5,281.6 L406.2,269.6Z" fill="#595959"/>
<path d="M523.0,287.1 L565.3,286.4 L572.5,226.6 L536.9,209.3 L512.0,215.8 L499.8,231.8Z" fill="#616161"/>
<path d="M451.9,396.7 L427.8,474.3 L373.5,384.9 L417.0,348.5 L420.0,348.8Z" fill="#545454"/>
<path d="M565.5,354.0 L504.6,343.8 L494.9,378.9 L534.9,428.1 L577.2,371.4Z" fill="#656565"/>
<path d="M406.2,269.6 L387.8,312.4 L417.0,348.5 L420.0,348.8 L465.4,315.0 L450.5,281.6Z" fill="#585858"/>
<g filter="url(#iiinb)"><path d="M477.0,249.4 L492.0,245.9 L507.1,281.8 L488.5,305.3 L469.7,300.0 L460.0,278.2Z" fill="#717171" opacity="0.7"/>
<path d="M450.8,211.0 L463.4,144.5 L503.3,214.5 L495.2,225.1 L479.9,228.7Z" fill="#6a6a6a" opacity="0.7"/>
<path d="M378.4,249.5 L362.5,243.6 L340.5,283.8 L352.7,305.0 L377.8,303.7 L390.6,274.0Z" fill="#686868" opacity="0.7"/>
<path d="M483.8,348.4 L477.7,336.1 L460.4,331.3 L433.3,351.4 L452.4,380.0 L478.0,369.4Z" fill="#4b4b4b" opacity="0.7"/>
<path d="M554.1,337.6 L560.1,308.4 L554.0,302.9 L532.3,303.3 L517.6,321.8 L522.8,332.4Z" fill="#636363" opacity="0.7"/>
<path d="M400.6,345.5 L385.8,327.2 L367.4,328.2 L359.2,343.5 L371.9,363.0 L378.6,363.9Z" fill="#656565" opacity="0.7"/>
<path d="M408.9,232.3 L432.0,219.9 L454.7,233.7 L441.0,256.8 L418.0,250.6Z" fill="#585858" opacity="0.7"/>
<path d="M528.4,281.6 L559.2,281.0 L564.4,237.6 L538.5,225.0 L520.4,229.7 L511.5,241.4Z" fill="#606060" opacity="0.7"/>
<path d="M442.5,393.0 L430.2,432.6 L402.4,387.0 L424.6,368.4 L426.2,368.6Z" fill="#545454" opacity="0.7"/>
<path d="M545.5,356.0 L514.5,350.8 L509.6,368.7 L529.9,393.8 L551.5,364.9Z" fill="#585858" opacity="0.7"/>
<path d="M405.4,288.9 L392.9,317.9 L412.7,342.4 L414.7,342.6 L445.5,319.7 L435.4,297.0Z" fill="#4c4c4c" opacity="0.7"/></g>
<g fill="none" stroke-linejoin="round" filter="url(#iiinb)"><path d="M476.8,237.1 L499.8,231.8 L523.0,287.1 L494.5,323.2 L465.4,315.0 L450.5,281.6Z" stroke="#9d9d9d" stroke-width="3.9" stroke-opacity="0.20"/>
<path d="M433.2,210.7 L452.0,110.7 L512.0,215.8 L499.8,231.8 L476.8,237.1Z" stroke="#b2b2b2" stroke-width="4.6" stroke-opacity="0.33"/>
<path d="M388.6,234.3 L365.7,225.8 L334.0,283.8 L351.5,314.4 L387.8,312.4 L406.2,269.6Z" stroke="#b5b5b5" stroke-width="6.2" stroke-opacity="0.20"/>
<path d="M504.6,343.8 L494.5,323.2 L465.4,315.0 L420.0,348.8 L451.9,396.7 L494.9,378.9Z" stroke="#a1a1a1" stroke-width="8.5" stroke-opacity="0.39"/>
<path d="M565.5,354.0 L577.2,297.2 L565.3,286.4 L523.0,287.1 L494.5,323.2 L504.6,343.8Z" stroke="#9e9e9e" stroke-width="2.6" stroke-opacity="0.23"/>
<path d="M417.0,348.5 L387.8,312.4 L351.5,314.4 L335.2,344.7 L360.3,383.1 L373.5,384.9Z" stroke="#868686" stroke-width="7.6" stroke-opacity="0.15"/>
<path d="M388.6,234.3 L433.2,210.7 L476.8,237.1 L450.5,281.6 L406.2,269.6Z" stroke="#7f7f7f" stroke-width="2.9" stroke-opacity="0.22"/>
<path d="M523.0,287.1 L565.3,286.4 L572.5,226.6 L536.9,209.3 L512.0,215.8 L499.8,231.8Z" stroke="#a3a3a3" stroke-width="7.2" stroke-opacity="0.33"/>
<path d="M451.9,396.7 L427.8,474.3 L373.5,384.9 L417.0,348.5 L420.0,348.8Z" stroke="#acacac" stroke-width="2.3" stroke-opacity="0.36"/>
<path d="M565.5,354.0 L504.6,343.8 L494.9,378.9 L534.9,428.1 L577.2,371.4Z" stroke="#9e9e9e" stroke-width="6.9" stroke-opacity="0.24"/>
<path d="M406.2,269.6 L387.8,312.4 L417.0,348.5 L420.0,348.8 L465.4,315.0 L450.5,281.6Z" stroke="#7d7d7d" stroke-width="7.1" stroke-opacity="0.34"/></g>
<g fill="none" stroke-linejoin="round"><path d="M476.8,237.1 L499.8,231.8 L523.0,287.1 L494.5,323.2 L465.4,315.0 L450.5,281.6Z" stroke="#b6b6b6" stroke-width="1.29" stroke-opacity="0.71"/>
<path d="M433.2,210.7 L452.0,110.7 L512.0,215.8 L499.8,231.8 L476.8,237.1Z" stroke="#cbcbcb" stroke-width="1.17" stroke-opacity="0.56"/>
<path d="M388.6,234.3 L365.7,225.8 L334.0,283.8 L351.5,314.4 L387.8,312.4 L406.2,269.6Z" stroke="#cecece" stroke-width="1.29" stroke-opacity="0.95"/>
<path d="M504.6,343.8 L494.5,323.2 L465.4,315.0 L420.0,348.8 L451.9,396.7 L494.9,378.9Z" stroke="#bababa" stroke-width="1.56" stroke-opacity="0.80"/>
<path d="M565.5,354.0 L577.2,297.2 L565.3,286.4 L523.0,287.1 L494.5,323.2 L504.6,343.8Z" stroke="#b7b7b7" stroke-width="0.78" stroke-opacity="0.68"/>
<path d="M417.0,348.5 L387.8,312.4 L351.5,314.4 L335.2,344.7 L360.3,383.1 L373.5,384.9Z" stroke="#9f9f9f" stroke-width="1.70" stroke-opacity="0.58"/>
<path d="M388.6,234.3 L433.2,210.7 L476.8,237.1 L450.5,281.6 L406.2,269.6Z" stroke="#989898" stroke-width="0.77" stroke-opacity="0.79"/>
<path d="M523.0,287.1 L565.3,286.4 L572.5,226.6 L536.9,209.3 L512.0,215.8 L499.8,231.8Z" stroke="#bcbcbc" stroke-width="1.47" stroke-opacity="0.70"/>
<path d="M451.9,396.7 L427.8,474.3 L373.5,384.9 L417.0,348.5 L420.0,348.8Z" stroke="#c5c5c5" stroke-width="0.68" stroke-opacity="0.81"/>
<path d="M565.5,354.0 L504.6,343.8 L494.9,378.9 L534.9,428.1 L577.2,371.4Z" stroke="#b7b7b7" stroke-width="1.34" stroke-opacity="0.57"/>
<path d="M406.2,269.6 L387.8,312.4 L417.0,348.5 L420.0,348.8 L465.4,315.0 L450.5,281.6Z" stroke="#969696" stroke-width="1.86" stroke-opacity="0.85"/><path d="M370.9,357.7 Q365.8,384.2 355.6,392.5" stroke="#999999" stroke-width="0.88" stroke-opacity="0.32"/>
<path d="M433.6,241.9 Q458.1,252.3 463.0,257.3" stroke="#8c8c8c" stroke-width="0.60" stroke-opacity="0.61"/>
<path d="M425.2,234.2 Q430.6,257.5 428.0,264.4" stroke="#949494" stroke-width="0.59" stroke-opacity="0.37"/>
<path d="M421.7,397.1 Q401.8,398.8 397.8,402.0" stroke="#a6a6a6" stroke-width="0.61" stroke-opacity="0.62"/>
<path d="M407.1,392.4 Q414.0,408.1 412.5,412.6" stroke="#999999" stroke-width="0.66" stroke-opacity="0.37"/>
<path d="M525.4,382.6 Q538.0,396.6 532.9,399.9" stroke="#8d8d8d" stroke-width="0.62" stroke-opacity="0.65"/>
<path d="M525.6,380.5 Q533.9,386.2 553.6,402.0" stroke="#8e8e8e" stroke-width="0.43" stroke-opacity="0.40"/></g>
</g>
<g filter="url(#iiinB)">
<defs><radialGradient id="iiine0" cx="0.5" cy="0.5" r="0.5"><stop offset="0" stop-color="#909090"/><stop offset="0.65" stop-color="#8c8c8c" stop-opacity="0.92"/><stop offset="1" stop-color="#8c8c8c" stop-opacity="0"/></radialGradient><radialGradient id="iiine1" cx="0.5" cy="0.5" r="0.5"><stop offset="0" stop-color="#989898"/><stop offset="0.65" stop-color="#949494" stop-opacity="0.92"/><stop offset="1" stop-color="#949494" stop-opacity="0"/></radialGradient><radialGradient id="iiine2" cx="0.5" cy="0.5" r="0.5"><stop offset="0" stop-color="#818181"/><stop offset="0.65" stop-color="#7d7d7d" stop-opacity="0.92"/><stop offset="1" stop-color="#7d7d7d" stop-opacity="0"/></radialGradient><radialGradient id="iiine3" cx="0.5" cy="0.5" r="0.5"><stop offset="0" stop-color="#b0b0b0"/><stop offset="0.65" stop-color="#acacac" stop-opacity="0.92"/><stop offset="1" stop-color="#acacac" stop-opacity="0"/></radialGradient><radialGradient id="iiine4" cx="0.5" cy="0.5" r="0.5"><stop offset="0" stop-color="#868686"/><stop offset="0.65" stop-color="#828282" stop-opacity="0.92"/><stop offset="1" stop-color="#828282" stop-opacity="0"/></radialGradient><radialGradient id="iiine5" cx="0.5" cy="0.5" r="0.5" fx="0.58" fy="0.6"><stop offset="0" stop-color="#323232"/><stop offset="0.7" stop-color="#3c3c3c"/><stop offset="0.86" stop-color="#474747"/><stop offset="0.95" stop-color="#5f5f5f"/><stop offset="1" stop-color="#707070" stop-opacity="0.6"/></radialGradient><radialGradient id="iiine6" cx="0.5" cy="0.5" r="0.5" fx="0.42" fy="0.6"><stop offset="0" stop-color="#2d2d2d"/><stop offset="0.7" stop-color="#373737"/><stop offset="0.86" stop-color="#424242"/><stop offset="0.95" stop-color="#5a5a5a"/><stop offset="1" stop-color="#707070" stop-opacity="0.6"/></radialGradient><radialGradient id="iiine7" cx="0.5" cy="0.5" r="0.5" fx="0.58" fy="0.6"><stop offset="0" stop-color="#2d2d2d"/><stop offset="0.7" stop-color="#373737"/><stop offset="0.86" stop-color="#424242"/><stop offset="0.95" stop-color="#5a5a5a"/><stop offset="1" stop-color="#707070" stop-opacity="0.6"/></radialGradient><radialGradient id="iiine8" cx="0.5" cy="0.5" r="0.5" fx="0.58" fy="0.45"><stop offset="0" stop-color="#393939"/><stop offset="0.7" stop-color="#434343"/><stop offset="0.86" stop-color="#4e4e4e"/><stop offset="0.95" stop-color="#646464"/><stop offset="1" stop-color="#707070" stop-opacity="0.6"/></radialGradient><radialGradient id="iiine9" cx="0.5" cy="0.5" r="0.5" fx="0.42" fy="0.45"><stop offset="0" stop-color="#414141"/><stop offset="0.7" stop-color="#4b4b4b"/><stop offset="0.86" stop-color="#565656"/><stop offset="0.95" stop-color="#646464"/><stop offset="1" stop-color="#707070" stop-opacity="0.6"/></radialGradient></defs><ellipse cx="420.7" cy="286.5" rx="23.4" ry="16.8" transform="rotate(0 420.7 286.5)" fill="url(#iiine0)"/>
<ellipse cx="449.0" cy="316.4" rx="26.4" ry="19.2" transform="rotate(0 449.0 316.4)" fill="url(#iiine1)"/>
<ellipse cx="507.5" cy="270.7" rx="14.4" ry="19.2" transform="rotate(0 507.5 270.7)" fill="url(#iiine2)"/>
<ellipse cx="460.0" cy="294.0" rx="3.6" ry="14.4" transform="rotate(30 460.0 294.0)" fill="url(#iiine3)"/>
<ellipse cx="409.6" cy="259.6" rx="9.6" ry="11.4" transform="rotate(0 409.6 259.6)" fill="url(#iiine4)"/>
<ellipse cx="460.1" cy="267.5" rx="37.0" ry="21.8" transform="rotate(0 460.1 267.5)" fill="url(#iiine5)"/>
<ellipse cx="408.0" cy="303.8" rx="13.4" ry="17.9" transform="rotate(0 408.0 303.8)" fill="url(#iiine6)"/>
<ellipse cx="417.5" cy="330.6" rx="21.8" ry="13.4" transform="rotate(0 417.5 330.6)" fill="url(#iiine7)"/>
<ellipse cx="494.9" cy="310.1" rx="29.1" ry="26.3" transform="rotate(0 494.9 310.1)" fill="url(#iiine8)"/>
<ellipse cx="428.6" cy="267.5" rx="7.3" ry="9.0" transform="rotate(0 428.6 267.5)" fill="url(#iiine9)"/><g><ellipse cx="460.1" cy="267.5" rx="37.0" ry="21.8" transform="rotate(295 460.1 267.5)" fill="none" stroke="#b6b6b6" stroke-width="1.03" stroke-opacity="0.69" stroke-dasharray="106.4 61.2"/>
<ellipse cx="408.0" cy="303.8" rx="13.4" ry="17.9" transform="rotate(289 408.0 303.8)" fill="none" stroke="#a9a9a9" stroke-width="1.12" stroke-opacity="0.54" stroke-dasharray="25.3 13.1"/>
<ellipse cx="417.5" cy="330.6" rx="21.8" ry="13.4" transform="rotate(255 417.5 330.6)" fill="none" stroke="#bcbcbc" stroke-width="1.48" stroke-opacity="0.51" stroke-dasharray="46.2 17.7"/>
<ellipse cx="494.9" cy="310.1" rx="29.1" ry="26.3" transform="rotate(11 494.9 310.1)" fill="none" stroke="#d0d0d0" stroke-width="1.23" stroke-opacity="0.53" stroke-dasharray="65.8 51.0"/>
<ellipse cx="428.6" cy="267.5" rx="7.3" ry="9.0" transform="rotate(258 428.6 267.5)" fill="none" stroke="#bdbdbd" stroke-width="1.42" stroke-opacity="0.52" stroke-dasharray="19.1 9.1"/></g>
</g>
</g></g>
<rect x="397.4" y="247.1" width="124.0" height="98.9" fill="none" stroke="#ee0a0a" stroke-width="1.6"/>
<text x="296.0" y="268.8" font-family='"Liberation Serif","DejaVu Serif",serif' font-size="19.5" font-weight="bold" text-anchor="start" fill="#fff" stroke="#fff" stroke-width="0.15">(iii)</text>
<text x="294.3" y="421.7" font-family='"Liberation Serif","DejaVu Serif",serif' font-size="17.3" font-weight="normal" text-anchor="start" fill="#fff" stroke="#fff" stroke-width="0.15" textLength="72.0" lengthAdjust="spacingAndGlyphs">PANI 4%</text>
<rect x="474.00" y="425.80" width="37.90" height="2.30" fill="#fff"/>
<text x="494.45" y="421.7" font-family='"Liberation Serif","DejaVu Serif",serif' font-size="9.6" font-weight="bold" text-anchor="middle" fill="#fff" stroke="#fff" stroke-width="0.15" textLength="29.2" lengthAdjust="spacingAndGlyphs">100μm</text>
<rect x="489.80" y="336.10" width="24.30" height="2.30" fill="#ee8530"/>
<text x="502.9" y="333.8" font-family='"Liberation Serif","DejaVu Serif",serif' font-size="10.7" font-weight="bold" text-anchor="middle" fill="#ee8530" stroke="#ee8530" stroke-width="0.15" textLength="29.6" lengthAdjust="spacingAndGlyphs">200μm</text>
<text x="291.5" y="440.1" font-family='"Liberation Sans","DejaVu Sans",sans-serif' font-size="7.2" font-weight="normal" text-anchor="start" fill="#ececec" stroke="#ececec" stroke-width="0.15" textLength="112.6" lengthAdjust="spacingAndGlyphs">SU8010 10.0kV 10.0mm x100 LM(L)</text>
<text x="490.7" y="440.1" font-family='"Liberation Sans","DejaVu Sans",sans-serif' font-size="7.2" font-weight="normal" text-anchor="start" fill="#ececec" stroke="#ececec" stroke-width="0.15" textLength="21.4" lengthAdjust="spacingAndGlyphs">500um</text>
<line x1="425.30" y1="430.30" x2="425.30" y2="434.20" stroke="#e4e4e4" stroke-width="0.9" stroke-linecap="butt"/>
<line x1="434.55" y1="431.30" x2="434.55" y2="433.80" stroke="#e4e4e4" stroke-width="0.9" stroke-linecap="butt"/>
<line x1="443.80" y1="431.30" x2="443.80" y2="433.80" stroke="#e4e4e4" stroke-width="0.9" stroke-linecap="butt"/>
<line x1="453.05" y1="431.30" x2="453.05" y2="433.80" stroke="#e4e4e4" stroke-width="0.9" stroke-linecap="butt"/>
<line x1="462.30" y1="431.30" x2="462.30" y2="433.80" stroke="#e4e4e4" stroke-width="0.9" stroke-linecap="butt"/>
<line x1="471.55" y1="430.30" x2="471.55" y2="434.20" stroke="#e4e4e4" stroke-width="0.9" stroke-linecap="butt"/>
<line x1="480.80" y1="431.30" x2="480.80" y2="433.80" stroke="#e4e4e4" stroke-width="0.9" stroke-linecap="butt"/>
<line x1="490.05" y1="431.30" x2="490.05" y2="433.80" stroke="#e4e4e4" stroke-width="0.9" stroke-linecap="butt"/>
<line x1="499.30" y1="431.30" x2="499.30" y2="433.80" stroke="#e4e4e4" stroke-width="0.9" stroke-linecap="butt"/>
<line x1="508.55" y1="431.30" x2="508.55" y2="433.80" stroke="#e4e4e4" stroke-width="0.9" stroke-linecap="butt"/>
<line x1="517.80" y1="430.30" x2="517.80" y2="434.20" stroke="#e4e4e4" stroke-width="0.9" stroke-linecap="butt"/>
</g>
<g id="sem-iv">
<defs><clipPath id="ivmc"><rect x="539.7" y="250.4" width="246.0" height="195.6"/></clipPath>
<radialGradient id="ivmg0" cx="0.5" cy="0.5" r="0.62" fx="0.42" fy="0.58"><stop offset="0" stop-color="#373737"/><stop offset="0.45" stop-color="#3f3f3f"/><stop offset="0.8" stop-color="#686868"/><stop offset="1" stop-color="#7a7a7a"/></radialGradient><radialGradient id="ivmg1" cx="0.5" cy="0.5" r="0.62" fx="0.6" fy="0.45"><stop offset="0" stop-color="#373737"/><stop offset="0.45" stop-color="#3f3f3f"/><stop offset="0.8" stop-color="#686868"/><stop offset="1" stop-color="#7a7a7a"/></radialGradient><radialGradient id="ivmg2" cx="0.5" cy="0.5" r="0.62" fx="0.42" fy="0.58"><stop offset="0" stop-color="#404040"/><stop offset="0.45" stop-color="#484848"/><stop offset="0.8" stop-color="#686868"/><stop offset="1" stop-color="#7a7a7a"/></radialGradient><radialGradient id="ivmg3" cx="0.5" cy="0.5" r="0.62" fx="0.6" fy="0.45"><stop offset="0" stop-color="#404040"/><stop offset="0.45" stop-color="#484848"/><stop offset="0.8" stop-color="#686868"/><stop offset="1" stop-color="#7a7a7a"/></radialGradient><radialGradient id="ivmg4" cx="0.5" cy="0.5" r="0.62" fx="0.42" fy="0.58"><stop offset="0" stop-color="#4a4a4a"/><stop offset="0.45" stop-color="#525252"/><stop offset="0.8" stop-color="#686868"/><stop offset="1" stop-color="#7a7a7a"/></radialGradient><radialGradient id="ivmg5" cx="0.5" cy="0.5" r="0.62" fx="0.6" fy="0.45"><stop offset="0" stop-color="#4a4a4a"/><stop offset="0.45" stop-color="#525252"/><stop offset="0.8" stop-color="#686868"/><stop offset="1" stop-color="#7a7a7a"/></radialGradient><radialGradient id="ivmg6" cx="0.5" cy="0.5" r="0.62" fx="0.42" fy="0.58"><stop offset="0" stop-color="#535353"/><stop offset="0.45" stop-color="#5b5b5b"/><stop offset="0.8" stop-color="#686868"/><stop offset="1" stop-color="#7a7a7a"/></radialGradient><radialGradient id="ivmg7" cx="0.5" cy="0.5" r="0.62" fx="0.6" fy="0.45"><stop offset="0" stop-color="#535353"/><stop offset="0.45" stop-color="#5b5b5b"/><stop offset="0.8" stop-color="#686868"/><stop offset="1" stop-color="#7a7a7a"/></radialGradient>
<filter id="ivmb" filterUnits="userSpaceOnUse" x="480" y="190" width="366" height="316"><feGaussianBlur stdDeviation="1.0"/></filter>
<filter id="ivmA" filterUnits="userSpaceOnUse" x="480" y="190" width="366" height="316" color-interpolation-filters="sRGB"><feTurbulence type="fractalNoise" baseFrequency="0.045" numOctaves="3" seed="14" result="n"/><feDisplacementMap in="SourceGraphic" in2="n" scale="18" xChannelSelector="R" yChannelSelector="G" result="d"/><feGaussianBlur in="d" stdDeviation="0.75"/></filter>
<filter id="ivmB" filterUnits="userSpaceOnUse" x="480" y="190" width="366" height="316" color-interpolation-filters="sRGB"><feTurbulence type="fractalNoise" baseFrequency="0.05" numOctaves="2" seed="21" result="n"/><feDisplacementMap in="SourceGraphic" in2="n" scale="9" xChannelSelector="R" yChannelSelector="G" result="d"/><feGaussianBlur in="d" stdDeviation="0.7"/></filter>
<filter id="ivmP" filterUnits="userSpaceOnUse" x="480" y="190" width="366" height="316" color-interpolation-filters="sRGB"><feTurbulence type="fractalNoise" baseFrequency="0.022" numOctaves="4" seed="104" result="m"/><feColorMatrix in="m" type="matrix" values="0 0 0 0 0  0 0 0 0 0  0 0 0 0 0  1 0 0 0 0" result="ma"/><feDiffuseLighting in="ma" surfaceScale="4" diffuseConstant="1" lighting-color="#fff" result="lit"><feDistantLight azimuth="200" elevation="42"/></feDiffuseLighting><feColorMatrix in="lit" type="matrix" values="1.0 0 0 0 -0.17  1.0 0 0 0 -0.17  1.0 0 0 0 -0.17  0 0 0 0 1" result="m2"/><feBlend in="m2" in2="SourceGraphic" mode="overlay" result="bm"/><feTurbulence type="fractalNoise" baseFrequency="0.5" numOctaves="2" seed="64" result="g"/><feColorMatrix in="g" type="matrix" values="0.18 0 0 0 0.410  0.18 0 0 0 0.410  0.18 0 0 0 0.410  0 0 0 0 1" result="g2"/><feBlend in="g2" in2="bm" mode="overlay"/></filter></defs>
<g clip-path="url(#ivmc)">
<rect x="539.7" y="250.4" width="246.0" height="195.6" fill="#6c6c6c"/>
<g filter="url(#ivmP)">
<rect x="479.70000000000005" y="190.4" width="366.0" height="315.6" fill="#6c6c6c"/>
<g filter="url(#ivmA)">
<path d="M562.2,396.4 L549.5,405.9 L538.9,398.2 L546.6,387.4 L555.8,387.5Z" fill="url(#ivmg6)"/>
<path d="M704.3,441.4 L692.6,450.7 L692.7,452.0 L708.8,469.1 L719.8,443.0Z" fill="#6a6a6a"/>
<path d="M609.2,286.7 L591.1,276.5 L589.2,277.5 L585.0,291.9 L592.6,298.5 L608.9,295.9 L609.5,294.8Z" fill="#757575"/>
<path d="M737.2,374.7 L730.9,373.3 L717.7,378.9 L717.6,381.6 L727.3,397.5 L732.4,399.6 L740.6,396.2 L743.1,387.2Z" fill="url(#ivmg1)"/>
<path d="M615.2,402.4 L616.4,388.2 L599.4,381.4 L595.8,384.4 L601.0,404.2Z" fill="#737373"/>
<path d="M620.8,411.4 L630.9,424.6 L639.4,426.3 L641.7,404.2 L634.9,402.1 L620.7,406.8Z" fill="url(#ivmg0)"/>
<path d="M564.2,286.1 L555.6,295.9 L549.7,296.2 L542.0,275.6 L551.1,268.4 L551.3,268.4 L564.5,282.1Z" fill="#6a6a6a"/>
<path d="M766.2,317.4 L775.4,327.1 L788.2,322.2 L790.9,316.7 L786.2,304.4 L779.8,301.3 L764.5,306.9Z" fill="#717171"/>
<path d="M604.1,425.2 L592.8,433.3 L582.8,429.6 L580.9,426.0 L581.1,422.8 L592.5,408.2 L597.5,407.6Z" fill="url(#ivmg3)"/>
<path d="M700.7,276.7 L687.3,265.0 L699.6,255.1 L705.9,255.8 L713.4,268.9Z" fill="#626262"/>
<path d="M665.4,382.1 L668.5,377.3 L690.9,381.2 L691.2,385.5 L683.1,398.9 L668.9,396.4Z" fill="#777777"/>
<path d="M564.0,396.9 L562.2,396.4 L555.8,387.5 L561.3,371.5 L578.6,381.3Z" fill="url(#ivmg2)"/>
<path d="M560.5,317.3 L564.6,306.7 L555.6,295.9 L549.7,296.2 L542.6,301.3 L539.8,313.4 L545.3,320.7Z" fill="url(#ivmg2)"/>
<path d="M697.3,423.8 L697.1,423.7 L684.3,429.8 L686.3,446.0 L692.6,450.7 L704.3,441.4Z" fill="url(#ivmg6)"/>
<path d="M718.0,269.9 L723.8,267.0 L724.5,247.1 L712.2,247.4 L705.9,255.8 L713.4,268.9Z" fill="#707070"/>
<path d="M567.2,242.0 L561.6,244.6 L565.1,260.2 L572.3,262.4 L582.7,252.4 L583.1,247.5Z" fill="#6d6d6d"/>
<path d="M764.4,364.5 L771.4,365.8 L775.7,363.6 L782.4,346.8 L772.9,338.1 L768.5,339.7 L760.9,353.1Z" fill="url(#ivmg7)"/>
<path d="M583.8,344.5 L565.2,345.4 L562.6,343.2 L561.9,339.3 L569.3,327.0 L579.8,325.0 L586.2,332.4Z" fill="#666666"/>
<path d="M649.9,249.7 L652.4,258.3 L661.9,264.3 L676.5,252.9 L676.2,248.6 L661.3,239.5 L650.9,246.7Z" fill="url(#ivmg1)"/>
<path d="M750.2,240.5 L757.3,240.3 L763.6,246.6 L759.1,263.4 L744.7,259.7 L743.4,254.8Z" fill="url(#ivmg0)"/>
<path d="M743.4,254.8 L744.7,259.7 L736.1,268.9 L723.8,267.0 L724.5,247.1 L727.2,244.8Z" fill="url(#ivmg0)"/>
<path d="M665.4,382.1 L668.9,396.4 L659.4,406.5 L648.0,402.2 L649.3,383.2Z" fill="url(#ivmg7)"/>
<path d="M686.9,333.5 L683.1,329.1 L673.4,326.2 L667.4,329.3 L663.1,343.6 L674.8,351.3 L686.6,336.0Z" fill="url(#ivmg3)"/>
<path d="M663.1,343.6 L657.1,344.4 L646.3,331.4 L653.0,323.2 L667.4,329.3Z" fill="url(#ivmg6)"/>
<path d="M686.0,264.9 L676.5,252.9 L676.2,248.6 L684.0,241.7 L692.6,241.0 L699.6,255.1 L687.3,265.0Z" fill="url(#ivmg2)"/>
<path d="M658.2,298.0 L665.8,277.5 L664.2,276.0 L649.1,278.4 L646.9,290.6 L653.2,297.7Z" fill="#717171"/>
<path d="M777.8,443.7 L774.4,439.9 L764.3,438.9 L756.7,447.6 L765.6,465.4 L778.3,455.3Z" fill="#747474"/>
<path d="M518.1,263.0 L537.3,249.0 L542.4,249.0 L551.1,268.4 L542.0,275.6 L533.5,275.8Z" fill="url(#ivmg3)"/>
<path d="M717.7,378.9 L730.9,373.3 L725.7,352.9 L713.5,359.7 L715.6,377.2Z" fill="url(#ivmg3)"/>
<path d="M609.3,368.3 L621.4,374.9 L629.0,363.1 L617.0,351.2 L614.3,351.4Z" fill="#717171"/>
<path d="M779.5,283.1 L779.8,301.3 L786.2,304.4 L800.1,295.3 L796.4,286.2 L782.6,281.5Z" fill="#6c6c6c"/>
<path d="M609.2,286.7 L591.1,276.5 L595.3,266.7 L604.4,261.7 L614.6,270.2 L614.6,280.8Z" fill="url(#ivmg0)"/>
<path d="M711.5,335.6 L711.8,337.8 L700.7,353.5 L686.6,336.0 L686.9,333.5 L703.6,328.1Z" fill="url(#ivmg1)"/>
<path d="M591.4,311.5 L582.3,315.4 L579.8,325.0 L586.2,332.4 L598.4,330.6 L601.8,315.8Z" fill="#727272"/>
<path d="M511.4,297.2 L530.0,314.9 L539.8,313.4 L542.6,301.3 L527.8,292.3Z" fill="#6f6f6f"/>
<path d="M590.0,452.5 L595.8,442.0 L610.1,446.7 L610.5,456.9 L593.0,460.4Z" fill="url(#ivmg5)"/>
<path d="M632.9,290.7 L630.1,282.4 L614.6,280.8 L609.2,286.7 L609.5,294.8 L629.3,298.1Z" fill="url(#ivmg6)"/>
<path d="M579.7,294.2 L564.2,286.1 L564.5,282.1 L576.0,273.0 L589.2,277.5 L585.0,291.9Z" fill="url(#ivmg0)"/>
<path d="M762.3,305.6 L759.3,298.6 L766.5,278.9 L779.5,283.1 L779.8,301.3 L764.5,306.9Z" fill="#626262"/>
<path d="M588.8,358.4 L584.8,361.3 L580.0,381.2 L585.2,384.6 L595.8,384.4 L599.4,381.4 L601.8,371.7Z" fill="#777777"/>
<path d="M745.3,324.0 L731.4,327.3 L728.6,325.4 L724.6,311.7 L733.7,303.9 L746.4,311.8Z" fill="#616161"/>
<path d="M690.9,381.2 L694.7,374.7 L693.0,363.7 L675.9,357.0 L667.6,366.8 L668.5,377.3Z" fill="#737373"/>
<path d="M787.3,398.1 L794.7,398.3 L796.1,399.7 L798.7,418.0 L791.9,422.3 L783.5,421.5 L780.3,417.8 L783.1,401.2Z" fill="#616161"/>
<path d="M662.1,415.7 L650.7,429.8 L659.4,441.4 L664.8,441.8 L676.7,426.8 L672.9,420.1Z" fill="url(#ivmg1)"/>
<path d="M632.8,309.7 L633.4,325.0 L624.5,330.6 L617.3,327.8 L613.8,314.7 L632.3,309.4Z" fill="url(#ivmg7)"/>
<path d="M781.9,384.2 L793.5,376.2 L791.0,368.6 L775.7,363.6 L771.4,365.8 L775.3,382.3Z" fill="#6a6a6a"/>
<path d="M659.1,298.7 L663.1,310.7 L653.1,320.9 L643.0,309.1 L653.2,297.7 L658.2,298.0Z" fill="url(#ivmg5)"/>
<path d="M588.0,242.4 L601.9,246.4 L606.1,255.9 L604.4,261.7 L595.3,266.7 L582.7,252.4 L583.1,247.5Z" fill="url(#ivmg2)"/>
<path d="M582.7,400.9 L585.2,384.6 L580.0,381.2 L578.6,381.3 L564.0,396.9 L569.9,404.0Z" fill="url(#ivmg4)"/>
<path d="M652.7,350.6 L640.4,351.9 L636.7,362.6 L643.8,370.5 L656.3,363.3Z" fill="#666666"/>
<path d="M649.9,249.7 L628.9,255.5 L629.1,263.2 L635.7,271.4 L641.5,271.4 L652.4,258.3Z" fill="url(#ivmg0)"/>
<path d="M582.7,252.4 L572.3,262.4 L576.0,273.0 L589.2,277.5 L591.1,276.5 L595.3,266.7Z" fill="#646464"/>
<path d="M711.8,292.9 L720.7,286.9 L718.0,269.9 L713.4,268.9 L700.7,276.7 L699.5,283.4 L706.4,292.2Z" fill="url(#ivmg6)"/>
<path d="M691.2,385.5 L705.6,395.4 L717.6,381.6 L717.7,378.9 L715.6,377.2 L694.7,374.7 L690.9,381.2Z" fill="#6c6c6c"/>
<path d="M610.5,456.9 L611.9,458.6 L629.9,458.8 L634.3,450.5 L633.5,447.7 L617.2,439.2 L610.1,446.7Z" fill="url(#ivmg2)"/>
<path d="M544.9,329.2 L535.3,339.7 L513.2,333.7 L530.0,314.9 L539.8,313.4 L545.3,320.7Z" fill="#737373"/>
<path d="M589.8,354.6 L583.8,344.5 L586.2,332.4 L598.4,330.6 L606.0,336.5 L607.6,347.1Z" fill="url(#ivmg7)"/>
<path d="M791.9,422.3 L797.8,440.0 L795.0,442.9 L777.8,443.7 L774.4,439.9 L783.5,421.5Z" fill="url(#ivmg2)"/>
<path d="M782.4,346.8 L775.7,363.6 L791.0,368.6 L797.8,359.3 L791.3,346.1Z" fill="url(#ivmg6)"/>
<path d="M557.1,426.2 L558.4,441.1 L554.1,445.0 L541.1,441.8 L537.5,430.7 L545.4,421.6 L549.7,420.6 L554.6,422.9Z" fill="url(#ivmg7)"/>
<path d="M780.3,417.8 L765.2,415.3 L759.8,430.5 L764.3,438.9 L774.4,439.9 L783.5,421.5Z" fill="url(#ivmg7)"/>
<path d="M782.3,257.8 L798.7,246.4 L794.4,238.0 L778.6,238.3 L775.6,245.2Z" fill="url(#ivmg3)"/>
<path d="M747.6,292.5 L759.3,298.6 L762.3,305.6 L746.4,311.8 L733.7,303.9 L733.8,303.1Z" fill="#727272"/>
<path d="M659.4,406.5 L662.1,415.7 L650.7,429.8 L642.3,429.2 L639.4,426.3 L641.7,404.2 L648.0,402.2Z" fill="#6f6f6f"/>
<path d="M663.1,343.6 L657.1,344.4 L652.7,350.6 L656.3,363.3 L667.6,366.8 L675.9,357.0 L674.8,351.3Z" fill="url(#ivmg2)"/>
<path d="M633.4,325.0 L644.7,331.6 L636.1,344.7 L626.4,343.2 L624.5,330.6Z" fill="url(#ivmg2)"/>
<path d="M719.8,443.0 L708.8,469.1 L716.5,504.6 L731.9,452.0 L720.1,442.9Z" fill="url(#ivmg1)"/>
<path d="M642.3,429.2 L650.7,429.8 L659.4,441.4 L651.1,454.7 L634.3,450.5 L633.5,447.7Z" fill="#757575"/>
<path d="M686.0,405.8 L694.1,410.4 L697.1,423.7 L684.3,429.8 L676.7,426.8 L672.9,420.1Z" fill="#6a6a6a"/>
<path d="M649.3,383.2 L643.7,378.4 L631.8,384.1 L634.9,402.1 L641.7,404.2 L648.0,402.2Z" fill="#747474"/>
<path d="M636.7,362.6 L629.0,363.1 L617.0,351.2 L626.4,343.2 L636.1,344.7 L640.4,351.9Z" fill="url(#ivmg2)"/>
<path d="M716.6,420.5 L717.0,419.9 L711.0,404.2 L706.9,402.1 L694.1,410.4 L697.1,423.7 L697.3,423.8Z" fill="#757575"/>
<path d="M641.5,271.4 L649.1,278.4 L646.9,290.6 L632.9,290.7 L630.1,282.4 L635.7,271.4Z" fill="#616161"/>
<path d="M620.7,406.8 L634.9,402.1 L631.8,384.1 L623.1,381.7 L616.4,388.2 L615.2,402.4Z" fill="url(#ivmg5)"/>
<path d="M686.0,264.9 L676.5,252.9 L661.9,264.3 L664.2,276.0 L665.8,277.5 L675.6,279.1Z" fill="url(#ivmg1)"/>
<path d="M581.1,422.8 L580.9,426.0 L557.1,426.2 L554.6,422.9 L569.6,408.0Z" fill="url(#ivmg0)"/>
<path d="M601.8,315.8 L598.4,330.6 L606.0,336.5 L617.3,327.8 L613.8,314.7 L609.7,312.4Z" fill="url(#ivmg5)"/>
<path d="M665.4,382.1 L668.5,377.3 L667.6,366.8 L656.3,363.3 L643.8,370.5 L643.7,378.4 L649.3,383.2Z" fill="url(#ivmg0)"/>
<path d="M620.8,411.4 L630.9,424.6 L616.9,435.2 L609.2,426.1Z" fill="#717171"/>
<path d="M762.8,267.8 L782.3,258.1 L788.5,267.1 L782.6,281.5 L779.5,283.1 L766.5,278.9 L763.3,274.6Z" fill="url(#ivmg3)"/>
<path d="M745.3,324.0 L731.4,327.3 L735.6,346.9 L740.7,348.0 L744.4,346.5 L752.8,334.0 L751.8,329.1Z" fill="url(#ivmg2)"/>
<path d="M753.7,406.6 L740.6,396.2 L732.4,399.6 L729.7,415.5 L741.1,424.5Z" fill="#7a7a7a"/>
<path d="M745.4,282.3 L763.3,274.6 L766.5,278.9 L759.3,298.6 L747.6,292.5Z" fill="url(#ivmg6)"/>
<path d="M699.5,283.4 L682.3,290.3 L675.6,279.1 L686.0,264.9 L687.3,265.0 L700.7,276.7Z" fill="#717171"/>
<path d="M668.9,396.4 L683.1,398.9 L686.0,405.8 L672.9,420.1 L662.1,415.7 L659.4,406.5Z" fill="#6c6c6c"/>
<path d="M535.0,355.9 L538.8,349.8 L548.7,352.1 L555.4,367.8 L537.5,372.8Z" fill="url(#ivmg3)"/>
<path d="M582.8,429.6 L572.6,445.4 L574.3,449.2 L590.0,452.5 L595.8,442.0 L592.8,433.3Z" fill="#6c6c6c"/>
<path d="M561.9,339.3 L562.6,343.2 L548.7,352.1 L538.8,349.8 L535.3,339.7 L544.9,329.2Z" fill="#656565"/>
<path d="M536.7,374.1 L546.6,387.4 L538.9,398.2 L535.3,398.8 L526.7,386.6 L534.4,375.0Z" fill="#757575"/>
<path d="M692.6,450.7 L686.3,446.0 L672.0,448.1 L668.6,483.7 L692.7,452.0Z" fill="#747474"/>
<path d="M566.1,479.7 L551.8,458.0 L554.1,445.0 L558.4,441.1 L572.6,445.4 L574.3,449.2Z" fill="#696969"/>
<path d="M782.3,258.1 L782.3,257.8 L798.7,246.4 L830.3,260.4 L809.2,268.3 L788.5,267.1Z" fill="url(#ivmg7)"/>
<path d="M711.8,292.9 L719.4,310.6 L705.4,315.9 L696.2,307.4 L706.4,292.2Z" fill="#686868"/>
<path d="M751.8,329.1 L752.8,334.0 L768.5,339.7 L772.9,338.1 L775.4,327.1 L766.2,317.4Z" fill="url(#ivmg4)"/>
<path d="M672.0,448.1 L664.8,441.8 L659.4,441.4 L651.1,454.7 L665.2,492.2 L668.6,483.7Z" fill="url(#ivmg6)"/>
<path d="M537.5,430.7 L515.9,432.4 L506.5,437.2 L530.6,452.1 L541.1,441.8Z" fill="#656565"/>
<path d="M795.0,442.9 L777.8,443.7 L778.3,455.3 L787.1,461.3 L796.5,456.0Z" fill="#676767"/>
<path d="M643.0,309.1 L632.8,309.7 L632.3,309.4 L629.3,298.1 L632.9,290.7 L646.9,290.6 L653.2,297.7Z" fill="#646464"/>
<path d="M711.8,292.9 L719.4,310.6 L724.6,311.7 L733.7,303.9 L733.8,303.1 L728.2,289.7 L720.7,286.9Z" fill="#767676"/>
<path d="M728.6,325.4 L711.5,335.6 L711.8,337.8 L726.7,350.9 L735.6,346.9 L731.4,327.3Z" fill="#616161"/>
<path d="M741.1,424.5 L729.7,415.5 L717.0,419.9 L716.6,420.5 L720.6,441.3 L740.7,428.3 L741.5,426.4Z" fill="#6c6c6c"/>
<path d="M787.3,398.1 L794.7,398.3 L801.6,381.0 L793.5,376.2 L781.9,384.2Z" fill="#767676"/>
<path d="M762.8,267.8 L759.1,263.4 L763.6,246.6 L775.6,245.2 L782.3,257.8 L782.3,258.1Z" fill="url(#ivmg5)"/>
<path d="M745.4,366.4 L737.2,374.7 L743.1,387.2 L757.1,383.3 L759.8,367.5Z" fill="url(#ivmg1)"/>
<path d="M765.6,465.4 L755.1,506.2 L743.0,452.2 L746.2,449.2 L756.7,447.6Z" fill="url(#ivmg2)"/>
<path d="M659.1,298.7 L681.5,296.1 L684.3,303.2 L670.4,313.6 L663.1,310.7Z" fill="url(#ivmg1)"/>
<path d="M549.5,405.9 L549.7,420.6 L545.4,421.6 L530.1,411.8 L529.0,407.3 L535.3,398.8 L538.9,398.2Z" fill="url(#ivmg1)"/>
<path d="M705.4,315.9 L703.6,328.1 L686.9,333.5 L683.1,329.1 L689.0,306.6 L696.2,307.4Z" fill="url(#ivmg4)"/>
<path d="M740.7,348.0 L745.4,366.4 L759.8,367.5 L764.4,364.5 L760.9,353.1 L744.4,346.5Z" fill="#656565"/>
<path d="M609.2,426.1 L616.9,435.2 L617.2,439.2 L610.1,446.7 L595.8,442.0 L592.8,433.3 L604.1,425.2Z" fill="url(#ivmg4)"/>
<path d="M589.8,354.6 L607.6,347.1 L614.3,351.4 L609.3,368.3 L601.8,371.7 L588.8,358.4Z" fill="#666666"/>
<path d="M766.2,397.2 L759.2,406.8 L753.7,406.6 L740.6,396.2 L743.1,387.2 L757.1,383.3 L766.1,390.3Z" fill="#797979"/>
<path d="M591.4,311.5 L601.8,315.8 L609.7,312.4 L608.9,295.9 L592.6,298.5Z" fill="#676767"/>
<path d="M500.9,360.3 L534.4,375.0 L536.7,374.1 L537.5,372.8 L535.0,355.9Z" fill="#676767"/>
<path d="M759.8,430.5 L741.5,426.4 L740.7,428.3 L746.2,449.2 L756.7,447.6 L764.3,438.9Z" fill="url(#ivmg1)"/>
<path d="M739.7,279.1 L736.1,268.9 L744.7,259.7 L759.1,263.4 L762.8,267.8 L763.3,274.6 L745.4,282.3Z" fill="url(#ivmg3)"/>
<path d="M720.7,286.9 L728.2,289.7 L739.7,279.1 L736.1,268.9 L723.8,267.0 L718.0,269.9Z" fill="url(#ivmg5)"/>
<path d="M561.6,244.6 L565.1,260.2 L551.3,268.4 L551.1,268.4 L542.4,249.0 L550.7,241.7Z" fill="#6e6e6e"/>
<path d="M628.9,255.5 L624.9,250.3 L606.1,255.9 L604.4,261.7 L614.6,270.2 L629.1,263.2Z" fill="#636363"/>
<path d="M691.2,385.5 L705.6,395.4 L706.9,402.1 L694.1,410.4 L686.0,405.8 L683.1,398.9Z" fill="url(#ivmg7)"/>
<path d="M579.7,294.2 L564.2,286.1 L555.6,295.9 L564.6,306.7 L574.6,306.1Z" fill="url(#ivmg5)"/>
<path d="M609.3,368.3 L621.4,374.9 L623.1,381.7 L616.4,388.2 L599.4,381.4 L601.8,371.7Z" fill="#727272"/>
<path d="M589.8,354.6 L583.8,344.5 L565.2,345.4 L567.9,360.7 L584.8,361.3 L588.8,358.4Z" fill="url(#ivmg4)"/>
<path d="M607.6,347.1 L606.0,336.5 L617.3,327.8 L624.5,330.6 L626.4,343.2 L617.0,351.2 L614.3,351.4Z" fill="url(#ivmg3)"/>
<path d="M717.6,381.6 L727.3,397.5 L711.0,404.2 L706.9,402.1 L705.6,395.4Z" fill="#797979"/>
<path d="M763.6,246.6 L757.3,240.3 L770.5,214.9 L778.6,238.3 L775.6,245.2Z" fill="url(#ivmg4)"/>
<path d="M728.6,325.4 L711.5,335.6 L703.6,328.1 L705.4,315.9 L719.4,310.6 L724.6,311.7Z" fill="url(#ivmg7)"/>
<path d="M783.1,401.2 L780.3,417.8 L765.2,415.3 L759.2,406.8 L766.2,397.2Z" fill="url(#ivmg6)"/>
<path d="M537.5,372.8 L555.4,367.8 L560.6,369.8 L561.3,371.5 L555.8,387.5 L546.6,387.4 L536.7,374.1Z" fill="#6d6d6d"/>
<path d="M659.1,298.7 L681.5,296.1 L682.3,290.3 L675.6,279.1 L665.8,277.5 L658.2,298.0Z" fill="url(#ivmg0)"/>
<path d="M766.1,390.3 L757.1,383.3 L759.8,367.5 L764.4,364.5 L771.4,365.8 L775.3,382.3Z" fill="url(#ivmg1)"/>
<path d="M720.1,442.9 L731.9,452.0 L743.0,452.2 L746.2,449.2 L740.7,428.3 L720.6,441.3Z" fill="url(#ivmg1)"/>
<path d="M620.8,411.4 L609.2,426.1 L604.1,425.2 L597.5,407.6 L601.0,404.2 L615.2,402.4 L620.7,406.8Z" fill="url(#ivmg0)"/>
<path d="M727.2,244.8 L724.5,247.1 L712.2,247.4 L707.3,238.0 L721.2,220.7 L728.6,238.1Z" fill="url(#ivmg5)"/>
<path d="M545.4,421.6 L530.1,411.8 L515.9,432.4 L537.5,430.7Z" fill="url(#ivmg3)"/>
<path d="M582.3,315.4 L579.8,325.0 L569.3,327.0 L560.5,317.3 L564.6,306.7 L574.6,306.1Z" fill="#6c6c6c"/>
<path d="M765.2,415.3 L759.2,406.8 L753.7,406.6 L741.1,424.5 L741.5,426.4 L759.8,430.5Z" fill="#777777"/>
<path d="M732.4,399.6 L727.3,397.5 L711.0,404.2 L717.0,419.9 L729.7,415.5Z" fill="url(#ivmg6)"/>
<path d="M652.4,258.3 L641.5,271.4 L649.1,278.4 L664.2,276.0 L661.9,264.3Z" fill="url(#ivmg7)"/>
<path d="M527.8,292.3 L542.6,301.3 L549.7,296.2 L542.0,275.6 L533.5,275.8Z" fill="#5f5f5f"/>
<path d="M653.1,320.9 L653.0,323.2 L646.3,331.4 L644.7,331.6 L633.4,325.0 L632.8,309.7 L643.0,309.1Z" fill="url(#ivmg6)"/>
<path d="M635.7,271.4 L630.1,282.4 L614.6,280.8 L614.6,270.2 L629.1,263.2Z" fill="url(#ivmg5)"/>
<path d="M578.6,381.3 L561.3,371.5 L560.6,369.8 L567.9,360.7 L584.8,361.3 L580.0,381.2Z" fill="url(#ivmg1)"/>
<path d="M686.3,446.0 L684.3,429.8 L676.7,426.8 L664.8,441.8 L672.0,448.1Z" fill="#717171"/>
<path d="M715.6,377.2 L713.5,359.7 L700.7,355.3 L693.0,363.7 L694.7,374.7Z" fill="url(#ivmg0)"/>
<path d="M706.4,292.2 L696.2,307.4 L689.0,306.6 L684.3,303.2 L681.5,296.1 L682.3,290.3 L699.5,283.4Z" fill="url(#ivmg4)"/>
<path d="M716.6,420.5 L720.6,441.3 L720.1,442.9 L719.8,443.0 L704.3,441.4 L697.3,423.8Z" fill="#727272"/>
<path d="M580.9,426.0 L557.1,426.2 L558.4,441.1 L572.6,445.4 L582.8,429.6Z" fill="#727272"/>
<path d="M561.9,339.3 L544.9,329.2 L545.3,320.7 L560.5,317.3 L569.3,327.0Z" fill="#666666"/>
<path d="M787.3,398.1 L781.9,384.2 L775.3,382.3 L766.1,390.3 L766.2,397.2 L783.1,401.2Z" fill="url(#ivmg0)"/>
<path d="M782.6,281.5 L796.4,286.2 L809.2,268.3 L788.5,267.1Z" fill="#616161"/>
<path d="M576.0,273.0 L572.3,262.4 L565.1,260.2 L551.3,268.4 L564.5,282.1Z" fill="#6b6b6b"/>
<path d="M686.6,336.0 L700.7,353.5 L700.7,355.3 L693.0,363.7 L675.9,357.0 L674.8,351.3Z" fill="url(#ivmg3)"/>
<path d="M772.9,338.1 L782.4,346.8 L791.3,346.1 L798.6,338.3 L788.2,322.2 L775.4,327.1Z" fill="url(#ivmg0)"/>
<path d="M621.4,374.9 L629.0,363.1 L636.7,362.6 L643.8,370.5 L643.7,378.4 L631.8,384.1 L623.1,381.7Z" fill="#6d6d6d"/>
<path d="M745.3,324.0 L746.4,311.8 L762.3,305.6 L764.5,306.9 L766.2,317.4 L751.8,329.1Z" fill="#606060"/>
<path d="M712.2,247.4 L705.9,255.8 L699.6,255.1 L692.6,241.0 L696.9,236.8 L707.3,238.0Z" fill="url(#ivmg2)"/>
<path d="M735.6,346.9 L740.7,348.0 L745.4,366.4 L737.2,374.7 L730.9,373.3 L725.7,352.9 L726.7,350.9Z" fill="#606060"/>
<path d="M629.3,298.1 L609.5,294.8 L608.9,295.9 L609.7,312.4 L613.8,314.7 L632.3,309.4Z" fill="#6c6c6c"/>
<path d="M581.1,422.8 L569.6,408.0 L569.9,404.0 L582.7,400.9 L592.5,408.2Z" fill="#757575"/>
<path d="M673.4,326.2 L670.4,313.6 L684.3,303.2 L689.0,306.6 L683.1,329.1Z" fill="url(#ivmg2)"/>
<path d="M630.9,424.6 L639.4,426.3 L642.3,429.2 L633.5,447.7 L617.2,439.2 L616.9,435.2Z" fill="url(#ivmg0)"/>
<path d="M597.5,407.6 L592.5,408.2 L582.7,400.9 L585.2,384.6 L595.8,384.4 L601.0,404.2Z" fill="url(#ivmg3)"/>
<path d="M569.6,408.0 L554.6,422.9 L549.7,420.6 L549.5,405.9 L562.2,396.4 L564.0,396.9 L569.9,404.0Z" fill="url(#ivmg5)"/>
<path d="M649.9,249.7 L628.9,255.5 L624.9,250.3 L624.7,243.2 L634.4,231.2 L650.9,246.7Z" fill="url(#ivmg1)"/>
<path d="M567.9,360.7 L560.6,369.8 L555.4,367.8 L548.7,352.1 L562.6,343.2 L565.2,345.4Z" fill="url(#ivmg4)"/>
<path d="M591.4,311.5 L582.3,315.4 L574.6,306.1 L579.7,294.2 L585.0,291.9 L592.6,298.5Z" fill="url(#ivmg1)"/>
<path d="M711.8,337.8 L700.7,353.5 L700.7,355.3 L713.5,359.7 L725.7,352.9 L726.7,350.9Z" fill="#656565"/>
<path d="M739.7,279.1 L728.2,289.7 L733.8,303.1 L747.6,292.5 L745.4,282.3Z" fill="url(#ivmg2)"/>
<path d="M606.1,255.9 L601.9,246.4 L610.1,235.5 L624.7,243.2 L624.9,250.3Z" fill="url(#ivmg7)"/>
<path d="M541.1,441.8 L530.6,452.1 L533.4,458.4 L551.8,458.0 L554.1,445.0Z" fill="url(#ivmg0)"/>
<path d="M752.8,334.0 L768.5,339.7 L760.9,353.1 L744.4,346.5Z" fill="url(#ivmg3)"/>
<path d="M657.1,344.4 L652.7,350.6 L640.4,351.9 L636.1,344.7 L644.7,331.6 L646.3,331.4Z" fill="url(#ivmg3)"/>
<path d="M750.2,240.5 L743.4,254.8 L727.2,244.8 L728.6,238.1 L745.6,235.7Z" fill="url(#ivmg6)"/>
<path d="M653.1,320.9 L653.0,323.2 L667.4,329.3 L673.4,326.2 L670.4,313.6 L663.1,310.7Z" fill="url(#ivmg0)"/>
<g filter="url(#ivmb)"><path d="M702.8,442.9 L693.8,450.1 L693.9,451.1 L706.3,464.3 L714.8,444.2Z" fill="#747474" opacity="0.7"/>
<path d="M606.8,287.7 L595.6,281.3 L594.4,281.9 L591.8,290.9 L596.5,295.0 L606.7,293.3 L607.0,292.7Z" fill="#6c6c6c" opacity="0.7"/>
<path d="M614.1,398.9 L614.9,389.8 L604.0,385.5 L601.6,387.4 L605.0,400.1Z" fill="#7f7f7f" opacity="0.7"/>
<path d="M560.0,286.9 L553.6,294.2 L549.1,294.4 L543.3,279.0 L550.2,273.6 L550.3,273.7 L560.2,283.9Z" fill="#656565" opacity="0.7"/>
<path d="M771.8,315.3 L778.8,322.6 L788.4,318.9 L790.5,314.8 L786.9,305.5 L782.0,303.1 L770.5,307.4Z" fill="#6e6e6e" opacity="0.7"/>
<path d="M699.8,272.4 L692.8,266.3 L699.3,261.1 L702.5,261.5 L706.5,268.3Z" fill="#575757" opacity="0.7"/>
<path d="M670.5,384.3 L672.9,380.7 L689.8,383.6 L690.0,386.9 L683.9,397.0 L673.2,395.1Z" fill="#7e7e7e" opacity="0.7"/>
<path d="M719.8,265.9 L724.2,263.7 L724.7,248.9 L715.5,249.1 L710.8,255.4 L716.4,265.2Z" fill="#6b6b6b" opacity="0.7"/>
<path d="M568.3,243.6 L564.8,245.2 L567.0,255.0 L571.5,256.4 L578.0,250.1 L578.3,247.0Z" fill="#747474" opacity="0.7"/>
<path d="M579.4,340.1 L568.6,340.6 L567.2,339.3 L566.7,337.1 L571.0,330.0 L577.0,328.9 L580.7,333.2Z" fill="#606060" opacity="0.7"/>
<path d="M658.9,295.5 L664.5,280.7 L663.2,279.6 L652.4,281.4 L650.8,290.2 L655.3,295.3Z" fill="#656565" opacity="0.7"/>
<path d="M775.0,446.7 L773.2,444.7 L767.9,444.2 L763.9,448.8 L768.6,458.2 L775.2,452.8Z" fill="#707070" opacity="0.7"/>
<path d="M612.2,368.0 L619.9,372.2 L624.8,364.6 L617.1,357.0 L615.4,357.1Z" fill="#7d7d7d" opacity="0.7"/>
<path d="M781.3,285.7 L781.4,298.7 L786.0,300.9 L795.9,294.4 L793.3,287.9 L783.5,284.5Z" fill="#686868" opacity="0.7"/>
<path d="M593.5,316.1 L587.0,318.9 L585.2,325.8 L589.8,331.2 L598.6,329.9 L601.1,319.2Z" fill="#6b6b6b" opacity="0.7"/>
<path d="M518.5,298.1 L532.5,311.3 L539.8,310.2 L541.9,301.2 L530.8,294.3Z" fill="#707070" opacity="0.7"/>
<path d="M763.7,301.6 L761.5,296.4 L766.8,281.7 L776.5,284.9 L776.7,298.4 L765.3,302.6Z" fill="#676767" opacity="0.7"/>
<path d="M588.4,365.0 L586.4,366.6 L583.9,376.9 L586.5,378.7 L592.0,378.6 L593.9,377.0 L595.2,372.0Z" fill="#838383" opacity="0.7"/>
<path d="M745.1,323.0 L734.3,325.5 L732.1,324.1 L729.0,313.3 L736.0,307.3 L746.0,313.4Z" fill="#656565" opacity="0.7"/>
<path d="M686.5,374.4 L688.7,370.5 L687.7,363.8 L677.4,359.7 L672.3,365.6 L672.9,372.0Z" fill="#7a7a7a" opacity="0.7"/>
<path d="M785.5,400.5 L790.7,400.7 L791.8,401.7 L793.6,414.7 L788.8,417.8 L782.8,417.2 L780.5,414.5 L782.5,402.8Z" fill="#606060" opacity="0.7"/>
<path d="M779.9,380.8 L787.3,375.6 L785.7,370.7 L775.9,367.5 L773.1,368.9 L775.6,379.6Z" fill="#707070" opacity="0.7"/>
<path d="M648.2,352.3 L639.5,353.2 L636.9,360.8 L641.9,366.4 L650.8,361.3Z" fill="#6e6e6e" opacity="0.7"/>
<path d="M584.9,254.8 L577.2,262.1 L580.0,269.9 L589.7,273.2 L591.1,272.5 L594.2,265.3Z" fill="#717171" opacity="0.7"/>
<path d="M697.4,384.4 L706.7,390.8 L714.4,381.9 L714.4,380.2 L713.1,379.1 L699.7,377.5 L697.3,381.6Z" fill="#787878" opacity="0.7"/>
<path d="M539.1,328.1 L533.9,333.8 L521.9,330.6 L531.0,320.4 L536.3,319.6 L539.2,323.5Z" fill="#787878" opacity="0.7"/>
<path d="M748.1,296.1 L754.4,299.4 L756.1,303.2 L747.4,306.6 L740.5,302.3 L740.5,301.8Z" fill="#767676" opacity="0.7"/>
<path d="M653.5,411.1 L655.0,416.2 L648.7,424.1 L644.0,423.7 L642.3,422.1 L643.6,409.8 L647.1,408.7Z" fill="#6a6a6a" opacity="0.7"/>
<path d="M644.9,434.5 L649.9,434.8 L654.9,441.6 L650.0,449.4 L640.3,446.9 L639.8,445.3Z" fill="#828282" opacity="0.7"/>
<path d="M685.1,410.5 L690.9,413.8 L693.0,423.3 L683.9,427.6 L678.5,425.5 L675.8,420.8Z" fill="#646464" opacity="0.7"/>
<path d="M646.2,388.7 L643.3,386.2 L637.1,389.2 L638.7,398.5 L642.2,399.7 L645.5,398.6Z" fill="#6e6e6e" opacity="0.7"/>
<path d="M714.8,420.9 L715.1,420.5 L710.9,409.5 L708.1,408.0 L699.1,413.8 L701.2,423.1 L701.3,423.2Z" fill="#777777" opacity="0.7"/>
<path d="M640.4,271.8 L645.8,276.7 L644.2,285.2 L634.4,285.3 L632.5,279.5 L636.4,271.8Z" fill="#676767" opacity="0.7"/>
<path d="M621.3,413.7 L627.7,422.0 L618.9,428.7 L614.0,423.0Z" fill="#6b6b6b" opacity="0.7"/>
<path d="M752.5,405.1 L742.5,397.2 L736.3,399.8 L734.2,411.9 L742.9,418.7Z" fill="#828282" opacity="0.7"/>
<path d="M697.6,278.8 L686.6,283.2 L682.3,276.0 L689.0,266.9 L689.8,266.9 L698.4,274.5Z" fill="#7d7d7d" opacity="0.7"/>
<path d="M672.6,399.6 L680.8,401.0 L682.5,405.0 L674.9,413.4 L668.6,410.8 L667.0,405.5Z" fill="#6c6c6c" opacity="0.7"/>
<path d="M585.3,434.3 L577.4,446.6 L578.7,449.6 L590.9,452.1 L595.4,443.9 L593.1,437.2Z" fill="#696969" opacity="0.7"/>
<path d="M555.6,339.1 L556.1,341.5 L547.1,347.3 L540.7,345.8 L538.5,339.3 L544.7,332.6Z" fill="#5b5b5b" opacity="0.7"/>
<path d="M538.8,377.6 L545.9,387.1 L540.4,394.7 L537.9,395.1 L531.8,386.5 L537.2,378.3Z" fill="#6b6b6b" opacity="0.7"/>
<path d="M691.3,453.2 L686.7,449.8 L676.5,451.3 L674.0,477.0 L691.4,454.1Z" fill="#676767" opacity="0.7"/>
<path d="M567.4,473.3 L556.6,457.0 L558.3,447.2 L561.6,444.3 L572.3,447.6 L573.5,450.4Z" fill="#696969" opacity="0.7"/>
<path d="M709.8,298.4 L714.3,309.1 L706.0,312.2 L700.4,307.1 L706.5,298.0Z" fill="#626262" opacity="0.7"/>
<path d="M533.7,432.1 L522.1,433.0 L517.0,435.7 L530.0,443.6 L535.6,438.1Z" fill="#636363" opacity="0.7"/>
<path d="M793.4,445.7 L783.7,446.1 L784.0,452.7 L789.0,456.1 L794.3,453.1Z" fill="#5a5a5a" opacity="0.7"/>
<path d="M640.4,306.1 L632.6,306.6 L632.3,306.3 L630.0,297.7 L632.7,292.1 L643.4,292.1 L648.1,297.4Z" fill="#646464" opacity="0.7"/>
<path d="M714.9,294.2 L719.4,304.6 L722.5,305.3 L727.8,300.7 L727.9,300.2 L724.5,292.3 L720.2,290.7Z" fill="#777777" opacity="0.7"/>
<path d="M728.1,328.3 L718.7,333.9 L718.9,335.1 L727.1,342.4 L732.0,340.1 L729.7,329.3Z" fill="#636363" opacity="0.7"/>
<path d="M736.3,425.0 L728.1,418.5 L718.8,421.7 L718.6,422.1 L721.5,437.2 L736.0,427.8 L736.7,426.4Z" fill="#797979" opacity="0.7"/>
<path d="M789.5,396.9 L794.7,397.0 L799.6,384.7 L793.9,381.3 L785.7,387.0Z" fill="#757575" opacity="0.7"/>
<path d="M747.6,352.0 L750.1,361.8 L757.8,362.4 L760.3,360.8 L758.4,354.7 L749.6,351.1Z" fill="#6f6f6f" opacity="0.7"/>
<path d="M593.4,356.1 L605.2,351.1 L609.7,353.9 L606.4,365.2 L601.4,367.4 L592.8,358.6Z" fill="#727272" opacity="0.7"/>
<path d="M760.7,394.5 L755.9,401.2 L752.1,401.0 L743.1,393.8 L744.8,387.6 L754.4,385.0 L760.6,389.8Z" fill="#7d7d7d" opacity="0.7"/>
<path d="M593.1,312.1 L599.9,314.9 L605.0,312.7 L604.5,301.9 L593.9,303.7Z" fill="#626262" opacity="0.7"/>
<path d="M513.9,360.9 L534.3,369.9 L535.7,369.3 L536.2,368.5 L534.7,358.2Z" fill="#5f5f5f" opacity="0.7"/>
<path d="M561.3,249.9 L563.6,260.3 L554.5,265.7 L554.4,265.7 L548.6,252.8 L554.1,248.0Z" fill="#6c6c6c" opacity="0.7"/>
<path d="M628.0,259.1 L625.2,255.5 L612.0,259.4 L610.8,263.4 L617.9,269.4 L628.1,264.5Z" fill="#6f6f6f" opacity="0.7"/>
<path d="M611.3,371.4 L617.5,374.8 L618.5,378.3 L615.0,381.7 L606.2,378.2 L607.4,373.1Z" fill="#666666" opacity="0.7"/>
<path d="M717.9,384.2 L724.9,395.7 L713.0,400.6 L710.1,399.1 L709.1,394.2Z" fill="#6b6b6b" opacity="0.7"/>
<path d="M541.9,373.4 L553.2,370.1 L556.6,371.4 L557.0,372.5 L553.5,382.6 L547.7,382.6 L541.4,374.1Z" fill="#707070" opacity="0.7"/>
<path d="M579.8,314.9 L578.4,320.6 L572.1,321.8 L566.8,316.0 L569.3,309.7 L575.2,309.4Z" fill="#777777" opacity="0.7"/>
<path d="M759.2,413.9 L755.0,408.1 L751.2,408.0 L742.5,420.4 L742.8,421.6 L755.4,424.5Z" fill="#757575" opacity="0.7"/>
<path d="M529.7,289.9 L540.1,296.3 L545.0,292.7 L539.6,278.3 L533.7,278.4Z" fill="#5e5e5e" opacity="0.7"/>
<path d="M683.4,443.4 L682.4,435.1 L678.5,433.6 L672.4,441.2 L676.1,444.5Z" fill="#737373" opacity="0.7"/>
<path d="M717.6,421.8 L720.6,437.4 L720.2,438.6 L720.0,438.7 L708.4,437.5 L703.1,424.3Z" fill="#797979" opacity="0.7"/>
<path d="M578.6,427.3 L564.5,427.4 L565.4,436.2 L573.7,438.7 L579.7,429.4Z" fill="#777777" opacity="0.7"/>
<path d="M558.7,337.8 L546.6,330.6 L546.9,324.5 L557.7,322.1 L563.9,329.0Z" fill="#676767" opacity="0.7"/>
<path d="M788.2,279.9 L798.0,283.2 L807.1,270.5 L792.4,269.7Z" fill="#565656" opacity="0.7"/>
<path d="M573.5,270.1 L570.6,261.9 L565.1,260.2 L554.4,266.5 L564.6,277.1Z" fill="#5e5e5e" opacity="0.7"/>
<path d="M624.3,374.4 L629.3,366.5 L634.5,366.2 L639.2,371.5 L639.2,376.7 L631.2,380.6 L625.5,379.0Z" fill="#696969" opacity="0.7"/>
<path d="M747.5,324.0 L748.4,314.5 L760.7,309.7 L762.4,310.8 L763.7,318.9 L752.5,328.0Z" fill="#666666" opacity="0.7"/>
<path d="M736.3,353.4 L739.5,354.2 L742.3,365.2 L737.3,370.3 L733.5,369.4 L730.3,357.1 L730.9,355.9Z" fill="#686868" opacity="0.7"/>
<path d="M626.4,298.6 L612.3,296.4 L611.9,297.1 L612.4,308.9 L615.3,310.5 L628.5,306.7Z" fill="#6b6b6b" opacity="0.7"/>
<path d="M579.0,416.4 L572.7,408.4 L572.8,406.2 L579.8,404.5 L585.2,408.5Z" fill="#7f7f7f" opacity="0.7"/>
<path d="M714.2,343.3 L705.6,355.5 L705.5,356.9 L715.5,360.4 L725.0,355.1 L725.8,353.5Z" fill="#6b6b6b" opacity="0.7"/></g>
<g fill="none" stroke-linejoin="round" filter="url(#ivmb)"><path d="M562.2,396.4 L549.5,405.9 L538.9,398.2 L546.6,387.4 L555.8,387.5Z" stroke="#b4b4b4" stroke-width="3.8" stroke-opacity="0.18"/>
<path d="M704.3,441.4 L692.6,450.7 L692.7,452.0 L708.8,469.1 L719.8,443.0Z" stroke="#a8a8a8" stroke-width="3.2" stroke-opacity="0.18"/>
<path d="M609.2,286.7 L591.1,276.5 L589.2,277.5 L585.0,291.9 L592.6,298.5 L608.9,295.9 L609.5,294.8Z" stroke="#9a9a9a" stroke-width="2.3" stroke-opacity="0.29"/>
<path d="M737.2,374.7 L730.9,373.3 L717.7,378.9 L717.6,381.6 L727.3,397.5 L732.4,399.6 L740.6,396.2 L743.1,387.2Z" stroke="#c0c0c0" stroke-width="3.3" stroke-opacity="0.15"/>
<path d="M615.2,402.4 L616.4,388.2 L599.4,381.4 L595.8,384.4 L601.0,404.2Z" stroke="#a4a4a4" stroke-width="2.7" stroke-opacity="0.39"/>
<path d="M620.8,411.4 L630.9,424.6 L639.4,426.3 L641.7,404.2 L634.9,402.1 L620.7,406.8Z" stroke="#bababa" stroke-width="4.1" stroke-opacity="0.30"/>
<path d="M564.2,286.1 L555.6,295.9 L549.7,296.2 L542.0,275.6 L551.1,268.4 L551.3,268.4 L564.5,282.1Z" stroke="#c3c3c3" stroke-width="7.3" stroke-opacity="0.21"/>
<path d="M766.2,317.4 L775.4,327.1 L788.2,322.2 L790.9,316.7 L786.2,304.4 L779.8,301.3 L764.5,306.9Z" stroke="#afafaf" stroke-width="2.2" stroke-opacity="0.16"/>
<path d="M604.1,425.2 L592.8,433.3 L582.8,429.6 L580.9,426.0 L581.1,422.8 L592.5,408.2 L597.5,407.6Z" stroke="#959595" stroke-width="4.4" stroke-opacity="0.26"/>
<path d="M700.7,276.7 L687.3,265.0 L699.6,255.1 L705.9,255.8 L713.4,268.9Z" stroke="#acacac" stroke-width="4.3" stroke-opacity="0.35"/>
<path d="M665.4,382.1 L668.5,377.3 L690.9,381.2 L691.2,385.5 L683.1,398.9 L668.9,396.4Z" stroke="#b1b1b1" stroke-width="3.7" stroke-opacity="0.15"/>
<path d="M564.0,396.9 L562.2,396.4 L555.8,387.5 L561.3,371.5 L578.6,381.3Z" stroke="#8a8a8a" stroke-width="5.3" stroke-opacity="0.36"/>
<path d="M560.5,317.3 L564.6,306.7 L555.6,295.9 L549.7,296.2 L542.6,301.3 L539.8,313.4 L545.3,320.7Z" stroke="#b3b3b3" stroke-width="5.6" stroke-opacity="0.27"/>
<path d="M697.3,423.8 L697.1,423.7 L684.3,429.8 L686.3,446.0 L692.6,450.7 L704.3,441.4Z" stroke="#898989" stroke-width="1.5" stroke-opacity="0.33"/>
<path d="M718.0,269.9 L723.8,267.0 L724.5,247.1 L712.2,247.4 L705.9,255.8 L713.4,268.9Z" stroke="#888888" stroke-width="6.7" stroke-opacity="0.28"/>
<path d="M567.2,242.0 L561.6,244.6 L565.1,260.2 L572.3,262.4 L582.7,252.4 L583.1,247.5Z" stroke="#b7b7b7" stroke-width="3.8" stroke-opacity="0.27"/>
<path d="M764.4,364.5 L771.4,365.8 L775.7,363.6 L782.4,346.8 L772.9,338.1 L768.5,339.7 L760.9,353.1Z" stroke="#9b9b9b" stroke-width="6.5" stroke-opacity="0.21"/>
<path d="M583.8,344.5 L565.2,345.4 L562.6,343.2 L561.9,339.3 L569.3,327.0 L579.8,325.0 L586.2,332.4Z" stroke="#bbbbbb" stroke-width="4.4" stroke-opacity="0.18"/>
<path d="M649.9,249.7 L652.4,258.3 L661.9,264.3 L676.5,252.9 L676.2,248.6 L661.3,239.5 L650.9,246.7Z" stroke="#8d8d8d" stroke-width="4.4" stroke-opacity="0.17"/>
<path d="M750.2,240.5 L757.3,240.3 L763.6,246.6 L759.1,263.4 L744.7,259.7 L743.4,254.8Z" stroke="#8a8a8a" stroke-width="4.5" stroke-opacity="0.34"/>
<path d="M743.4,254.8 L744.7,259.7 L736.1,268.9 L723.8,267.0 L724.5,247.1 L727.2,244.8Z" stroke="#929292" stroke-width="5.0" stroke-opacity="0.21"/>
<path d="M665.4,382.1 L668.9,396.4 L659.4,406.5 L648.0,402.2 L649.3,383.2Z" stroke="#b5b5b5" stroke-width="3.0" stroke-opacity="0.31"/>
<path d="M686.9,333.5 L683.1,329.1 L673.4,326.2 L667.4,329.3 L663.1,343.6 L674.8,351.3 L686.6,336.0Z" stroke="#acacac" stroke-width="2.1" stroke-opacity="0.35"/>
<path d="M663.1,343.6 L657.1,344.4 L646.3,331.4 L653.0,323.2 L667.4,329.3Z" stroke="#bdbdbd" stroke-width="3.3" stroke-opacity="0.37"/>
<path d="M686.0,264.9 L676.5,252.9 L676.2,248.6 L684.0,241.7 L692.6,241.0 L699.6,255.1 L687.3,265.0Z" stroke="#9b9b9b" stroke-width="3.5" stroke-opacity="0.26"/>
<path d="M658.2,298.0 L665.8,277.5 L664.2,276.0 L649.1,278.4 L646.9,290.6 L653.2,297.7Z" stroke="#949494" stroke-width="4.7" stroke-opacity="0.33"/>
<path d="M777.8,443.7 L774.4,439.9 L764.3,438.9 L756.7,447.6 L765.6,465.4 L778.3,455.3Z" stroke="#a3a3a3" stroke-width="5.1" stroke-opacity="0.29"/>
<path d="M518.1,263.0 L537.3,249.0 L542.4,249.0 L551.1,268.4 L542.0,275.6 L533.5,275.8Z" stroke="#9a9a9a" stroke-width="5.5" stroke-opacity="0.35"/>
<path d="M717.7,378.9 L730.9,373.3 L725.7,352.9 L713.5,359.7 L715.6,377.2Z" stroke="#a5a5a5" stroke-width="7.0" stroke-opacity="0.18"/>
<path d="M609.3,368.3 L621.4,374.9 L629.0,363.1 L617.0,351.2 L614.3,351.4Z" stroke="#969696" stroke-width="5.8" stroke-opacity="0.38"/>
<path d="M779.5,283.1 L779.8,301.3 L786.2,304.4 L800.1,295.3 L796.4,286.2 L782.6,281.5Z" stroke="#a7a7a7" stroke-width="4.2" stroke-opacity="0.16"/>
<path d="M609.2,286.7 L591.1,276.5 L595.3,266.7 L604.4,261.7 L614.6,270.2 L614.6,280.8Z" stroke="#aaaaaa" stroke-width="3.0" stroke-opacity="0.19"/>
<path d="M711.5,335.6 L711.8,337.8 L700.7,353.5 L686.6,336.0 L686.9,333.5 L703.6,328.1Z" stroke="#929292" stroke-width="3.5" stroke-opacity="0.33"/>
<path d="M591.4,311.5 L582.3,315.4 L579.8,325.0 L586.2,332.4 L598.4,330.6 L601.8,315.8Z" stroke="#bdbdbd" stroke-width="3.8" stroke-opacity="0.25"/>
<path d="M511.4,297.2 L530.0,314.9 L539.8,313.4 L542.6,301.3 L527.8,292.3Z" stroke="#8b8b8b" stroke-width="5.7" stroke-opacity="0.16"/>
<path d="M590.0,452.5 L595.8,442.0 L610.1,446.7 L610.5,456.9 L593.0,460.4Z" stroke="#898989" stroke-width="2.3" stroke-opacity="0.39"/>
<path d="M632.9,290.7 L630.1,282.4 L614.6,280.8 L609.2,286.7 L609.5,294.8 L629.3,298.1Z" stroke="#969696" stroke-width="6.7" stroke-opacity="0.22"/>
<path d="M579.7,294.2 L564.2,286.1 L564.5,282.1 L576.0,273.0 L589.2,277.5 L585.0,291.9Z" stroke="#b0b0b0" stroke-width="3.3" stroke-opacity="0.29"/>
<path d="M762.3,305.6 L759.3,298.6 L766.5,278.9 L779.5,283.1 L779.8,301.3 L764.5,306.9Z" stroke="#a7a7a7" stroke-width="2.1" stroke-opacity="0.40"/>
<path d="M588.8,358.4 L584.8,361.3 L580.0,381.2 L585.2,384.6 L595.8,384.4 L599.4,381.4 L601.8,371.7Z" stroke="#9c9c9c" stroke-width="5.8" stroke-opacity="0.38"/>
<path d="M745.3,324.0 L731.4,327.3 L728.6,325.4 L724.6,311.7 L733.7,303.9 L746.4,311.8Z" stroke="#b2b2b2" stroke-width="3.7" stroke-opacity="0.22"/>
<path d="M690.9,381.2 L694.7,374.7 L693.0,363.7 L675.9,357.0 L667.6,366.8 L668.5,377.3Z" stroke="#a4a4a4" stroke-width="2.3" stroke-opacity="0.28"/>
<path d="M787.3,398.1 L794.7,398.3 L796.1,399.7 L798.7,418.0 L791.9,422.3 L783.5,421.5 L780.3,417.8 L783.1,401.2Z" stroke="#bdbdbd" stroke-width="6.6" stroke-opacity="0.19"/>
<path d="M662.1,415.7 L650.7,429.8 L659.4,441.4 L664.8,441.8 L676.7,426.8 L672.9,420.1Z" stroke="#9e9e9e" stroke-width="4.5" stroke-opacity="0.16"/>
<path d="M632.8,309.7 L633.4,325.0 L624.5,330.6 L617.3,327.8 L613.8,314.7 L632.3,309.4Z" stroke="#bebebe" stroke-width="4.8" stroke-opacity="0.19"/>
<path d="M781.9,384.2 L793.5,376.2 L791.0,368.6 L775.7,363.6 L771.4,365.8 L775.3,382.3Z" stroke="#acacac" stroke-width="5.3" stroke-opacity="0.15"/>
<path d="M659.1,298.7 L663.1,310.7 L653.1,320.9 L643.0,309.1 L653.2,297.7 L658.2,298.0Z" stroke="#a0a0a0" stroke-width="4.2" stroke-opacity="0.36"/>
<path d="M588.0,242.4 L601.9,246.4 L606.1,255.9 L604.4,261.7 L595.3,266.7 L582.7,252.4 L583.1,247.5Z" stroke="#b9b9b9" stroke-width="4.0" stroke-opacity="0.28"/>
<path d="M582.7,400.9 L585.2,384.6 L580.0,381.2 L578.6,381.3 L564.0,396.9 L569.9,404.0Z" stroke="#9a9a9a" stroke-width="2.7" stroke-opacity="0.39"/>
<path d="M652.7,350.6 L640.4,351.9 L636.7,362.6 L643.8,370.5 L656.3,363.3Z" stroke="#b6b6b6" stroke-width="4.2" stroke-opacity="0.36"/>
<path d="M649.9,249.7 L628.9,255.5 L629.1,263.2 L635.7,271.4 L641.5,271.4 L652.4,258.3Z" stroke="#949494" stroke-width="4.7" stroke-opacity="0.33"/>
<path d="M582.7,252.4 L572.3,262.4 L576.0,273.0 L589.2,277.5 L591.1,276.5 L595.3,266.7Z" stroke="#919191" stroke-width="7.5" stroke-opacity="0.22"/>
<path d="M711.8,292.9 L720.7,286.9 L718.0,269.9 L713.4,268.9 L700.7,276.7 L699.5,283.4 L706.4,292.2Z" stroke="#bcbcbc" stroke-width="3.4" stroke-opacity="0.31"/>
<path d="M691.2,385.5 L705.6,395.4 L717.6,381.6 L717.7,378.9 L715.6,377.2 L694.7,374.7 L690.9,381.2Z" stroke="#b9b9b9" stroke-width="4.8" stroke-opacity="0.23"/>
<path d="M610.5,456.9 L611.9,458.6 L629.9,458.8 L634.3,450.5 L633.5,447.7 L617.2,439.2 L610.1,446.7Z" stroke="#c0c0c0" stroke-width="4.2" stroke-opacity="0.21"/>
<path d="M544.9,329.2 L535.3,339.7 L513.2,333.7 L530.0,314.9 L539.8,313.4 L545.3,320.7Z" stroke="#979797" stroke-width="3.6" stroke-opacity="0.29"/>
<path d="M589.8,354.6 L583.8,344.5 L586.2,332.4 L598.4,330.6 L606.0,336.5 L607.6,347.1Z" stroke="#b8b8b8" stroke-width="3.5" stroke-opacity="0.36"/>
<path d="M791.9,422.3 L797.8,440.0 L795.0,442.9 L777.8,443.7 L774.4,439.9 L783.5,421.5Z" stroke="#959595" stroke-width="6.3" stroke-opacity="0.18"/>
<path d="M782.4,346.8 L775.7,363.6 L791.0,368.6 L797.8,359.3 L791.3,346.1Z" stroke="#ababab" stroke-width="1.9" stroke-opacity="0.24"/>
<path d="M557.1,426.2 L558.4,441.1 L554.1,445.0 L541.1,441.8 L537.5,430.7 L545.4,421.6 L549.7,420.6 L554.6,422.9Z" stroke="#999999" stroke-width="5.5" stroke-opacity="0.28"/>
<path d="M780.3,417.8 L765.2,415.3 L759.8,430.5 L764.3,438.9 L774.4,439.9 L783.5,421.5Z" stroke="#a5a5a5" stroke-width="7.1" stroke-opacity="0.35"/>
<path d="M782.3,257.8 L798.7,246.4 L794.4,238.0 L778.6,238.3 L775.6,245.2Z" stroke="#c2c2c2" stroke-width="4.4" stroke-opacity="0.16"/>
<path d="M747.6,292.5 L759.3,298.6 L762.3,305.6 L746.4,311.8 L733.7,303.9 L733.8,303.1Z" stroke="#afafaf" stroke-width="6.4" stroke-opacity="0.34"/>
<path d="M659.4,406.5 L662.1,415.7 L650.7,429.8 L642.3,429.2 L639.4,426.3 L641.7,404.2 L648.0,402.2Z" stroke="#959595" stroke-width="2.9" stroke-opacity="0.34"/>
<path d="M663.1,343.6 L657.1,344.4 L652.7,350.6 L656.3,363.3 L667.6,366.8 L675.9,357.0 L674.8,351.3Z" stroke="#929292" stroke-width="5.1" stroke-opacity="0.20"/>
<path d="M633.4,325.0 L644.7,331.6 L636.1,344.7 L626.4,343.2 L624.5,330.6Z" stroke="#a7a7a7" stroke-width="2.8" stroke-opacity="0.35"/>
<path d="M719.8,443.0 L708.8,469.1 L716.5,504.6 L731.9,452.0 L720.1,442.9Z" stroke="#aaaaaa" stroke-width="5.4" stroke-opacity="0.17"/>
<path d="M642.3,429.2 L650.7,429.8 L659.4,441.4 L651.1,454.7 L634.3,450.5 L633.5,447.7Z" stroke="#adadad" stroke-width="3.0" stroke-opacity="0.18"/>
<path d="M686.0,405.8 L694.1,410.4 L697.1,423.7 L684.3,429.8 L676.7,426.8 L672.9,420.1Z" stroke="#acacac" stroke-width="2.4" stroke-opacity="0.21"/>
<path d="M649.3,383.2 L643.7,378.4 L631.8,384.1 L634.9,402.1 L641.7,404.2 L648.0,402.2Z" stroke="#999999" stroke-width="4.3" stroke-opacity="0.27"/>
<path d="M636.7,362.6 L629.0,363.1 L617.0,351.2 L626.4,343.2 L636.1,344.7 L640.4,351.9Z" stroke="#979797" stroke-width="3.8" stroke-opacity="0.35"/>
<path d="M716.6,420.5 L717.0,419.9 L711.0,404.2 L706.9,402.1 L694.1,410.4 L697.1,423.7 L697.3,423.8Z" stroke="#b7b7b7" stroke-width="2.7" stroke-opacity="0.25"/>
<path d="M641.5,271.4 L649.1,278.4 L646.9,290.6 L632.9,290.7 L630.1,282.4 L635.7,271.4Z" stroke="#afafaf" stroke-width="3.0" stroke-opacity="0.23"/>
<path d="M620.7,406.8 L634.9,402.1 L631.8,384.1 L623.1,381.7 L616.4,388.2 L615.2,402.4Z" stroke="#949494" stroke-width="2.1" stroke-opacity="0.21"/>
<path d="M686.0,264.9 L676.5,252.9 L661.9,264.3 L664.2,276.0 L665.8,277.5 L675.6,279.1Z" stroke="#8c8c8c" stroke-width="4.2" stroke-opacity="0.28"/>
<path d="M581.1,422.8 L580.9,426.0 L557.1,426.2 L554.6,422.9 L569.6,408.0Z" stroke="#9e9e9e" stroke-width="5.4" stroke-opacity="0.31"/>
<path d="M601.8,315.8 L598.4,330.6 L606.0,336.5 L617.3,327.8 L613.8,314.7 L609.7,312.4Z" stroke="#a2a2a2" stroke-width="2.4" stroke-opacity="0.33"/>
<path d="M665.4,382.1 L668.5,377.3 L667.6,366.8 L656.3,363.3 L643.8,370.5 L643.7,378.4 L649.3,383.2Z" stroke="#a6a6a6" stroke-width="2.5" stroke-opacity="0.32"/>
<path d="M620.8,411.4 L630.9,424.6 L616.9,435.2 L609.2,426.1Z" stroke="#909090" stroke-width="2.8" stroke-opacity="0.21"/>
<path d="M762.8,267.8 L782.3,258.1 L788.5,267.1 L782.6,281.5 L779.5,283.1 L766.5,278.9 L763.3,274.6Z" stroke="#a3a3a3" stroke-width="5.8" stroke-opacity="0.31"/>
<path d="M745.3,324.0 L731.4,327.3 L735.6,346.9 L740.7,348.0 L744.4,346.5 L752.8,334.0 L751.8,329.1Z" stroke="#9c9c9c" stroke-width="4.3" stroke-opacity="0.23"/>
<path d="M753.7,406.6 L740.6,396.2 L732.4,399.6 L729.7,415.5 L741.1,424.5Z" stroke="#979797" stroke-width="3.2" stroke-opacity="0.19"/>
<path d="M745.4,282.3 L763.3,274.6 L766.5,278.9 L759.3,298.6 L747.6,292.5Z" stroke="#b4b4b4" stroke-width="2.1" stroke-opacity="0.38"/>
<path d="M699.5,283.4 L682.3,290.3 L675.6,279.1 L686.0,264.9 L687.3,265.0 L700.7,276.7Z" stroke="#b0b0b0" stroke-width="2.5" stroke-opacity="0.19"/>
<path d="M668.9,396.4 L683.1,398.9 L686.0,405.8 L672.9,420.1 L662.1,415.7 L659.4,406.5Z" stroke="#898989" stroke-width="2.8" stroke-opacity="0.23"/>
<path d="M535.0,355.9 L538.8,349.8 L548.7,352.1 L555.4,367.8 L537.5,372.8Z" stroke="#a2a2a2" stroke-width="4.9" stroke-opacity="0.19"/>
<path d="M582.8,429.6 L572.6,445.4 L574.3,449.2 L590.0,452.5 L595.8,442.0 L592.8,433.3Z" stroke="#a5a5a5" stroke-width="3.1" stroke-opacity="0.35"/>
<path d="M561.9,339.3 L562.6,343.2 L548.7,352.1 L538.8,349.8 L535.3,339.7 L544.9,329.2Z" stroke="#b6b6b6" stroke-width="5.5" stroke-opacity="0.27"/>
<path d="M536.7,374.1 L546.6,387.4 L538.9,398.2 L535.3,398.8 L526.7,386.6 L534.4,375.0Z" stroke="#b1b1b1" stroke-width="5.3" stroke-opacity="0.31"/>
<path d="M692.6,450.7 L686.3,446.0 L672.0,448.1 L668.6,483.7 L692.7,452.0Z" stroke="#c3c3c3" stroke-width="3.6" stroke-opacity="0.29"/>
<path d="M566.1,479.7 L551.8,458.0 L554.1,445.0 L558.4,441.1 L572.6,445.4 L574.3,449.2Z" stroke="#929292" stroke-width="5.2" stroke-opacity="0.26"/>
<path d="M782.3,258.1 L782.3,257.8 L798.7,246.4 L830.3,260.4 L809.2,268.3 L788.5,267.1Z" stroke="#a7a7a7" stroke-width="5.2" stroke-opacity="0.36"/>
<path d="M711.8,292.9 L719.4,310.6 L705.4,315.9 L696.2,307.4 L706.4,292.2Z" stroke="#9f9f9f" stroke-width="4.7" stroke-opacity="0.32"/>
<path d="M751.8,329.1 L752.8,334.0 L768.5,339.7 L772.9,338.1 L775.4,327.1 L766.2,317.4Z" stroke="#8e8e8e" stroke-width="5.3" stroke-opacity="0.23"/>
<path d="M672.0,448.1 L664.8,441.8 L659.4,441.4 L651.1,454.7 L665.2,492.2 L668.6,483.7Z" stroke="#8a8a8a" stroke-width="4.8" stroke-opacity="0.33"/>
<path d="M537.5,430.7 L515.9,432.4 L506.5,437.2 L530.6,452.1 L541.1,441.8Z" stroke="#8c8c8c" stroke-width="4.4" stroke-opacity="0.37"/>
<path d="M795.0,442.9 L777.8,443.7 L778.3,455.3 L787.1,461.3 L796.5,456.0Z" stroke="#b3b3b3" stroke-width="3.4" stroke-opacity="0.16"/>
<path d="M643.0,309.1 L632.8,309.7 L632.3,309.4 L629.3,298.1 L632.9,290.7 L646.9,290.6 L653.2,297.7Z" stroke="#b6b6b6" stroke-width="7.4" stroke-opacity="0.31"/>
<path d="M711.8,292.9 L719.4,310.6 L724.6,311.7 L733.7,303.9 L733.8,303.1 L728.2,289.7 L720.7,286.9Z" stroke="#979797" stroke-width="5.3" stroke-opacity="0.27"/>
<path d="M728.6,325.4 L711.5,335.6 L711.8,337.8 L726.7,350.9 L735.6,346.9 L731.4,327.3Z" stroke="#929292" stroke-width="5.7" stroke-opacity="0.32"/>
<path d="M741.1,424.5 L729.7,415.5 L717.0,419.9 L716.6,420.5 L720.6,441.3 L740.7,428.3 L741.5,426.4Z" stroke="#939393" stroke-width="3.4" stroke-opacity="0.25"/>
<path d="M787.3,398.1 L794.7,398.3 L801.6,381.0 L793.5,376.2 L781.9,384.2Z" stroke="#adadad" stroke-width="6.2" stroke-opacity="0.24"/>
<path d="M762.8,267.8 L759.1,263.4 L763.6,246.6 L775.6,245.2 L782.3,257.8 L782.3,258.1Z" stroke="#a5a5a5" stroke-width="2.5" stroke-opacity="0.28"/>
<path d="M745.4,366.4 L737.2,374.7 L743.1,387.2 L757.1,383.3 L759.8,367.5Z" stroke="#8e8e8e" stroke-width="2.3" stroke-opacity="0.19"/>
<path d="M765.6,465.4 L755.1,506.2 L743.0,452.2 L746.2,449.2 L756.7,447.6Z" stroke="#b8b8b8" stroke-width="6.5" stroke-opacity="0.39"/>
<path d="M659.1,298.7 L681.5,296.1 L684.3,303.2 L670.4,313.6 L663.1,310.7Z" stroke="#b4b4b4" stroke-width="5.6" stroke-opacity="0.36"/>
<path d="M549.5,405.9 L549.7,420.6 L545.4,421.6 L530.1,411.8 L529.0,407.3 L535.3,398.8 L538.9,398.2Z" stroke="#a7a7a7" stroke-width="3.6" stroke-opacity="0.39"/>
<path d="M705.4,315.9 L703.6,328.1 L686.9,333.5 L683.1,329.1 L689.0,306.6 L696.2,307.4Z" stroke="#8d8d8d" stroke-width="4.1" stroke-opacity="0.29"/>
<path d="M740.7,348.0 L745.4,366.4 L759.8,367.5 L764.4,364.5 L760.9,353.1 L744.4,346.5Z" stroke="#989898" stroke-width="7.9" stroke-opacity="0.29"/>
<path d="M609.2,426.1 L616.9,435.2 L617.2,439.2 L610.1,446.7 L595.8,442.0 L592.8,433.3 L604.1,425.2Z" stroke="#a1a1a1" stroke-width="5.7" stroke-opacity="0.18"/>
<path d="M589.8,354.6 L607.6,347.1 L614.3,351.4 L609.3,368.3 L601.8,371.7 L588.8,358.4Z" stroke="#a6a6a6" stroke-width="4.3" stroke-opacity="0.34"/>
<path d="M766.2,397.2 L759.2,406.8 L753.7,406.6 L740.6,396.2 L743.1,387.2 L757.1,383.3 L766.1,390.3Z" stroke="#969696" stroke-width="5.7" stroke-opacity="0.22"/>
<path d="M591.4,311.5 L601.8,315.8 L609.7,312.4 L608.9,295.9 L592.6,298.5Z" stroke="#9e9e9e" stroke-width="5.0" stroke-opacity="0.35"/>
<path d="M500.9,360.3 L534.4,375.0 L536.7,374.1 L537.5,372.8 L535.0,355.9Z" stroke="#898989" stroke-width="2.8" stroke-opacity="0.19"/>
<path d="M759.8,430.5 L741.5,426.4 L740.7,428.3 L746.2,449.2 L756.7,447.6 L764.3,438.9Z" stroke="#b1b1b1" stroke-width="3.9" stroke-opacity="0.17"/>
<path d="M739.7,279.1 L736.1,268.9 L744.7,259.7 L759.1,263.4 L762.8,267.8 L763.3,274.6 L745.4,282.3Z" stroke="#8e8e8e" stroke-width="1.6" stroke-opacity="0.37"/>
<path d="M720.7,286.9 L728.2,289.7 L739.7,279.1 L736.1,268.9 L723.8,267.0 L718.0,269.9Z" stroke="#979797" stroke-width="5.9" stroke-opacity="0.26"/>
<path d="M561.6,244.6 L565.1,260.2 L551.3,268.4 L551.1,268.4 L542.4,249.0 L550.7,241.7Z" stroke="#8d8d8d" stroke-width="5.2" stroke-opacity="0.24"/>
<path d="M628.9,255.5 L624.9,250.3 L606.1,255.9 L604.4,261.7 L614.6,270.2 L629.1,263.2Z" stroke="#bebebe" stroke-width="7.1" stroke-opacity="0.24"/>
<path d="M691.2,385.5 L705.6,395.4 L706.9,402.1 L694.1,410.4 L686.0,405.8 L683.1,398.9Z" stroke="#9b9b9b" stroke-width="2.3" stroke-opacity="0.34"/>
<path d="M579.7,294.2 L564.2,286.1 L555.6,295.9 L564.6,306.7 L574.6,306.1Z" stroke="#b5b5b5" stroke-width="4.7" stroke-opacity="0.16"/>
<path d="M609.3,368.3 L621.4,374.9 L623.1,381.7 L616.4,388.2 L599.4,381.4 L601.8,371.7Z" stroke="#aaaaaa" stroke-width="6.2" stroke-opacity="0.29"/>
<path d="M589.8,354.6 L583.8,344.5 L565.2,345.4 L567.9,360.7 L584.8,361.3 L588.8,358.4Z" stroke="#ababab" stroke-width="3.6" stroke-opacity="0.37"/>
<path d="M607.6,347.1 L606.0,336.5 L617.3,327.8 L624.5,330.6 L626.4,343.2 L617.0,351.2 L614.3,351.4Z" stroke="#8e8e8e" stroke-width="7.9" stroke-opacity="0.21"/>
<path d="M717.6,381.6 L727.3,397.5 L711.0,404.2 L706.9,402.1 L705.6,395.4Z" stroke="#a6a6a6" stroke-width="3.8" stroke-opacity="0.30"/>
<path d="M763.6,246.6 L757.3,240.3 L770.5,214.9 L778.6,238.3 L775.6,245.2Z" stroke="#8f8f8f" stroke-width="4.1" stroke-opacity="0.28"/>
<path d="M728.6,325.4 L711.5,335.6 L703.6,328.1 L705.4,315.9 L719.4,310.6 L724.6,311.7Z" stroke="#b7b7b7" stroke-width="5.0" stroke-opacity="0.25"/>
<path d="M783.1,401.2 L780.3,417.8 L765.2,415.3 L759.2,406.8 L766.2,397.2Z" stroke="#b0b0b0" stroke-width="2.2" stroke-opacity="0.16"/>
<path d="M537.5,372.8 L555.4,367.8 L560.6,369.8 L561.3,371.5 L555.8,387.5 L546.6,387.4 L536.7,374.1Z" stroke="#aaaaaa" stroke-width="3.6" stroke-opacity="0.23"/>
<path d="M659.1,298.7 L681.5,296.1 L682.3,290.3 L675.6,279.1 L665.8,277.5 L658.2,298.0Z" stroke="#acacac" stroke-width="2.5" stroke-opacity="0.33"/>
<path d="M766.1,390.3 L757.1,383.3 L759.8,367.5 L764.4,364.5 L771.4,365.8 L775.3,382.3Z" stroke="#8d8d8d" stroke-width="3.5" stroke-opacity="0.38"/>
<path d="M720.1,442.9 L731.9,452.0 L743.0,452.2 L746.2,449.2 L740.7,428.3 L720.6,441.3Z" stroke="#949494" stroke-width="7.1" stroke-opacity="0.21"/>
<path d="M620.8,411.4 L609.2,426.1 L604.1,425.2 L597.5,407.6 L601.0,404.2 L615.2,402.4 L620.7,406.8Z" stroke="#9f9f9f" stroke-width="3.4" stroke-opacity="0.34"/>
<path d="M727.2,244.8 L724.5,247.1 L712.2,247.4 L707.3,238.0 L721.2,220.7 L728.6,238.1Z" stroke="#bebebe" stroke-width="2.9" stroke-opacity="0.24"/>
<path d="M545.4,421.6 L530.1,411.8 L515.9,432.4 L537.5,430.7Z" stroke="#c2c2c2" stroke-width="5.0" stroke-opacity="0.38"/>
<path d="M582.3,315.4 L579.8,325.0 L569.3,327.0 L560.5,317.3 L564.6,306.7 L574.6,306.1Z" stroke="#b5b5b5" stroke-width="2.9" stroke-opacity="0.17"/>
<path d="M765.2,415.3 L759.2,406.8 L753.7,406.6 L741.1,424.5 L741.5,426.4 L759.8,430.5Z" stroke="#b1b1b1" stroke-width="1.6" stroke-opacity="0.20"/>
<path d="M732.4,399.6 L727.3,397.5 L711.0,404.2 L717.0,419.9 L729.7,415.5Z" stroke="#acacac" stroke-width="3.2" stroke-opacity="0.16"/>
<path d="M652.4,258.3 L641.5,271.4 L649.1,278.4 L664.2,276.0 L661.9,264.3Z" stroke="#b8b8b8" stroke-width="1.6" stroke-opacity="0.34"/>
<path d="M527.8,292.3 L542.6,301.3 L549.7,296.2 L542.0,275.6 L533.5,275.8Z" stroke="#a6a6a6" stroke-width="4.1" stroke-opacity="0.38"/>
<path d="M653.1,320.9 L653.0,323.2 L646.3,331.4 L644.7,331.6 L633.4,325.0 L632.8,309.7 L643.0,309.1Z" stroke="#9a9a9a" stroke-width="1.6" stroke-opacity="0.22"/>
<path d="M635.7,271.4 L630.1,282.4 L614.6,280.8 L614.6,270.2 L629.1,263.2Z" stroke="#9f9f9f" stroke-width="3.8" stroke-opacity="0.22"/>
<path d="M578.6,381.3 L561.3,371.5 L560.6,369.8 L567.9,360.7 L584.8,361.3 L580.0,381.2Z" stroke="#909090" stroke-width="4.4" stroke-opacity="0.17"/>
<path d="M686.3,446.0 L684.3,429.8 L676.7,426.8 L664.8,441.8 L672.0,448.1Z" stroke="#aaaaaa" stroke-width="2.1" stroke-opacity="0.31"/>
<path d="M715.6,377.2 L713.5,359.7 L700.7,355.3 L693.0,363.7 L694.7,374.7Z" stroke="#b1b1b1" stroke-width="4.1" stroke-opacity="0.18"/>
<path d="M706.4,292.2 L696.2,307.4 L689.0,306.6 L684.3,303.2 L681.5,296.1 L682.3,290.3 L699.5,283.4Z" stroke="#989898" stroke-width="3.2" stroke-opacity="0.25"/>
<path d="M716.6,420.5 L720.6,441.3 L720.1,442.9 L719.8,443.0 L704.3,441.4 L697.3,423.8Z" stroke="#aeaeae" stroke-width="4.8" stroke-opacity="0.23"/>
<path d="M580.9,426.0 L557.1,426.2 L558.4,441.1 L572.6,445.4 L582.8,429.6Z" stroke="#8b8b8b" stroke-width="6.2" stroke-opacity="0.39"/>
<path d="M561.9,339.3 L544.9,329.2 L545.3,320.7 L560.5,317.3 L569.3,327.0Z" stroke="#a1a1a1" stroke-width="2.4" stroke-opacity="0.39"/>
<path d="M787.3,398.1 L781.9,384.2 L775.3,382.3 L766.1,390.3 L766.2,397.2 L783.1,401.2Z" stroke="#bbbbbb" stroke-width="4.7" stroke-opacity="0.28"/>
<path d="M782.6,281.5 L796.4,286.2 L809.2,268.3 L788.5,267.1Z" stroke="#8f8f8f" stroke-width="6.0" stroke-opacity="0.18"/>
<path d="M576.0,273.0 L572.3,262.4 L565.1,260.2 L551.3,268.4 L564.5,282.1Z" stroke="#b0b0b0" stroke-width="2.3" stroke-opacity="0.17"/>
<path d="M686.6,336.0 L700.7,353.5 L700.7,355.3 L693.0,363.7 L675.9,357.0 L674.8,351.3Z" stroke="#b4b4b4" stroke-width="1.9" stroke-opacity="0.22"/>
<path d="M772.9,338.1 L782.4,346.8 L791.3,346.1 L798.6,338.3 L788.2,322.2 L775.4,327.1Z" stroke="#8e8e8e" stroke-width="5.1" stroke-opacity="0.33"/>
<path d="M621.4,374.9 L629.0,363.1 L636.7,362.6 L643.8,370.5 L643.7,378.4 L631.8,384.1 L623.1,381.7Z" stroke="#9c9c9c" stroke-width="2.1" stroke-opacity="0.23"/>
<path d="M745.3,324.0 L746.4,311.8 L762.3,305.6 L764.5,306.9 L766.2,317.4 L751.8,329.1Z" stroke="#9b9b9b" stroke-width="6.0" stroke-opacity="0.38"/>
<path d="M712.2,247.4 L705.9,255.8 L699.6,255.1 L692.6,241.0 L696.9,236.8 L707.3,238.0Z" stroke="#bbbbbb" stroke-width="3.7" stroke-opacity="0.33"/>
<path d="M735.6,346.9 L740.7,348.0 L745.4,366.4 L737.2,374.7 L730.9,373.3 L725.7,352.9 L726.7,350.9Z" stroke="#9a9a9a" stroke-width="5.5" stroke-opacity="0.29"/>
<path d="M629.3,298.1 L609.5,294.8 L608.9,295.9 L609.7,312.4 L613.8,314.7 L632.3,309.4Z" stroke="#a9a9a9" stroke-width="4.5" stroke-opacity="0.20"/>
<path d="M581.1,422.8 L569.6,408.0 L569.9,404.0 L582.7,400.9 L592.5,408.2Z" stroke="#b6b6b6" stroke-width="3.3" stroke-opacity="0.38"/>
<path d="M673.4,326.2 L670.4,313.6 L684.3,303.2 L689.0,306.6 L683.1,329.1Z" stroke="#bababa" stroke-width="4.7" stroke-opacity="0.16"/>
<path d="M630.9,424.6 L639.4,426.3 L642.3,429.2 L633.5,447.7 L617.2,439.2 L616.9,435.2Z" stroke="#9b9b9b" stroke-width="4.3" stroke-opacity="0.22"/>
<path d="M597.5,407.6 L592.5,408.2 L582.7,400.9 L585.2,384.6 L595.8,384.4 L601.0,404.2Z" stroke="#c1c1c1" stroke-width="4.3" stroke-opacity="0.23"/>
<path d="M569.6,408.0 L554.6,422.9 L549.7,420.6 L549.5,405.9 L562.2,396.4 L564.0,396.9 L569.9,404.0Z" stroke="#9e9e9e" stroke-width="3.1" stroke-opacity="0.36"/>
<path d="M649.9,249.7 L628.9,255.5 L624.9,250.3 L624.7,243.2 L634.4,231.2 L650.9,246.7Z" stroke="#aeaeae" stroke-width="3.4" stroke-opacity="0.30"/>
<path d="M567.9,360.7 L560.6,369.8 L555.4,367.8 L548.7,352.1 L562.6,343.2 L565.2,345.4Z" stroke="#bfbfbf" stroke-width="3.3" stroke-opacity="0.37"/>
<path d="M591.4,311.5 L582.3,315.4 L574.6,306.1 L579.7,294.2 L585.0,291.9 L592.6,298.5Z" stroke="#acacac" stroke-width="6.2" stroke-opacity="0.24"/>
<path d="M711.8,337.8 L700.7,353.5 L700.7,355.3 L713.5,359.7 L725.7,352.9 L726.7,350.9Z" stroke="#b2b2b2" stroke-width="2.9" stroke-opacity="0.30"/>
<path d="M739.7,279.1 L728.2,289.7 L733.8,303.1 L747.6,292.5 L745.4,282.3Z" stroke="#a5a5a5" stroke-width="2.7" stroke-opacity="0.24"/>
<path d="M606.1,255.9 L601.9,246.4 L610.1,235.5 L624.7,243.2 L624.9,250.3Z" stroke="#bcbcbc" stroke-width="5.0" stroke-opacity="0.37"/>
<path d="M541.1,441.8 L530.6,452.1 L533.4,458.4 L551.8,458.0 L554.1,445.0Z" stroke="#bebebe" stroke-width="1.8" stroke-opacity="0.32"/>
<path d="M752.8,334.0 L768.5,339.7 L760.9,353.1 L744.4,346.5Z" stroke="#9d9d9d" stroke-width="2.1" stroke-opacity="0.38"/>
<path d="M657.1,344.4 L652.7,350.6 L640.4,351.9 L636.1,344.7 L644.7,331.6 L646.3,331.4Z" stroke="#a4a4a4" stroke-width="4.2" stroke-opacity="0.36"/>
<path d="M750.2,240.5 L743.4,254.8 L727.2,244.8 L728.6,238.1 L745.6,235.7Z" stroke="#b3b3b3" stroke-width="4.2" stroke-opacity="0.22"/>
<path d="M653.1,320.9 L653.0,323.2 L667.4,329.3 L673.4,326.2 L670.4,313.6 L663.1,310.7Z" stroke="#969696" stroke-width="4.8" stroke-opacity="0.20"/></g>
<g fill="none" stroke-linejoin="round"><path d="M562.2,396.4 L549.5,405.9 L538.9,398.2 L546.6,387.4 L555.8,387.5Z" stroke="#cdcdcd" stroke-width="0.79" stroke-opacity="1.00"/>
<path d="M704.3,441.4 L692.6,450.7 L692.7,452.0 L708.8,469.1 L719.8,443.0Z" stroke="#c1c1c1" stroke-width="0.57" stroke-opacity="0.58"/>
<path d="M609.2,286.7 L591.1,276.5 L589.2,277.5 L585.0,291.9 L592.6,298.5 L608.9,295.9 L609.5,294.8Z" stroke="#b3b3b3" stroke-width="0.63" stroke-opacity="0.94"/>
<path d="M737.2,374.7 L730.9,373.3 L717.7,378.9 L717.6,381.6 L727.3,397.5 L732.4,399.6 L740.6,396.2 L743.1,387.2Z" stroke="#d9d9d9" stroke-width="0.57" stroke-opacity="0.78"/>
<path d="M615.2,402.4 L616.4,388.2 L599.4,381.4 L595.8,384.4 L601.0,404.2Z" stroke="#bdbdbd" stroke-width="0.50" stroke-opacity="0.83"/>
<path d="M620.8,411.4 L630.9,424.6 L639.4,426.3 L641.7,404.2 L634.9,402.1 L620.7,406.8Z" stroke="#d3d3d3" stroke-width="1.11" stroke-opacity="0.75"/>
<path d="M564.2,286.1 L555.6,295.9 L549.7,296.2 L542.0,275.6 L551.1,268.4 L551.3,268.4 L564.5,282.1Z" stroke="#dcdcdc" stroke-width="1.22" stroke-opacity="0.79"/>
<path d="M766.2,317.4 L775.4,327.1 L788.2,322.2 L790.9,316.7 L786.2,304.4 L779.8,301.3 L764.5,306.9Z" stroke="#c8c8c8" stroke-width="0.57" stroke-opacity="0.86"/>
<path d="M604.1,425.2 L592.8,433.3 L582.8,429.6 L580.9,426.0 L581.1,422.8 L592.5,408.2 L597.5,407.6Z" stroke="#aeaeae" stroke-width="1.03" stroke-opacity="0.57"/>
<path d="M700.7,276.7 L687.3,265.0 L699.6,255.1 L705.9,255.8 L713.4,268.9Z" stroke="#c5c5c5" stroke-width="1.22" stroke-opacity="0.79"/>
<path d="M665.4,382.1 L668.5,377.3 L690.9,381.2 L691.2,385.5 L683.1,398.9 L668.9,396.4Z" stroke="#cacaca" stroke-width="1.01" stroke-opacity="0.56"/>
<path d="M564.0,396.9 L562.2,396.4 L555.8,387.5 L561.3,371.5 L578.6,381.3Z" stroke="#a3a3a3" stroke-width="1.25" stroke-opacity="0.59"/>
<path d="M560.5,317.3 L564.6,306.7 L555.6,295.9 L549.7,296.2 L542.6,301.3 L539.8,313.4 L545.3,320.7Z" stroke="#cccccc" stroke-width="1.21" stroke-opacity="1.00"/>
<path d="M697.3,423.8 L697.1,423.7 L684.3,429.8 L686.3,446.0 L692.6,450.7 L704.3,441.4Z" stroke="#a2a2a2" stroke-width="0.48" stroke-opacity="0.68"/>
<path d="M718.0,269.9 L723.8,267.0 L724.5,247.1 L712.2,247.4 L705.9,255.8 L713.4,268.9Z" stroke="#a1a1a1" stroke-width="1.28" stroke-opacity="0.58"/>
<path d="M567.2,242.0 L561.6,244.6 L565.1,260.2 L572.3,262.4 L582.7,252.4 L583.1,247.5Z" stroke="#d0d0d0" stroke-width="1.01" stroke-opacity="0.85"/>
<path d="M764.4,364.5 L771.4,365.8 L775.7,363.6 L782.4,346.8 L772.9,338.1 L768.5,339.7 L760.9,353.1Z" stroke="#b4b4b4" stroke-width="1.18" stroke-opacity="0.72"/>
<path d="M583.8,344.5 L565.2,345.4 L562.6,343.2 L561.9,339.3 L569.3,327.0 L579.8,325.0 L586.2,332.4Z" stroke="#d4d4d4" stroke-width="1.04" stroke-opacity="0.57"/>
<path d="M649.9,249.7 L652.4,258.3 L661.9,264.3 L676.5,252.9 L676.2,248.6 L661.3,239.5 L650.9,246.7Z" stroke="#a6a6a6" stroke-width="1.12" stroke-opacity="0.71"/>
<path d="M750.2,240.5 L757.3,240.3 L763.6,246.6 L759.1,263.4 L744.7,259.7 L743.4,254.8Z" stroke="#a3a3a3" stroke-width="0.78" stroke-opacity="0.81"/>
<path d="M743.4,254.8 L744.7,259.7 L736.1,268.9 L723.8,267.0 L724.5,247.1 L727.2,244.8Z" stroke="#ababab" stroke-width="1.33" stroke-opacity="0.57"/>
<path d="M665.4,382.1 L668.9,396.4 L659.4,406.5 L648.0,402.2 L649.3,383.2Z" stroke="#cecece" stroke-width="0.75" stroke-opacity="0.63"/>
<path d="M686.9,333.5 L683.1,329.1 L673.4,326.2 L667.4,329.3 L663.1,343.6 L674.8,351.3 L686.6,336.0Z" stroke="#c5c5c5" stroke-width="0.57" stroke-opacity="0.65"/>
<path d="M663.1,343.6 L657.1,344.4 L646.3,331.4 L653.0,323.2 L667.4,329.3Z" stroke="#d6d6d6" stroke-width="0.95" stroke-opacity="1.00"/>
<path d="M686.0,264.9 L676.5,252.9 L676.2,248.6 L684.0,241.7 L692.6,241.0 L699.6,255.1 L687.3,265.0Z" stroke="#b4b4b4" stroke-width="0.68" stroke-opacity="0.69"/>
<path d="M658.2,298.0 L665.8,277.5 L664.2,276.0 L649.1,278.4 L646.9,290.6 L653.2,297.7Z" stroke="#adadad" stroke-width="0.93" stroke-opacity="0.65"/>
<path d="M777.8,443.7 L774.4,439.9 L764.3,438.9 L756.7,447.6 L765.6,465.4 L778.3,455.3Z" stroke="#bcbcbc" stroke-width="0.97" stroke-opacity="0.82"/>
<path d="M518.1,263.0 L537.3,249.0 L542.4,249.0 L551.1,268.4 L542.0,275.6 L533.5,275.8Z" stroke="#b3b3b3" stroke-width="1.40" stroke-opacity="0.71"/>
<path d="M717.7,378.9 L730.9,373.3 L725.7,352.9 L713.5,359.7 L715.6,377.2Z" stroke="#bebebe" stroke-width="1.28" stroke-opacity="0.98"/>
<path d="M609.3,368.3 L621.4,374.9 L629.0,363.1 L617.0,351.2 L614.3,351.4Z" stroke="#afafaf" stroke-width="1.03" stroke-opacity="0.85"/>
<path d="M779.5,283.1 L779.8,301.3 L786.2,304.4 L800.1,295.3 L796.4,286.2 L782.6,281.5Z" stroke="#c0c0c0" stroke-width="1.23" stroke-opacity="0.63"/>
<path d="M609.2,286.7 L591.1,276.5 L595.3,266.7 L604.4,261.7 L614.6,270.2 L614.6,280.8Z" stroke="#c3c3c3" stroke-width="0.69" stroke-opacity="0.63"/>
<path d="M711.5,335.6 L711.8,337.8 L700.7,353.5 L686.6,336.0 L686.9,333.5 L703.6,328.1Z" stroke="#ababab" stroke-width="0.68" stroke-opacity="0.77"/>
<path d="M591.4,311.5 L582.3,315.4 L579.8,325.0 L586.2,332.4 L598.4,330.6 L601.8,315.8Z" stroke="#d6d6d6" stroke-width="0.64" stroke-opacity="0.96"/>
<path d="M511.4,297.2 L530.0,314.9 L539.8,313.4 L542.6,301.3 L527.8,292.3Z" stroke="#a4a4a4" stroke-width="1.06" stroke-opacity="1.00"/>
<path d="M590.0,452.5 L595.8,442.0 L610.1,446.7 L610.5,456.9 L593.0,460.4Z" stroke="#a2a2a2" stroke-width="0.56" stroke-opacity="0.94"/>
<path d="M632.9,290.7 L630.1,282.4 L614.6,280.8 L609.2,286.7 L609.5,294.8 L629.3,298.1Z" stroke="#afafaf" stroke-width="1.31" stroke-opacity="0.75"/>
<path d="M579.7,294.2 L564.2,286.1 L564.5,282.1 L576.0,273.0 L589.2,277.5 L585.0,291.9Z" stroke="#c9c9c9" stroke-width="0.82" stroke-opacity="0.68"/>
<path d="M762.3,305.6 L759.3,298.6 L766.5,278.9 L779.5,283.1 L779.8,301.3 L764.5,306.9Z" stroke="#c0c0c0" stroke-width="0.60" stroke-opacity="0.94"/>
<path d="M588.8,358.4 L584.8,361.3 L580.0,381.2 L585.2,384.6 L595.8,384.4 L599.4,381.4 L601.8,371.7Z" stroke="#b5b5b5" stroke-width="1.20" stroke-opacity="0.83"/>
<path d="M745.3,324.0 L731.4,327.3 L728.6,325.4 L724.6,311.7 L733.7,303.9 L746.4,311.8Z" stroke="#cbcbcb" stroke-width="0.80" stroke-opacity="0.70"/>
<path d="M690.9,381.2 L694.7,374.7 L693.0,363.7 L675.9,357.0 L667.6,366.8 L668.5,377.3Z" stroke="#bdbdbd" stroke-width="0.56" stroke-opacity="0.85"/>
<path d="M787.3,398.1 L794.7,398.3 L796.1,399.7 L798.7,418.0 L791.9,422.3 L783.5,421.5 L780.3,417.8 L783.1,401.2Z" stroke="#d6d6d6" stroke-width="1.31" stroke-opacity="0.84"/>
<path d="M662.1,415.7 L650.7,429.8 L659.4,441.4 L664.8,441.8 L676.7,426.8 L672.9,420.1Z" stroke="#b7b7b7" stroke-width="0.84" stroke-opacity="0.86"/>
<path d="M632.8,309.7 L633.4,325.0 L624.5,330.6 L617.3,327.8 L613.8,314.7 L632.3,309.4Z" stroke="#d7d7d7" stroke-width="1.42" stroke-opacity="0.61"/>
<path d="M781.9,384.2 L793.5,376.2 L791.0,368.6 L775.7,363.6 L771.4,365.8 L775.3,382.3Z" stroke="#c5c5c5" stroke-width="1.05" stroke-opacity="0.62"/>
<path d="M659.1,298.7 L663.1,310.7 L653.1,320.9 L643.0,309.1 L653.2,297.7 L658.2,298.0Z" stroke="#b9b9b9" stroke-width="0.70" stroke-opacity="0.77"/>
<path d="M588.0,242.4 L601.9,246.4 L606.1,255.9 L604.4,261.7 L595.3,266.7 L582.7,252.4 L583.1,247.5Z" stroke="#d2d2d2" stroke-width="1.15" stroke-opacity="0.93"/>
<path d="M582.7,400.9 L585.2,384.6 L580.0,381.2 L578.6,381.3 L564.0,396.9 L569.9,404.0Z" stroke="#b3b3b3" stroke-width="0.78" stroke-opacity="0.89"/>
<path d="M652.7,350.6 L640.4,351.9 L636.7,362.6 L643.8,370.5 L656.3,363.3Z" stroke="#cfcfcf" stroke-width="0.72" stroke-opacity="0.93"/>
<path d="M649.9,249.7 L628.9,255.5 L629.1,263.2 L635.7,271.4 L641.5,271.4 L652.4,258.3Z" stroke="#adadad" stroke-width="0.82" stroke-opacity="0.60"/>
<path d="M582.7,252.4 L572.3,262.4 L576.0,273.0 L589.2,277.5 L591.1,276.5 L595.3,266.7Z" stroke="#aaaaaa" stroke-width="1.28" stroke-opacity="0.93"/>
<path d="M711.8,292.9 L720.7,286.9 L718.0,269.9 L713.4,268.9 L700.7,276.7 L699.5,283.4 L706.4,292.2Z" stroke="#d5d5d5" stroke-width="0.70" stroke-opacity="0.86"/>
<path d="M691.2,385.5 L705.6,395.4 L717.6,381.6 L717.7,378.9 L715.6,377.2 L694.7,374.7 L690.9,381.2Z" stroke="#d2d2d2" stroke-width="1.25" stroke-opacity="0.69"/>
<path d="M610.5,456.9 L611.9,458.6 L629.9,458.8 L634.3,450.5 L633.5,447.7 L617.2,439.2 L610.1,446.7Z" stroke="#d9d9d9" stroke-width="0.77" stroke-opacity="0.60"/>
<path d="M544.9,329.2 L535.3,339.7 L513.2,333.7 L530.0,314.9 L539.8,313.4 L545.3,320.7Z" stroke="#b0b0b0" stroke-width="0.91" stroke-opacity="0.77"/>
<path d="M589.8,354.6 L583.8,344.5 L586.2,332.4 L598.4,330.6 L606.0,336.5 L607.6,347.1Z" stroke="#d1d1d1" stroke-width="1.13" stroke-opacity="0.79"/>
<path d="M791.9,422.3 L797.8,440.0 L795.0,442.9 L777.8,443.7 L774.4,439.9 L783.5,421.5Z" stroke="#aeaeae" stroke-width="1.38" stroke-opacity="0.80"/>
<path d="M782.4,346.8 L775.7,363.6 L791.0,368.6 L797.8,359.3 L791.3,346.1Z" stroke="#c4c4c4" stroke-width="0.52" stroke-opacity="0.76"/>
<path d="M557.1,426.2 L558.4,441.1 L554.1,445.0 L541.1,441.8 L537.5,430.7 L545.4,421.6 L549.7,420.6 L554.6,422.9Z" stroke="#b2b2b2" stroke-width="1.12" stroke-opacity="0.58"/>
<path d="M780.3,417.8 L765.2,415.3 L759.8,430.5 L764.3,438.9 L774.4,439.9 L783.5,421.5Z" stroke="#bebebe" stroke-width="1.34" stroke-opacity="0.59"/>
<path d="M782.3,257.8 L798.7,246.4 L794.4,238.0 L778.6,238.3 L775.6,245.2Z" stroke="#dbdbdb" stroke-width="0.83" stroke-opacity="0.79"/>
<path d="M747.6,292.5 L759.3,298.6 L762.3,305.6 L746.4,311.8 L733.7,303.9 L733.8,303.1Z" stroke="#c8c8c8" stroke-width="1.19" stroke-opacity="0.71"/>
<path d="M659.4,406.5 L662.1,415.7 L650.7,429.8 L642.3,429.2 L639.4,426.3 L641.7,404.2 L648.0,402.2Z" stroke="#aeaeae" stroke-width="0.54" stroke-opacity="0.56"/>
<path d="M663.1,343.6 L657.1,344.4 L652.7,350.6 L656.3,363.3 L667.6,366.8 L675.9,357.0 L674.8,351.3Z" stroke="#ababab" stroke-width="1.20" stroke-opacity="0.90"/>
<path d="M633.4,325.0 L644.7,331.6 L636.1,344.7 L626.4,343.2 L624.5,330.6Z" stroke="#c0c0c0" stroke-width="0.54" stroke-opacity="0.64"/>
<path d="M719.8,443.0 L708.8,469.1 L716.5,504.6 L731.9,452.0 L720.1,442.9Z" stroke="#c3c3c3" stroke-width="1.27" stroke-opacity="0.95"/>
<path d="M642.3,429.2 L650.7,429.8 L659.4,441.4 L651.1,454.7 L634.3,450.5 L633.5,447.7Z" stroke="#c6c6c6" stroke-width="0.51" stroke-opacity="0.88"/>
<path d="M686.0,405.8 L694.1,410.4 L697.1,423.7 L684.3,429.8 L676.7,426.8 L672.9,420.1Z" stroke="#c5c5c5" stroke-width="0.54" stroke-opacity="0.98"/>
<path d="M649.3,383.2 L643.7,378.4 L631.8,384.1 L634.9,402.1 L641.7,404.2 L648.0,402.2Z" stroke="#b2b2b2" stroke-width="1.15" stroke-opacity="0.61"/>
<path d="M636.7,362.6 L629.0,363.1 L617.0,351.2 L626.4,343.2 L636.1,344.7 L640.4,351.9Z" stroke="#b0b0b0" stroke-width="0.89" stroke-opacity="0.57"/>
<path d="M716.6,420.5 L717.0,419.9 L711.0,404.2 L706.9,402.1 L694.1,410.4 L697.1,423.7 L697.3,423.8Z" stroke="#d0d0d0" stroke-width="0.71" stroke-opacity="0.94"/>
<path d="M641.5,271.4 L649.1,278.4 L646.9,290.6 L632.9,290.7 L630.1,282.4 L635.7,271.4Z" stroke="#c8c8c8" stroke-width="0.79" stroke-opacity="0.89"/>
<path d="M620.7,406.8 L634.9,402.1 L631.8,384.1 L623.1,381.7 L616.4,388.2 L615.2,402.4Z" stroke="#adadad" stroke-width="0.62" stroke-opacity="0.85"/>
<path d="M686.0,264.9 L676.5,252.9 L661.9,264.3 L664.2,276.0 L665.8,277.5 L675.6,279.1Z" stroke="#a5a5a5" stroke-width="0.76" stroke-opacity="0.73"/>
<path d="M581.1,422.8 L580.9,426.0 L557.1,426.2 L554.6,422.9 L569.6,408.0Z" stroke="#b7b7b7" stroke-width="1.17" stroke-opacity="0.72"/>
<path d="M601.8,315.8 L598.4,330.6 L606.0,336.5 L617.3,327.8 L613.8,314.7 L609.7,312.4Z" stroke="#bbbbbb" stroke-width="0.66" stroke-opacity="0.63"/>
<path d="M665.4,382.1 L668.5,377.3 L667.6,366.8 L656.3,363.3 L643.8,370.5 L643.7,378.4 L649.3,383.2Z" stroke="#bfbfbf" stroke-width="0.67" stroke-opacity="0.86"/>
<path d="M620.8,411.4 L630.9,424.6 L616.9,435.2 L609.2,426.1Z" stroke="#a9a9a9" stroke-width="0.89" stroke-opacity="0.91"/>
<path d="M762.8,267.8 L782.3,258.1 L788.5,267.1 L782.6,281.5 L779.5,283.1 L766.5,278.9 L763.3,274.6Z" stroke="#bcbcbc" stroke-width="1.42" stroke-opacity="0.88"/>
<path d="M745.3,324.0 L731.4,327.3 L735.6,346.9 L740.7,348.0 L744.4,346.5 L752.8,334.0 L751.8,329.1Z" stroke="#b5b5b5" stroke-width="1.33" stroke-opacity="0.72"/>
<path d="M753.7,406.6 L740.6,396.2 L732.4,399.6 L729.7,415.5 L741.1,424.5Z" stroke="#b0b0b0" stroke-width="1.03" stroke-opacity="0.69"/>
<path d="M745.4,282.3 L763.3,274.6 L766.5,278.9 L759.3,298.6 L747.6,292.5Z" stroke="#cdcdcd" stroke-width="0.49" stroke-opacity="0.66"/>
<path d="M699.5,283.4 L682.3,290.3 L675.6,279.1 L686.0,264.9 L687.3,265.0 L700.7,276.7Z" stroke="#c9c9c9" stroke-width="0.46" stroke-opacity="0.59"/>
<path d="M668.9,396.4 L683.1,398.9 L686.0,405.8 L672.9,420.1 L662.1,415.7 L659.4,406.5Z" stroke="#a2a2a2" stroke-width="0.67" stroke-opacity="0.97"/>
<path d="M535.0,355.9 L538.8,349.8 L548.7,352.1 L555.4,367.8 L537.5,372.8Z" stroke="#bbbbbb" stroke-width="1.27" stroke-opacity="0.65"/>
<path d="M582.8,429.6 L572.6,445.4 L574.3,449.2 L590.0,452.5 L595.8,442.0 L592.8,433.3Z" stroke="#bebebe" stroke-width="0.64" stroke-opacity="0.68"/>
<path d="M561.9,339.3 L562.6,343.2 L548.7,352.1 L538.8,349.8 L535.3,339.7 L544.9,329.2Z" stroke="#cfcfcf" stroke-width="1.28" stroke-opacity="0.64"/>
<path d="M536.7,374.1 L546.6,387.4 L538.9,398.2 L535.3,398.8 L526.7,386.6 L534.4,375.0Z" stroke="#cacaca" stroke-width="1.35" stroke-opacity="0.65"/>
<path d="M692.6,450.7 L686.3,446.0 L672.0,448.1 L668.6,483.7 L692.7,452.0Z" stroke="#dcdcdc" stroke-width="0.66" stroke-opacity="0.69"/>
<path d="M566.1,479.7 L551.8,458.0 L554.1,445.0 L558.4,441.1 L572.6,445.4 L574.3,449.2Z" stroke="#ababab" stroke-width="0.96" stroke-opacity="0.59"/>
<path d="M782.3,258.1 L782.3,257.8 L798.7,246.4 L830.3,260.4 L809.2,268.3 L788.5,267.1Z" stroke="#c0c0c0" stroke-width="1.12" stroke-opacity="0.59"/>
<path d="M711.8,292.9 L719.4,310.6 L705.4,315.9 L696.2,307.4 L706.4,292.2Z" stroke="#b8b8b8" stroke-width="1.16" stroke-opacity="0.64"/>
<path d="M751.8,329.1 L752.8,334.0 L768.5,339.7 L772.9,338.1 L775.4,327.1 L766.2,317.4Z" stroke="#a7a7a7" stroke-width="1.11" stroke-opacity="0.82"/>
<path d="M672.0,448.1 L664.8,441.8 L659.4,441.4 L651.1,454.7 L665.2,492.2 L668.6,483.7Z" stroke="#a3a3a3" stroke-width="0.83" stroke-opacity="0.84"/>
<path d="M537.5,430.7 L515.9,432.4 L506.5,437.2 L530.6,452.1 L541.1,441.8Z" stroke="#a5a5a5" stroke-width="1.11" stroke-opacity="0.75"/>
<path d="M795.0,442.9 L777.8,443.7 L778.3,455.3 L787.1,461.3 L796.5,456.0Z" stroke="#cccccc" stroke-width="0.69" stroke-opacity="0.95"/>
<path d="M643.0,309.1 L632.8,309.7 L632.3,309.4 L629.3,298.1 L632.9,290.7 L646.9,290.6 L653.2,297.7Z" stroke="#cfcfcf" stroke-width="1.38" stroke-opacity="0.80"/>
<path d="M711.8,292.9 L719.4,310.6 L724.6,311.7 L733.7,303.9 L733.8,303.1 L728.2,289.7 L720.7,286.9Z" stroke="#b0b0b0" stroke-width="1.15" stroke-opacity="0.84"/>
<path d="M728.6,325.4 L711.5,335.6 L711.8,337.8 L726.7,350.9 L735.6,346.9 L731.4,327.3Z" stroke="#ababab" stroke-width="1.00" stroke-opacity="0.98"/>
<path d="M741.1,424.5 L729.7,415.5 L717.0,419.9 L716.6,420.5 L720.6,441.3 L740.7,428.3 L741.5,426.4Z" stroke="#acacac" stroke-width="0.74" stroke-opacity="0.72"/>
<path d="M787.3,398.1 L794.7,398.3 L801.6,381.0 L793.5,376.2 L781.9,384.2Z" stroke="#c6c6c6" stroke-width="1.17" stroke-opacity="0.73"/>
<path d="M762.8,267.8 L759.1,263.4 L763.6,246.6 L775.6,245.2 L782.3,257.8 L782.3,258.1Z" stroke="#bebebe" stroke-width="0.72" stroke-opacity="0.69"/>
<path d="M745.4,366.4 L737.2,374.7 L743.1,387.2 L757.1,383.3 L759.8,367.5Z" stroke="#a7a7a7" stroke-width="0.52" stroke-opacity="0.76"/>
<path d="M765.6,465.4 L755.1,506.2 L743.0,452.2 L746.2,449.2 L756.7,447.6Z" stroke="#d1d1d1" stroke-width="1.39" stroke-opacity="0.71"/>
<path d="M659.1,298.7 L681.5,296.1 L684.3,303.2 L670.4,313.6 L663.1,310.7Z" stroke="#cdcdcd" stroke-width="1.38" stroke-opacity="0.83"/>
<path d="M549.5,405.9 L549.7,420.6 L545.4,421.6 L530.1,411.8 L529.0,407.3 L535.3,398.8 L538.9,398.2Z" stroke="#c0c0c0" stroke-width="1.09" stroke-opacity="0.72"/>
<path d="M705.4,315.9 L703.6,328.1 L686.9,333.5 L683.1,329.1 L689.0,306.6 L696.2,307.4Z" stroke="#a6a6a6" stroke-width="1.35" stroke-opacity="0.55"/>
<path d="M740.7,348.0 L745.4,366.4 L759.8,367.5 L764.4,364.5 L760.9,353.1 L744.4,346.5Z" stroke="#b1b1b1" stroke-width="1.37" stroke-opacity="0.61"/>
<path d="M609.2,426.1 L616.9,435.2 L617.2,439.2 L610.1,446.7 L595.8,442.0 L592.8,433.3 L604.1,425.2Z" stroke="#bababa" stroke-width="1.02" stroke-opacity="0.78"/>
<path d="M589.8,354.6 L607.6,347.1 L614.3,351.4 L609.3,368.3 L601.8,371.7 L588.8,358.4Z" stroke="#bfbfbf" stroke-width="1.09" stroke-opacity="0.99"/>
<path d="M766.2,397.2 L759.2,406.8 L753.7,406.6 L740.6,396.2 L743.1,387.2 L757.1,383.3 L766.1,390.3Z" stroke="#afafaf" stroke-width="0.96" stroke-opacity="0.70"/>
<path d="M591.4,311.5 L601.8,315.8 L609.7,312.4 L608.9,295.9 L592.6,298.5Z" stroke="#b7b7b7" stroke-width="1.32" stroke-opacity="0.70"/>
<path d="M500.9,360.3 L534.4,375.0 L536.7,374.1 L537.5,372.8 L535.0,355.9Z" stroke="#a2a2a2" stroke-width="0.53" stroke-opacity="0.96"/>
<path d="M759.8,430.5 L741.5,426.4 L740.7,428.3 L746.2,449.2 L756.7,447.6 L764.3,438.9Z" stroke="#cacaca" stroke-width="0.89" stroke-opacity="0.77"/>
<path d="M739.7,279.1 L736.1,268.9 L744.7,259.7 L759.1,263.4 L762.8,267.8 L763.3,274.6 L745.4,282.3Z" stroke="#a7a7a7" stroke-width="0.47" stroke-opacity="0.74"/>
<path d="M720.7,286.9 L728.2,289.7 L739.7,279.1 L736.1,268.9 L723.8,267.0 L718.0,269.9Z" stroke="#b0b0b0" stroke-width="1.08" stroke-opacity="0.65"/>
<path d="M561.6,244.6 L565.1,260.2 L551.3,268.4 L551.1,268.4 L542.4,249.0 L550.7,241.7Z" stroke="#a6a6a6" stroke-width="1.06" stroke-opacity="0.70"/>
<path d="M628.9,255.5 L624.9,250.3 L606.1,255.9 L604.4,261.7 L614.6,270.2 L629.1,263.2Z" stroke="#d7d7d7" stroke-width="1.20" stroke-opacity="0.72"/>
<path d="M691.2,385.5 L705.6,395.4 L706.9,402.1 L694.1,410.4 L686.0,405.8 L683.1,398.9Z" stroke="#b4b4b4" stroke-width="0.65" stroke-opacity="0.72"/>
<path d="M579.7,294.2 L564.2,286.1 L555.6,295.9 L564.6,306.7 L574.6,306.1Z" stroke="#cecece" stroke-width="0.91" stroke-opacity="0.95"/>
<path d="M609.3,368.3 L621.4,374.9 L623.1,381.7 L616.4,388.2 L599.4,381.4 L601.8,371.7Z" stroke="#c3c3c3" stroke-width="1.20" stroke-opacity="0.65"/>
<path d="M589.8,354.6 L583.8,344.5 L565.2,345.4 L567.9,360.7 L584.8,361.3 L588.8,358.4Z" stroke="#c4c4c4" stroke-width="0.69" stroke-opacity="0.74"/>
<path d="M607.6,347.1 L606.0,336.5 L617.3,327.8 L624.5,330.6 L626.4,343.2 L617.0,351.2 L614.3,351.4Z" stroke="#a7a7a7" stroke-width="1.35" stroke-opacity="0.70"/>
<path d="M717.6,381.6 L727.3,397.5 L711.0,404.2 L706.9,402.1 L705.6,395.4Z" stroke="#bfbfbf" stroke-width="1.06" stroke-opacity="0.85"/>
<path d="M763.6,246.6 L757.3,240.3 L770.5,214.9 L778.6,238.3 L775.6,245.2Z" stroke="#a8a8a8" stroke-width="0.96" stroke-opacity="0.58"/>
<path d="M728.6,325.4 L711.5,335.6 L703.6,328.1 L705.4,315.9 L719.4,310.6 L724.6,311.7Z" stroke="#d0d0d0" stroke-width="1.07" stroke-opacity="0.84"/>
<path d="M783.1,401.2 L780.3,417.8 L765.2,415.3 L759.2,406.8 L766.2,397.2Z" stroke="#c9c9c9" stroke-width="0.58" stroke-opacity="0.99"/>
<path d="M537.5,372.8 L555.4,367.8 L560.6,369.8 L561.3,371.5 L555.8,387.5 L546.6,387.4 L536.7,374.1Z" stroke="#c3c3c3" stroke-width="0.66" stroke-opacity="0.63"/>
<path d="M659.1,298.7 L681.5,296.1 L682.3,290.3 L675.6,279.1 L665.8,277.5 L658.2,298.0Z" stroke="#c5c5c5" stroke-width="0.77" stroke-opacity="0.80"/>
<path d="M766.1,390.3 L757.1,383.3 L759.8,367.5 L764.4,364.5 L771.4,365.8 L775.3,382.3Z" stroke="#a6a6a6" stroke-width="0.65" stroke-opacity="0.68"/>
<path d="M720.1,442.9 L731.9,452.0 L743.0,452.2 L746.2,449.2 L740.7,428.3 L720.6,441.3Z" stroke="#adadad" stroke-width="1.42" stroke-opacity="0.94"/>
<path d="M620.8,411.4 L609.2,426.1 L604.1,425.2 L597.5,407.6 L601.0,404.2 L615.2,402.4 L620.7,406.8Z" stroke="#b8b8b8" stroke-width="0.85" stroke-opacity="0.81"/>
<path d="M727.2,244.8 L724.5,247.1 L712.2,247.4 L707.3,238.0 L721.2,220.7 L728.6,238.1Z" stroke="#d7d7d7" stroke-width="0.58" stroke-opacity="0.66"/>
<path d="M545.4,421.6 L530.1,411.8 L515.9,432.4 L537.5,430.7Z" stroke="#dbdbdb" stroke-width="1.03" stroke-opacity="0.78"/>
<path d="M582.3,315.4 L579.8,325.0 L569.3,327.0 L560.5,317.3 L564.6,306.7 L574.6,306.1Z" stroke="#cecece" stroke-width="0.66" stroke-opacity="0.87"/>
<path d="M765.2,415.3 L759.2,406.8 L753.7,406.6 L741.1,424.5 L741.5,426.4 L759.8,430.5Z" stroke="#cacaca" stroke-width="0.46" stroke-opacity="0.60"/>
<path d="M732.4,399.6 L727.3,397.5 L711.0,404.2 L717.0,419.9 L729.7,415.5Z" stroke="#c5c5c5" stroke-width="1.02" stroke-opacity="0.76"/>
<path d="M652.4,258.3 L641.5,271.4 L649.1,278.4 L664.2,276.0 L661.9,264.3Z" stroke="#d1d1d1" stroke-width="0.47" stroke-opacity="0.61"/>
<path d="M527.8,292.3 L542.6,301.3 L549.7,296.2 L542.0,275.6 L533.5,275.8Z" stroke="#bfbfbf" stroke-width="1.22" stroke-opacity="0.55"/>
<path d="M653.1,320.9 L653.0,323.2 L646.3,331.4 L644.7,331.6 L633.4,325.0 L632.8,309.7 L643.0,309.1Z" stroke="#b3b3b3" stroke-width="0.51" stroke-opacity="0.55"/>
<path d="M635.7,271.4 L630.1,282.4 L614.6,280.8 L614.6,270.2 L629.1,263.2Z" stroke="#b8b8b8" stroke-width="1.11" stroke-opacity="0.81"/>
<path d="M578.6,381.3 L561.3,371.5 L560.6,369.8 L567.9,360.7 L584.8,361.3 L580.0,381.2Z" stroke="#a9a9a9" stroke-width="1.43" stroke-opacity="0.69"/>
<path d="M686.3,446.0 L684.3,429.8 L676.7,426.8 L664.8,441.8 L672.0,448.1Z" stroke="#c3c3c3" stroke-width="0.65" stroke-opacity="0.96"/>
<path d="M715.6,377.2 L713.5,359.7 L700.7,355.3 L693.0,363.7 L694.7,374.7Z" stroke="#cacaca" stroke-width="0.72" stroke-opacity="0.87"/>
<path d="M706.4,292.2 L696.2,307.4 L689.0,306.6 L684.3,303.2 L681.5,296.1 L682.3,290.3 L699.5,283.4Z" stroke="#b1b1b1" stroke-width="0.78" stroke-opacity="0.67"/>
<path d="M716.6,420.5 L720.6,441.3 L720.1,442.9 L719.8,443.0 L704.3,441.4 L697.3,423.8Z" stroke="#c7c7c7" stroke-width="0.86" stroke-opacity="0.61"/>
<path d="M580.9,426.0 L557.1,426.2 L558.4,441.1 L572.6,445.4 L582.8,429.6Z" stroke="#a4a4a4" stroke-width="1.08" stroke-opacity="0.83"/>
<path d="M561.9,339.3 L544.9,329.2 L545.3,320.7 L560.5,317.3 L569.3,327.0Z" stroke="#bababa" stroke-width="0.73" stroke-opacity="0.86"/>
<path d="M787.3,398.1 L781.9,384.2 L775.3,382.3 L766.1,390.3 L766.2,397.2 L783.1,401.2Z" stroke="#d4d4d4" stroke-width="0.86" stroke-opacity="0.84"/>
<path d="M782.6,281.5 L796.4,286.2 L809.2,268.3 L788.5,267.1Z" stroke="#a8a8a8" stroke-width="1.09" stroke-opacity="0.96"/>
<path d="M576.0,273.0 L572.3,262.4 L565.1,260.2 L551.3,268.4 L564.5,282.1Z" stroke="#c9c9c9" stroke-width="0.57" stroke-opacity="0.98"/>
<path d="M686.6,336.0 L700.7,353.5 L700.7,355.3 L693.0,363.7 L675.9,357.0 L674.8,351.3Z" stroke="#cdcdcd" stroke-width="0.56" stroke-opacity="0.94"/>
<path d="M772.9,338.1 L782.4,346.8 L791.3,346.1 L798.6,338.3 L788.2,322.2 L775.4,327.1Z" stroke="#a7a7a7" stroke-width="0.94" stroke-opacity="0.56"/>
<path d="M621.4,374.9 L629.0,363.1 L636.7,362.6 L643.8,370.5 L643.7,378.4 L631.8,384.1 L623.1,381.7Z" stroke="#b5b5b5" stroke-width="0.66" stroke-opacity="0.94"/>
<path d="M745.3,324.0 L746.4,311.8 L762.3,305.6 L764.5,306.9 L766.2,317.4 L751.8,329.1Z" stroke="#b4b4b4" stroke-width="1.01" stroke-opacity="0.67"/>
<path d="M712.2,247.4 L705.9,255.8 L699.6,255.1 L692.6,241.0 L696.9,236.8 L707.3,238.0Z" stroke="#d4d4d4" stroke-width="0.71" stroke-opacity="0.90"/>
<path d="M735.6,346.9 L740.7,348.0 L745.4,366.4 L737.2,374.7 L730.9,373.3 L725.7,352.9 L726.7,350.9Z" stroke="#b3b3b3" stroke-width="1.34" stroke-opacity="0.61"/>
<path d="M629.3,298.1 L609.5,294.8 L608.9,295.9 L609.7,312.4 L613.8,314.7 L632.3,309.4Z" stroke="#c2c2c2" stroke-width="1.11" stroke-opacity="0.70"/>
<path d="M581.1,422.8 L569.6,408.0 L569.9,404.0 L582.7,400.9 L592.5,408.2Z" stroke="#cfcfcf" stroke-width="0.61" stroke-opacity="0.85"/>
<path d="M673.4,326.2 L670.4,313.6 L684.3,303.2 L689.0,306.6 L683.1,329.1Z" stroke="#d3d3d3" stroke-width="0.84" stroke-opacity="0.56"/>
<path d="M630.9,424.6 L639.4,426.3 L642.3,429.2 L633.5,447.7 L617.2,439.2 L616.9,435.2Z" stroke="#b4b4b4" stroke-width="1.01" stroke-opacity="0.91"/>
<path d="M597.5,407.6 L592.5,408.2 L582.7,400.9 L585.2,384.6 L595.8,384.4 L601.0,404.2Z" stroke="#dadada" stroke-width="0.94" stroke-opacity="0.95"/>
<path d="M569.6,408.0 L554.6,422.9 L549.7,420.6 L549.5,405.9 L562.2,396.4 L564.0,396.9 L569.9,404.0Z" stroke="#b7b7b7" stroke-width="0.84" stroke-opacity="0.79"/>
<path d="M649.9,249.7 L628.9,255.5 L624.9,250.3 L624.7,243.2 L634.4,231.2 L650.9,246.7Z" stroke="#c7c7c7" stroke-width="0.85" stroke-opacity="0.72"/>
<path d="M567.9,360.7 L560.6,369.8 L555.4,367.8 L548.7,352.1 L562.6,343.2 L565.2,345.4Z" stroke="#d8d8d8" stroke-width="1.07" stroke-opacity="0.77"/>
<path d="M591.4,311.5 L582.3,315.4 L574.6,306.1 L579.7,294.2 L585.0,291.9 L592.6,298.5Z" stroke="#c5c5c5" stroke-width="1.12" stroke-opacity="0.75"/>
<path d="M711.8,337.8 L700.7,353.5 L700.7,355.3 L713.5,359.7 L725.7,352.9 L726.7,350.9Z" stroke="#cbcbcb" stroke-width="0.76" stroke-opacity="0.75"/>
<path d="M739.7,279.1 L728.2,289.7 L733.8,303.1 L747.6,292.5 L745.4,282.3Z" stroke="#bebebe" stroke-width="0.61" stroke-opacity="0.65"/>
<path d="M606.1,255.9 L601.9,246.4 L610.1,235.5 L624.7,243.2 L624.9,250.3Z" stroke="#d5d5d5" stroke-width="1.37" stroke-opacity="0.82"/>
<path d="M541.1,441.8 L530.6,452.1 L533.4,458.4 L551.8,458.0 L554.1,445.0Z" stroke="#d7d7d7" stroke-width="0.59" stroke-opacity="0.66"/>
<path d="M752.8,334.0 L768.5,339.7 L760.9,353.1 L744.4,346.5Z" stroke="#b6b6b6" stroke-width="0.52" stroke-opacity="0.92"/>
<path d="M657.1,344.4 L652.7,350.6 L640.4,351.9 L636.1,344.7 L644.7,331.6 L646.3,331.4Z" stroke="#bdbdbd" stroke-width="0.99" stroke-opacity="0.80"/>
<path d="M750.2,240.5 L743.4,254.8 L727.2,244.8 L728.6,238.1 L745.6,235.7Z" stroke="#cccccc" stroke-width="1.04" stroke-opacity="0.57"/>
<path d="M653.1,320.9 L653.0,323.2 L667.4,329.3 L673.4,326.2 L670.4,313.6 L663.1,310.7Z" stroke="#afafaf" stroke-width="1.02" stroke-opacity="0.56"/><path d="M701.9,451.4 Q703.6,455.1 709.0,457.6" stroke="#aeaeae" stroke-width="0.49" stroke-opacity="0.40"/>
<path d="M596.0,288.9 Q602.3,292.0 603.4,294.5" stroke="#949494" stroke-width="0.63" stroke-opacity="0.59"/>
<path d="M604.7,389.5 Q608.6,392.5 612.5,393.4" stroke="#ababab" stroke-width="0.68" stroke-opacity="0.35"/>
<path d="M607.3,394.1 Q611.1,393.9 610.5,396.9" stroke="#9a9a9a" stroke-width="0.87" stroke-opacity="0.59"/>
<path d="M776.3,310.5 Q771.4,311.5 768.9,311.5" stroke="#8c8c8c" stroke-width="0.68" stroke-opacity="0.50"/>
<path d="M702.5,261.4 Q699.6,261.6 700.5,265.8" stroke="#acacac" stroke-width="0.42" stroke-opacity="0.66"/>
<path d="M677.0,389.7 Q673.3,389.2 672.3,390.1" stroke="#a1a1a1" stroke-width="0.73" stroke-opacity="0.38"/>
<path d="M677.2,388.0 Q674.3,388.9 675.1,392.4" stroke="#9c9c9c" stroke-width="0.59" stroke-opacity="0.49"/>
<path d="M714.7,257.3 Q718.3,257.1 717.7,260.3" stroke="#a3a3a3" stroke-width="0.53" stroke-opacity="0.40"/>
<path d="M571.5,336.2 Q566.9,339.8 566.5,342.9" stroke="#9b9b9b" stroke-width="0.40" stroke-opacity="0.58"/>
<path d="M789.4,294.9 Q789.3,295.6 784.4,298.3" stroke="#b4b4b4" stroke-width="0.89" stroke-opacity="0.44"/>
<path d="M588.2,325.0 Q587.9,329.1 591.1,328.7" stroke="#afafaf" stroke-width="0.58" stroke-opacity="0.57"/>
<path d="M594.0,373.6 Q590.8,378.2 589.2,380.7" stroke="#979797" stroke-width="0.49" stroke-opacity="0.56"/>
<path d="M792.2,407.3 Q791.2,410.1 784.9,409.4" stroke="#bdbdbd" stroke-width="0.42" stroke-opacity="0.47"/>
<path d="M782.6,370.5 Q779.6,373.1 779.0,374.1" stroke="#ababab" stroke-width="0.46" stroke-opacity="0.36"/>
<path d="M782.1,372.4 Q780.3,375.8 778.8,377.2" stroke="#959595" stroke-width="0.50" stroke-opacity="0.30"/>
<path d="M582.1,269.4 Q582.2,274.9 584.2,275.9" stroke="#a7a7a7" stroke-width="0.89" stroke-opacity="0.45"/>
<path d="M707.9,379.4 Q711.2,382.1 710.7,384.9" stroke="#999999" stroke-width="0.50" stroke-opacity="0.57"/>
<path d="M531.5,323.3 Q536.5,328.0 538.0,330.4" stroke="#bababa" stroke-width="0.52" stroke-opacity="0.33"/>
<path d="M750.5,304.4 Q750.2,307.8 745.0,305.8" stroke="#989898" stroke-width="0.60" stroke-opacity="0.47"/>
<path d="M649.0,415.6 Q650.1,420.3 651.0,419.7" stroke="#aaaaaa" stroke-width="0.45" stroke-opacity="0.38"/>
<path d="M648.5,418.9 Q651.9,423.2 654.0,426.4" stroke="#b8b8b8" stroke-width="0.77" stroke-opacity="0.40"/>
<path d="M644.3,439.4 Q642.6,440.0 644.2,445.9" stroke="#a5a5a5" stroke-width="0.70" stroke-opacity="0.69"/>
<path d="M638.1,392.1 Q639.6,395.9 642.7,396.5" stroke="#969696" stroke-width="0.51" stroke-opacity="0.62"/>
<path d="M704.7,414.3 Q697.9,418.4 696.6,417.2" stroke="#a1a1a1" stroke-width="0.52" stroke-opacity="0.47"/>
<path d="M638.6,282.5 Q641.4,282.9 642.2,288.0" stroke="#adadad" stroke-width="0.86" stroke-opacity="0.48"/>
<path d="M636.1,283.9 Q640.3,286.2 645.2,284.5" stroke="#ababab" stroke-width="0.79" stroke-opacity="0.49"/>
<path d="M687.7,279.0 Q683.6,279.6 682.4,284.8" stroke="#bdbdbd" stroke-width="0.48" stroke-opacity="0.59"/>
<path d="M669.0,407.8 Q667.2,412.6 670.5,412.1" stroke="#959595" stroke-width="0.57" stroke-opacity="0.50"/>
<path d="M551.8,342.9 Q546.8,342.2 543.5,346.0" stroke="#a2a2a2" stroke-width="0.66" stroke-opacity="0.32"/>
<path d="M534.8,384.6 Q536.1,386.8 540.8,384.7" stroke="#999999" stroke-width="0.65" stroke-opacity="0.47"/>
<path d="M683.1,457.4 Q681.6,460.6 684.8,461.9" stroke="#ababab" stroke-width="0.60" stroke-opacity="0.66"/>
<path d="M559.5,456.0 Q556.4,459.6 551.0,457.9" stroke="#bdbdbd" stroke-width="0.58" stroke-opacity="0.31"/>
<path d="M565.8,454.0 Q563.3,457.3 558.6,456.9" stroke="#b8b8b8" stroke-width="0.79" stroke-opacity="0.67"/>
<path d="M635.6,301.0 Q632.4,304.6 631.6,304.1" stroke="#aeaeae" stroke-width="0.46" stroke-opacity="0.37"/>
<path d="M726.3,337.9 Q726.8,339.1 722.4,340.7" stroke="#8d8d8d" stroke-width="0.41" stroke-opacity="0.58"/>
<path d="M791.4,390.5 Q794.6,392.0 793.2,395.6" stroke="#ababab" stroke-width="0.64" stroke-opacity="0.36"/>
<path d="M749.6,359.1 Q746.8,364.9 744.5,366.9" stroke="#b1b1b1" stroke-width="0.66" stroke-opacity="0.68"/>
<path d="M755.4,397.9 Q759.3,397.2 763.2,399.3" stroke="#959595" stroke-width="0.69" stroke-opacity="0.45"/>
<path d="M599.4,303.8 Q596.7,305.3 591.8,307.1" stroke="#9f9f9f" stroke-width="0.86" stroke-opacity="0.41"/>
<path d="M525.4,366.7 Q531.1,370.3 533.0,371.8" stroke="#a4a4a4" stroke-width="0.78" stroke-opacity="0.55"/>
<path d="M618.7,257.6 Q615.1,260.0 615.0,264.9" stroke="#b8b8b8" stroke-width="0.60" stroke-opacity="0.67"/>
<path d="M615.3,263.0 Q610.2,264.8 608.7,268.6" stroke="#a1a1a1" stroke-width="0.74" stroke-opacity="0.59"/>
<path d="M612.8,379.7 Q610.2,380.9 606.9,379.9" stroke="#a3a3a3" stroke-width="0.43" stroke-opacity="0.48"/>
<path d="M575.3,315.8 Q575.6,318.0 576.8,322.6" stroke="#ababab" stroke-width="0.53" stroke-opacity="0.57"/>
<path d="M569.3,314.3 Q568.8,315.7 565.7,317.7" stroke="#989898" stroke-width="0.48" stroke-opacity="0.53"/>
<path d="M538.0,290.6 Q542.0,290.7 544.4,292.6" stroke="#989898" stroke-width="0.60" stroke-opacity="0.64"/>
<path d="M536.6,286.5 Q536.8,287.1 539.2,292.8" stroke="#b1b1b1" stroke-width="0.70" stroke-opacity="0.39"/>
<path d="M710.4,435.4 Q714.5,434.3 715.4,435.7" stroke="#9e9e9e" stroke-width="0.78" stroke-opacity="0.36"/>
<path d="M572.1,431.7 Q575.6,435.4 577.7,436.5" stroke="#9c9c9c" stroke-width="0.49" stroke-opacity="0.34"/>
<path d="M571.4,435.9 Q572.1,440.0 569.1,443.4" stroke="#a6a6a6" stroke-width="0.53" stroke-opacity="0.55"/>
<path d="M793.4,272.4 Q795.6,274.2 795.8,277.9" stroke="#979797" stroke-width="0.42" stroke-opacity="0.41"/>
<path d="M629.5,374.0 Q633.7,375.9 634.9,375.6" stroke="#8f8f8f" stroke-width="0.69" stroke-opacity="0.66"/>
<path d="M635.6,370.2 Q638.6,373.6 642.7,373.6" stroke="#b0b0b0" stroke-width="0.69" stroke-opacity="0.43"/>
<path d="M754.2,312.5 Q753.3,314.8 748.8,315.3" stroke="#bdbdbd" stroke-width="0.50" stroke-opacity="0.59"/>
<path d="M759.5,317.0 Q763.6,318.8 762.2,321.6" stroke="#9b9b9b" stroke-width="0.71" stroke-opacity="0.33"/>
<path d="M615.5,305.0 Q613.3,308.5 615.5,310.7" stroke="#aaaaaa" stroke-width="0.86" stroke-opacity="0.48"/>
<path d="M580.8,411.5 Q575.1,410.8 574.4,412.8" stroke="#9e9e9e" stroke-width="0.88" stroke-opacity="0.66"/>
<path d="M578.6,410.1 Q576.8,410.9 573.8,410.7" stroke="#b0b0b0" stroke-width="0.50" stroke-opacity="0.38"/></g>
</g>
<g filter="url(#ivmB)">
<defs></defs><g></g>
</g>
</g></g>
<defs><clipPath id="ivnc"><rect x="652.0" y="251.0" width="132.9" height="99.7"/></clipPath>
<radialGradient id="ivng0" cx="0.5" cy="0.5" r="0.62" fx="0.42" fy="0.58"><stop offset="0" stop-color="#333333"/><stop offset="0.45" stop-color="#3b3b3b"/><stop offset="0.8" stop-color="#686868"/><stop offset="1" stop-color="#7a7a7a"/></radialGradient><radialGradient id="ivng1" cx="0.5" cy="0.5" r="0.62" fx="0.6" fy="0.45"><stop offset="0" stop-color="#333333"/><stop offset="0.45" stop-color="#3b3b3b"/><stop offset="0.8" stop-color="#686868"/><stop offset="1" stop-color="#7a7a7a"/></radialGradient><radialGradient id="ivng2" cx="0.5" cy="0.5" r="0.62" fx="0.42" fy="0.58"><stop offset="0" stop-color="#3c3c3c"/><stop offset="0.45" stop-color="#444444"/><stop offset="0.8" stop-color="#686868"/><stop offset="1" stop-color="#7a7a7a"/></radialGradient><radialGradient id="ivng3" cx="0.5" cy="0.5" r="0.62" fx="0.6" fy="0.45"><stop offset="0" stop-color="#3c3c3c"/><stop offset="0.45" stop-color="#444444"/><stop offset="0.8" stop-color="#686868"/><stop offset="1" stop-color="#7a7a7a"/></radialGradient><radialGradient id="ivng4" cx="0.5" cy="0.5" r="0.62" fx="0.42" fy="0.58"><stop offset="0" stop-color="#464646"/><stop offset="0.45" stop-color="#4e4e4e"/><stop offset="0.8" stop-color="#686868"/><stop offset="1" stop-color="#7a7a7a"/></radialGradient><radialGradient id="ivng5" cx="0.5" cy="0.5" r="0.62" fx="0.6" fy="0.45"><stop offset="0" stop-color="#464646"/><stop offset="0.45" stop-color="#4e4e4e"/><stop offset="0.8" stop-color="#686868"/><stop offset="1" stop-color="#7a7a7a"/></radialGradient><radialGradient id="ivng6" cx="0.5" cy="0.5" r="0.62" fx="0.42" fy="0.58"><stop offset="0" stop-color="#505050"/><stop offset="0.45" stop-color="#585858"/><stop offset="0.8" stop-color="#686868"/><stop offset="1" stop-color="#7a7a7a"/></radialGradient><radialGradient id="ivng7" cx="0.5" cy="0.5" r="0.62" fx="0.6" fy="0.45"><stop offset="0" stop-color="#505050"/><stop offset="0.45" stop-color="#585858"/><stop offset="0.8" stop-color="#686868"/><stop offset="1" stop-color="#7a7a7a"/></radialGradient>
<filter id="ivnb" filterUnits="userSpaceOnUse" x="592" y="191" width="253" height="220"><feGaussianBlur stdDeviation="2.4"/></filter>
<filter id="ivnA" filterUnits="userSpaceOnUse" x="592" y="191" width="253" height="220" color-interpolation-filters="sRGB"><feTurbulence type="fractalNoise" baseFrequency="0.02" numOctaves="3" seed="24" result="n"/><feDisplacementMap in="SourceGraphic" in2="n" scale="30" xChannelSelector="R" yChannelSelector="G" result="d"/><feGaussianBlur in="d" stdDeviation="0.75"/></filter>
<filter id="ivnB" filterUnits="userSpaceOnUse" x="592" y="191" width="253" height="220" color-interpolation-filters="sRGB"><feTurbulence type="fractalNoise" baseFrequency="0.05" numOctaves="2" seed="31" result="n"/><feDisplacementMap in="SourceGraphic" in2="n" scale="9" xChannelSelector="R" yChannelSelector="G" result="d"/><feGaussianBlur in="d" stdDeviation="0.7"/></filter>
<filter id="ivnP" filterUnits="userSpaceOnUse" x="592" y="191" width="253" height="220" color-interpolation-filters="sRGB"><feTurbulence type="fractalNoise" baseFrequency="0.022" numOctaves="4" seed="114" result="m"/><feColorMatrix in="m" type="matrix" values="0 0 0 0 0  0 0 0 0 0  0 0 0 0 0  1 0 0 0 0" result="ma"/><feDiffuseLighting in="ma" surfaceScale="4" diffuseConstant="1" lighting-color="#fff" result="lit"><feDistantLight azimuth="200" elevation="42"/></feDiffuseLighting><feColorMatrix in="lit" type="matrix" values="1.0 0 0 0 -0.17  1.0 0 0 0 -0.17  1.0 0 0 0 -0.17  0 0 0 0 1" result="m2"/><feBlend in="m2" in2="SourceGraphic" mode="overlay" result="bm"/><feTurbulence type="fractalNoise" baseFrequency="0.5" numOctaves="2" seed="74" result="g"/><feColorMatrix in="g" type="matrix" values="0.18 0 0 0 0.410  0.18 0 0 0 0.410  0.18 0 0 0 0.410  0 0 0 0 1" result="g2"/><feBlend in="g2" in2="bm" mode="overlay"/></filter></defs>
<g clip-path="url(#ivnc)">
<rect x="652.0" y="251.0" width="132.9" height="99.7" fill="#6c6c6c"/>
<g filter="url(#ivnP)">
<rect x="592.0" y="191.0" width="252.9" height="219.7" fill="#6c6c6c"/>
<g filter="url(#ivnA)">
<path d="M788.1,351.2 L759.0,342.0 L744.2,347.1 L735.6,360.9 L736.0,365.6 L778.0,407.0 L794.8,365.1Z" fill="#707070"/>
<path d="M678.4,324.5 L643.3,311.8 L625.3,323.8 L623.2,335.7 L643.8,362.2 L680.1,343.5 L680.1,327.3Z" fill="#717171"/>
<path d="M693.2,431.0 L687.1,417.0 L685.3,349.5 L735.6,360.9 L736.0,365.6Z" fill="#6a6a6a"/>
<path d="M754.1,274.0 L791.7,265.9 L801.7,294.1 L797.7,303.1 L769.3,309.3 L749.0,289.1Z" fill="#696969"/>
<path d="M794.0,260.4 L820.9,247.0 L802.3,172.5 L771.9,223.4Z" fill="#616161"/>
<path d="M707.6,249.4 L703.7,240.9 L676.6,235.3 L656.9,251.1 L656.1,272.2 L683.7,285.8 L701.4,274.7Z" fill="#757575"/>
<path d="M754.1,274.0 L743.7,256.6 L707.6,249.4 L701.4,274.7 L728.7,299.8 L749.0,289.1Z" fill="#6b6b6b"/>
<path d="M640.4,283.3 L612.6,274.7 L580.1,288.5 L625.3,323.8 L643.3,311.8Z" fill="#727272"/>
<path d="M680.1,327.3 L680.1,343.5 L685.3,349.5 L735.6,360.9 L744.2,347.1 L724.9,313.2Z" fill="#636363"/>
<path d="M643.8,362.2 L623.2,335.7 L557.5,369.1 L627.9,381.4 L639.7,374.0Z" fill="#676767"/>
<path d="M754.1,274.0 L791.7,265.9 L794.0,260.4 L771.9,223.4 L760.1,227.1 L743.7,256.6Z" fill="#707070"/>
<path d="M685.3,349.5 L687.1,417.0 L639.7,374.0 L643.8,362.2 L680.1,343.5Z" fill="#666666"/>
<path d="M749.0,289.1 L769.3,309.3 L759.0,342.0 L744.2,347.1 L724.9,313.2 L728.7,299.8Z" fill="#6a6a6a"/>
<path d="M952.2,281.3 L820.9,247.0 L794.0,260.4 L791.7,265.9 L801.7,294.1Z" fill="#666666"/>
<path d="M656.9,251.1 L630.6,237.9 L648.0,172.4 L676.6,235.3Z" fill="#646464"/>
<path d="M678.4,324.5 L643.3,311.8 L640.4,283.3 L656.1,272.2 L683.7,285.8Z" fill="#737373"/>
<path d="M743.7,256.6 L760.1,227.1 L719.9,207.2 L703.7,240.9 L707.6,249.4Z" fill="url(#ivng2)"/>
<path d="M797.7,303.1 L769.3,309.3 L759.0,342.0 L788.1,351.2 L805.4,326.0Z" fill="#646464"/>
<path d="M728.7,299.8 L724.9,313.2 L680.1,327.3 L678.4,324.5 L683.7,285.8 L701.4,274.7Z" fill="#767676"/>
<path d="M656.9,251.1 L630.6,237.9 L622.6,241.4 L612.6,274.7 L640.4,283.3 L656.1,272.2Z" fill="#6c6c6c"/>
<g filter="url(#ivnb)"><path d="M778.3,352.8 L760.8,347.2 L751.9,350.3 L746.6,358.6 L746.9,361.4 L772.2,386.3 L782.3,361.1Z" fill="#767676" opacity="0.7"/>
<path d="M672.3,332.4 L650.4,324.5 L639.1,332.0 L637.8,339.5 L650.7,356.0 L673.4,344.4 L673.4,334.2Z" fill="#666666" opacity="0.7"/>
<path d="M700.5,410.1 L696.4,400.7 L695.2,355.2 L729.1,362.9 L729.3,366.1Z" fill="#6b6b6b" opacity="0.7"/>
<path d="M763.8,285.3 L786.0,280.5 L791.9,297.1 L789.6,302.4 L772.8,306.1 L760.8,294.2Z" fill="#656565" opacity="0.7"/>
<path d="M792.3,254.9 L811.1,245.5 L798.1,193.4 L776.8,229.0Z" fill="#5e5e5e" opacity="0.7"/>
<path d="M706.0,255.8 L703.0,249.3 L682.2,245.0 L667.1,257.1 L666.5,273.2 L687.6,283.7 L701.2,275.1Z" fill="#808080" opacity="0.7"/>
<path d="M754.1,272.6 L746.3,259.6 L719.3,254.2 L714.7,273.1 L735.1,291.8 L750.3,283.9Z" fill="#676767" opacity="0.7"/>
<path d="M635.0,286.5 L617.4,281.1 L596.9,289.8 L625.4,312.1 L636.8,304.6Z" fill="#777777" opacity="0.7"/>
<path d="M689.8,331.8 L689.8,343.3 L693.5,347.6 L729.3,355.7 L735.5,345.9 L721.7,321.7Z" fill="#656565" opacity="0.7"/>
<path d="M633.0,357.2 L617.8,337.6 L569.1,362.4 L621.2,371.5 L629.9,366.0Z" fill="#727272" opacity="0.7"/>
<path d="M755.9,262.6 L775.7,258.3 L776.9,255.4 L765.3,235.9 L759.1,237.8 L750.4,253.4Z" fill="#6f6f6f" opacity="0.7"/>
<path d="M680.3,359.5 L681.4,401.7 L651.8,374.8 L654.3,367.4 L677.1,355.7Z" fill="#5c5c5c" opacity="0.7"/>
<path d="M751.6,290.9 L766.1,305.4 L758.8,328.7 L748.2,332.4 L734.4,308.1 L737.1,298.5Z" fill="#5f5f5f" opacity="0.7"/>
<path d="M926.6,277.7 L827.5,251.8 L807.2,261.9 L805.5,266.1 L813.0,287.4Z" fill="#5b5b5b" opacity="0.7"/>
<path d="M651.1,238.7 L634.3,230.3 L645.4,188.5 L663.7,228.6Z" fill="#6a6a6a" opacity="0.7"/>
<path d="M677.4,320.1 L653.2,311.4 L651.2,291.8 L662.0,284.1 L681.0,293.5Z" fill="#757575" opacity="0.7"/>
<path d="M795.7,311.7 L776.7,315.9 L769.8,337.8 L789.3,344.0 L800.9,327.1Z" fill="#646464" opacity="0.7"/>
<path d="M721.8,305.7 L719.0,315.7 L685.8,326.2 L684.5,324.0 L688.4,295.4 L701.5,287.1Z" fill="#7b7b7b" opacity="0.7"/>
<path d="M646.4,257.9 L628.4,248.9 L622.9,251.3 L616.1,274.1 L635.1,280.0 L645.9,272.4Z" fill="#606060" opacity="0.7"/></g>
<g fill="none" stroke-linejoin="round" filter="url(#ivnb)"><path d="M788.1,351.2 L759.0,342.0 L744.2,347.1 L735.6,360.9 L736.0,365.6 L778.0,407.0 L794.8,365.1Z" stroke="#999999" stroke-width="4.1" stroke-opacity="0.27"/>
<path d="M678.4,324.5 L643.3,311.8 L625.3,323.8 L623.2,335.7 L643.8,362.2 L680.1,343.5 L680.1,327.3Z" stroke="#969696" stroke-width="3.8" stroke-opacity="0.37"/>
<path d="M693.2,431.0 L687.1,417.0 L685.3,349.5 L735.6,360.9 L736.0,365.6Z" stroke="#afafaf" stroke-width="6.4" stroke-opacity="0.27"/>
<path d="M754.1,274.0 L791.7,265.9 L801.7,294.1 L797.7,303.1 L769.3,309.3 L749.0,289.1Z" stroke="#909090" stroke-width="8.3" stroke-opacity="0.25"/>
<path d="M794.0,260.4 L820.9,247.0 L802.3,172.5 L771.9,223.4Z" stroke="#939393" stroke-width="8.5" stroke-opacity="0.38"/>
<path d="M707.6,249.4 L703.7,240.9 L676.6,235.3 L656.9,251.1 L656.1,272.2 L683.7,285.8 L701.4,274.7Z" stroke="#909090" stroke-width="6.3" stroke-opacity="0.38"/>
<path d="M754.1,274.0 L743.7,256.6 L707.6,249.4 L701.4,274.7 L728.7,299.8 L749.0,289.1Z" stroke="#969696" stroke-width="5.5" stroke-opacity="0.23"/>
<path d="M640.4,283.3 L612.6,274.7 L580.1,288.5 L625.3,323.8 L643.3,311.8Z" stroke="#bababa" stroke-width="7.1" stroke-opacity="0.40"/>
<path d="M680.1,327.3 L680.1,343.5 L685.3,349.5 L735.6,360.9 L744.2,347.1 L724.9,313.2Z" stroke="#c0c0c0" stroke-width="5.7" stroke-opacity="0.31"/>
<path d="M643.8,362.2 L623.2,335.7 L557.5,369.1 L627.9,381.4 L639.7,374.0Z" stroke="#8f8f8f" stroke-width="6.1" stroke-opacity="0.15"/>
<path d="M754.1,274.0 L791.7,265.9 L794.0,260.4 L771.9,223.4 L760.1,227.1 L743.7,256.6Z" stroke="#8e8e8e" stroke-width="7.2" stroke-opacity="0.27"/>
<path d="M685.3,349.5 L687.1,417.0 L639.7,374.0 L643.8,362.2 L680.1,343.5Z" stroke="#999999" stroke-width="5.0" stroke-opacity="0.35"/>
<path d="M749.0,289.1 L769.3,309.3 L759.0,342.0 L744.2,347.1 L724.9,313.2 L728.7,299.8Z" stroke="#898989" stroke-width="7.0" stroke-opacity="0.37"/>
<path d="M952.2,281.3 L820.9,247.0 L794.0,260.4 L791.7,265.9 L801.7,294.1Z" stroke="#c0c0c0" stroke-width="5.3" stroke-opacity="0.16"/>
<path d="M656.9,251.1 L630.6,237.9 L648.0,172.4 L676.6,235.3Z" stroke="#b6b6b6" stroke-width="3.4" stroke-opacity="0.33"/>
<path d="M678.4,324.5 L643.3,311.8 L640.4,283.3 L656.1,272.2 L683.7,285.8Z" stroke="#9f9f9f" stroke-width="4.5" stroke-opacity="0.16"/>
<path d="M743.7,256.6 L760.1,227.1 L719.9,207.2 L703.7,240.9 L707.6,249.4Z" stroke="#b3b3b3" stroke-width="5.6" stroke-opacity="0.33"/>
<path d="M797.7,303.1 L769.3,309.3 L759.0,342.0 L788.1,351.2 L805.4,326.0Z" stroke="#878787" stroke-width="3.3" stroke-opacity="0.36"/>
<path d="M728.7,299.8 L724.9,313.2 L680.1,327.3 L678.4,324.5 L683.7,285.8 L701.4,274.7Z" stroke="#9c9c9c" stroke-width="3.4" stroke-opacity="0.34"/>
<path d="M656.9,251.1 L630.6,237.9 L622.6,241.4 L612.6,274.7 L640.4,283.3 L656.1,272.2Z" stroke="#bdbdbd" stroke-width="9.7" stroke-opacity="0.26"/></g>
<g fill="none" stroke-linejoin="round"><path d="M788.1,351.2 L759.0,342.0 L744.2,347.1 L735.6,360.9 L736.0,365.6 L778.0,407.0 L794.8,365.1Z" stroke="#b2b2b2" stroke-width="1.21" stroke-opacity="0.79"/>
<path d="M678.4,324.5 L643.3,311.8 L625.3,323.8 L623.2,335.7 L643.8,362.2 L680.1,343.5 L680.1,327.3Z" stroke="#afafaf" stroke-width="0.83" stroke-opacity="0.77"/>
<path d="M693.2,431.0 L687.1,417.0 L685.3,349.5 L735.6,360.9 L736.0,365.6Z" stroke="#c8c8c8" stroke-width="1.77" stroke-opacity="0.93"/>
<path d="M754.1,274.0 L791.7,265.9 L801.7,294.1 L797.7,303.1 L769.3,309.3 L749.0,289.1Z" stroke="#a9a9a9" stroke-width="1.89" stroke-opacity="0.84"/>
<path d="M794.0,260.4 L820.9,247.0 L802.3,172.5 L771.9,223.4Z" stroke="#acacac" stroke-width="1.56" stroke-opacity="0.81"/>
<path d="M707.6,249.4 L703.7,240.9 L676.6,235.3 L656.9,251.1 L656.1,272.2 L683.7,285.8 L701.4,274.7Z" stroke="#a9a9a9" stroke-width="1.59" stroke-opacity="0.84"/>
<path d="M754.1,274.0 L743.7,256.6 L707.6,249.4 L701.4,274.7 L728.7,299.8 L749.0,289.1Z" stroke="#afafaf" stroke-width="1.61" stroke-opacity="0.56"/>
<path d="M640.4,283.3 L612.6,274.7 L580.1,288.5 L625.3,323.8 L643.3,311.8Z" stroke="#d3d3d3" stroke-width="1.21" stroke-opacity="0.61"/>
<path d="M680.1,327.3 L680.1,343.5 L685.3,349.5 L735.6,360.9 L744.2,347.1 L724.9,313.2Z" stroke="#d9d9d9" stroke-width="1.74" stroke-opacity="0.61"/>
<path d="M643.8,362.2 L623.2,335.7 L557.5,369.1 L627.9,381.4 L639.7,374.0Z" stroke="#a8a8a8" stroke-width="1.65" stroke-opacity="0.73"/>
<path d="M754.1,274.0 L791.7,265.9 L794.0,260.4 L771.9,223.4 L760.1,227.1 L743.7,256.6Z" stroke="#a7a7a7" stroke-width="1.80" stroke-opacity="0.56"/>
<path d="M685.3,349.5 L687.1,417.0 L639.7,374.0 L643.8,362.2 L680.1,343.5Z" stroke="#b2b2b2" stroke-width="1.01" stroke-opacity="0.83"/>
<path d="M749.0,289.1 L769.3,309.3 L759.0,342.0 L744.2,347.1 L724.9,313.2 L728.7,299.8Z" stroke="#a2a2a2" stroke-width="2.04" stroke-opacity="0.55"/>
<path d="M952.2,281.3 L820.9,247.0 L794.0,260.4 L791.7,265.9 L801.7,294.1Z" stroke="#d9d9d9" stroke-width="1.00" stroke-opacity="0.92"/>
<path d="M656.9,251.1 L630.6,237.9 L648.0,172.4 L676.6,235.3Z" stroke="#cfcfcf" stroke-width="0.83" stroke-opacity="0.60"/>
<path d="M678.4,324.5 L643.3,311.8 L640.4,283.3 L656.1,272.2 L683.7,285.8Z" stroke="#b8b8b8" stroke-width="0.91" stroke-opacity="0.74"/>
<path d="M743.7,256.6 L760.1,227.1 L719.9,207.2 L703.7,240.9 L707.6,249.4Z" stroke="#cccccc" stroke-width="1.08" stroke-opacity="0.79"/>
<path d="M797.7,303.1 L769.3,309.3 L759.0,342.0 L788.1,351.2 L805.4,326.0Z" stroke="#a0a0a0" stroke-width="1.04" stroke-opacity="0.93"/>
<path d="M728.7,299.8 L724.9,313.2 L680.1,327.3 L678.4,324.5 L683.7,285.8 L701.4,274.7Z" stroke="#b5b5b5" stroke-width="1.11" stroke-opacity="0.94"/>
<path d="M656.9,251.1 L630.6,237.9 L622.6,241.4 L612.6,274.7 L640.4,283.3 L656.1,272.2Z" stroke="#d6d6d6" stroke-width="1.74" stroke-opacity="0.76"/><path d="M770.4,363.9 Q766.5,375.8 762.8,385.0" stroke="#b0b0b0" stroke-width="0.64" stroke-opacity="0.41"/>
<path d="M756.3,358.1 Q770.5,362.1 773.3,367.5" stroke="#bebebe" stroke-width="0.59" stroke-opacity="0.56"/>
<path d="M660.0,325.3 Q654.2,330.6 646.4,340.0" stroke="#919191" stroke-width="0.41" stroke-opacity="0.43"/>
<path d="M700.7,389.4 Q705.9,388.4 713.4,395.2" stroke="#aeaeae" stroke-width="0.68" stroke-opacity="0.67"/>
<path d="M710.9,382.4 Q713.9,392.8 712.5,396.5" stroke="#9b9b9b" stroke-width="0.49" stroke-opacity="0.56"/>
<path d="M785.7,282.0 Q793.5,292.7 792.2,296.6" stroke="#b4b4b4" stroke-width="0.74" stroke-opacity="0.66"/>
<path d="M797.3,224.8 Q802.4,232.7 803.0,237.9" stroke="#bbbbbb" stroke-width="0.60" stroke-opacity="0.41"/>
<path d="M692.1,255.7 Q690.8,254.3 683.7,262.0" stroke="#b0b0b0" stroke-width="0.50" stroke-opacity="0.54"/>
<path d="M691.0,251.7 Q704.8,260.5 711.6,263.4" stroke="#a1a1a1" stroke-width="0.77" stroke-opacity="0.69"/>
<path d="M612.8,302.4 Q615.7,308.5 623.4,312.3" stroke="#b3b3b3" stroke-width="0.47" stroke-opacity="0.62"/>
<path d="M621.4,290.8 Q616.3,287.9 609.0,298.2" stroke="#989898" stroke-width="0.73" stroke-opacity="0.56"/>
<path d="M712.0,331.8 Q705.4,336.3 702.5,341.1" stroke="#a4a4a4" stroke-width="0.62" stroke-opacity="0.50"/>
<path d="M706.3,348.7 Q695.6,347.2 692.3,350.4" stroke="#8c8c8c" stroke-width="0.78" stroke-opacity="0.66"/>
<path d="M614.0,359.8 Q623.7,357.0 632.4,364.0" stroke="#afafaf" stroke-width="0.59" stroke-opacity="0.44"/>
<path d="M622.3,365.6 Q629.4,373.2 634.4,374.6" stroke="#a9a9a9" stroke-width="0.42" stroke-opacity="0.47"/>
<path d="M666.8,362.5 Q673.2,369.8 669.9,375.4" stroke="#afafaf" stroke-width="0.84" stroke-opacity="0.49"/>
<path d="M665.4,370.2 Q661.0,378.8 655.4,374.5" stroke="#a5a5a5" stroke-width="0.46" stroke-opacity="0.69"/>
<path d="M745.8,317.9 Q752.5,331.0 760.3,330.7" stroke="#a9a9a9" stroke-width="0.86" stroke-opacity="0.65"/>
<path d="M830.6,265.8 Q823.5,277.0 816.0,282.6" stroke="#bdbdbd" stroke-width="0.55" stroke-opacity="0.60"/>
<path d="M654.6,291.9 Q653.0,298.9 661.7,302.0" stroke="#969696" stroke-width="0.44" stroke-opacity="0.55"/>
<path d="M663.9,290.2 Q651.8,299.3 651.8,299.8" stroke="#9b9b9b" stroke-width="0.77" stroke-opacity="0.48"/>
<path d="M699.0,301.1 Q704.0,296.6 710.1,302.3" stroke="#929292" stroke-width="0.80" stroke-opacity="0.51"/>
<path d="M691.9,311.2 Q693.7,328.2 683.2,332.4" stroke="#a2a2a2" stroke-width="0.70" stroke-opacity="0.36"/>
<path d="M641.1,252.4 Q650.0,251.7 658.6,257.6" stroke="#969696" stroke-width="0.83" stroke-opacity="0.66"/></g>
</g>
<g filter="url(#ivnB)">
<defs><radialGradient id="ivne0" cx="0.5" cy="0.5" r="0.5"><stop offset="0" stop-color="#909090"/><stop offset="0.65" stop-color="#8c8c8c" stop-opacity="0.92"/><stop offset="1" stop-color="#8c8c8c" stop-opacity="0"/></radialGradient><radialGradient id="ivne1" cx="0.5" cy="0.5" r="0.5"><stop offset="0" stop-color="#909090"/><stop offset="0.65" stop-color="#8c8c8c" stop-opacity="0.92"/><stop offset="1" stop-color="#8c8c8c" stop-opacity="0"/></radialGradient><radialGradient id="ivne2" cx="0.5" cy="0.5" r="0.5"><stop offset="0" stop-color="#818181"/><stop offset="0.65" stop-color="#7d7d7d" stop-opacity="0.92"/><stop offset="1" stop-color="#7d7d7d" stop-opacity="0"/></radialGradient><radialGradient id="ivne3" cx="0.5" cy="0.5" r="0.5"><stop offset="0" stop-color="#868686"/><stop offset="0.65" stop-color="#828282" stop-opacity="0.92"/><stop offset="1" stop-color="#828282" stop-opacity="0"/></radialGradient><radialGradient id="ivne4" cx="0.5" cy="0.5" r="0.5" fx="0.58" fy="0.6"><stop offset="0" stop-color="#323232"/><stop offset="0.7" stop-color="#3c3c3c"/><stop offset="0.86" stop-color="#474747"/><stop offset="0.95" stop-color="#5f5f5f"/><stop offset="1" stop-color="#808080" stop-opacity="0.6"/></radialGradient><radialGradient id="ivne5" cx="0.5" cy="0.5" r="0.5" fx="0.58" fy="0.6"><stop offset="0" stop-color="#282828"/><stop offset="0.7" stop-color="#323232"/><stop offset="0.86" stop-color="#3d3d3d"/><stop offset="0.95" stop-color="#555555"/><stop offset="1" stop-color="#808080" stop-opacity="0.6"/></radialGradient><radialGradient id="ivne6" cx="0.5" cy="0.5" r="0.5" fx="0.42" fy="0.6"><stop offset="0" stop-color="#323232"/><stop offset="0.7" stop-color="#3c3c3c"/><stop offset="0.86" stop-color="#474747"/><stop offset="0.95" stop-color="#5f5f5f"/><stop offset="1" stop-color="#808080" stop-opacity="0.6"/></radialGradient><radialGradient id="ivne7" cx="0.5" cy="0.5" r="0.5" fx="0.58" fy="0.45"><stop offset="0" stop-color="#1f1f1f"/><stop offset="0.7" stop-color="#292929"/><stop offset="0.86" stop-color="#343434"/><stop offset="0.95" stop-color="#4c4c4c"/><stop offset="1" stop-color="#808080" stop-opacity="0.6"/></radialGradient><radialGradient id="ivne8" cx="0.5" cy="0.5" r="0.5" fx="0.58" fy="0.45"><stop offset="0" stop-color="#232323"/><stop offset="0.7" stop-color="#2d2d2d"/><stop offset="0.86" stop-color="#383838"/><stop offset="0.95" stop-color="#505050"/><stop offset="1" stop-color="#808080" stop-opacity="0.6"/></radialGradient><radialGradient id="ivne9" cx="0.5" cy="0.5" r="0.5" fx="0.42" fy="0.45"><stop offset="0" stop-color="#2d2d2d"/><stop offset="0.7" stop-color="#373737"/><stop offset="0.86" stop-color="#424242"/><stop offset="0.95" stop-color="#5a5a5a"/><stop offset="1" stop-color="#808080" stop-opacity="0.6"/></radialGradient><radialGradient id="ivne10" cx="0.5" cy="0.5" r="0.5" fx="0.58" fy="0.6"><stop offset="0" stop-color="#282828"/><stop offset="0.7" stop-color="#323232"/><stop offset="0.86" stop-color="#3d3d3d"/><stop offset="0.95" stop-color="#555555"/><stop offset="1" stop-color="#808080" stop-opacity="0.6"/></radialGradient><radialGradient id="ivne11" cx="0.5" cy="0.5" r="0.5" fx="0.42" fy="0.45"><stop offset="0" stop-color="#2d2d2d"/><stop offset="0.7" stop-color="#373737"/><stop offset="0.86" stop-color="#424242"/><stop offset="0.95" stop-color="#5a5a5a"/><stop offset="1" stop-color="#808080" stop-opacity="0.6"/></radialGradient><radialGradient id="ivne12" cx="0.5" cy="0.5" r="0.5" fx="0.58" fy="0.6"><stop offset="0" stop-color="#232323"/><stop offset="0.7" stop-color="#2d2d2d"/><stop offset="0.86" stop-color="#383838"/><stop offset="0.95" stop-color="#505050"/><stop offset="1" stop-color="#808080" stop-opacity="0.6"/></radialGradient><radialGradient id="ivne13" cx="0.5" cy="0.5" r="0.5" fx="0.58" fy="0.6"><stop offset="0" stop-color="#282828"/><stop offset="0.7" stop-color="#323232"/><stop offset="0.86" stop-color="#3d3d3d"/><stop offset="0.95" stop-color="#555555"/><stop offset="1" stop-color="#808080" stop-opacity="0.6"/></radialGradient><radialGradient id="ivne14" cx="0.5" cy="0.5" r="0.5" fx="0.42" fy="0.6"><stop offset="0" stop-color="#323232"/><stop offset="0.7" stop-color="#3c3c3c"/><stop offset="0.86" stop-color="#474747"/><stop offset="0.95" stop-color="#5f5f5f"/><stop offset="1" stop-color="#808080" stop-opacity="0.6"/></radialGradient></defs><ellipse cx="715.8" cy="321.5" rx="18.0" ry="30.0" transform="rotate(10 715.8 321.5)" fill="url(#ivne0)"/>
<ellipse cx="749.4" cy="318.2" rx="18.0" ry="20.4" transform="rotate(0 749.4 318.2)" fill="url(#ivne1)"/>
<ellipse cx="667.0" cy="284.6" rx="13.2" ry="18.0" transform="rotate(0 667.0 284.6)" fill="url(#ivne2)"/>
<ellipse cx="742.7" cy="293.0" rx="10.2" ry="12.0" transform="rotate(0 742.7 293.0)" fill="url(#ivne3)"/>
<ellipse cx="680.5" cy="318.2" rx="16.8" ry="30.2" transform="rotate(25 680.5 318.2)" fill="url(#ivne4)"/>
<ellipse cx="657.0" cy="264.4" rx="6.7" ry="12.3" transform="rotate(0 657.0 264.4)" fill="url(#ivne5)"/>
<ellipse cx="710.8" cy="276.2" rx="14.0" ry="12.3" transform="rotate(0 710.8 276.2)" fill="url(#ivne6)"/>
<ellipse cx="732.6" cy="264.4" rx="8.4" ry="5.6" transform="rotate(0 732.6 264.4)" fill="url(#ivne7)"/>
<ellipse cx="751.0" cy="264.4" rx="6.7" ry="5.6" transform="rotate(0 751.0 264.4)" fill="url(#ivne8)"/>
<ellipse cx="762.8" cy="291.3" rx="9.5" ry="10.4" transform="rotate(0 762.8 291.3)" fill="url(#ivne9)"/>
<ellipse cx="736.0" cy="341.7" rx="9.5" ry="8.4" transform="rotate(0 736.0 341.7)" fill="url(#ivne10)"/>
<ellipse cx="665.4" cy="340.0" rx="7.3" ry="9.5" transform="rotate(0 665.4 340.0)" fill="url(#ivne11)"/>
<ellipse cx="700.7" cy="294.7" rx="5.6" ry="9.5" transform="rotate(0 700.7 294.7)" fill="url(#ivne12)"/>
<ellipse cx="762.8" cy="344.2" rx="5.6" ry="3.9" transform="rotate(0 762.8 344.2)" fill="url(#ivne13)"/>
<ellipse cx="731.0" cy="299.7" rx="3.9" ry="7.3" transform="rotate(0 731.0 299.7)" fill="url(#ivne14)"/><g><ellipse cx="680.5" cy="318.2" rx="16.8" ry="30.2" transform="rotate(172 680.5 318.2)" fill="none" stroke="#b7b7b7" stroke-width="1.13" stroke-opacity="0.53" stroke-dasharray="33.8 10.2"/>
<ellipse cx="657.0" cy="264.4" rx="6.7" ry="12.3" transform="rotate(263 657.0 264.4)" fill="none" stroke="#aaaaaa" stroke-width="1.48" stroke-opacity="0.83" stroke-dasharray="18.9 7.1"/>
<ellipse cx="710.8" cy="276.2" rx="14.0" ry="12.3" transform="rotate(244 710.8 276.2)" fill="none" stroke="#c1c1c1" stroke-width="1.29" stroke-opacity="0.82" stroke-dasharray="41.2 9.5"/>
<ellipse cx="732.6" cy="264.4" rx="8.4" ry="5.6" transform="rotate(93 732.6 264.4)" fill="none" stroke="#c3c3c3" stroke-width="0.77" stroke-opacity="0.61" stroke-dasharray="18.4 10.4"/>
<ellipse cx="751.0" cy="264.4" rx="6.7" ry="5.6" transform="rotate(151 751.0 264.4)" fill="none" stroke="#a1a1a1" stroke-width="1.09" stroke-opacity="0.80" stroke-dasharray="19.8 5.8"/>
<ellipse cx="762.8" cy="291.3" rx="9.5" ry="10.4" transform="rotate(245 762.8 291.3)" fill="none" stroke="#aeaeae" stroke-width="1.33" stroke-opacity="0.87" stroke-dasharray="21.5 15.0"/>
<ellipse cx="736.0" cy="341.7" rx="9.5" ry="8.4" transform="rotate(59 736.0 341.7)" fill="none" stroke="#c1c1c1" stroke-width="1.41" stroke-opacity="0.84" stroke-dasharray="24.5 5.3"/>
<ellipse cx="665.4" cy="340.0" rx="7.3" ry="9.5" transform="rotate(208 665.4 340.0)" fill="none" stroke="#a6a6a6" stroke-width="1.33" stroke-opacity="0.86" stroke-dasharray="19.4 8.9"/>
<ellipse cx="700.7" cy="294.7" rx="5.6" ry="9.5" transform="rotate(326 700.7 294.7)" fill="none" stroke="#ababab" stroke-width="0.83" stroke-opacity="0.53" stroke-dasharray="17.0 5.8"/>
<ellipse cx="762.8" cy="344.2" rx="5.6" ry="3.9" transform="rotate(39 762.8 344.2)" fill="none" stroke="#aaaaaa" stroke-width="1.31" stroke-opacity="0.56" stroke-dasharray="16.2 8.3"/>
<ellipse cx="731.0" cy="299.7" rx="3.9" ry="7.3" transform="rotate(242 731.0 299.7)" fill="none" stroke="#a1a1a1" stroke-width="0.76" stroke-opacity="0.71" stroke-dasharray="12.2 2.7"/></g>
</g>
</g></g>
<rect x="652.0" y="251.0" width="132.9" height="99.7" fill="none" stroke="#ee0a0a" stroke-width="1.6"/>
<text x="549.3" y="269.4" font-family='"Liberation Serif","DejaVu Serif",serif' font-size="19.5" font-weight="bold" text-anchor="start" fill="#fff" stroke="#fff" stroke-width="0.15">(iv)</text>
<text x="547.0" y="422.7" font-family='"Liberation Serif","DejaVu Serif",serif' font-size="17.3" font-weight="normal" text-anchor="start" fill="#fff" stroke="#fff" stroke-width="0.15" textLength="72.5" lengthAdjust="spacingAndGlyphs">PANI 8%</text>
<rect x="733.90" y="427.10" width="40.20" height="2.20" fill="#fff"/>
<text x="753.85" y="422.4" font-family='"Liberation Serif","DejaVu Serif",serif' font-size="9.6" font-weight="bold" text-anchor="middle" fill="#fff" stroke="#fff" stroke-width="0.15" textLength="29.2" lengthAdjust="spacingAndGlyphs">100μm</text>
<rect x="752.10" y="339.00" width="25.90" height="2.40" fill="#ee8530"/>
<text x="763.8" y="335.8" font-family='"Liberation Serif","DejaVu Serif",serif' font-size="10.7" font-weight="bold" text-anchor="middle" fill="#ee8530" stroke="#ee8530" stroke-width="0.15" textLength="29.6" lengthAdjust="spacingAndGlyphs">200μm</text>
<text x="542.2" y="442.9" font-family='"Liberation Sans","DejaVu Sans",sans-serif' font-size="7.2" font-weight="normal" text-anchor="start" fill="#ececec" stroke="#ececec" stroke-width="0.15" textLength="116.7" lengthAdjust="spacingAndGlyphs">SU8010 10.0kV 10.0mm x100 LM(L)</text>
<text x="753.9" y="442.9" font-family='"Liberation Sans","DejaVu Sans",sans-serif' font-size="7.2" font-weight="normal" text-anchor="start" fill="#ececec" stroke="#ececec" stroke-width="0.15" textLength="20.1" lengthAdjust="spacingAndGlyphs">500um</text>
<line x1="683.70" y1="433.20" x2="683.70" y2="437.00" stroke="#e4e4e4" stroke-width="0.9" stroke-linecap="butt"/>
<line x1="693.50" y1="434.20" x2="693.50" y2="436.60" stroke="#e4e4e4" stroke-width="0.9" stroke-linecap="butt"/>
<line x1="703.30" y1="434.20" x2="703.30" y2="436.60" stroke="#e4e4e4" stroke-width="0.9" stroke-linecap="butt"/>
<line x1="713.10" y1="434.20" x2="713.10" y2="436.60" stroke="#e4e4e4" stroke-width="0.9" stroke-linecap="butt"/>
<line x1="722.90" y1="434.20" x2="722.90" y2="436.60" stroke="#e4e4e4" stroke-width="0.9" stroke-linecap="butt"/>
<line x1="732.70" y1="433.20" x2="732.70" y2="437.00" stroke="#e4e4e4" stroke-width="0.9" stroke-linecap="butt"/>
<line x1="742.50" y1="434.20" x2="742.50" y2="436.60" stroke="#e4e4e4" stroke-width="0.9" stroke-linecap="butt"/>
<line x1="752.30" y1="434.20" x2="752.30" y2="436.60" stroke="#e4e4e4" stroke-width="0.9" stroke-linecap="butt"/>
<line x1="762.10" y1="434.20" x2="762.10" y2="436.60" stroke="#e4e4e4" stroke-width="0.9" stroke-linecap="butt"/>
<line x1="771.90" y1="434.20" x2="771.90" y2="436.60" stroke="#e4e4e4" stroke-width="0.9" stroke-linecap="butt"/>
<line x1="781.70" y1="433.20" x2="781.70" y2="437.00" stroke="#e4e4e4" stroke-width="0.9" stroke-linecap="butt"/>
</g>
</svg>
</body></html>
